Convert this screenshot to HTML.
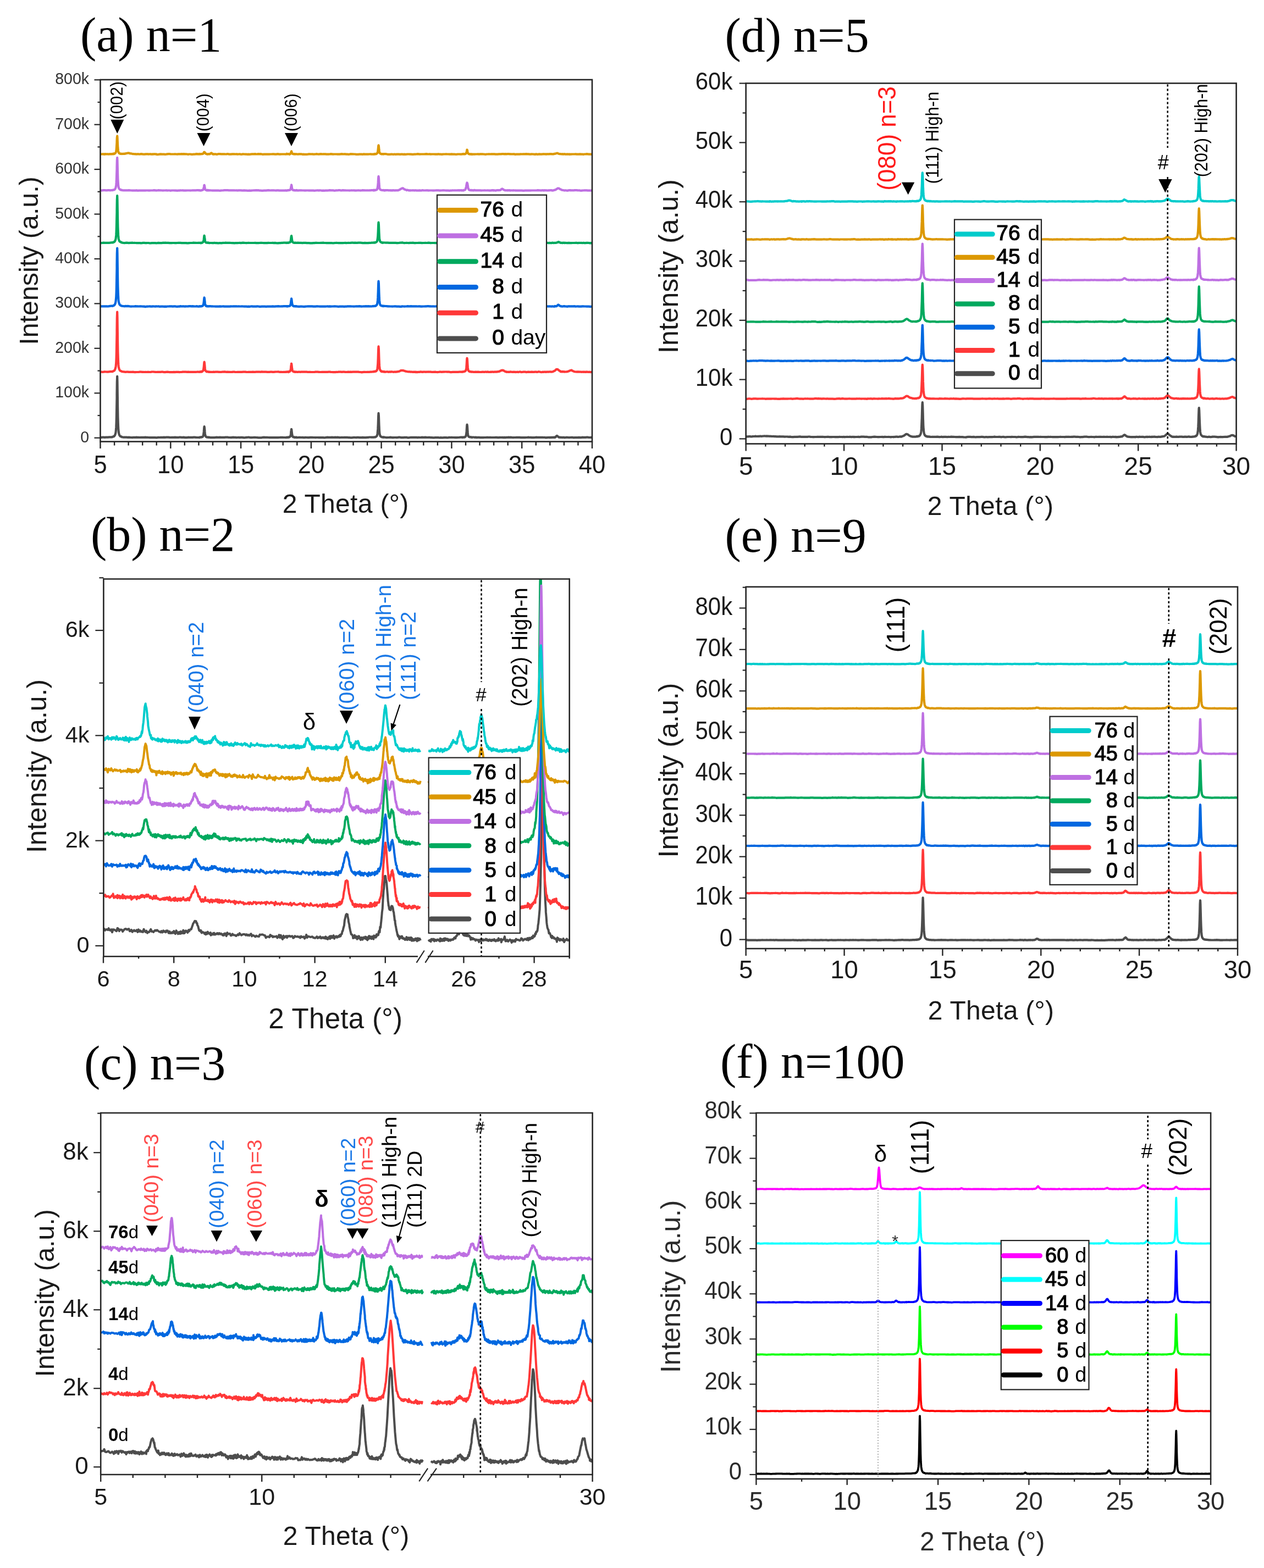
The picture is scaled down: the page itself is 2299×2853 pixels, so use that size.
<!DOCTYPE html>
<html><head><meta charset="utf-8"><title>XRD</title>
<style>html,body{margin:0;padding:0;background:#fff;}svg{display:block;}</style>
</head><body>
<svg xmlns="http://www.w3.org/2000/svg" width="2299" height="2853" viewBox="0 0 2299 2853" font-family="'Liberation Sans', Arial, sans-serif">
<rect width="2299" height="2853" fill="#fff"/>
<clipPath id="ca"><rect x="182.5" y="145" width="894.5" height="658.5"/></clipPath>
<text x="146" y="93" font-size="88" font-family="'Liberation Serif', 'Times New Roman', serif">(a) n=1</text>
<path d="M182.5 795.8l2 0 2-.1 2 0 2 .2 2-.3 2 0 2 0 2-.2 2 0 2-.1 1.1 .2 .3-.2 .3-.1 .3 0 0-.3 .4-.1 .3 0 .3-.1 .3-.3 .3-.1 .4-.3 .3 .2 .3 0 .3 0 .3-.5 .4-.5 .3-.4 .1 0 .2-.4 .3-.5 .3-.8 .4-1.1 .3-.7 .3-1.7 .2-.8 .1-1.2 .3-3.1 .4-5.1 .3-7.7 .3-11.8 .3-17.3 .3-16.7 0-5.9 .3-22.9 .4-10.2 .3 10.3 .3 22.5 .3 22.7 .3 17.4 .4 11.9 .3 7.8 .3 4.8 .3 3.1 .3 2.2 .4 1.4 0 .5 .3 1 .3 .9 .3 .5 .3 .4 .4 .5 .3 .4 .1 .3 .2 .1 .3 .3 .3 .1 .4 .2 .3 0 .3 0 .2 .3 .1-.1 .3 .1 .4 .3 .3 .4 .3-.1 .3 0 .3 .1 2 .4 2 .1 2-.1 2 0 2 .3 2-.2 2 .1 2 .2 2 .1 2-.2 2 0 2 0 2-.2 2 .2 2-.1 2 .2 2-.2 2 0 2 0 2 .1 2-.3 2 .3 2 0 2 .1 1.9 .2 2-.1 2 0 2 0 2 0 2 .1 2 .1 2-.2 2-.2 2 .1 2-.2 2 .1 2 0 2-.3 2 .2 2-.1 2 0 2-.1 2 .2 2 .2 2-.2 2 0 2 0 2-.1 2 .2 2-.1 2 .2 2-.3 2-.1 2 .3 1.9 0 2-.3 2 .5 2 .1 2-.1 2-.4 2 .2 2 0 2 0 2 0 2-.3 2 0 2 .2 2 .2 2 0 1.8 0 .2-.1 .2 0 .3 .3 .3-.2 .3-.3 .3 .1 .4-.1 .2-.2 .1-.1 .3 .3 .3-.1 .3 0 .4-.2 .3 .3 .3-.2 .3-.1 .3-.3 .4-.1 .3 .2 .3-.2 .3 0 .1 0 .2-.1 .3-.3 .4-.5 .3-.4 .3-.9 .3-1.7 .2-.9 .1-.9 .4-3.4 .3-4 .3-4.1 .3-1.7 .3 1.7 .3 3.2 .1 .9 .3 4.1 .3 3 .3 2.2 .3 1.4 .4 .7 .3 .7 .3 .3 .3 .5 .3-.2 .4 .6 .3 .1 .3 .3 .1 0 .2 0 .3-.1 .4 0 .3 .2 .3 0 .3-.2 .2 .1 .1 .1 .4 .1 .3 0 .3 .1 .3-.4 .3 .2 .3 .3 0 0 .4-.1 .3-.2 .3 0 1 .4 2-.1 2 .1 2-.1 2 .1 1.9-.2 2-.2 2 .1 2 .1 2-.3 2 .2 2 .1 2 0 2 0 2-.2 2 0 2 0 2 .3 2 0 2 .1 2-.3 2-.1 2 .2 2 0 2 .2 2-.1 2-.1 2 .2 2-.2 2 0 2 .2 2 .2 2-.2 2-.3 2 0 1.9-.3 2 .4 2 .3 2 0 2-.2 2-.2 2 0 2 .2 2 .1 2 .2 2 .1 2-.1 2 0 2-.5 2-.1 2 .2 2-.1 2 .1 2 .1 2 .1 2 0 2 0 2-.1 2 .1 2 .1 2-.2 2 .1 2 0 2-.1 2-.1 1.9-.1 2 0 2 .2 2 0 2 .1 .6-.1 .3-.2 .3 .1 .4-.3 .3 .2 .1 .3 .2-.3 .3-.1 .3-.2 .3 .1 .4 0 .3 .1 .2 .1 .1-.1 .3 .2 .3 0 .4-.2 .3 0 .3-.3 .3-.3 .3-.1 .4 .3 .3-.3 .3-.3 .3-.2 .3-.4 .1 0 .3-.3 .3-1.2 .3-1.8 .3-2.4 .3-3.1 .4-3.1 .1-1 .2-.3 .3 1.6 .3 3.1 .3 3 .4 2.4 .3 1.4 .2 1.1 .1 .2 .3 .9 .3 .2 .4 0 .3 .5 .3 0 .3 0 .3-.2 .3-.1 .4 .4 .3 .2 .3 0 .3 .3 .1-.1 .2 .1 .4-.2 .3-.1 .3-.1 .3 .3 .3 0 .2 0 .2 .1 .3 0 .3 0 .3-.4 .3 .3 .4 .2 .2 .1 2-.1 2-.1 2-.1 2 .2 2-.1 2 .2 2 0 2-.2 2 .1 2 .2 2-.1 2-.3 2 .1 2 0 1.9 .1 2 0 2 .1 2-.1 2 0 2 .2 2 0 2-.1 2 0 2 .1 2 .1 2-.1 2-.3 2-.2 2 .1 2 .1 2-.1 2-.1 2 .1 2 0 2-.1 2 .1 2-.1 2 .2 2 .2 2-.1 2-.2 2 .2 2-.1 2 0 2 0 1.9-.1 2 .4 2 0 2 .1 2 0 2-.1 2-.4 2 .2 2 .1 2-.3 2 0 2 .3 2 0 2 .1 2-.3 2 .2 2-.1 2 .1 2-.3 2 0 2-.3 2 0 2 .1 2 0 1.2-.1 .4 0 .3 .1 .1 0 .2-.2 .3 .1 .3 .2 .4-.2 .3-.2 .3 .2 .2 0 .1-.4 .3 0 .4-.1 .3 .4 .3-.3 .3-.4 .3 .1 0 .1 .4-.5 .3-.2 .3-.3 .3-.1 .3-.4 .4-.8 .3-.8 .3-1.2 .3-2.1 .3-3.2 .4-4.4 .3-6.8 .1-1.8 .2-7 .3-9 .3-4.4 .4 4.4 .3 8.7 .3 8.8 .2 3.9 .1 3.1 .3 5.2 .3 2.8 .4 1.6 .3 1.3 .3 1 .2 .3 .1 .4 .3 .5 .4 0 .3 .4 .3 .3 .3 .2 .3 .1 .4 .2 .3 0 .3 .2 .3-.1 .3 .3 .4 .1 0 0 .3 0 .3 0 .3-.1 .3-.1 .4 .2 .3-.3 .1 .4 .2 .1 .3-.4 1.5 .3 2 .3 2 .2 2-.2 2 0 2-.3 2 .2 2 .2 2 0 2-.1 2 0 2 .1 2-.2 2-.3 2 .1 2 .4 2 .1 2-.1 2-.3 2 .1 2-.1 2 .6 2-.1 2-.3 2-.2 1.9 .1 2-.1 2 0 2 0 2 .1 2 .2 2-.2 2 .1 2 0 2-.3 2 .1 2 .1 2-.2 2 .1 2 .2 2-.1 2 0 2 .2 2 .1 2 .1 2 0 2-.1 2-.1 2-.1 2 .2 2 .3 2-.3 2 .1 2 0 2-.1 1.9 0 2-.1 2 .2 2-.1 2-.3 2 .1 2-.2 2 .2 2 0 2 .1 2 .1 2-.1 2-.1 2-.2 2-.3 2 .1 .6-.2 .3 .3 .3-.1 .3 .3 .3-.1 .2-.2 .2 0 .3 0 .3 .2 .3 0 .3-.1 .4-.2 .2 0 .1-.1 .3 .2 .3 0 .3-.3 .3 0 .4 0 .3 .3 .3-.6 .3-.3 .3 .1 .4-.4 .3-.4 .3-.6 .1-.4 .2-.7 .3-1.6 .4-2.6 .3-3.4 .3-4.8 .3-5 .2-1.5 .1-.8 .4 2.3 .3 4.4 .3 4.9 .3 3.8 .3 2.3 .3 1.6 .1 .3 .3 1 .3 .9 .3 .4 .3 .3 .4 .1 .3 0 .3 .1 .3 .2 .3 0 .4 .2 .3 0 .3-.2 .1 0 .2 .2 .3 .1 .4-.2 .3 .3 .3-.1 .3 .1 .2-.2 .1-.1 .3 .2 .4 .3 .3 .2 .3-.2 .3-.1 .3-.2 2 0 2 .3 2-.2 2 .5 1.9-.3 2 0 2 .3 2 .1 2-.2 2 .1 2-.1 2 0 2-.1 2-.1 2 .2 2-.2 2 .2 2 0 2 0 2 0 2-.1 2 0 2 .3 2-.1 2-.2 2 .1 2-.1 2 .2 2-.2 2 .2 2-.3 2 0 2-.2 2 .2 1.9-.1 2 .3 2 .1 2-.1 2 0 2-.1 2-.1 2 .1 2 0 2 .3 2 0 2-.1 2 0 2 0 2-.1 2-.1 2-.2 2 .3 2-.1 2 .2 2 0 2 .1 2-.2 2-.3 2 .1 2 0 2 0 2 0 2 0 2 .1 1.9 .1 2-.1 2 .6 .8-.3 .7 0 .5 0 .1-.1 .7-.1 .6 .1 .6-.2 .7 .1 .6 0 .7 .1 0-.2 .6 0 .6 .3 .7-.1 .1-.1 .5-.1 .6 .1 .7-.1 .2 .2 .4-.2 .7 0 .6 0 .3 0 .3-.1 .7-.1 .6 0 .4 .2 .3 0 .6 .2 .6-.4 .5-.2 .2 .4 .6-.2 .7-.4 .5-.5 .1-.5 .6-.7 .7-.6 .6-.1 .6 .5 .7 .5 .6 .4 .1 .2 .6 .7 .6 .4 .6 .2 .2-.1 .5-.1 .6 .1 .7 .1 .2-.1 .4 .3 .6 0 .7-.2 .3 .2 .3-.1 .7 .2 .6-.2 .4-.1 .2 .1 .7 .2 .6-.3 .5 0 .1 .2 .7-.1 .6 .2 .6 .2 .1 0 .6-.3 .6 0 .7 0 .6-.1 .7 0 .6 .1 .1-.2 .5 0 .7 0 .8 .2 2 .2 2-.2 2-.1 2 0 2 .4 2-.1 1.9-.1 2 0 2 0 2-.3 2 .3 2 0 2-.4 2 .1 2 0 2 .1 2-.2 2 0 2 .3 2 0 2-.1 2 0" fill="none" stroke="#4d4d4d" stroke-width="4.2" stroke-linejoin="round" clip-path="url(#ca)"/>
<path d="M182.5 676.5l2 .2 2 .1 2-.1 2-.3 2 .1 2 .1 2 .1 2-.3 2-.3 2 0 1.1 0 .3 .1 .3 0 .3-.3 0-.1 .4 .3 .3-.3 .3-.3 .3-.3 .3 0 .4-.1 .3-.2 .3-.1 .3-.2 .3-.2 .4-.2 .3-.4 .1-.4 .2-.2 .3-.7 .3-.6 .4-1 .3-1 .3-1.5 .2-.8 .1-.6 .3-3.3 .4-4.7 .3-7.9 .3-11.8 .3-16.9 .3-16.4 0-5.8 .3-22.2 .4-10.3 .3 10.3 .3 22.1 .3 22.4 .3 17 .4 11.8 .3 7.5 .3 4.9 .3 2.8 .3 2.2 .4 1.4 0 .5 .3 .7 .3 .8 .3 .5 .3 .7 .4 .5 .3 .5 .1 0 .2 .2 .3 .2 .3 .2 .4 .2 .3 .1 .3 .1 .2-.1 .1 .1 .3 .3 .4 .3 .3 .1 .3 .1 .3 0 .3 .1 2 .2 2 .2 2 .2 2-.1 2-.1 2 .3 2-.1 2 .1 2 0 2-.2 2 .4 2 .1 2-.2 2 0 2-.1 2-.2 2 0 2 .1 2 .1 2 .1 2-.1 2 .1 2-.2 2 .1 1.9 .1 2-.1 2-.4 2 0 2 .2 2 .1 2 .2 2-.2 2 0 2 .1 2-.1 2-.3 2 .2 2 .4 2 0 2-.3 2-.1 2 .1 2 .4 2-.1 2-.1 2 .1 2-.2 2 .2 2-.2 2-.1 2 .1 2 .2 2-.1 2 0 1.9-.4 2 0 2 0 2 0 2 .2 2-.1 2 .2 2-.1 2 0 2 0 2 0 2 .1 2-.1 2-.1 2-.2 1.8 .3 .2 .1 .2-.1 .3-.2 .3-.2 .3 .2 .3 0 .4 .3 .2-.1 .1-.2 .3-.4 .3 .4 .3-.1 .4-.2 .3 .1 .3-.3 .3 .6 .3-.1 .4-.1 .3-.3 .3-.5 .3 0 .1-.2 .2 .1 .3-.5 .4-.3 .3-.2 .3-.5 .3-1.6 .2-1.1 .1-.8 .4-2.7 .3-3.8 .3-3.8 .3-1.7 .3 1.6 .3 2.7 .1 1.3 .3 3.7 .3 3.1 .3 1.7 .3 1.2 .4 .6 .3 .5 .3 .2 .3 .1 .3 .5 .4 .4 .3 .1 .3 .2 .1-.1 .2-.1 .3 0 .4 0 .3-.1 .3-.1 .3 0 .2 .2 .1 .2 .4-.1 .3 .3 .3 0 .3 0 .3 .2 .3-.3 0-.3 .4 .3 .3-.1 .3 .3 1 0 2 .1 2 .1 2-.4 2 .2 1.9-.1 2-.1 2 0 2 .2 2 .1 2 .1 2-.3 2-.1 2-.2 2 .2 2 .2 2-.1 2 .1 2 0 2 .2 2-.2 2-.2 2 0 2 .4 2 0 2-.1 2 0 2 0 2 0 2-.1 2-.1 2-.1 2 0 2 .3 2 .1 1.9-.1 2-.1 2 0 2 .1 2-.2 2 .1 2 0 2-.1 2-.1 2 0 2-.1 2 .3 2-.4 2 .2 2 0 2 0 2 .1 2 .2 2 0 2-.1 2-.1 2 0 2 .2 2-.1 2-.2 2-.1 2 0 2-.1 2 .4 2 0 1.9 0 2 .2 2-.2 2 0 2 .1 .6-.4 .3-.1 .3 0 .4 .3 .3 .1 .1-.2 .2 .2 .3-.2 .3 0 .3-.1 .4 0 .3-.3 .2 0 .1 0 .3 .2 .3 .3 .4 .3 .3-.4 .3-.4 .3-.1 .3-.2 .4 .3 .3-.1 .3-.5 .3-.1 .3-.4 .1-.4 .3-.6 .3-.9 .3-1.6 .3-2.3 .3-3.1 .4-3 .1-1.1 .2-.5 .3 1.7 .3 3.1 .3 3 .4 2.1 .3 1.7 .2 1 .1 0 .3 .9 .3 .3 .4 .3 .3 .2 .3 .2 .3 .2 .3 0 .3 .3 .4-.2 .3-.1 .3 .2 .3-.1 .1 0 .2 .2 .4 .2 .3-.4 .3 .2 .3 .3 .3 0 .2-.1 .2-.2 .3 0 .3-.1 .3 0 .3 .1 .4 0 .2 .2 2 0 2-.3 2 .3 2-.2 2 0 2 .1 2 0 2-.1 2 0 2 .4 2-.2 2 0 2 .2 2 0 1.9 0 2 0 2-.4 2 0 2 .1 2 .1 2 .2 2 0 2-.2 2 0 2 0 2 0 2 .1 2-.1 2-.1 2-.1 2 .3 2 .1 2 .1 2 0 2 0 2-.2 2 .1 2-.3 2 0 2-.1 2 .2 2-.1 2 0 2 .1 2 .2 1.9-.2 2-.2 2 .2 2-.2 2 .2 2-.1 2 0 2-.2 2 .2 2 0 2-.1 2 .4 2 0 2 .4 2-.3 2-.2 2-.1 2 .2 2-.1 2-.1 2 0 2-.2 2 0 2-.2 1.2-.2 .4 .2 .3 .1 .1 0 .2-.2 .3-.3 .3 .2 .4 0 .3-.3 .3 .1 .2-.2 .1 .1 .3 .1 .4 0 .1 0 .2-.1 .3-.3 .3-.1 .3-.1 0-.1 .4 0 .2-.1 .1 .1 .3-.8 .3-.2 .3-.4 .4-.3 .3-.9 .3-1.6 .3-1.9 .3-3.3 .4-4.8 .3-7.4 .1-2.1 0-.8 .2-6.4 .3-9.4 .3-4.6 .4 4.6 .3 9.5 .2 6.4 .1 2.7 .2 4.1 .1 3.4 .3 4.9 .3 3.2 .4 2.2 .3 1 .3 .8 .2 .2 .1 .2 .3 .5 .4 .4 .3 .3 .1 .5 .2 0 .3 .2 .3 .4 .4 0 .3-.2 .2 .2 .1-.1 .3 .4 .3-.2 .4 0 0-.2 .3 .3 .3-.1 .3 .2 .3 0 .4 0 .3 .2 .1 .2 .2-.1 .1-.2 .2-.1 1.5 .2 0 .4 1.7-.1 .3-.2 1.4 0 .6-.1 1.1 0 .9 .1 .8 .3 1.2-.1 .5-.1 1.5-.2 .2 .2 1.7 0 .1-.2 1.6 0 .4 .1 1.3 .2 .7 .1 1-.1 1-.1 .7 0 1.3-.1 .5 .3 1.5-.4 .2-.1 1.7 0 .1-.1 1.6-.2 .4-.2 1.3-.4 .7-.4 1-.6 1-.4 .7 .2 1.3-.2 .4 0 1.6 .3 .1-.1 1.7 .7 .2-.1 1.5 .5 .5 .3 1.2 .2 .8 0 .9 .2 1.1 .2 .6 .2 1.4 0 .3-.1 1.7 .1 0 .3 1.7 0 .3 0 1.4 0 .5 0 1.2 .2 .8 .1 .9-.4 1.1 .3 .6-.1 1.4-.1 .3 .4 1.7-.2 1.7 .2 .3 0 1.4-.3 .6 0 1.1 .1 .9-.1 .9-.4 1.1 .2 .6 0 1.4-.1 .3 .4 1.7-.1 0-.1 1.7 0 .3-.1 1.4 0 .6 .1 1.1 .1 .9-.1 .8 0 1.2-.2 .5 .2 1.5-.1 .2 .1 1.7-.1 .1 0 1.6 .1 .4-.1 2 .4 2-.1 2-.1 2-.1 2 .3 2 .1 2-.1 2-.3 2 0 2 .1 2-.1 2-.1 1.9-.1 2 0 2 .2 2-.1 2 .1 2 .5 2 0 2-.4 2 0 2 0 2 0 2 .1 2-.1 2-.1 2-.1 2 0 .6 .2 .3 0 .3-.3 .3-.1 .3 0 .2 .2 .2 0 .3 .1 .3-.2 .3-.3 .3 .2 .4 0 .2 0 .1-.2 .3 0 .3-.1 .3-.1 .3 0 .4 0 .3-.3 .3-.3 .3-.4 .3-.1 .4 0 .3-.5 .3-1 .1-.2 .2-.6 .3-1.5 .4-2.6 .3-4 .3-5.2 .3-5.3 .2-1.7 .1-.6 .4 2.3 .3 5.1 .3 5.1 .3 4 .3 2.9 .3 1.4 .1 .3 .3 1 .3 .4 .3 .6 .3 .5 .4 .1 .3 .4 .3 .1 .3 .1 .3 0 .4 0 .3 .4 .3-.2 .1 .2 .2-.1 .3 .1 .4-.1 .3 0 .3 .3 .3 .2 .2-.2 .1-.1 .3 .2 .4-.2 .3 .2 .3-.2 .3 .2 .3 0 2 .2 2 0 2-.3 2 .2 1.9-.2 2 .2 2 .2 1.8 0 .2-.2 1.1 .1 .9 0 .4-.3 1.2 0 .4 .3 .9-.1 1.1 0 .2-.1 1.3-.2 .5 0 .7 .2 1.3 .1 1.3-.1 .7-.3 .6 .4 1.3 .1 .1 .1 1.1 0 .9-.2 .4-.1 1.3 .1 .3 .2 1-.4 1 0 .2 0 1.3 .1 .5 .2 .8-.1 1.2-.3 .1 .1 1.3 0 .6-.2 .6 .2 1.3-.1 .1 .2 1.2-.3 .8 .1 .5-.3 1.2 0 .3-.3 1 0 1-.5 .3-.4 1.3-.5 .4-.1 .9-.5 1.1-.3 .1 .2 1.3 .2 .6-.2 .7 .5 1.3 .9 1.2 .6 .8 .4 .5-.1 1.3 .7 .2-.1 1.1 0 .9 .1 .4 .1 1.2-.1 .4-.2 .9 .2 1.1 0 .2-.3 1.3-.1 .4 .2 .8 .1 1.2 .1 .1 0 1.3 0 .6 .2 .7-.2 1.3-.1 0 .1 1.2 .1 .8 0 .5 .2 1.3-.3 .2 .2 1.1-.1 .9-.2 .3 0 1.3 .4 .4-.1 .9-.2 1.1-.4 .2 .1 1.3 0 .5 .2 .7 .4 1.3-.1 1.3-.1 .7-.2 .6-.1 1.4 0 2 0 2 .6 2-.3 2-.2 2 .2 2 0 2-.3 2 .3 2-.1 2-.2 1.6 .1 .4 .1 .8-.1 1.2 .2 .1 0 1.3-.2 .6-.3 .7-.2 1.3 .3 1.2 .3 .8 .1 .5 .1 1.3 .2 .2-.2 1.1 0 .9-.4 .3 .2 1.3 0 .3 0 1-.1 1-.2 .3 .1 1.3 .3 .4-.2 .8 .1 1.2-.2 .1 .1 1.3-.2 .6 .1 .7 0 1.3 0 0-.1 1.2-.1 .8 0 .5 .2 1.3 .1 .2-.2 1.1 0 .9-.1 .3-.1 1.3-.7 .4 0 .9-.6 1.1-.5 .2-.1 1.3-1 .5-1 .7-.3 1.3-.3 1.3 .2 .7 .8 .6 .4 1.2 1 .2 .1 1.1 .6 .9 .5 .4 .7 1.3 .2 .3 0 1-.1 1 .1 .2-.1 1.3 0 .5 .3 .8-.1 1.2 .2 .1-.2 1.2 .1 .7 0 .6 0 1.3-.2 .1-.1 1.2 0 .8-.3 .5-.2 1.2-.6 .3 0 1-.6 1-.4 .3 0 1.3-.4 .4-.2 .8 .4 1.2 .7 .1 .2 1.3 .4 .6 .4 .7 .3 1.3 .3 1.2 .3 .7 0 .6 0 1.3 .2 .1-.1 1.2-.2 .8 .1 .4 .1 1.3-.2 .3 0 1 .3 1 0 .3 0 1.3-.2 .4 .3 .8 .2 1.2-.2 .1-.1 1.3-.2 .6 .3 .7 0 1.2-.2 .1 .3 1.2 0 .8 0 .5-.3 1.3 .1 .2 .1 1.1-.2 .9 .2 .3 .2 1.3 0 .4-.2 .9-.1 1.1 .2 .2 .1 1.2 .1 .6 0 .7-.2 1.3-.1" fill="none" stroke="#ff3838" stroke-width="4.2" stroke-linejoin="round" clip-path="url(#ca)"/>
<path d="M182.5 557.2l2 .1 2 0 2 0 2 .1 2 0 2-.1 2 .2 2-.3 2-.3 2-.3 1.1-.1 .3 .1 .3 .1 .3 .1 0 .1 .4 0 .3-.2 .3-.1 .3-.1 .3-.4 .4 0 .3-.3 .3-.2 .3 .1 .3-.3 .4-.5 .3-.4 .1 .2 .2-.5 .3-.5 .3-.7 .4-.8 .3-1.1 .3-1.6 .2-1 .1-1 .3-3 .4-4.5 .3-7.1 .3-11.7 .3-16.6 .3-16.1 0-5.7 .3-21.5 .4-9.8 .3 9.8 .3 21.3 .3 21.9 .3 16.6 .4 11.4 .3 7.5 .3 4.5 .3 2.8 .3 2.2 .4 1.5 0 .1 .3 1 .3 .8 .3 .5 .3 .8 .4 .4 .3 .1 .1 .3 .2 .1 .3 .4 .3 0 .4 .4 .3 .2 .3 .2 .2 .1 .1 .1 .3 .1 .4-.1 .3-.1 .3 .3 .3 .1 .3 0 2 .2 2 .3 2-.4 2 .3 2-.3 2 .3 2 .3 2 .2 2-.2 2 0 2 0 2-.4 2 .3 2 0 2 .1 2-.2 2 .1 2 .1 2 .2 2-.1 2 .5 2-.4 2-.1 2-.1 1.9-.1 2 .3 2 0 2-.3 2 .1 2 .2 2-.3 2 .1 2-.1 2 .4 2-.1 2-.1 2-.1 2 .3 2-.2 2 .3 2-.4 2 0 2-.1 2 0 2 0 2 .2 2-.2 2-.1 2 .3 2 .2 2-.3 2 .1 2-.5 2 .4 1.9-.2 2 0 2 .4 2-.3 2 .1 2-.2 2-.2 2 0 2 .3 2-.2 2 .1 2 .2 2-.1 2-.2 2 .4 1.8-.1 .2 .1 .2-.2 .3 .2 .3-.3 .3-.3 .3 .1 .4 .1 .2 .1 .1-.1 .3 .1 .3 .2 .3-.2 .4-.3 .3 0 .3 .2 .3 .1 .3-.2 .4-.3 .3 0 .3 .1 .3-.3 .1 .2 .2-.2 .3-.2 .4-.4 .3-.3 .3-.7 .3-1.4 .2-.6 .1-1 .4-2.3 .3-3.3 .3-3.4 .3-1.5 .3 1.4 .3 2.3 .1 1 .3 3.4 .3 2.5 .3 1.7 .3 1 .4 .8 .3 .5 .3 .4 .3 .2 .3 .4 .4-.3 .3 .1 .3 .2 .1 .1 .2-.3 .3-.1 .4 .2 .3 .3 .3 .1 .3-.3 .2 .1 .1 .2 .4 0 .3-.2 .3 0 .3-.1 .3 .3 .3-.1 0 0 .4-.1 .3 .1 .3-.1 1 0 2 .1 2 .1 2 .1 2 0 1.9 .2 2-.1 2 0 2 0 2-.2 2 .2 2-.1 2-.2 2 .3 2 0 2-.1 2 .1 2 .1 2 0 2-.3 2 .1 2-.2 2 0 2 0 2 0 2 .2 2-.1 2 .1 2 0 2-.1 2 .1 2 .1 2 .1 2-.1 2 .2 1.9-.1 2 .1 2-.3 2-.2 2 .3 2-.1 2 .1 2 .1 2-.3 2 .1 2 .3 2 0 2-.1 2 0 2-.1 2 .1 2 .1 2-.2 2 0 2 0 2 .1 2 0 2-.3 2 .3 2 0 2-.3 2 0 2-.2 2 .1 2 .2 1.9-.2 2 0 2-.1 2 0 2 0 .6-.1 .3 .2 .3 0 .4-.1 .3 .2 .1-.1 .2 .2 .3-.3 .3 .3 .3-.2 .4-.1 .3 .1 .2-.2 .1-.1 .3 .1 .3 0 .4 .1 .3-.1 .3 0 .3-.1 .3 0 .4-.2 .3 0 .3-.1 .3-.7 .3-.6 .1 .3 .3-.5 .3-1 .3-1.5 .3-2.2 .3-2.5 .4-3.1 .1-1 .2-.4 .3 1.2 .3 2.8 .3 2.9 .4 2.2 .3 1.6 .2 .5 .1 .1 .3 1.1 .3 .3 .4 .4 .3 0 .3 .1 .3 .5 .3-.3 .3 0 .4 .2 .3 .1 .3-.2 .3 .1 .1 .2 .2-.2 .4 0 .3 .2 .3 .3 .3-.5 .3 0 .2 .2 .2-.1 .3-.1 .3 .1 .3 .2 .3-.2 .4 .3 .2 .1 2 0 2 .2 2-.2 2-.1 2 .2 2 .1 2 0 2-.2 2-.1 2-.2 2 0 2 0 2 0 2 .1 1.9 .2 2 .1 2-.1 2-.2 2 0 2 .1 2 .1 2 0 2 .1 2-.2 2 .1 2 .1 2-.2 2-.1 2 .2 2-.2 2 .2 2-.1 2 0 2-.1 2 0 2 .1 2 .2 2 .1 2-.1 2-.1 2 .1 2-.2 2 .3 2-.1 2 0 1.9-.3 2-.1 2 0 2 0 2 .2 2 0 2 .1 2-.1 2-.2 2 .1 2 0 2-.2 2 .1 2 .3 2-.1 2-.2 2 0 2-.1 2 .1 2-.1 2 .1 2 0 2 .2 2-.3 1.2-.4 .4 .4 .3 0 .1-.1 .2 .1 .3-.2 .3-.1 .4 .1 .3-.1 .3 0 .2 0 .1 0 .3-.2 .4 0 .3 .1 .3 0 .3-.4 .3 0 0-.4 .4-.3 .3 0 .3-.2 .3-.2 .3-.8 .4-.4 .3-1 .3-1.3 .3-1.9 .3-3 .4-5.2 .3-7.5 .1-2.1 .2-7.1 .3-9.1 .3-4.3 .4 4.2 .3 9.3 .3 9.3 .2 4.1 .1 3 .3 5 .3 3.2 .4 2.2 .3 1.3 .3 .8 .2 .6 .1 .4 .3 .4 .4 0 .3 .3 .3 .4 .3-.1 .3 .1 .4 .2 .3 .3 .3-.1 .3 .2 .3 .1 .4 .1 0-.2 .3-.2 .3-.1 .3 .4 .3 .3 .4 .1 .3-.3 .1-.1 .2 .1 .3 0 1.5 0 2 .1 2 .1 2 .2 2 .1 2 .1 2 0 2 .1 2-.1 2-.1 2 0 2 .2 2-.1 2 .1 2 .2 2 .1 2-.5 2 .1 2 .1 2-.1 2-.1 2-.2 2 .1 2 .1 2-.2 1.9 .1 2 0 2 .1 2-.1 2 .1 2 .1 2-.1 2-.1 2 .3 2 0 2-.1 2 0 2-.2 2 0 2-.3 2 .2 2 .2 2 0 2 .1 2-.1 2 .1 2 0 2-.2 2 .4 2-.2 2-.2 2 .1 2 .1 2 .1 2-.1 1.9 .1 2 .1 2 0 2-.3 2 .3 2-.1 2-.4 2 .3 2 0 2 0 2 .3 2-.2 2-.2 2-.1 2 .1 2 .1 .6 0 .3 0 .3-.4 .3 .2 .3 .2 .2-.1 .2-.1 .3-.1 .3 .1 .3-.2 .3 .4 .4-.1 .2-.1 .1-.2 .3 .2 .3 .1 .3-.2 .3 0 .4 0 .3 .1 .3-.1 .3 .1 .3-.5 .4 .3 .3-.4 .3-.5 .1-.2 .2-.2 .3-.5 .4-.8 .3-1.6 .3-2.3 .3-2.2 .2-.7 .1-.3 .4 1 .3 1.9 .3 2.3 .3 1.6 .3 1.1 .3 .5 .1-.1 .3 .6 .3 .2 .3 .5 .3 .2 .4-.2 .3-.1 .3 .1 .3 .1 .3 .2 .4 0 .3 .1 .3-.1 .1 0 .2 .2 .3-.1 .4 .3 .3-.2 .3 0 .3 0 .2 .1 .1 .2 .3-.3 .4-.1 .3-.1 .3 .3 .3 0 .3 0 2 0 2-.3 2 .2 2 0 1.9 0 2 0 2 0 2 0 2-.1 2 0 2 .2 2-.4 2 .3 2 .1 2-.2 2 .1 2 .1 2-.1 2 .2 2-.1 2 0 2-.3 2 .4 2 0 2-.1 2-.1 2 .3 2-.2 2 .2 2 0 2 0 2 0 2 0 2-.2 1.9-.3 2-.3 2 .4 2-.3 2 .4 2 .5 2-.5 2 .1 2 0 2-.1 2-.3 2 .1 2 .4 2-.1 2-.1 2 0 2 0 2 .1 2 .3 2-.3 2-.3 2 .2 2-.1 2 0 2-.2 2 .1 2 .1 2 .1 2-.1 2-.2 1.9 .2 2 .1 2-.3 2 .1 1.4 .2 .6 0 .7-.1 .6 .2 .7-.2 0-.1 .6 .2 .6 0 .7-.1 .1 .1 .5 0 .6 .1 .7 .1 .2-.1 .4-.1 .7-.1 .6 0 .3 0 .3 .1 .7 .1 .6 0 .4-.1 .3 0 .6 .2 .6 .1 .5-.3 .2-.5 .6 .3 .7-.3 .5 .1 .1 .1 .6 .1 .7-.3 .6-.4 .6-.7 .7-.5 .6-.8 .1 .1 .6-.1 .6 .4 .6 .4 .2 .2 .5 .5 .6 .5 .7 .2 .2 0 .4 .2 .6 .3 .7 .2 .3-.2 .3 .1 .7 .1 .6 .1 .4-.1 .2 0 .7-.1 .6 0 .5 0 .1-.2 .7 0 .6-.2 .6 .3 .1 .2 .6-.1 .6 .1 .7 0 .6 0 .7 .2 .6-.1 .1 0 .5-.1 .7 .3 .6-.4 .2 .1 .5-.2 .6 0 .6-.1 .3 .3 2-.2 2 0 2 0 2 0 2-.1 1.9 .4 2-.1 2-.1 2 .2 2 0 2 .1 2-.3 2 0 2 .1 2 0 2 .1 2 .1 2 0 2 .1 2 0 2-.3" fill="none" stroke="#0068e0" stroke-width="4.2" stroke-linejoin="round" clip-path="url(#ca)"/>
<path d="M182.5 441.9l2 .2 2-.2 2-.3 2 .2 2 .1 2 0 2 0 2-.1 2-.2 2-.2 1.1-.1 .3-.1 .3 .2 .3 0 0-.3 .4 .1 .3-.1 .3 .1 .3 .1 .3-.2 .4-.5 .3 0 .3-.4 .3 .2 .3-.4 .4-.2 .3 0 .1-.5 .2-.2 .3-.5 .3-.5 .4-.7 .3-.7 .3-1.2 .2-.7 .1-.8 .3-2.7 .4-3.4 .3-6.1 .3-9.5 .3-13.5 .3-12.6 0-4.5 .3-17.6 .4-8.1 .3 8.1 .3 17.7 .3 17.3 .3 13.6 .4 9.1 .3 5.9 .3 3.9 .3 2.5 .3 1.5 .4 1.2 0 .2 .3 .7 .3 .8 .3 .5 .3 .4 .4 .2 .3 .2 .1-.2 .2 .4 .3 .2 .3 .3 .4-.1 .3 .1 .3 .2 .2-.1 .1 .3 .3 .3 .4-.2 .3 .2 .3 .3 .3-.2 .3 .2 2 .4 2 .2 2-.3 2-.1 2 .1 2 .3 2-.3 2 0 2-.1 2 .3 2-.1 2 .1 2 .1 2 .1 2 0 2-.1 2 .2 2-.1 2-.3 2 0 2 .2 2 0 2-.1 2 0 1.9 .5 2-.2 2-.1 2 0 2-.1 2 .1 2 .1 2-.1 2-.3 2 .3 2 0 2-.1 2-.4 2 .1 2-.1 2 .2 2 0 2-.1 2 .3 2 0 2 .1 2-.2 2 0 2 .2 2 0 2-.2 2-.1 2 0 2 0 2 .2 1.9 0 2 .1 2 0 2-.1 2 .2 2 0 2-.2 2-.1 2 0 2-.1 2-.2 2 .2 2 0 2 .1 2-.1 1.8 0 .2 .1 .2-.1 .3 0 .3-.1 .3 0 .3 .2 .4 0 .2-.1 .1-.1 .3 .1 .3 .3 .3-.5 .4 .2 .3-.1 .3 .1 .3 .1 .3-.4 .4 .3 .3-.3 .3-.2 .3 0 .1 0 .2-.1 .3-.3 .4-.4 .3-.2 .3-.7 .3-.6 .2-.7 .1-.6 .4-2.3 .3-3 .3-2.8 .3-1 .3 1.2 .3 2.2 .1 .5 .3 2.6 .3 2.2 .3 1.4 .3 1.1 .4 .7 .3 .3 .3 0 .3 .1 .3 .6 .4-.1 .3 .1 .3 .1 .1-.1 .2 0 .3 0 .4 0 .3-.2 .3 .5 .3-.1 .2-.2 .1 .2 .4 .1 .3-.2 .3 0 .3 .3 .3 .1 .3 0 0 0 .4-.1 .3-.1 .3 .3 1-.2 2 0 2 .1 2 0 2-.3 1.9 .4 2-.1 2 .2 2 0 2-.3 2 .3 2-.2 2-.2 2 .1 2-.3 2 .2 2 0 2 0 2-.1 2 .2 2 .1 2 .1 2 .2 2-.2 2 0 2-.1 2-.1 2-.1 2 .2 2-.2 2-.2 2 .1 2 .2 2 .2 2-.2 1.9-.1 2 .1 2 0 2 0 2 0 2 0 2-.1 2 .2 2 0 2 .1 2-.2 2-.2 2 .1 2 .1 2 .2 2 0 2-.1 2 0 2-.2 2 .1 2 0 2 0 2-.2 2 .3 2-.2 2 .3 2 .1 2 .1 2-.3 2 0 1.9-.2 2 0 2-.2 2 0 2 0 .6 .3 .3 .1 .3-.1 .4-.1 .3-.2 .1-.1 .2-.1 .3 .1 .3 .2 .3-.1 .4 .1 .3-.2 .2 0 .1 0 .3 .2 .3-.1 .4 .1 .3-.2 .3-.2 .3-.3 .3 .1 .4-.1 .3 .1 .3-.1 .3-.5 .3-.1 .1-.1 .3-.9 .3-.9 .3-1.2 .3-2.2 .3-2.6 .4-2.4 .1-.8 .2-.3 .3 1.3 .3 2.4 .3 3.1 .4 1.9 .3 1.6 .2 .5 .1 .1 .3 .6 .3 .2 .4 .3 .3 .2 .3 .2 .3 .1 .3 0 .3 .1 .4 .2 .3-.1 .3 .1 .3 0 .1-.4 .2 0 .4 0 .3 0 .3 .1 .3-.1 .3 .2 .2 0 .2 .3 .3 0 .3-.2 .3 0 .3 .1 .4-.1 .2 0 2-.1 2 .1 2 .1 2 0 2 .2 2-.3 2 0 2 0 2 .3 2 .1 2 0 2 .1 2 .1 2-.1 1.9-.2 2 0 2-.2 2 0 2 .1 2 0 2 0 2-.1 2-.1 2-.1 2 .3 2 0 2 .1 2 0 2-.1 2 .1 2-.1 2 .2 2 .1 2-.1 2-.2 2-.1 2 .1 2 .2 2-.1 2-.1 2 .1 2 0 2-.1 2-.2 2 .3 1.9-.1 2-.1 2 .1 2-.2 2-.2 2 0 2 .2 2-.1 2 .2 2-.1 2-.2 2 .1 2 0 2 .1 2 .3 2 0 2-.2 2 .2 2-.1 2 .1 2-.3 2 .2 2-.3 2-.1 1.2 .1 .4-.2 .3-.1 .1 .1 .2 0 .3-.2 .3 .3 .4-.2 .3 0 .3 0 .2 0 .1 .2 .3-.5 .4 .1 .3 .1 .3-.1 .3-.1 .3-.3 0 .1 .4-.2 .3-.1 .3-.4 .3-.3 .3-.3 .4-.7 .3-.4 .3-1 .3-1.8 .3-2.5 .4-3.9 .3-5.9 .1-1.8 .2-5.7 .3-7.7 .3-3.6 .4 3.8 .3 7.8 .3 7.7 .2 3.3 .1 2.6 .3 3.6 .3 2.4 .4 1.8 .3 .9 .3 .7 .2 .4 .1 .2 .3 .1 .4 .4 .3 .3 .3-.1 .3 .5 .3 .2 .4-.1 .3 .4 .3 0 .3 .1 .3 .2 .4-.5 0 .1 .3 .2 .3 .2 .3-.1 .3 0 .4-.1 .3 0 .1-.1 .2-.2 .3 .1 1.5 .1 2 .1 2 .1 2 0 2 .2 2 0 2 0 2-.1 2 .1 2 0 2 0 2 .3 2-.1 2-.1 2-.3 2-.1 2-.2 2 .4 2 .3 2-.1 2-.1 2 .1 2 .1 2-.3 2 0 1.9 .1 2-.2 2 .4 2 .1 2-.2 2 0 2-.1 2 0 2 0 2 .2 2-.1 2 0 2-.1 2 .1 2-.1 2-.2 2 .1 2 .3 2-.1 2 0 2 0 2 .2 2 0 2-.3 2 .3 2-.1 2-.2 2 0 2 0 2 .2 1.9-.1 2-.1 2 .2 2 .2 2-.2 2 0 2 0 2-.1 2-.1 2 .2 2-.2 2-.3 2 .3 2 .2 2 .1 2-.3 .6 0 .3-.2 .3 .1 .3-.3 .3 .1 .2 .3 .2-.1 .3 .3 .3-.1 .3-.3 .3 .2 .4-.2 .2 .2 .1-.1 .3 0 .3 0 .3-.2 .3-.1 .4 .1 .3 .3 .3-.2 .3-.1 .3 0 .4 0 .3-.3 .3-.2 .1-.3 .2 .2 .3-.9 .4-.8 .3-1.3 .3-1.6 .3-1.7 .2-.6 .1 0 .4 .8 .3 1.6 .3 1.5 .3 1.3 .3 .8 .3 .5 .1 .2 .3 .4 .3-.1 .3 .2 .3 0 .4 .3 .3 0 .3 .1 .3 0 .3 .2 .4 .2 .3-.1 .3-.3 .1 .1 .2 .3 .3-.2 .4 0 .3 .4 .3 0 .3-.1 .2-.1 .1-.3 .3 .3 .4 .1 .3-.4 .3 .1 .3 0 .3 0 2-.1 2 .5 2-.3 2 .2 1.9 0 2-.1 2 0 2 .1 2-.2 2-.1 2 .2 2 .1 2 0 2-.3 2-.2 2 .4 2 .2 2-.1 2 0 2-.2 2 .1 2 .1 2 0 2-.2 2 .1 2-.1 2 0 2-.2 2-.2 2 0 2 .2 2 0 2 .2 2-.1 1.9 .1 2-.1 2 .3 2-.2 2 0 2 .2 2 .1 2-.3 2 .2 2-.2 2-.2 2 0 2 .3 2-.2 2 .1 2 .1 2-.1 2 .1 2 .3 2 0 2-.3 2 0 2-.1 2 0 2-.1 2 .1 2-.1 2-.1 2 .1 2 .1 1.9 .2 2 0 2-.2 2-.2 1.4 .2 .6 0 .7 .1 .6 .2 .7-.5 0 0 .6 .2 .6-.2 .7 .4 .1-.1 .5 0 .6-.1 .7 .1 .2 0 .4 0 .7-.3 .6-.2 .3 .2 .3 .2 .7-.1 .6 0 .4 .2 .3 0 .6-.2 .6 0 .5 0 .2 0 .6 0 .7 .1 .5-.1 .1 0 .6-.1 .7-.2 .6-.3 .6-.3 .7-.4 .6-.1 .1 .2 .6-.5 .6 0 .6 .5 .2 0 .5 .3 .6 .2 .7 .4 .2-.1 .4 .3 .6-.1 .7 .2 .3 .1 .3-.1 .7 0 .6 .3 .4-.3 .2 0 .7-.2 .6 .2 .5 0 .1-.1 .7-.1 .6 .3 .6 .1 .1-.2 .6 .2 .6-.2 .7-.1 .6 .2 .7 0 .6 .1 .1 .1 .5-.2 .7 .1 .6 0 .2-.3 .5 .2 .6 .2 .6-.3 .3 0 2 .2 2 .1 2-.2 2 0 2 0 1.9-.2 2 .1 2 .4 2-.4 2 .1 2-.2 2 .4 2-.4 2 .3 2 0 2-.2 2 0 2 .1 2 .3 2-.1 2 .1" fill="none" stroke="#00a95e" stroke-width="4.2" stroke-linejoin="round" clip-path="url(#ca)"/>
<path d="M182.5 346.6l2 .1 2-.3 2-.3 2 .1 2 .2 2 0 2-.3 2 0 2 .3 2-.4 1.1 .1 .3 0 .3 0 .3 0 0-.1 .4-.1 .3 .2 .3-.2 .3-.2 .3-.2 .4-.1 .3 .1 .3 .1 .3-.1 .3-.2 .4-.1 .3-.3 .1 0 .2-.3 .3-.2 .3-.5 .4-.7 .3-.7 .3-.7 .2-.5 .1-.7 .3-1.7 .4-2.4 .3-4.1 .3-6.3 .3-9.7 .3-8.9 0-3 .3-12.3 .4-5.4 .3 5.4 .3 12.2 .3 12.2 .3 9.3 .4 6.5 .3 4.2 .3 2.6 .3 1.6 .3 1.1 .4 .8 0 0 .3 .6 .3 .3 .3 .5 .3 .2 .4 .4 .3 .2 .1 .1 .2 0 .3 .2 .3 .4 .4-.3 .3 .3 .3 .1 .2 0 .1-.2 .3 .4 .4 .1 .3 .1 .3-.1 .3-.1 .3 .2 2 .2 2 0 2 0 2 .1 2-.1 2-.1 2 .1 2 .2 2 .1 2 0 2 .1 2-.1 2-.2 2 .4 2-.2 2 0 2 0 2 0 2 0 2 0 2 0 2-.1 2 0 2 .2 1.9 0 2-.2 2 0 2-.1 2-.2 2 .1 2 .3 2-.1 2-.3 2 .1 2 0 2 .2 2 .2 2-.2 2 0 2-.1 2 .2 2-.1 2 0 2 .3 2-.3 2 0 2 0 2 .1 2 0 2 .2 2-.1 2 0 2-.3 2 .1 1.9-.2 2 .3 2-.1 2 .2 2-.2 2 0 2 0 2 .1 2-.1 2-.1 2 0 2-.1 2 0 2-.1 2-.1 1.8 .4 .2-.1 .2-.2 .3 .3 .3 0 .3-.1 .3 .2 .4 .1 .2-.3 .1 .2 .3 0 .3 0 .3-.2 .4 .2 .3 0 .3-.5 .3 .2 .3 .1 .4-.3 .3 0 .3-.1 .3 0 .1-.2 .2 .1 .3 0 .4-.3 .3-.3 .3-.7 .3-.5 .2-.6 .1-.5 .4-1.7 .3-1.5 .3-2.2 .3-.8 .3 .8 .3 1.4 .1 .6 .3 2 .3 1.8 .3 .9 .3 .9 .4 .1 .3 .1 .3 .4 .3-.1 .3 .5 .4 0 .3 0 .3 .3 .1-.2 .2-.2 .3-.3 .4 0 .3 .2 .3-.1 .3 .3 .2 .2 .1 .1 .4-.3 .3 0 .3-.1 .3 .2 .3 .2 .3-.1 0 0 .4 .1 .3 .1 .3-.2 1-.1 2 .2 2 .1 2 0 2 0 1.9 0 2 0 2-.1 2 .2 2 .1 2-.2 2-.1 2-.1 2-.2 2 0 2-.1 2 .1 2 .2 2 0 2-.1 2 .1 2-.1 2 0 2 .2 2-.1 2 .2 2-.3 2 .1 2 0 2 .2 2 0 2-.2 2 .2 2 .1 2 .1 1.9 .1 2-.3 2 .3 2-.3 2-.1 2-.2 2 .1 2-.2 2 .2 2-.2 2 .4 2 .1 2 .1 2 0 2-.1 2 0 2-.1 2-.3 2-.1 2 .1 2 .2 2-.2 2 .1 2 0 2 .1 2 .1 2-.2 2-.1 2 .3 2 .1 1.9-.1 2 .1 2-.1 2 0 2-.2 .6 .1 .3 .2 .3 .1 .4 0 .3-.2 .1 0 .2-.1 .3-.1 .3 0 .3-.2 .4 .1 .3-.2 .2 .3 .1 .1 .3-.1 .3-.2 .4-.1 .3 0 .3-.2 .3 0 .3-.1 .4 .2 .3 .1 .3 0 .3-.6 .3-.4 .1 .2 .3-.3 .3-.6 .3-1.1 .3-1.6 .3-1.8 .4-2.1 .1-.8 .2-.5 .3 1 .3 2.2 .3 2 .4 1.6 .3 .9 .2 .7 .1-.1 .3 .5 .3 .4 .4 .4 .3-.1 .3 0 .3 0 .3 .1 .3 .1 .4 .1 .3 .1 .3-.1 .3 .1 .1-.3 .2 .1 .4 .4 .3-.3 .3 0 .3 .1 .3 .1 .2-.1 .2-.1 .3 .3 .3-.5 .3 .1 .3 0 .4-.2 .2 .4 2 .3 2-.3 2 0 2 0 2 .1 2 0 2 .1 2 0 2-.1 2 0 2 .2 2-.1 2 .1 2-.1 1.9 0 2 .2 2-.1 2-.2 2-.1 2 .2 2-.2 2 .1 2 .4 2-.2 2 .2 2-.2 2-.1 2 0 2-.2 2-.3 2 .2 2 0 2 .1 2 .4 2-.1 2-.3 2 .1 2-.3 2-.2 2 .6 2-.2 2-.3 2 .2 2 .1 2 .1 1.9 0 2 0 2 .1 2-.1 2-.1 2 .1 2-.1 2 .2 2 0 2-.1 2-.1 2 .1 2 .2 2-.2 2-.3 2 .2 2-.1 2 .2 2-.1 2 .1 2-.1 2-.1 2-.2 2 .1 1.2 .1 .4-.3 .3-.2 .1 .3 .2 .4 .3-.3 .3 0 .4-.2 .3-.1 .3 .3 .2-.3 .1 .1 .3-.1 .4 .1 .3 .2 .3-.1 .3-.2 .3 0 0-.1 .4-.4 .3 .2 .3-.3 .3-.1 .3 0 .4-.4 .3-.6 .3-.5 .3-1.5 .3-2 .4-2.9 .3-3.9 .1-1.2 .2-4.1 .3-4.9 .3-2.4 .4 2.3 .3 5.1 .3 5.3 .2 2.3 .1 1.7 .3 3.3 .3 1.9 .4 1 .3 .5 .3 .2 .2 .5 .1-.1 .3 .5 .4 .2 .3-.1 .3 .2 .3 .1 .3 .1 .4 .1 .3 .1 .3 0 .3 .2 .3 0 .4 0 0-.1 .3 0 .3 0 .3 0 .3 .1 .4 0 .3-.2 .1 .1 .2 0 .3 .1 .7 .4 .8 .1 .4-.6 1.3-.1 .3 .3 1-.1 1-.1 .3-.1 1.2 .2 .5 0 .8 .1 1.2 0 .1 .1 1.3-.1 .6-.1 .7 .2 1.2 .3 .1-.3 1.2 0 .8 .3 .5-.3 1.3-.2 .2 .2 1 .1 1-.1 .3 .2 1.3-.2 .4 0 .9-.1 1.1 0 .2 0 1.2 .1 .6-.1 .7 0 1.3-.5 1.3-.6 .7-.5 .5-.3 1.3-.8 .2-.1 1.1-.6 .9-.3 .4-.2 1.3 .2 .3 .5 .9 .5 1.1 1 .2 0 1.3 .4 .5 .1 .8 .3 1.2 .8 0-.4 1.3-.1 .7 .1 .6 .3 1.3 .4 .1 .1 1.2-.3 .8 .3 .4 .1 1.3-.3 .3 .1 1 0 .9-.1 .4 0 1.2-.1 .4 .1 .9 0 1.1 .1 .2 .1 1.3-.3 .5 .1 .8 0 1.2 .2 1.3-.1 .7 .1 .6 .1 1.3 0 .1 0 1.1-.3 .9 0 .4 .2 1.3 .1 .3 0 1-.1 1-.1 .3-.2 1.2-.2 .5 .2 2 .2 2 0 2-.1 2 0 2 .3 2-.2 2 0 2 0 2 .2 2-.1 2-.1 2-.1 2-.1 2 .1 2 .2 2 0 2-.1 2-.2 2 0 1.9 .2 2 .1 2 0 2 .1 2 .1 2-.1 2 0 2-.4 2 .2 2-.1 2 .1 2-.2 2 0 .8-.1 .5 .1 .5-.1 .2 .3 .3-.1 .6 0 .5-.1 .5 0 .1 0 .4-.1 .5 .2 .5-.2 .5-.1 .1 .1 .4 .4 .5 0 .6-.1 .5-.1 0 0 .5 0 .5 .2 .5 0 .5-.3 0-.3 .5-.2 .5 .1 .5-.2 .5-.1 .1 0 .5-.3 .5-.5 .5-1.2 .4-1.4 .1-.4 .5-2.5 .5-3 .5-2.7 .4-.8 .1-.3 .6 1.2 .5 2.6 .5 3.2 .3 1.6 .2 .9 .5 1.9 .5 .9 .5 .7 .3 0 .2 .2 .5 0 .6 .3 .5 .3 .2-.3 .3 0 .5 .1 .5 .1 .5 .2 .2-.5 .3 .1 .5 .3 .5 0 .6-.1 .1 .2 .4 0 .5 0 .5 0 .5 0 .1 .1 .4-.3 .5-.4 .5 .4 .5-.2 .1 .2 .5 .1 .5 .1 .5-.1 .5 .1 2 0 1.9 0 2 0 2-.1 2 .3 2-.1 2 0 2-.1 2 .1 2 0 2-.1 .6 .1 .8 0 .6 0 .3 .2 .8-.1 .9-.1 0 .1 .8-.1 .9 .1 .3 0 .5-.4 .9 .2 .6 0 .2-.2 .9-.1 .8 0 .1 .3 .8 .2 .9-.1 .3 0 .5-.2 .9 .4 .6 .1 .2-.1 .9-.3 .8 0 .1-.1 .8-.1 .8-.1 .4 0 .5 0 .8 .2 .7-.2 .2 .1 .8-.1 .9-.1 .1 .1 .7-.1 .9-.6 .4-.5 .4-.5 .9-.2 .7-.6 .1-.1 .9 .5 .8 .5 .2 .1 .7 .7 .8 .5 .5 .1 .4 .2 .8 .1 .8 .2 .1 0 .9 0 .8 0 .2 0 .7 0 .8-.1 .5 .2 .4-.4 .8 .2 .8 .2 .1 0 .8-.2 .9-.1 .2 .5 .6 0 .9-.1 .4-.1 .4 0 .9 0 .7-.1 .1 .1 .9 0 .8 0 .2 .1 .7-.3 .8 .1 .5 .1 .4 0 .8 0 .8 .1 .1 .1 .8-.2 .9 0 .2 .1 2-.1 2 .2 2-.2 2 .2 2-.1 2 .2 2 0 2-.3 2 .2 2 0 2-.1 2-.1 2 .1 2-.1 2 0 2 0 2 0 2 0 2-.2 .1 .1 1.3-.4 .6 .3 .7 .1 1.3 0 1.2 0 .8 .1 .5 .1 1.3-.2 .2 0 1.1-.1 .9-.1 .3 .2 1.3 0 .3 .3 1-.4 1-.1 .3 .2 1.3-.1 .4 .1 .8-.1 1.2 .3 .1-.1 1.3 0 .6 .1 .7-.3 1.3 0 0-.1 1.2 .2 .8-.3 .5 .1 1.3-.1 .2 .3 1.1 .2 .9-.2 .3 .2 1.3-.2 .4-.3 .9-.2 1.1-.3 .2 .1 1.3-.4 .5-.3 .7-.6 1.3-.8 1.3-1 .7-.1 .6 .2 1.2 .2 .2 .3 1.1 .6 .9 .5 .4 .3 1.3 .4 .3 .5 1 .3 1 0 .2 .2 1.3 0 .5 .3 .8 .2 1.2 .1 .1-.3 1.2 0 .7 .2 .6 0 1.3 0 .1 .3 1.2 0 .8-.2 .5-.3 1.2 0 .3-.2 1 .1 1 .1 .3-.1 1.3 .1 .4 0 .8 .2 1.2-.2 .1 0 1.3 .1 .6 .1 .7 0 1.3-.5 1.2 .2 .7-.1 .6 .1 1.3 0 .1 0 1.2 .1 .8 .1 .4 0 1.3 .1 .3 0 1-.1 1 .2 2 .2 2-.2 2-.1 2-.2 2 .1 2-.1 2 .3 2 0 2 0 2 .1 2-.1" fill="none" stroke="#be70e2" stroke-width="4.2" stroke-linejoin="round" clip-path="url(#ca)"/>
<path d="M182.5 280.5l1.7 0 .3 0 1.4-.1 .6 0 1.1 0 .9 .2 .8-.2 1.2 .4 .5-.7 1.5 .2 .2 .2 1.7-.1 .1-.1 1.6 0 .4 .2 1.3 .1 .7-.3 1 0 1-.1 .7 .2 1.3-.2 .4 .1 .7 .1 .3-.2 .3 0 .3-.1 0 0 .2-.3 .2 0 .3 .1 .3-.1 .3 .4 .3-.5 .3-.2 .1 .2 .3 .2 .3 0 .3 .1 .3 .1 .4-.4 .3-.4 .1 .1 .2 .1 .3-.2 .3-.3 .4-.2 .1-.1 .2-.5 .3-.3 .2-.4 .1-.3 .3-.9 .4-1.4 .2-1.2 .1-1 .3-3.6 .3-5 .3-5 0-1.9 .3-6.6 .4-3.2 .3 3.1 .3 6.7 .3 7 .3 4.9 .4 3.5 .1 .9 .2 1.3 .3 1.5 .3 1.2 .3 .2 .4 .6 0 0 .2 .5 .1 .1 .3 .2 .3 .1 .3 0 .4 .2 .3 .2 .1 0 .2 .3 .3 .1 .3-.2 .4-.1 .3 .2 .1-.2 .2 .1 .2 0 .1 .1 .3 0 .4 0 .3 .2 .2-.1 .1 .1 .3-.2 .3-.1 1 0 1 0 .7 .2 1.3-.4 .4 .3 1.6-.6 .1 .3 1.7-.5 .2-.2 1.5-.2 .5-.2 1.2-.1 .8 .1 .9 .6 1.1-.2 .6 .4 1.4 .2 .3-.1 1.7 .3 0 .2 1.7 .2 .3-.1 1.4 .2 .6 .1 1.1 .2 .9-.3 .8 .3 1.2 .1 .5-.2 1.5-.1 .3 .1 1.7 0 0 .1 1.7 .1 .3-.1 1.4-.2 .6-.3 1.1 .3 .9-.1 .8 .3 1.2 .2 .5-.1 1.5 .1 .2 0 1.7 0 .1-.3 1.6-.1 .4 0 1.3 .1 .7-.1 1 .1 1 .2 .7-.1 1.2 0 .5-.2 1.5 .1 .2 .2 1.7 .1 .1-.1 1.6-.2 .4 .3 1.3-.4 .7 0 1 0 1 .1 .7 .1 1.3-.1 .4 .6 1.6 .1 2-.2 2-.3 2-.3 2 .3 2 .1 2-.1 2 .2 2-.1 2-.3 2-.3 2 .1 2 .2 2 .1 2 0 2 0 2-.1 2 .1 2 .1 2-.2 2-.1 2 0 2-.1 1.9 .2 2-.2 2 .2 2-.1 2 .2 2 .3 2-.3 2 0 2 .4 2-.1 2-.1 2-.1 2-.1 .1-.2 .5-.4 .5 .2 .5 .1 .4 .3 .1 0 .5-.3 .6 .2 .5-.2 .3 .3 .2-.2 .5 .2 .5 0 .5-.1 .3 .2 .2-.1 .5-.5 .5 .3 .6-.1 .2 0 .3 .1 .5 .2 .5-.1 .5-.2 .2-.1 .3-.1 .5 .1 .5-.1 .5 .1 .2-.1 .4 0 .5 0 .5-.6 .5-.8 .1-.1 .4-.9 .5-.8 .5-.1 .4 .2 .1 0 .1 0 .3 .3 .1 .6 .3 .6 .3 .5 .1 0 .4 .4 .1-.1 .4 .2 .4 .5 .1 .1 .3-.1 .2-.1 .3 .3 .2-.2 .2 .4 .3 .2 0-.3 .1 0 .4 .2 .5 .1 0-.1 .4-.1 .2 0 .2 .1 .2 .1 .1-.1 .1-.1 .4 0 .1 0 .4-.1 .4-.1 .1 .1 .3 .2 .1 0 .1 .1 .3 0 .2 0 .2 0 .3-.4 .1 .2 .4 0 .4-.3 .1-.3 .1 0 .3-.1 .2 0 .2-.4 .3-.2 .2-.3 .3-.1 .1-.1 .2 0 .2-.2 .4 .2 .1 .3 .4 .1 .1 .2 .3 .2 .2 .2 .2 .1 .1 .3 .2 .3 .1-.1 .5 .4 .4 0 .4 .2 .4-.4 0 0 .5-.1 .4 .4 .4 .1 .4-.2 .3 0 .2-.1 .4 0 .4-.1 .4 .2 .5 0 0-.1 .4 .1 .4 .1 .4 0 .5-.1 .3 .1 .1 0 .4 .2 .5-.2 .4 0 .4-.1 .2-.1 .2 0 .5-.2 1.3 0 2-.1 2 .2 2 0 2 0 2 0 2 .2 2-.1 2-.4 2 .6 2-.1 2 .1 2-.2 2 0 2 0 2 .1 2-.1 2 .3 2-.2 2-.1 2 .4 2-.2 2-.3 2 .2 2 .1 2 .1 2 .2 1.9-.2 2 .1 2-.2 2-.2 2-.1 2 0 2-.2 2 .4 2-.1 2-.2 2 .1 2-.1 2 .3 2 .3 2-.1 2-.1 2-.1 2 .1 2 .1 2 0 2-.2 2 0 2-.2 2 .1 2 .2 2 .1 2-.3 2-.2 2 .5 2-.1 1.9-.1 2 0 2 0 2 0 2 .1 .6-.2 .3-.2 .3 0 .4-.4 .3 .5 .1-.1 .2 0 .3 .2 .3 .1 .3-.1 .4-.1 .3-.2 .2 0 .1 0 .3-.1 .3 .1 .4 .2 .3 0 .3 .3 .3-.1 .3-.1 .4 .5 .3-.1 .3-.4 .3-.2 .3-.2 .1-.1 .3-.2 .3-.6 .3-.6 .3-.6 .3-.7 .4-1.1 .1-.6 .2-.2 .3 .8 .3 1.2 .3 1 .4 .6 .3 .4 .2 .5 .1-.1 .3 0 .3-.1 .4 .2 .3 .2 .3 0 .3 .4 .3-.2 .3 .3 .4-.1 .3 0 .3 .1 .3-.2 .1 .2 .2-.1 .4-.1 .3 .2 .3 0 .3-.2 .3 .2 .2-.2 .2 .1 .3-.1 .3 .1 .3 .1 .3 0 .4-.2 .2 .2 2 .1 2-.2 2 0 2-.1 2 .5 2-.1 2 .1 2 0 2 0 2-.2 2-.3 2 0 2 .2 2-.1 1.9 .3 2-.1 2-.1 2-.3 2 .3 2 .2 2-.3 2-.2 2 .3 2-.2 2 .1 2 0 2 .3 2-.1 2 0 2-.1 2-.3 2 .1 2 .3 2-.1 2 0 2 0 2 .1 2 0 2 .1 2-.3 2-.2 2 .3 2-.1 2 0 2 .3 1.9-.2 2 .3 2-.2 2-.4 2 .2 2 0 2 .1 2 0 2 .3 2 .1 2-.1 2-.2 2-.1 2 .1 2 .2 2-.4 2 .2 2 .1 2 0 2-.1 2-.1 2-.1 2 .2 2 0 1.2 .1 .4-.1 .3-.2 .1 .1 .2 .2 .3 .1 .3-.1 .4-.5 .3 .2 .3-.3 .2 .3 .1-.2 .3-.1 .4 .2 .3 0 .3-.1 .3 .2 .3-.3 0 .1 .4-.1 .3 0 .3-.1 .3-.2 .3-.5 .4-.2 .3-.2 .3-.5 .3-.5 .3-1.2 .4-1.9 .3-2.3 .1-.9 .2-2.5 .3-3.2 .3-1.6 .4 1.7 .3 3.4 .3 3 .2 1.5 .1 1.1 .3 1.7 .3 1 .4 .8 .3 .4 .3 .3 .2 .1 .1 0 .3 .3 .4 .1 .3 0 .3 .3 .3 .3 .3-.2 .4 .2 .3-.2 .3 .1 .3 .2 .3-.2 .4-.1 0 0 .3 .1 .3 .2 .3-.1 .3 0 .4 .3 .3-.1 .1-.3 .2 .2 .3-.2 1.5 0 2 0 2 .3 2 .3 2 0 2 0 2-.3 2 .2 2 .1 2-.3 2 .3 2-.1 2-.1 2 .1 2 .2 2-.2 2 0 2 .2 2-.2 2 .1 2-.1 2-.2 2 0 2 .1 2 .1 1.9 .2 2-.1 2-.1 2-.1 2-.1 2-.3 2 .2 2 .3 2-.2 2 0 2 0 2 0 2-.2 2-.1 2 .2 2 .1 2-.1 2 .2 2-.1 2 0 2 0 2 .2 2-.1 2 0 2-.3 2 .4 2 0 2 .2 2-.3 2-.1 1.9 0 2-.1 2 .1 2 0 2 .2 2 0 2-.3 2 .2 2-.1 2 .2 2 .1 2-.1 2-.2 2 0 2 .2 2-.1 .6 0 .3-.3 .3 0 .3 0 .3 0 .2-.1 .2 .2 .3 0 .3 0 .3 0 .3 .1 .4-.3 .2-.3 .1 .3 .3 .2 .3 0 .3 0 .3-.1 .4 .1 .3 0 .3-.3 .3 .2 .3-.3 .4-.3 .3 .1 .3-.2 .1-.1 .2-.5 .3-.4 .4-.9 .3-1.2 .3-1.4 .3-1.7 .2-.5 .1-.4 .4 .8 .3 1.5 .3 1.8 .3 1.3 .3 .9 .3 .3 .1-.1 .3 .4 .3 .5 .3 .1 .3 .2 .4 .2 .3-.1 .3-.1 .3 .1 .3 .2 .4 .1 .3 0 .3-.2 .1 0 .2 0 .3 .2 .4-.3 .3 .1 .3 .1 .3 .1 .2-.1 .1 .1 .3-.1 .4 0 .3 .4 .3-.4 .3 .3 .3-.1 2-.2 2 .2 2-.2 2 0 1.9-.1 2 .2 2-.2 2 0 2-.1 2 .2 2 .2 2 .1 2-.3 2 0 2-.2 2 .2 2-.1 2 0 2-.1 2 .1 2 .3 2-.1 2 0 2-.2 2-.1 2 .1 2-.2 2 0 2 .2 2-.3 2 .2 2-.1 2 0 2 .2 1.9-.1 2 .2 2-.2 2 .1 2 .5 2-.2 2-.2 2 .1 2 0 2-.2 2 .1 2-.1 2 0 2 0 2-.2 2 .1 2 .1 2 .3 2-.1 2-.2 2 .1 2 .2 2 .2 2-.5 2 .4 2-.2 2-.2 2 .2 2 0 2-.2 .3 .1 .9-.1 .7 .1 .2-.3 .8 .2 .9 .1 .1 0 .7-.1 .9-.1 .4 .4 .4-.1 .9-.2 .7-.1 .1 .1 .9 .1 .8-.2 .2 0 .7 0 .8 .2 .5-.1 .4-.1 .8-.3 .8 .2 .1 .1 .8-.1 .9 0 .2 0 .6 .2 .9 0 .5 .1 .3-.1 .9-.2 .8 .1 0-.1 .9-.2 .8-.4 .3 .1 .6 .1 .9-.3 .5-.2 .3-.1 .9-.2 .8-.4 .9 .2 .8 .4 .3 .1 .6 .2 .8 .4 .6 .1 .3 .1 .8 .1 .9 0 0 0 .8 0 .9 .2 .3-.1 .5 .1 .9-.1 .6-.1 .2 .2 .9 .2 .8 0 .1-.2 .8-.1 .8 .1 .4-.2 .5 .4 .8 0 .7 0 .2-.1 .8 .1 .9 .1 .1-.2 .7-.1 .9 .1 .4 .1 .5-.1 .8 .1 .7 .1 .2-.2 .8 .4 .9-.2 .1-.1 .7 .1 .9 0 .4-.1 2-.1 2 0 2 0 1.9-.2 2 .3 2-.1 2 .1 2-.2 2 .2 2-.1 2 .3 2-.3 2 0 2-.3 2 .2 2 .3 2-.1 2 .1 2 .1" fill="none" stroke="#dc9800" stroke-width="4.2" stroke-linejoin="round" clip-path="url(#ca)"/>
<rect x="795" y="354.8" width="199" height="287.2" fill="#fff" stroke="#222" stroke-width="2.2"/>
<line x1="799.5" y1="382.4" x2="865.5" y2="382.4" stroke="#dc9800" stroke-width="9" stroke-linecap="round"/>
<text x="916.9" y="393.5" font-size="39" text-anchor="end" stroke="#000" stroke-width="1.2">76</text>
<text x="929.4" y="393.5" font-size="39">d</text>
<line x1="799.5" y1="429.1" x2="865.5" y2="429.1" stroke="#be70e2" stroke-width="9" stroke-linecap="round"/>
<text x="916.9" y="440.2" font-size="39" text-anchor="end" stroke="#000" stroke-width="1.2">45</text>
<text x="929.4" y="440.2" font-size="39">d</text>
<line x1="799.5" y1="475.8" x2="865.5" y2="475.8" stroke="#00a95e" stroke-width="9" stroke-linecap="round"/>
<text x="916.9" y="486.9" font-size="39" text-anchor="end" stroke="#000" stroke-width="1.2">14</text>
<text x="929.4" y="486.9" font-size="39">d</text>
<line x1="799.5" y1="522.5" x2="865.5" y2="522.5" stroke="#0068e0" stroke-width="9" stroke-linecap="round"/>
<text x="916.9" y="533.6" font-size="39" text-anchor="end" stroke="#000" stroke-width="1.2">8</text>
<text x="929.4" y="533.6" font-size="39">d</text>
<line x1="799.5" y1="569.2" x2="865.5" y2="569.2" stroke="#ff3838" stroke-width="9" stroke-linecap="round"/>
<text x="916.9" y="580.3" font-size="39" text-anchor="end" stroke="#000" stroke-width="1.2">1</text>
<text x="929.4" y="580.3" font-size="39">d</text>
<line x1="799.5" y1="615.9" x2="865.5" y2="615.9" stroke="#4d4d4d" stroke-width="9" stroke-linecap="round"/>
<text x="916.9" y="627" font-size="39" text-anchor="end" stroke="#000" stroke-width="1.2">0</text>
<text x="929.4" y="627" font-size="39">day</text>
<rect x="182.5" y="145" width="894.5" height="658.5" fill="none" stroke="#262626" stroke-width="2.6"/>
<line x1="171.5" y1="796.7" x2="182.5" y2="796.7" stroke="#262626" stroke-width="2.2"/>
<text font-size="28.5" text-anchor="end" fill="#333" transform="translate(162 804.7) scale(1 1.06)">0</text>
<line x1="177.5" y1="756" x2="182.5" y2="756" stroke="#262626" stroke-width="2.2"/>
<line x1="171.5" y1="715.3" x2="182.5" y2="715.3" stroke="#262626" stroke-width="2.2"/>
<text font-size="28.5" text-anchor="end" fill="#333" transform="translate(162 723.3) scale(1 1.06)">100k</text>
<line x1="177.5" y1="674.6" x2="182.5" y2="674.6" stroke="#262626" stroke-width="2.2"/>
<line x1="171.5" y1="633.8" x2="182.5" y2="633.8" stroke="#262626" stroke-width="2.2"/>
<text font-size="28.5" text-anchor="end" fill="#333" transform="translate(162 641.9) scale(1 1.06)">200k</text>
<line x1="177.5" y1="593.1" x2="182.5" y2="593.1" stroke="#262626" stroke-width="2.2"/>
<line x1="171.5" y1="552.4" x2="182.5" y2="552.4" stroke="#262626" stroke-width="2.2"/>
<text font-size="28.5" text-anchor="end" fill="#333" transform="translate(162 560.4) scale(1 1.06)">300k</text>
<line x1="177.5" y1="511.7" x2="182.5" y2="511.7" stroke="#262626" stroke-width="2.2"/>
<line x1="171.5" y1="471" x2="182.5" y2="471" stroke="#262626" stroke-width="2.2"/>
<text font-size="28.5" text-anchor="end" fill="#333" transform="translate(162 479) scale(1 1.06)">400k</text>
<line x1="177.5" y1="430.3" x2="182.5" y2="430.3" stroke="#262626" stroke-width="2.2"/>
<line x1="171.5" y1="389.6" x2="182.5" y2="389.6" stroke="#262626" stroke-width="2.2"/>
<text font-size="28.5" text-anchor="end" fill="#333" transform="translate(162 397.6) scale(1 1.06)">500k</text>
<line x1="177.5" y1="348.8" x2="182.5" y2="348.8" stroke="#262626" stroke-width="2.2"/>
<line x1="171.5" y1="308.1" x2="182.5" y2="308.1" stroke="#262626" stroke-width="2.2"/>
<text font-size="28.5" text-anchor="end" fill="#333" transform="translate(162 316.1) scale(1 1.06)">600k</text>
<line x1="177.5" y1="267.4" x2="182.5" y2="267.4" stroke="#262626" stroke-width="2.2"/>
<line x1="171.5" y1="226.7" x2="182.5" y2="226.7" stroke="#262626" stroke-width="2.2"/>
<text font-size="28.5" text-anchor="end" fill="#333" transform="translate(162 234.7) scale(1 1.06)">700k</text>
<line x1="177.5" y1="186" x2="182.5" y2="186" stroke="#262626" stroke-width="2.2"/>
<line x1="171.5" y1="145.3" x2="182.5" y2="145.3" stroke="#262626" stroke-width="2.2"/>
<text font-size="28.5" text-anchor="end" fill="#333" transform="translate(162 153.3) scale(1 1.06)">800k</text>
<line x1="182.5" y1="803.5" x2="182.5" y2="816" stroke="#262626" stroke-width="2.4"/>
<text font-size="43.5" text-anchor="middle" fill="#1a1a1a" transform="translate(182.5 861) scale(1 1.07)">5</text>
<line x1="208.1" y1="803.5" x2="208.1" y2="810.5" stroke="#262626" stroke-width="2.4"/>
<line x1="233.6" y1="803.5" x2="233.6" y2="810.5" stroke="#262626" stroke-width="2.4"/>
<line x1="259.2" y1="803.5" x2="259.2" y2="810.5" stroke="#262626" stroke-width="2.4"/>
<line x1="284.7" y1="803.5" x2="284.7" y2="810.5" stroke="#262626" stroke-width="2.4"/>
<line x1="310.3" y1="803.5" x2="310.3" y2="816" stroke="#262626" stroke-width="2.4"/>
<text font-size="43.5" text-anchor="middle" fill="#1a1a1a" transform="translate(310.3 861) scale(1 1.07)">10</text>
<line x1="335.8" y1="803.5" x2="335.8" y2="810.5" stroke="#262626" stroke-width="2.4"/>
<line x1="361.4" y1="803.5" x2="361.4" y2="810.5" stroke="#262626" stroke-width="2.4"/>
<line x1="387" y1="803.5" x2="387" y2="810.5" stroke="#262626" stroke-width="2.4"/>
<line x1="412.5" y1="803.5" x2="412.5" y2="810.5" stroke="#262626" stroke-width="2.4"/>
<line x1="438.1" y1="803.5" x2="438.1" y2="816" stroke="#262626" stroke-width="2.4"/>
<text font-size="43.5" text-anchor="middle" fill="#1a1a1a" transform="translate(438.1 861) scale(1 1.07)">15</text>
<line x1="463.6" y1="803.5" x2="463.6" y2="810.5" stroke="#262626" stroke-width="2.4"/>
<line x1="489.2" y1="803.5" x2="489.2" y2="810.5" stroke="#262626" stroke-width="2.4"/>
<line x1="514.7" y1="803.5" x2="514.7" y2="810.5" stroke="#262626" stroke-width="2.4"/>
<line x1="540.3" y1="803.5" x2="540.3" y2="810.5" stroke="#262626" stroke-width="2.4"/>
<line x1="565.9" y1="803.5" x2="565.9" y2="816" stroke="#262626" stroke-width="2.4"/>
<text font-size="43.5" text-anchor="middle" fill="#1a1a1a" transform="translate(565.9 861) scale(1 1.07)">20</text>
<line x1="591.4" y1="803.5" x2="591.4" y2="810.5" stroke="#262626" stroke-width="2.4"/>
<line x1="617" y1="803.5" x2="617" y2="810.5" stroke="#262626" stroke-width="2.4"/>
<line x1="642.5" y1="803.5" x2="642.5" y2="810.5" stroke="#262626" stroke-width="2.4"/>
<line x1="668.1" y1="803.5" x2="668.1" y2="810.5" stroke="#262626" stroke-width="2.4"/>
<line x1="693.6" y1="803.5" x2="693.6" y2="816" stroke="#262626" stroke-width="2.4"/>
<text font-size="43.5" text-anchor="middle" fill="#1a1a1a" transform="translate(693.6 861) scale(1 1.07)">25</text>
<line x1="719.2" y1="803.5" x2="719.2" y2="810.5" stroke="#262626" stroke-width="2.4"/>
<line x1="744.8" y1="803.5" x2="744.8" y2="810.5" stroke="#262626" stroke-width="2.4"/>
<line x1="770.3" y1="803.5" x2="770.3" y2="810.5" stroke="#262626" stroke-width="2.4"/>
<line x1="795.9" y1="803.5" x2="795.9" y2="810.5" stroke="#262626" stroke-width="2.4"/>
<line x1="821.4" y1="803.5" x2="821.4" y2="816" stroke="#262626" stroke-width="2.4"/>
<text font-size="43.5" text-anchor="middle" fill="#1a1a1a" transform="translate(821.4 861) scale(1 1.07)">30</text>
<line x1="847" y1="803.5" x2="847" y2="810.5" stroke="#262626" stroke-width="2.4"/>
<line x1="872.5" y1="803.5" x2="872.5" y2="810.5" stroke="#262626" stroke-width="2.4"/>
<line x1="898.1" y1="803.5" x2="898.1" y2="810.5" stroke="#262626" stroke-width="2.4"/>
<line x1="923.7" y1="803.5" x2="923.7" y2="810.5" stroke="#262626" stroke-width="2.4"/>
<line x1="949.2" y1="803.5" x2="949.2" y2="816" stroke="#262626" stroke-width="2.4"/>
<text font-size="43.5" text-anchor="middle" fill="#1a1a1a" transform="translate(949.2 861) scale(1 1.07)">35</text>
<line x1="974.8" y1="803.5" x2="974.8" y2="810.5" stroke="#262626" stroke-width="2.4"/>
<line x1="1000.3" y1="803.5" x2="1000.3" y2="810.5" stroke="#262626" stroke-width="2.4"/>
<line x1="1025.9" y1="803.5" x2="1025.9" y2="810.5" stroke="#262626" stroke-width="2.4"/>
<line x1="1051.4" y1="803.5" x2="1051.4" y2="810.5" stroke="#262626" stroke-width="2.4"/>
<line x1="1077" y1="803.5" x2="1077" y2="816" stroke="#262626" stroke-width="2.4"/>
<text font-size="43.5" text-anchor="middle" fill="#1a1a1a" transform="translate(1077 861) scale(1 1.07)">40</text>
<polygon points="201.3,217.8 225.3,217.8 213.3,243" fill="#000"/>
<text font-size="29.5" text-anchor="middle" transform="translate(223.1 182.7) rotate(-90) scale(1 1.05)">(002)</text>
<polygon points="358.5,242 382.5,242 370.5,266" fill="#000"/>
<text font-size="29.5" text-anchor="middle" transform="translate(380.3 204.7) rotate(-90) scale(1 1.05)">(004)</text>
<polygon points="518,242 542,242 530,266" fill="#000"/>
<text font-size="29.5" text-anchor="middle" transform="translate(539.8 204.7) rotate(-90) scale(1 1.05)">(006)</text>
<text font-size="48.4" text-anchor="middle" fill="#1a1a1a" transform="translate(69.2 474.5) rotate(-90)">Intensity (a.u.)</text>
<text x="628.6" y="932.5" font-size="48" text-anchor="middle" fill="#1a1a1a" letter-spacing="0.3">2 Theta (°)</text>
<clipPath id="cd"><rect x="1356.7" y="151.5" width="891.9" height="656"/></clipPath>
<text x="1318.5" y="94" font-size="88" font-family="'Liberation Serif', 'Times New Roman', serif">(d) n=5</text>
<path d="M1356.7 794.7l2-.3 2 0 2-.4 2 .1 .9 .3 1.1 .1 2-.4 2-.1 2-.1 1.8-.4 .2 .5 2 0 2-.1 2 0 2-.2 .8 0 1.2 .1 2-.1 2-.2 2-.2 1.7 .2 .3 .1 2-.2 2 .2 2 .1 2 .1 .6-.1 1.4 .1 2 .2 2-.1 2 .2 1.5 0 .5 0 2 .2 2 0 2 0 2-.1 .4 .1 1.6 0 2 0 2 0 2 .3 1.4 .1 .6-.2 2 0 2 .2 2 .2 2-.3 .3 0 1.7 .3 2 .2 2 0 2-.3 1.2 .2 .8-.1 2-.1 2 .1 2-.2 2 0 .1-.4 1.9 .5 2 .1 2-.1 2 .1 1 0 1-.1 2 0 2 0 2-.3 1.9 0 .1 .1 2 .4 2 0 2 .1 2 0 .9-.1 1.1 0 2 0 2-.1 2 0 1.8 .1 .2-.1 2-.1 2 .1 2 0 2 .1 .7 .1 1.3 0 2-.1 2-.1 2-.1 1.6 .2 .4 .1 2 0 2 0 2-.1 2 0 .5 0 1.5 .1 2-.1 2 .2 2 0 1.5-.2 .5-.1 2 .1 2 0 2 .2 2-.4 .4 .3 1.6 0 2-.1 2-.1 2 .1 1.3 0 .7-.1 2 0 2 .3 2-.4 2 .4 .2-.3 1.8 .2 2-.1 2 0 2-.1 1.1 0 .9 .2 2-.2 2-.3 2 .1 2-.2 .1 .1 1.9 .2 2 0 2 0 2 .4 1 .2 1 0 2 0 2-.1 2-.3 1.9-.1 .1-.1 2-.1 2 .1 2 .2 2 .2 .8-.1 1.2 .1 2-.2 2 0 1.9-.1 .1 0 1.4 .3 .3-.1 .3-.1 .9 .1 1.1-.2 .4 0 1.5-.1 .1 .2 1.4 0 .6 0 .9 0 1.1 0 .4 0 .3 0 1.1-.1 .2 .1 1.3 0 .7 .1 .8 .1 1.2 .1 .3-.2 1.5-.1 .2 0 1.3 0 .3 .1 .4-.1 .8 .1 1.2-.3 .2 .2 1.5-.1 .3-.2 1.2-.1 .8 0 .7 0 1.3 .3 .2 .1 .3 0 1.2-.2 .3 0 1.2-.2 .8-.2 .7-.1 1.3 .1 .1 .4 1.5-.6 .4-.2 1.1-.3 .3-.2 .6-.2 .6-.2 1.4-.9 .1 .1 1.5-1.3 .4-.2 1.1-.7 .9-.3 .5 .1 1.5 .3 0 .1 .3 .1 1.2 .9 .5 .4 1 .7 1 .7 .5 .1 1.5 .8 0-.2 1.5 .4 .5 .2 .9 .2 .3-.1 .8 .1 .4 0 1.5 0 .1 0 1.4 0 .6-.1 .9 .1 .6-.1 .4-.1 .1-.2 .3-.1 .1-.1 .2 .3 .4 .1 .4-.3 .4 0 .1 .2 .1-.2 .2-.1 .4-.3 .4 0 .4 0 .3 0 .3 .1 .1-.1 .4 0 .3 0 .1-.1 .4-.4 .4-.5 .3-.1 .1 0 .2-.1 .1-.4 .4-.5 .4-.9 .4-.7 .2-.4 .2-.7 0 .1 .4-1.9 .4-2.6 .4-4.3 .1-2.4 .2-4.8 .4-9.8 .1-1 .3-11.4 .4-13.1 .1-2.1 .3-3.4 .4 5.6 .4 12.9 .1 3.8 .2 8.8 .1 .8 .3 9.4 .4 6.8 .4 4.4 .4 2.4 0 .2 .2 .9 .2 1 .4 .9 .3 .6 .3 .8 .1 .4 .4 .4 .3 .3 .1-.2 .4 .6 .2 .2 .2-.2 .4 .2 .4 .5 .3 .3 0-.1 .2 0 .2-.2 .4 .1 .4 0 .4 .2 .1 .1 .3 .3 0-.3 .4 .1 .3 0 .4 .1 .1 .2 .3-.2 .4 .1 .1 .1 .3-.2 .4 .1 1.3 .4 .2-.3 1.5 .4 .3 0 1.1 .1 .9-.1 2 0 2-.1 2 0 2 .1 2-.2 2 .2 2 .3 2-.2 2-.3 2 .4 2-.3 2 0 2 0 2 .4 2-.4 2 .2 2-.2 2-.1 2 .1 2 .1 2 .1 2 .2 2-.1 2 0 2-.2 2 .2 2 0 2 .1 2 .2 2 .1 2 .1 2-.5 2-.2 2-.1 2 .1 2 .2 2 0 2-.3 2 .3 2 .2 2-.1 2-.1 2 .1 2 0 2-.4 2 .1 2 .2 2 .4 2-.3 2 0 1.9 .1 2.1-.2 1.9 0 2.1-.1 2 .1 1.9-.1 2.1-.3 1.9 .2 2 .1 2 0 2-.1 2-.1 2 .5 2-.3 2-.2 2 .3 2 .2 2-.1 2-.2 2 0 2 0 2 .1 2-.2 2 .1 2 0 2 0 2 .3 2-.1 2-.3 2 .1 2 .1 2-.1 2 .1 2-.3 2-.1 2 .2 2 .2 2 0 2 .2 2-.1 2 .2 2-.3 2-.3 2 .1 2 0 2 0 2 0 2 .1 2-.1 2 .1 2 0 2 0 2 .1 2 .1 2 0 2-.3 2 .1 2-.1 2 .1 2 .1 2 .1 2 0 2-.1 2 0 2 0 2-.1 2-.2 2 .2 2 0 2 0 2 .2 2-.3 2 0 2-.1 2 .1 2 .1 2-.1 2 0 2-.3 2-.1 2 .3 2 .1 2 0 2 .1 2 .4 2-.4 2 .1 2-.3 2-.2 2 0 2 .1 2 .3 2 .2 2-.2 2-.1 2 .1 2 0 2 .3 2-.4 2-.1 2 .2 2-.2 2 0 2 .1 2 .1 2-.1 2 0 2 .1 2-.2 2 .1 2 .1 1.9 0 .1-.2 .8 .1 .9 .1 .3 .3 .6-.3 .9 0 .5 .1 .3-.3 .9 0 .8 .2 .1-.1 .9 .1 .9 0 .1-.1 .8 .1 .9 .2 .3-.3 .6 0 .9 .2 .5 .1 .4 .2 .9-.3 .7 0 .2-.1 .9 0 .8 .1 .1-.3 .8 0 .9 0 .3 .1 .6-.2 .9 0 .5-.2 .4-.3 .9 .2 .7 .1 .2-.1 .9-.7 .9-.5 0-.1 .9-.9 .9-.6 .2 .1 .6-.5 .9 .3 .5 .4 .4 .2 .9 .9 .7 .5 .2 0 .9 .7 .9 .3 0-.2 .9 .3 .9 .1 .2 0 .7 .2 .9 0 .4 0 .5 .1 .8 .2 .7-.2 .2 .2 .9-.1 .9 .2 0 0 .9-.1 .9 0 .2 0 .7-.1 .9 .1 .4 0 .5 0 .9-.2 .6 0 .3 .3 .9-.5 .8 0 .1 0 .8 .2 .9-.2 .2 .1 .7 .2 .9 .1 .4-.1 .5-.3 .9 0 .6-.1 2 .3 2-.2 2 0 2 .3 2 .2 1.9-.4 .1 .1 1.2-.1 .8 .2 .5-.3 1.3 0 .2 .2 1.1 0 .9-.3 .4 .1 1.3 .1 .3 .1 1 .1 1-.2 .4-.2 1.3 .1 .3 .1 1-.1 1-.1 .3-.2 1.3 .2 .4 .3 .9 0 1.1-.2 .2 .2 1.3 0 .5 .2 .8-.3 1.2 0 .1-.1 1.3-.1 .6 .1 .7 .1 1.3 0 .1 .1 1.3-.3 .6-.4 .7 0 1.3 0 0-.1 1.3-.2 .7-.1 .6-.1 1.3-.7 .1-.1 1.2-1 .8-.8 .5-.1 1.3-1.3 .2-.2 1.1-.5 .9 .3 .4 .3 1.3 1 .3 .2 1.1 1.1 .9 .5 .4 .3 1.3 .9 .3 .3 1 .5 1 .2 .3 .2 1.3-.3 .4 .3 .9-.2 1.1 .2 .2 .1 1.3-.1 .5 0 .8-.4 1.2 .4 .1-.2 1.3 .3 .6-.2 .8 0 1.2 0 .1-.1 1.3-.1 .6 0 .7 .1 1.3-.1 0 0 1.3 .1 .7 .1 .6 0 1.3 0 .1 .2 1.2 0 .8-.4 .5-.1 1.3 .1 .2 .3 1.1 .1 .9-.3 .5 .3 1.3-.3 .2 0 1.1 0 .9-.4 .4 .3 1.6 .3 2-.1 2 0 .6-.2 .4-.3 .4 .1 .4-.1 .2 .1 .2 .3 .4-.2 .3-.1 .4 0 .4-.1 .3-.2 .1-.1 .4 0 .4 .3 .4-.3 .3-.4 .4-.4 0 .4 .4-.1 .4 0 .4-.2 .4-.7 .4-.5 0-.1 .4-.3 .3-.8 .4-.8 .4-1.6 .4-2.7 .1-.6 .3-3 .4-5.5 .4-8.4 .3-10.7 .4-10.8 .2-3.6 .2-1.1 .4 4.8 .4 11 .4 10.6 .4 8.3 .2 3.9 .1 1.9 .4 3.5 .4 2.4 .4 1.6 .4 .8 .3 .6 .1 0 .4 .2 .4 .5 .3 .7 .4 .2 .4 .1 0 0 .4 .5 .4 .3 .4 0 .4 .2 .3 .2 .1 0 .3-.2 .4-.3 .4 .2 .4 .3 .4 0 .1 .1 .3 0 .4-.1 .3 .2 .4 .1 .6-.2 2 .4 2 .3 .3-.2 1.5-.2 .2-.3 1.2 .2 .8 .3 .7 .2 1.3-.1 .2-.1 1.5 0 .3-.4 1.2 .1 .8 0 .7-.2 1.3 .2 .2-.1 1.4 .1 .4 .1 1.1 0 .9 .1 .6 .3 1.4 0 .1 .2 1.5-.1 .4-.2 1.1 .1 .9-.2 .6 .1 1.4-.2 .1 .1 1.4 .2 .5 0 1 0 1-.1 .5-.1 1.5-.1 0 .1 1.5-.1 .5 0 1-.2 1 .2 .5 0 1.4-.1 .1-.2 1.4-.2 .6-.2 .9-.4 1.1-.2 .4 .1 1.5-1.1 .1-.2 1.4-.4 .6-.1 .9-.1 1.1 .3 .4 .1 1.4 .6 .2 .4 1.3 .6 .7 0 .8 .1 1.2 .4" fill="none" stroke="#4d4d4d" stroke-width="4.2" stroke-linejoin="round" clip-path="url(#cd)"/>
<path d="M1356.7 725.6l2 .2 2-.3 2-.1 2 .1 2 .3 2-.1 2-.3 2 0 2 0 2 .2 2 0 2-.1 2 0 2 0 2-.1 2 .1 2 0 2 .3 2-.2 2 .1 2-.2 2 .1 2 0 2-.1 2 0 2 .1 2-.1 2 .2 2 .1 2 .1 2 0 2-.4 2 .1 2-.2 2 .2 2 0 2 0 2 0 2-.1 2 0 2-.1 2 .4 2-.2 2-.1 2-.2 2-.1 2 0 2 .3 2 .1 2 0 2-.1 2 .3 2-.3 2-.1 2 .1 2-.1 2 .1 2 .1 2 0 2 0 2 0 2-.2 2-.4 2 .1 2 .2 2-.1 2 .1 2 .1 2 .3 2-.3 2 0 2 .1 2 .1 2-.3 2 .4 2-.2 2 .2 2-.1 2 0 2 .2 2 0 2-.1 2-.3 2 0 2-.2 2 .5 2-.3 2-.3 2 .4 2 .2 2-.1 2 .1 2-.2 2-.1 2 .1 2 .1 2-.1 2 .2 2 0 2-.1 2-.2 2 .1 2-.1 2 .1 2 .1 2-.1 2 0 2 .1 2 0 2 .3 2-.5 2 .1 2-.2 2 .1 2 .4 2-.4 2 0 2 .1 2 0 2 .1 2-.3 2 .2 2-.1 1.9-.2 .1 .2 1.4 .1 .6-.1 .9-.1 1.1 .1 .4 0 1.5 0 .1-.1 1.4-.3 .6 .4 .9 .1 1.1-.2 .4-.2 1.4 .1 .2 .1 1.3-.3 .7 .4 .8 .1 1.2-.1 .3 .1 1.5 0 .2 .1 1.3-.1 .7 .2 .8 .1 1.2-.3 .2-.1 1.5-.2 .3 .1 1.2-.1 .8 .1 .7 0 1.3 .1 .2-.2 1.5 .2 .3-.1 1.2-.1 .8-.1 .7-.3 1.3 .1 .1-.2 1.5 .1 .4-.1 1.1 0 .9-.4 .6-.3 1.4-.7 .1-.2 1.5-.9 .4-.5 1.1-.7 .9-.5 .5 0 1.5 .4 0-.1 1.5 .8 .5 .5 1 .8 1 .6 .5 .1 1.5 .5 0 .1 1.5 0 .5 .2 .9 .5 1.1-.1 .4 0 1.5 .4 .1 0 1.4 0 .6-.2 .9-.2 .6 .4 .4-.1 .1-.1 .3 .1 .1 0 .2-.2 .4-.2 .4-.1 .4 0 .1-.1 .1-.1 .2 0 .4 0 .4-.1 .4 .1 .3 0 .3-.1 .1-.1 .4 .1 .3-.2 .1-.4 .4-.2 .4-.2 .3-.3 .1 .1 .2-.5 .1-.3 .4-.2 .4-.5 .4-1.1 .2-.4 .2-.3 0-.3 .4-1.9 .4-2.7 .4-4.3 .1-2.4 .2-4.3 .4-9.8 .1-1 .3-11 .4-12.9 .1-2.1 .3-3.4 .4 5.3 .4 12.8 .1 3.7 .2 8.9 .1 1 .3 8.7 .4 6.8 .4 4.2 .4 2.6 0 0 .2 1.3 .2 .7 .4 1 .3 1.1 .3 .7 .1-.1 .4 .3 .3 .2 .1 .3 .4 .2 .2 .1 .2 .2 .4 .2 .4 .1 .3 .5 0 0 .2 .1 .2 0 .4 .1 .4 0 .4 .1 .1 .1 .3-.1 0-.3 .4 .3 .3 0 .4 .1 .1-.1 .3 .2 .4 .1 .1 .3 .3 .1 .4-.2 1.3 .2 .2-.3 1.5 .2 .3-.1 1.1 .2 .9-.1 2 0 2-.1 2 .2 2 0 2 0 2 .1 2-.4 2 .2 2 0 2 .1 2 0 2-.3 2 .1 2 .1 2 .1 2 .1 2-.2 2 0 2 .1 2-.3 2 .4 2-.2 2 .2 2 0 2 .2 2 0 2-.2 2-.3 2 .1 2 .1 2 .1 2-.3 2 0 2 0 2 .1 2-.1 2 .1 2 .2 2-.1 2 .2 2-.1 2-.1 2 .2 2 0 2-.2 2-.1 2 .1 2 0 2 .2 2-.1 1.9-.1 2.1-.2 1.9 .1 2.1 .1 2 .2 1.9-.2 2.1-.2 1.9 .2 2 0 2-.2 2 .4 2 0 2-.1 2 0 2-.2 2 .2 2-.1 2-.1 2 0 2-.1 2 .2 2 .3 2-.1 2-.4 2 .1 2-.1 2 .2 2-.3 2-.2 2 .2 2 .3 2 0 2 .3 2-.3 2 0 2 0 2-.1 2 .2 2-.2 2-.1 2 0 2 0 2 .3 2-.1 2 .1 2-.1 2 .2 2-.1 2 0 2-.3 2 .2 2-.1 2 .2 2 0 2 0 2 .1 2 0 2-.2 2 0 2 0 2-.2 2 .2 2 .2 2-.1 2 0 2 0 2 .1 2-.2 2 .2 2-.2 2 .1 2 0 2-.2 2 .1 2 0 2-.2 2 0 2 0 2 0 2 .1 2 0 2 0 2-.1 2 .1 2 .3 2 0 2-.4 2 0 2 .1 2-.2 2 .3 2 0 2 0 2 0 2-.1 2-.1 2-.4 2 .1 2 .3 2 .2 2 0 2-.3 2 .1 2 .1 2-.2 2 .4 2-.2 2 0 2-.1 2 .2 2-.2 1.9 0 .1 .2 .8-.2 .9 0 .3 .2 .6 0 .9-.3 .5 .2 .3 0 .9 .2 .8-.3 .1 .2 .9 0 .9-.1 .1 0 .8 .1 .9-.1 .3-.1 .6 0 .9 .1 .5 .1 .4-.3 .9 .1 .7 .1 .2 .2 .9-.2 .8 .2 .1-.2 .8 0 .9 0 .3 0 .6-.1 .9-.2 .5 .2 .4 .1 .9-.3 .7-.3 .2-.1 .9-.7 .9-.8 0 .2 .9-.7 .9-.8 .2-.4 .6-.2 .9 .3 .5 .6 .4 .4 .9 .7 .7 .5 .2 .3 .9 .6 .9 .5 0 .1 .9 0 .9-.1 .2 .1 .7-.2 .9 0 .4 .3 .5 .1 .8 .1 .7 .1 .2-.2 .9 .1 .9-.1 0 0 .9 0 .9 0 .2-.2 .7-.1 .9 .1 .4 .1 .5 0 .9 0 .6-.2 .3 .3 .9 0 .8 .2 .1-.2 .8 0 .9 0 .2 .2 .7-.1 .9 0 .4-.3 .5-.1 .9-.1 .6 .2 2 .2 2 0 2-.2 2 .4 2-.3 1.9 .2 .1 .1 1.2-.1 .8 .1 .5-.3 1.3 0 .2 0 1.1 .1 .9-.1 .4 .3 1.3-.2 .3-.1 1-.1 1 .1 .4 .1 1.3-.1 .3-.2 1-.1 1 .3 .3 .1 1.3 0 .4 .1 .9-.1 1.1 0 .2-.3 1.3 .2 .5 .1 .8 .1 1.2 0 .1-.2 1.3 0 .6-.3 .7 .3 1.3-.3 .1 .2 1.3-.2 .6-.1 .7-.1 1.3-.1 0 .1 1.3-.1 .7-.3 .6-.1 1.3-.7 .1 .2 1.2-1.3 .8-.8 .5-.4 1.3-1.3 .2-.1 1.1-.6 .9 .3 .4 .2 1.3 1.1 .3 .2 1.1 1.2 .9 .6 .4 .3 1.3 .9 .3-.1 1 .3 1 .3 .3 0 1.3 .1 .4 .4 .9 .1 1.1-.1 .2-.1 1.3-.1 .5 0 .8-.2 1.2 .3 .1 0 1.3 .3 .6 0 .8-.3 1.2 .4 .1 0 1.3 .1 .6-.2 .7-.1 1.3 0 0 .3 1.3-.3 .7-.1 .6 .2 1.3-.3 .1 .3 1.2-.2 .8 .3 .5-.1 1.3-.1 .2-.1 1.1 .3 .9-.1 .5-.2 1.3 .1 .2 0 1.1 .1 .9-.1 .4 0 1.6 0 2-.1 2-.3 .6 .1 .4 .2 .4 0 .4 0 .2 0 .2-.2 .4 .1 .3-.2 .4-.2 .4-.2 .3 .2 .1 .1 .4-.1 .4-.2 .4-.4 .3 .1 .4-.1 0-.1 .4-.2 .4-.3 .4-.4 .4-.1 .4-.3 0 .1 .4-.7 .3-.9 .4-1.1 .4-1.4 .4-2 .1-.9 .3-2.9 .4-5.8 .4-8.4 .3-11 .4-11.1 .2-3.5 .2-1.7 .4 4.9 .4 11.1 .4 11.2 .4 8.1 .2 4.1 .1 1.9 .4 3.8 .4 2.3 .4 1.7 .4 .9 .3 .6 .1 .2 .4 .3 .4 .7 .3 .4 .4 0 .4 .3 0-.1 .4 .2 .4 .3 .4-.2 .4 .4 .3 .1 .1 0 .3 .4 .4-.2 .4-.2 .4 .2 .4 .1 .1-.1 .3-.2 .4-.1 .3 .5 .4-.2 .6 .4 2 .2 2-.4 .3 .2 1.5 .1 .2 .2 1.2 .1 .8 .1 .7-.2 1.3-.1 .2 0 1.5 0 .3-.1 1.2-.1 .8 .4 .7 0 1.3 .1 .2-.2 1.4-.2 .4 0 1.1-.1 .9 0 .6-.1 1.4 .2 .1 .1 1.5 .1 .4 0 1.1-.2 .9 .4 .6 0 1.4-.1 .1 0 1.4-.1 .5 0 1-.2 1 .2 .5 .1 1.5 0 0-.1 1.5-.1 .5 0 1 0 1-.2 .5 .1 1.4-.1 .1-.2 1.4-.4 .6 0 .9-.2 1.1-.4 .4-.3 1.5-.7 .1-.1 1.4-.4 .6-.3 .9-.2 1.1 .4 .4 .4 1.4 .8 .2-.1 1.3 .6 .7 .2 .8 .2 1.2 .2" fill="none" stroke="#ff3838" stroke-width="4.2" stroke-linejoin="round" clip-path="url(#cd)"/>
<path d="M1356.7 656.6l2-.1 2 .5 2-.1 2-.2 2 0 2-.2 2-.1 2 .1 2-.1 2 .2 2-.1 2-.3 2 0 2 0 2-.2 2 .3 2 0 2 .3 2-.2 2 0 2 .1 2 .1 2-.2 2 .3 2-.2 2 .2 2-.2 2 0 2-.2 2 .1 2 .4 2-.2 2 .2 2 0 2-.2 2 .1 2 .1 2-.2 2-.1 2 .2 2-.1 2 .3 2-.1 2-.3 2 0 2-.2 2 .2 2 .1 2-.1 2-.1 2 .2 2-.1 2 .2 2-.3 2 0 2 0 2-.1 2 .5 2 .1 2-.3 2 .1 2-.4 2 .3 2 .1 2-.1 2-.1 2 0 2 .1 2-.1 2-.1 2 0 2 0 2 .2 2-.1 2 .1 2-.3 2 0 2 0 2 0 2 .1 2 0 2-.2 2 .3 2 .1 2-.1 2 .1 2-.2 2-.1 2 0 2 .4 2-.1 2-.3 2 .1 2 0 2-.1 2 .2 2-.3 2-.1 2 0 2 .4 2 0 2-.1 2-.1 2 .2 2 .2 2-.2 2 0 2 .4 2-.1 2-.2 2 0 2 0 2 0 2 0 2-.1 2 0 2 0 2-.1 2 .1 2-.2 2 .3 2 .2 2-.3 1.9 .1 .1 0 1.4-.1 .6 0 .9 0 1.1 .1 .4-.2 1.5 .2 .1-.1 1.4-.2 .6 .1 .9 .1 1.1 0 .4 0 1.4-.1 .2 0 1.3 .2 .7-.3 .8 .2 1.2 0 .3-.1 1.5 0 .2 0 1.3 0 .7 0 .8 0 1.2-.3 .2-.2 1.5 .3 .3 0 1.2 0 .8 0 .7-.1 1.3 .3 .2 0 1.5-.1 .3-.2 1.2 .2 .8 0 .7 .1 1.3-.1 .1-.3 1.5-.4 .4 .2 1.1-.5 .9-.4 .6-.3 1.4-.8 .1 0 1.5-1.4 .4-.3 1.1-1 .9-.2 .5 0 1.5 .2 0 .3 1.5 1.1 .5 .2 1 .8 1 .6 .5 .4 1.5 .7 0 0 1.5 .4 .5-.3 .9 .3 1.1 .3 .4 .2 1.5 0 .1-.2 1.4-.3 .6 .1 .9 .4 .6-.1 .4-.2 .1-.3 .3 .2 .1 0 .2 .1 .4 0 .4-.5 .4 .1 .1 .2 .1-.1 .2-.2 .4-.1 .4-.1 .4 .4 .3 0 .3-.3 .1 .1 .4-.4 .3-.2 .1-.1 .4-.2 .4-.1 .3 .1 .1-.2 .2-.4 .1-.2 .4-.5 .4-.6 .4-1.1 .2-.5 .2-.4 0 0 .4-2 .4-2.8 .4-4.5 .1-2.5 .2-4.9 .4-10.1 .1-1 .3-11.9 .4-13 .1-2.4 .3-3.9 .4 6 .4 13.4 .1 3.9 .2 9.2 .1 .9 .3 9.7 .4 7 .4 4.3 .4 2.5 0-.1 .2 1 .2 .9 .4 1.3 .3 .8 .3 .7 .1 .3 .4 .3 .3 0 .1 .3 .4 .6 .2 .1 .2 .1 .4 0 .4 .1 .3 .3 0 .1 .2 0 .2 .2 .4 .2 .4 0 .4-.1 .1-.1 .3 .2 0 0 .4 .1 .3 .2 .4-.1 .1 0 .3 .2 .4-.2 .1-.3 .3 .2 .4 .3 1.3 0 .2 0 1.5-.2 .3 .4 1.1-.2 .9 0 2 .2 2 .4 2-.1 2-.2 2-.1 2 0 2 0 2 0 2 .1 2 .3 2-.2 2 .2 2-.4 2 .5 2-.2 2-.1 2 0 2 .1 2 0 2-.1 2-.1 2 0 2 .1 2 0 2-.1 2-.1 2 .1 2 .2 2-.2 2 .3 2-.1 2 0 2-.2 2 .2 2 .2 2 .2 2-.3 2-.1 2 .1 2 .1 2-.2 2 0 2 .2 2 0 2-.1 2 .1 2-.3 2 .1 2-.1 2 0 1.9 .2 2.1 .2 1.9-.1 2.1-.1 2 .2 1.9 0 2.1-.5 1.9 0 2 0 2 0 2-.1 2 .2 2 .1 2 .3 2-.2 2 0 2-.2 2 .2 2 .2 2 .1 2 0 2-.3 2 .1 2-.2 2-.1 2 0 2 .4 2-.3 2-.1 2 .1 2 .2 2 0 2 0 2-.2 2-.1 2 .3 2-.1 2-.1 2-.1 2 .3 2 .2 2-.2 2-.2 2 .3 2-.3 2 0 2 .1 2 0 2-.1 2 .3 2-.1 2-.3 2 0 2 .2 2 0 2-.2 2 .2 2 0 2 0 2 0 2-.1 2 0 2 .1 2-.1 2 .2 2-.3 2 .4 2-.1 2-.1 2-.2 2 .2 2-.2 2 .1 2 0 2-.1 2 .3 2-.1 2-.1 2 0 2 0 2 0 2 .2 2-.2 2 0 2 0 2-.1 2 .2 2-.2 2-.2 2 .3 2-.1 2 .2 2 0 2 0 2 0 2 .2 2-.3 2 .2 2-.1 2 0 2-.1 2 .1 2 0 2-.1 2 0 2 .1 2-.1 2 .4 2-.1 2-.2 2 .1 1.9-.1 .1-.1 .8-.1 .9-.2 .3 .3 .6 .2 .9-.1 .5-.2 .3-.2 .9 0 .8 .1 .1 0 .9 .1 .9-.1 .1 .1 .8 0 .9 0 .3 .1 .6 0 .9-.2 .5 .1 .4-.2 .9 0 .7 .1 .2 .1 .9-.2 .8 0 .1 0 .8-.1 .9 .1 .3 0 .6-.1 .9 .3 .5-.2 .4 0 .9-.5 .7 0 .2 0 .9-.6 .9-1.1 0 .1 .9-.9 .9-.7 .2-.2 .6-.3 .9 .4 .5 .7 .4 .5 .9 .6 .7 .6 .2 .3 .9 .5 .9 .4 0-.1 .9 .4 .9 .1 .2-.1 .7 .2 .9 .1 .4 .1 .5-.2 .8-.3 .7 .2 .2 0 .9-.2 .9-.5 0 .4 .9 .2 .9-.1 .2 .1 .7 .1 .9-.2 .4 .3 .5-.2 .9 .1 .6 0 .3 0 .9-.1 .8 .2 .1-.2 .8 .1 .9 .3 .2-.2 .7-.3 .9 .1 .4-.4 .5 .2 .9 0 .6 .1 2 0 2 .2 2 .1 2-.2 2 .3 1.9-.2 .1 .2 1.2-.1 .8-.2 .5 0 1.3 .3 .2-.1 1.1 0 .9-.3 .4 .1 1.3 0 .3 0 1 0 1-.2 .4 .4 1.3-.2 .3 .2 1 0 1 0 .3 0 1.3 0 .4-.1 .9 0 1.1 0 .2 0 1.3-.1 .5-.4 .8 .2 1.2-.1 .1 .4 1.3 .1 .6-.1 .7 0 1.3-.4 .1 .1 1.3-.1 .6 .3 .7-.3 1.3 .2 0-.2 1.3-.6 .7 .1 .6-.3 1.3-.8 .1 .1 1.2-1.4 .8-.9 .5-.5 1.3-1.1 .2-.2 1.1-.4 .9 0 .4 .4 1.3 1.2 .3 .3 1.1 1.2 .9 1.1 .4 .1 1.3 .9 .3 .1 1 .4 1 .1 .3 .3 1.3-.1 .4-.1 .9 .3 1.1-.1 .2 .2 1.3 .1 .5-.3 .8 0 1.2 .1 .1 0 1.3-.1 .6 .1 .8 .1 1.2-.1 .1 .1 1.3 0 .6-.2 .7 .1 1.3 .2 0 .1 1.3-.2 .7-.1 .6 .1 1.3 .1 .1 .1 1.2-.1 .8 .1 .5-.2 1.3 .3 .2-.1 1.1-.2 .9-.1 .5-.2 1.3 0 .2 .1 1.1 .2 .9 .2 .4-.3 1.6-.1 2 .1 2 .1 .6-.1 .4 0 .4-.3 .4-.1 .2-.2 .2 .1 .4 .2 .3 .2 .4-.3 .4 0 .3 .1 .1-.3 .4-.3 .4-.1 .4-.3 .3 .2 .4-.1 0-.1 .4-.1 .4-.1 .4-.4 .4-.5 .4-.3 0-.1 .4-.5 .3-.8 .4-1.1 .4-1.8 .4-2.3 .1-.9 .3-2.8 .4-6.4 .4-9 .3-11.3 .4-12 .2-3.5 .2-1.6 .4 5.3 .4 11.7 .4 11.5 .4 8.8 .2 4.4 .1 1.9 .4 4 .4 2.4 .4 1.6 .4 1 .3 .8 .1 0 .4 .9 .4 .5 .3 .1 .4 .5 .4-.3 0 .4 .4 0 .4 0 .4 .4 .4-.1 .3 .1 .1 .2 .3-.2 .4 .2 .4 .3 .4-.1 .4 .3 .1-.2 .3 .3 .4 0 .3 0 .4-.1 .6-.1 2 .3 2-.1 .3 .1 1.5 .1 .2 .1 1.2 .1 .8-.2 .7-.2 1.3 .2 .2 0 1.5 .2 .3-.4 1.2 .1 .8 .2 .7-.1 1.3-.2 .2 .1 1.4 .3 .4-.2 1.1-.1 .9-.1 .6 0 1.4-.1 .1 .7 1.5-.2 .4 .1 1.1 .1 .9-.3 .6 .1 1.4 .2 .1 0 1.4 0 .5-.3 1-.1 1 0 .5 .3 1.5-.3 0 .1 1.5 .1 .5 0 1-.1 1-.2 .5 .1 1.4-.3 .1 .1 1.4-.4 .6-.1 .9-.3 1.1-.5 .4 .1 1.5-1 .1 .1 1.4-.6 .6-.1 .9-.4 1.1 .3 .4 .2 1.4 .9 .2 .1 1.3 .6 .7 .2 .8 .3 1.2 .4" fill="none" stroke="#0068e0" stroke-width="4.2" stroke-linejoin="round" clip-path="url(#cd)"/>
<path d="M1356.7 585.8l2-.3 2 0 2 0 2-.1 2-.1 2 0 2 .1 2 .1 2 .2 2-.1 2 .1 2 0 2-.1 2-.1 2-.1 2-.2 2 .1 2 .1 2 .1 2 0 2-.2 2 0 2-.1 2 .3 2 0 2 0 2-.1 2-.2 2 .1 2 .1 2 .1 2-.2 2 .1 2-.1 2 0 2 .1 2 0 2 .1 2 .1 2 0 2-.1 2 0 2 .1 2 0 2 0 2-.3 2 0 2 0 2 .2 2 0 2 .1 2 0 2-.2 2 0 2 .1 2 .1 2-.3 2 .2 2-.1 2-.3 2 .1 2-.1 2 0 2 .4 2 .3 2 0 2-.1 2 .2 2-.2 2-.2 2-.4 2 .3 2-.3 2-.2 2 .2 2 .2 2 0 2 .2 2 0 2 0 2 .1 2-.2 2 .1 2 .3 2-.3 2 0 2 .1 2-.2 2 .1 2-.3 2 .1 2 .1 2 .2 2 .1 2-.2 2-.2 2 .4 2 0 2-.4 2 0 2 0 2 0 2-.2 2 .1 2 .1 2 0 2 .3 2 0 2-.3 2-.2 2 .1 2 .3 2 .1 2-.1 2 .1 2 0 2-.2 2 .1 2 0 2-.2 2 0 2 .1 2 .2 1.9-.2 .1 .1 1.4 0 .6-.1 .9-.1 1.1 .2 .4 .2 1.5 .1 .1-.1 1.4 .1 .6-.1 .9 0 1.1-.2 .4 0 1.4-.1 .2-.1 1.3 0 .7-.1 .8-.1 1.2 .1 .3 0 1.5 .4 .2 .2 1.3-.1 .7 0 .8-.3 1.2 0 .2-.2 1.5 0 .3 0 1.2 0 .8 .2 .7-.2 1.3 .4 .2-.2 1.5 0 .3-.3 1.2 .2 .8-.3 .7 .1 1.3-.1 .1 .1 1.5-.2 .4 0 1.1-.4 .9-.1 .6-.5 1.4-.8 .1-.2 1.5-1 .4-.5 1.1-.7 .9-.2 .5-.2 1.5 .5 0 0 1.5 1.2 .5 .2 1 1 1 .5 .5 .1 1.5 .7 0 .1 1.5 .4 .5 .1 .9 .1 1.1-.3 .4 .1 1.5 0 .1 0 1.4 .1 .6-.2 .9 .2 .6 .2 .4-.2 .1-.2 .3 .1 .1-.1 .2 0 .4 .1 .4-.5 .4 .1 .1-.3 .1 0 .2 .2 .4-.3 .4-.1 .4 0 .3 0 .3 0 .1 0 .4-.3 .3-.3 .1 .1 .4-.4 .4-.3 .3 0 .1-.3 .2-.3 .1 .1 .4-.6 .4-1.1 .4-.8 .2-.3 .2-.2 0-.4 .4-1.9 .4-3.1 .4-4.9 .1-2.9 .2-4.8 .4-10.9 .1-1.4 .3-13.1 .4-14.3 .1-2.4 .3-4 .4 6.6 .4 14.3 .1 4.3 .2 10.1 .1 .7 .3 10 .4 7.7 .4 4.8 .4 3.1 0 0 .2 1 .2 1.1 .4 1 .3 1.2 .3 .5 .1 0 .4 .5 .3 .1 .1 .1 .4 .8 .2 .1 .2 .1 .4 .3 .4 .3 .3-.1 0 .1 .2 .1 .2 .2 .4 .1 .4 .3 .4-.1 .1-.1 .3-.1 0 .1 .4 .2 .3 0 .4 0 .1-.1 .3 0 .4 .1 .1 .1 .3 .2 .4 .1 1.3 .1 .2 .1 1.5-.1 .3 .2 1.1-.1 .9-.2 2 0 2 .1 2-.1 2 .5 2-.1 2 .1 2-.3 2 .1 2 0 2-.1 2 .1 2 0 2 .1 2-.2 2 .1 2 0 2-.1 2-.3 2 .2 2 .1 2 .4 2-.3 2 .3 2 .1 2-.1 2-.1 2 0 2-.3 2 .3 2-.1 2-.1 2 0 2-.4 2 .1 2 0 2-.1 2 .3 2 .4 2-.1 2-.1 2 0 2-.1 2 .1 2 0 2 0 2-.1 2 .1 2 0 2 .1 2-.3 1.9-.1 2.1 .1 1.9 .2 2.1-.2 2 .3 1.9 .1 2.1-.2 1.9 .2 2-.4 2 0 2-.1 2 .3 2 .1 2 0 2-.1 2-.2 2 .1 2 0 2 .1 2-.2 2 .1 2 .1 2-.3 2-.1 2 .1 2 0 2-.1 2 .2 2-.1 2 .1 2-.2 2 0 2 .3 2-.2 2 .1 2 .3 2 .1 2-.3 2 .3 2-.2 2 .1 2 .1 2-.2 2 .1 2-.5 2 .2 2 .1 2 0 2 0 2 .2 2 .1 2-.2 2 .1 2 .1 2-.1 2 0 2-.4 2-.1 2 .2 2-.1 2 .2 2 .2 2-.2 2-.1 2 0 2 .1 2 .2 2-.1 2 0 2-.2 2 .1 2-.1 2 .2 2 .1 2-.3 2 .1 2-.1 2 .2 2-.2 2 .3 2 .1 2 .2 2-.2 2-.1 2 .1 2-.3 2 0 2 0 2 0 2-.2 2-.1 2-.1 2 .5 2-.1 2 .1 2 0 2-.1 2 .2 2-.4 2 .1 2 0 2-.1 2-.1 2-.1 2 .1 2 .3 2-.1 2 0 2 .1 2 .1 2 .1 1.9 0 .1-.1 .8 0 .9-.1 .3 0 .6 .3 .9-.2 .5-.2 .3-.2 .9 .2 .8 .1 .1 0 .9-.1 .9 .3 .1-.1 .8 .1 .9-.2 .3 .2 .6 0 .9-.1 .5-.1 .4 .3 .9-.3 .7-.2 .2-.3 .9 .3 .8 .1 .1 0 .8-.2 .9 .1 .3-.1 .6-.1 .9 0 .5 .1 .4 0 .9-.3 .7 0 .2-.1 .9-.6 .9-.6 0 0 .9-.7 .9-.8 .2-.1 .6-.4 .9 .5 .5 .5 .4 .1 .9 1.1 .7 .4 .2 0 .9 .5 .9 .1 0 .3 .9-.1 .9 .4 .2-.1 .7 0 .9 .3 .4-.1 .5-.3 .8 .1 .7-.2 .2 .3 .9-.1 .9 .1 0 0 .9-.2 .9 .2 .2 .3 .7-.2 .9-.1 .4 .1 .5 .2 .9-.2 .6 0 .3 .1 .9 .1 .8-.2 .1 .4 .8 .1 .9-.4 .2-.2 .7 .1 .9-.1 .4 0 .5 .1 .9-.1 .6 0 2 .1 2 0 2 0 2 .2 2 .1 1.9-.1 .1 .2 1.2-.2 .8 0 .5 .2 1.3-.2 .2 .1 1.1-.2 .9-.1 .4 0 1.3 .1 .3 0 1 .1 1-.1 .4 0 1.3-.2 .3 .1 1 0 1 0 .3-.2 1.3 .3 .4 .1 .9-.1 1.1-.1 .2 .1 1.3-.1 .5-.1 .8 .1 1.2-.1 .1 0 1.3-.1 .6 .1 .7 0 1.3 .1 .1 0 1.3-.1 .6-.1 .7 0 1.3-.3 0-.2 1.3-.1 .7-.2 .6-.2 1.3-.5 .1-.1 1.2-.9 .8-.9 .5-.7 1.3-1.4 .2 .2 1.1-.4 .9 .1 .4 .5 1.3 1.4 .3 .2 1.1 1.1 .9 .6 .4 0 1.3 .5 .3 .5 1 .1 1 .2 .3 .1 1.3 .3 .4-.3 .9 .2 1.1 0 .2 .3 1.3 0 .5-.1 .8 .3 1.2-.1 .1 .1 1.3-.1 .6 0 .8 .1 1.2-.2 .1-.2 1.3 0 .6 .2 .7 0 1.3 .2 0 0 1.3 0 .7 .1 .6-.1 1.3 0 .1-.1 1.2-.1 .8 0 .5 .2 1.3 .1 .2 0 1.1-.1 .9-.1 .5 0 1.3-.1 .2 0 1.1-.1 .9 0 .4-.3 1.6 .1 2 .1 2-.2 .6 .3 .4-.1 .4-.2 .4 .2 .2-.3 .2 .4 .4-.3 .3 0 .4 .1 .4-.2 .3-.1 .1-.2 .4-.1 .4-.1 .4 0 .3-.5 .4 0 0-.1 .4-.3 .4-.1 .4-.4 .4-.2 .4-.8 0 .1 .4-.7 .3-.8 .4-1.1 .4-2 .4-2.6 .1-.7 .3-3.6 .4-7.1 .4-9.8 .3-12.8 .4-13.5 .2-4.1 .2-1.9 .4 6.1 .4 13.1 .4 12.8 .4 10 .2 5 .1 2.1 .4 4.5 .4 2.8 .4 2 .4 1.1 .3 .7 .1-.1 .4 .7 .4 .7 .3 .4 .4 .4 .4 .1 0 .1 .4 .1 .4 0 .4 .1 .4 .4 .3 .2 .1-.1 .3 0 .4 .2 .4 0 .4 .2 .4 0 .1-.1 .3 0 .4-.1 .3 0 .4 .1 .6 0 2 .2 2 0 .3 0 1.5 .2 .2-.2 1.2-.2 .8 .5 .7 0 1.3 .1 .2 .1 1.5 .1 .3 .1 1.2 0 .8-.1 .7 0 1.3-.1 .2-.1 1.4-.5 .4 .5 1.1 0 .9-.2 .6 .3 1.4-.2 .1 .1 1.5-.1 .4-.1 1.1 .2 .9 0 .6-.2 1.4 .2 .1 .1 1.4-.1 .5 .1 1 .1 1 0 .5 0 1.5 0 0 .1 1.5-.2 .5-.1 1-.1 1 .4 .5-.4 1.4-.2 .1-.3 1.4-.1 .6-.1 .9-.2 1.1-.2 .4 0 1.5-.7 .1-.3 1.4-.6 .6-.1 .9-.2 1.1 .3 .4 .2 1.4 .6 .2 .3 1.3 .2 .7 .3 .8 .4 1.2 .1" fill="none" stroke="#00a95e" stroke-width="4.2" stroke-linejoin="round" clip-path="url(#cd)"/>
<path d="M1356.7 509.4l2-.2 2 .4 2 .4 2-.2 2 .1 2 0 2-.1 2 0 2 0 2-.2 2-.3 2-.2 2 .3 2 .1 2 0 2-.4 2 .2 2 .1 2-.1 2 0 2 .4 2 .1 2 0 2-.1 2-.2 2 0 2 .1 2-.2 2 0 2 .3 2-.3 2-.1 2 .4 2 0 2-.1 2-.2 2-.2 2 .4 2-.5 2 .3 2-.1 2 .1 2-.3 2 .4 2 .1 2 0 2 0 2-.3 2 .1 2 .2 2-.1 2-.5 2 .2 2 .2 2-.1 2 .1 2 .3 2-.1 2 .1 2-.2 2-.1 2 .1 2-.2 2-.2 2 .3 2 0 2 .2 2-.2 2 0 2 .1 2-.1 2 0 2 .1 2-.1 2 .1 2-.3 2 .3 2 .4 2-.1 2-.2 2-.3 2-.1 2 .1 2 0 2 .2 2 0 2 .1 2-.1 2 .1 2 .2 2-.3 2 0 2 0 2 0 2 .2 2-.2 2-.1 2-.2 2-.1 2 .2 2 .2 2 0 2-.1 2 0 2-.1 2 .3 2 0 2 .2 2-.1 2 0 2-.2 2 .1 2-.1 2-.1 2 .1 2 .2 2 0 2 .2 2-.1 2-.4 2 0 2 .3 2 0 1.9-.1 .1-.1 1.4 0 .6 .1 .9-.1 1.1 0 .4 0 1.5-.2 .1 .1 1.4-.1 .6 0 .9 0 1.1 0 .4 0 1.4 .4 .2-.2 1.3 .1 .7-.2 .8 .1 1.2 0 .3 .3 1.5 .1 .2-.3 1.3 .2 .7-.1 .8 .1 1.2-.2 .2 .1 1.5-.1 .3-.3 1.2 .2 .8-.1 .7 0 1.3 .1 .2 .1 1.5 .3 .3-.4 1.2-.1 .8-.1 .7 .2 1.3-.1 .1-.1 1.5 .1 .4 0 1.1 0 .9-.3 .6 0 1.4 0 .1-.1 1.5 .1 .4-.2 1.1-.3 .9-.1 .5 .2 1.5 .2 0-.2 1.5 .3 .5-.1 1 0 1 0 .5 .2 1.5 0 0 .1 1.5 .3 .5 0 .9-.2 1.1-.1 .4 .1 1.5-.4 .1 .2 1.4-.1 .6 .2 .9-.2 .6-.1 .4 .2 .1 0 .3 .2 .1-.3 .2-.1 .4 .2 .4-.1 .4-.3 .1-.1 .1 .1 .2-.1 .4-.3 .4 .1 .4 0 .3 .1 .3 0 .1-.1 .4-.4 .3-.3 .1-.1 .4 0 .4-.1 .3-.6 .1 .1 .2-.1 .1 0 .4-.5 .4-.7 .4-1 .2-.7 .2-.6 0-.1 .4-2 .4-2.8 .4-4.4 .1-2.5 .2-4.6 .4-10.5 .1-1.2 .3-12.2 .4-13.3 .1-2.4 .3-3.7 .4 6.2 .4 13.5 .1 4 .2 9.3 .1 .4 .3 9.6 .4 7.3 .4 4.2 .4 3.1 0 .1 .2 1.1 .2 .8 .4 1.3 .3 .7 .3 .5 .1 0 .4 .7 .3 .2 .1 .1 .4 .3 .2 .1 .2 .3 .4 .2 .4 .2 .3 .4 0-.2 .2 0 .2-.1 .4 .2 .4 .2 .4-.1 .1 .2 .3-.2 0 .1 .4 .2 .3-.1 .4 .4 .1 0 .3-.2 .4 .2 .1 .1 .3-.1 .4-.1 1.3 .4 .2 .3 1.5-.1 .3 .3 1.1-.5 .9-.2 2 .2 2 0 2 .1 2 .4 2-.3 2 .1 2 0 2-.3 2 .1 2-.1 2 .1 2 .3 2 .1 2 .1 2-.2 2-.1 2 .3 2-.2 2 0 2 .1 2-.1 2 0 2-.1 2 .1 2 .1 2-.3 2 0 2 0 2 0 2 .1 2 .2 2-.4 2 .4 2-.2 2-.1 2-.1 2 .1 2 .1 2-.3 2-.1 2 .4 2 0 2-.3 2 .1 2 0 2 .4 2-.2 2-.1 2 0 2 .1 1.9 .1 2.1 0 1.9 .2 2.1-.1 2 .1 1.9-.1 2.1 0 1.9 .1 2 .1 2-.3 2 .3 2-.5 2 0 2 0 2 .1 2 .2 2-.4 2-.1 2 .3 2 .3 2-.3 2-.1 2 .1 2 .1 2-.3 2 .1 2-.1 2-.1 2 .1 2 0 2-.1 2 .5 2-.2 2-.2 2 .4 2-.2 2-.1 2-.3 2-.1 2 .5 2-.1 2 0 2 0 2 .1 2 .3 2-.4 2-.2 2 .4 2 .1 2 0 2 .1 2-.2 2 .1 2 .1 2 .1 2-.2 2-.3 2-.1 2 .1 2 0 2 .2 2-.2 2 .1 2-.1 2 .1 2 .2 2 .1 2-.2 2-.1 2 .2 2-.1 2 .1 2 .1 2-.2 2 0 2 .3 2-.1 2-.3 2 .2 2-.1 2-.1 2 .1 2 .1 2-.2 2 .1 2 0 2 .1 2-.1 2-.2 2 .1 2 .1 2 0 2 .1 2-.1 2-.2 2 .1 2 .2 2-.4 2 .2 2 .2 2 0 2 0 2-.2 2 .1 2 0 2-.2 2 .2 2 .1 2-.1 2 .3 2-.2 1.9 0 .1 0 .8-.1 .9 0 .3-.1 .6-.3 .9-.1 .5 .2 .3 .4 .9-.2 .8-.4 .1 .3 .9-.1 .9-.1 .1 .2 .8 .1 .9 0 .3-.1 .6-.1 .9 .2 .5 .1 .4 .1 .9 0 .7 0 .2-.2 .9 0 .8 0 .1-.2 .8 .3 .9 .1 .3-.3 .6-.1 .9 0 .5 0 .4-.1 .9-.1 .7 0 .2-.2 .9-.5 .9-.3 0-.2 .9-.7 .9-.7 .2-.1 .6-.2 .9 .3 .5 .4 .4 .3 .9 .5 .7 .4 .2 .2 .9 .5 .9 .2 0 .1 .9 .1 .9 0 .2 0 .7 .4 .9-.1 .4-.1 .5 .1 .8 0 .7-.1 .2 .2 .9-.5 .9 .3 0 .1 .9 .1 .9-.1 .2-.4 .7 0 .9 .2 .4-.1 .5 .3 .9 .3 .6-.4 .3 .1 .9 .1 .8 .3 .1-.3 .8 0 .9 .1 .2-.3 .7-.1 .9 .2 .4 0 .5-.2 .9-.1 .6 .1 2 0 2 .2 2 0 2 .2 2-.2 1.9-.1 .1 .1 1.2 .1 .8-.2 .5-.1 1.3-.1 .2 0 1.1 .1 .9 .1 .4-.1 1.3-.1 .3 0 1 .4 1 0 .4 0 1.3-.2 .3-.1 1 0 1 0 .3-.1 1.3 .1 .4 0 .9 .1 1.1 .1 .2 0 1.3-.1 .5 .3 .8 .1 1.2-.1 .1 0 1.3-.2 .6 0 .7 .1 1.3 0 .1-.3 1.3 0 .6-.2 .7 0 1.3 .1 0-.4 1.3-.3 .7 0 .6 0 1.3-.6 .1 .2 1.2-1 .8-.8 .5-.4 1.3-1 .2 .2 1.1-.1 .9 0 .4 .2 1.3 1 .3 .2 1.1 .7 .9 .5 .4 .4 1.3 .7 .3-.1 1 .1 1 .2 .3 .4 1.3-.1 .4-.1 .9 .2 1.1-.1 .2 0 1.3 .2 .5-.2 .8 0 1.2 .3 .1 0 1.3 .1 .6-.1 .8 0 1.2-.2 .1 .2 1.3 .1 .6 .1 .7-.3 1.3 0 0 .1 1.3 .1 .7-.2 .6 .1 1.3-.1 .1 0 1.2-.1 .8 .1 .5 .1 1.3-.2 .2 .2 1.1-.2 .9 .1 .5 .2 1.3-.3 .2-.3 1.1 .3 .9 .1 .4 0 1.6 0 2-.2 2 0 .6-.1 .4 .1 .4-.2 .4 .4 .2-.3 .2-.4 .4-.1 .3-.1 .4 .3 .4 .1 .3-.1 .1 0 .4-.2 .4 .1 .4-.4 .3 .2 .4-.3 0 .2 .4-.7 .4-.2 .4-.2 .4-.4 .4-.6 0 .2 .4-.5 .3-1 .4-1.2 .4-1.6 .4-2.5 .1-.9 .3-2.9 .4-6.2 .4-9.1 .3-12 .4-11.6 .2-4.1 .2-1.5 .4 5.3 .4 11.8 .4 12 .4 8.8 .2 4.4 .1 1.9 .4 4.2 .4 2.5 .4 1.7 .4 1.1 .3 .7 .1 .2 .4 .6 .4 .5 .3 .1 .4-.1 .4 .3 0 0 .4 .3 .4 .3 .4 .2 .4 0 .3-.1 .1 .3 .3 .2 .4 .1 .4 .2 .4 0 .4-.2 .1 0 .3 .1 .4 .2 .3 0 .4 0 .6-.2 2 .2 2 .4 .3-.3 1.5 .2 .2 .1 1.2 .1 .8 0 .7 0 1.3-.1 .2 0 1.5-.1 .3-.1 1.2 0 .8 .1 .7 .3 1.3-.2 .2 0 1.4 0 .4 .2 1.1-.1 .9 .1 .6-.3 1.4 .3 .1 .1 1.5 .1 .4-.2 1.1-.1 .9 .1 .6-.3 1.4-.2 .1 .3 1.4 0 .5 .1 1 .1 1-.3 .5 .2 1.5-.1 0-.1 1.5-.3 .5 .1 1 0 1 .3 .5-.2 1.4 .1 .1 0 1.4 0 .6-.3 .9-.3 1.1-.3 .4-.1 1.5-.6 .1 0 1.4-.2 .6-.7 .9 .2 1.1 .2 .4 0 1.4 .6 .2 .1 1.3 .5 .7 .2 .8 .1 1.2 .3" fill="none" stroke="#be70e2" stroke-width="4.2" stroke-linejoin="round" clip-path="url(#cd)"/>
<path d="M1356.7 435.3l2 .3 2 0 2-.1 2 .1 2-.2 2 .4 2 0 2-.2 2 .1 2-.3 2 .1 2 .2 2 .1 2-.1 2-.3 2 .1 2-.2 2 .1 2 0 2-.1 2 .2 .8 .3 1.2 .1 0-.2 1.2-.2 .8-.1 .4 0 1.2 .1 .4 .1 .8-.1 1.1 0 .1-.2 1.1 0 .9 .3 .3 .2 1.2-.1 .5-.1 .7 0 1.2-.2 .1-.1 1.1 .2 .9-.2 .3 .2 1.2-.2 .5 .1 .6 .3 1.2 0 .2-.2 1 0 1-.2 .2 .2 1.2-.2 .6 0 .6-.1 1.2 .1 .2 0 1-.1 1 .1 .2 0 1.2 .1 .6 0 .5 0 1.2-.6 .3 0 .9-.2 1.1-.3 .1-.2 1.2-.3 .7 0 .5-.3 1.2 0 .3 .1 .9 .4 1.1 .3 .1 .1 1.1 .3 .8 .1 .4-.1 1.2 .7 .4 .1 .8 .1 1.2-.3 0 .2 1.2-.1 .8-.2 .4 0 1.2 .1 .4 .3 .8 0 1.1-.1 .1 0 1.1 .1 .9-.3 .3 .3 1.2 0 .5 .1 .7 .1 1.2-.2 .1 .3 1.1-.3 .9-.1 .3-.3 1.2 .3 .5 0 .6-.1 1.2 0 .2 .1 1 .2 1 0 .2-.1 1.2-.2 .6-.2 .6 0 1.2 .2 .2 0 1 .3 1 .1 .2-.2 1.8 0 2 0 2-.2 2 0 2-.2 2 .1 2 .3 2-.1 2 .2 2-.1 2 .1 2 0 2-.2 2-.2 2 .2 2 .1 2 0 2-.1 2-.4 2 .1 2 .3 2 .2 2-.1 2-.1 2 .1 2-.1 2 .1 2 .2 2-.3 2 0 2 0 2 .1 2 0 2 .1 2 0 2-.2 2 0 2 .2 2-.3 2 0 2-.3 2 .1 2 .4 2 .3 2-.3 2 .3 2-.1 2-.1 2-.1 2 .1 2-.3 2 .3 2-.1 2 0 2-.3 2 .5 2 0 2-.1 2-.1 2 .1 2-.2 2 .1 2 .1 2-.2 2-.1 2 .2 1.9-.2 .1 0 1.4 .1 .6 .3 .9 .1 1.1-.3 .4 .3 1.5-.4 .1-.1 1.4 .1 .6 .2 .9 0 1.1 0 .4-.4 1.4-.1 .2 .1 1.3 .2 .7 0 .8-.1 1.2 .1 .3 .2 1.5-.6 .2 .4 1.3 .3 .7-.1 .8-.2 1.2 0 .2 0 1.5 .3 .3-.1 1.2 0 .8 .1 .7-.1 1.3-.2 .2-.3 1.5 .1 .3 .2 1.2 .1 .8-.3 .7 0 1.3 .1 .1 .2 1.5-.1 .4-.1 1.1 0 .9 .1 .6 0 1.4-.1 .1 0 1.5 0 .4-.1 1.1 .1 .9 0 .5-.2 1.5 .4 0-.1 1.5 .1 .5 .2 1-.2 1-.2 .5 0 1.5-.1 0 0 1.5 .1 .5-.1 .9 .1 1.1 0 .4 .2 1.5-.1 .1 0 1.4-.1 .6-.2 .9-.1 .6-.2 .4-.1 .1 .4 .3-.3 .1 .2 .2-.1 .4-.2 .4 0 .4 .1 .1 .1 .1 0 .2-.1 .4-.1 .4-.3 .4-.1 .3 0 .3 .1 .1-.2 .4-.2 .3-.2 .1 0 .4-.4 .4-.1 .3-.2 .1-.1 .2 .1 .1-.4 .4-.5 .4-.5 .4-1 .2-.4 .2-.7 0 0 .4-1.7 .4-2.5 .4-4.7 .1-1.9 .2-4.2 .4-9.8 .1-1.5 .3-11.4 .4-12.9 .1-2 .3-3.6 .4 5.6 .4 13.1 .1 3.5 .2 9.1 .1 .6 .3 8.8 .4 6.6 .4 4.4 .4 2.5 0 .1 .2 1.2 .2 .7 .4 1.5 .3 .7 .3 .1 .1 0 .4 .6 .3 .6 .1 0 .4 .1 .2 .1 .2 .4 .4 .4 .4 0 .3-.1 0-.1 .2 .3 .2-.1 .4 .2 .4 .1 .4 .4 .1-.4 .3 0 0 0 .4 .4 .3-.1 .4 .2 .1-.2 .3-.2 .4 .1 .1 .3 .3-.1 .4-.1 1.3 .2 .2-.1 1.5 .2 .3 .1 1.1 .2 .9 0 2 .3 2-.4 2 .2 2-.5 2 .3 2 0 2 0 2 0 2 .1 2 0 2 .1 2 0 2 .1 2 .3 2-.2 2 0 2-.3 2 .1 2-.1 2-.1 2 0 2 .4 2-.4 2-.1 2 0 2 .1 2 0 2 .2 2 0 2 0 2-.2 2 0 2 .2 2 .2 2-.2 2 .1 2-.2 2-.1 2-.1 2 .3 2 .3 2-.1 2 0 2 0 2-.1 2-.4 2 .3 2 .1 2 .1 2-.1 1.9-.1 2.1 .3 1.9 .1 2.1-.1 2-.3 1.9-.1 2.1-.1 1.9 .1 2 0 2 0 2 .2 2-.3 2-.2 2 .2 2 .2 2 0 2 .3 2-.2 2-.1 2 0 2-.2 2 .2 2 .1 2 .2 2-.5 2-.1 2 .3 2 .1 2-.1 2 .1 2 .1 2-.2 2 .2 2 0 2-.1 2-.1 2 .2 2-.1 2-.1 2-.2 2 0 2 .1 2-.1 2 0 2 .3 2-.2 2 .2 2 0 2-.4 2 .2 2 .1 2-.2 2 0 2 0 2 .1 2 0 2 .2 2 0 2 .1 2 .1 2-.3 2 .1 2 0 2-.2 2 .2 2 0 2 0 2 0 2-.2 2 .1 2 .2 2 .1 2-.1 2-.1 2-.1 2-.3 2 .1 2 0 2 .2 2 0 2 0 2 .2 2 0 2 0 2-.3 2 0 2-.1 2 .2 2 0 2-.1 2 0 2 0 2 .2 2 .2 2 0 2-.2 2 .2 2 0 2 0 2-.3 2 0 2 .1 2-.3 2-.1 2 .3 2-.2 2 .2 2 0 2 0 2 0 2-.1 1.9 .3 .1-.3 .8 0 .9 .1 .3 .1 .6-.1 .9-.1 .5 0 .3 .2 .9-.1 .8-.1 .1-.1 .9 .3 .9-.3 .1 .2 .8 0 .9-.1 .3 .2 .6 .1 .9-.1 .5 .1 .4-.1 .9-.1 .7-.2 .2 0 .9 .3 .8-.1 .1-.3 .8 .2 .9 0 .3-.1 .6 .1 .9-.1 .5-.3 .4 0 .9-.1 .7 .1 .2-.1 .9-.4 .9-.6 0 0 .9-.7 .9-.5 .2-.2 .6 0 .9 .2 .5 .7 .4 0 .9 .6 .7 .2 .2 .1 .9 .6 .9 .1 0 0 .9 .1 .9 .1 .2-.1 .7 .1 .9 .2 .4 0 .5-.1 .8 .1 .7-.3 .2 .4 .9-.1 .9 .2 0-.4 .9 .4 .9 .2 .2-.2 .7 .1 .9-.1 .4 0 .5-.1 .9 0 .6-.2 .3-.3 .9 .1 .8 .2 .1 .4 .8-.2 .9 .3 .2-.3 .7-.2 .9 0 .4 .1 .5-.1 .9 .3 .6-.1 2-.1 2-.1 2 0 2 .3 2-.3 1.9 .2 .1-.1 1.2-.1 .8 .1 .5-.3 1.3 .3 .2 .1 1.1 0 .9 0 .4-.2 1.3 .1 .3 0 1-.2 1 .1 .4 .1 1.3-.1 .3 0 1 .3 1-.1 .3 .2 1.3-.2 .4 0 .9-.1 1.1 0 .2 0 1.3-.2 .5 .2 .8-.1 1.2 0 .1-.2 1.3-.1 .6 .4 .7 .1 1.3-.4 .1 0 1.3 0 .6 .1 .7-.1 1.3-.1 0-.1 1.3-.2 .7 0 .6-.4 1.3-.7 .1 .1 1.2-.7 .8-.4 .5-.7 1.3-1.1 .2 .3 1.1-.4 .9 .5 .4 .3 1.3 .7 .3 0 1.1 1 .9 .5 .4 .4 1.3 .6 .3 .3 1 0 1 .2 .3 0 1.3 .2 .4 .2 .9-.1 1.1 0 .2-.2 1.3 .2 .5 .2 .8-.5 1.2 .3 .1-.2 1.3-.2 .6 .1 .8 .1 1.2 .2 .1 .1 1.3-.2 .6 .1 .7 0 1.3-.1 0-.2 1.3 .1 .7 .1 .6-.1 1.3 0 .1 .1 1.2 .1 .8 .1 .5-.1 1.3-.3 .2 0 1.1 .3 .9-.2 .5 0 1.3 0 .2-.2 1.1 .2 .9 .1 .4-.1 1.6-.2 2 0 2-.1 .6 0 .4 .1 .4 0 .4-.2 .2 .1 .2 .1 .4-.1 .3-.1 .4 0 .4-.2 .3 .1 .1-.1 .4 .1 .4 0 .4-.4 .3-.3 .4 .1 0 .2 .4-.3 .4-.5 .4-.6 .4 .1 .4-.4 0-.2 .4-.7 .3-.5 .4-1.3 .4-1.9 .4-2.2 .1-.9 .3-2.7 .4-6.1 .4-8.7 .3-11.3 .4-11.6 .2-3.4 .2-1.9 .4 5.3 .4 11.5 .4 11.3 .4 8.8 .2 4.1 .1 2 .4 3.6 .4 2.7 .4 1.7 .4 1.1 .3 .7 .1 .1 .4 .7 .4 0 .3 .7 .4-.1 .4 .2 0 0 .4 .6 .4 .2 .4 .2 .4-.1 .3 0 .1-.1 .3 .1 .4 .2 .4 .3 .4 .1 .4 0 .1-.2 .3 0 .4 0 .3 .2 .4 0 .6 .2 2 .4 2-.3 .3-.1 1.5 0 .2-.2 1.2 .3 .8 .1 .7-.2 1.3-.1 .2 .1 1.5 .1 .3-.3 1.2 0 .8 .2 .7-.3 1.3 .2 .2 .3 1.4-.4 .4 .2 1.1-.2 .9 .1 .6 0 1.4 .1 .1-.1 1.5 .2 .4-.2 1.1 .2 .9 .2 .6-.3 1.4 .1 .1 .1 1.4 0 .5-.3 1 .1 1 0 .5 0 1.5-.1 0-.3 1.5 0 .5 .3 1 0 1-.1 .5-.2 1.4-.1 .1 .3 1.4-.4 .6-.1 .9-.1 1.1-.2 .4-.1 1.5-.3 .1-.4 1.4-.4 .6 .2 .9-.2 1.1 .2 .4 .1 1.4 .5 .2 .1 1.3 .5 .7-.1 .8 .2 1.2 .3" fill="none" stroke="#dc9800" stroke-width="4.2" stroke-linejoin="round" clip-path="url(#cd)"/>
<path d="M1356.7 366.5l2-.1 2 .1 2 .2 2 .1 2 0 2-.2 2-.1 2-.1 2-.1 2-.1 2-.2 2 .4 2 0 2 .2 2-.3 2 .2 2 0 2 .1 2-.1 2 .1 2 .1 .8 .1 1.2-.5 0-.1 1.2 .4 .8 .3 .4-.1 1.2-.2 .4 .1 .8-.1 1.1 0 .1 .1 1.1-.1 .9-.3 .3 0 1.2 .2 .5-.1 .7 .1 1.2-.1 .1 .1 1.1-.1 .9 .2 .3-.1 1.2-.2 .5 .2 .6 0 1.2 0 .2-.2 1 0 1 .2 .2 0 1.2-.2 .6 .2 .6 0 1.2 0 .2-.1 1-.1 1 .1 .2-.4 1.2 0 .6-.1 .5 .1 1.2-.2 .3 0 .9-.2 1.1-.2 .1 .1 1.2-.8 .7 .1 .5-.1 1.2-.2 .3 .4 .9 .1 1.1 .3 .1 .3 1.1 .3 .8 .1 .4 .3 1.2 .1 .4-.5 .8 .2 1.2 0 0-.1 1.2 0 .8 .3 .4 .1 1.2 0 .4 .2 .8-.1 1.1-.1 .1 .2 1.1 0 .9 0 .3 .1 1.2 0 .5-.1 .7-.1 1.2-.1 .1-.1 1.1 .5 .9-.1 .3-.5 1.2 .2 .5-.1 .6-.1 1.2 .1 .2 .1 1 .2 1-.1 .2 0 1.2 .1 .6-.4 .6-.1 1.2 0 .2 .3 1 0 1-.1 .2-.1 1.8 0 2 .2 2 0 2 .1 2 .1 2 .1 2-.1 2-.1 2 0 2 0 2 0 2 .2 2-.2 2 .1 2 0 2 0 2-.2 2 .1 2-.1 2-.1 2-.1 2-.1 2 .1 2 .6 2-.3 2 .1 2 0 2 .1 2 .1 2-.1 2 0 2-.1 2 0 2-.1 2 .1 2-.3 2 0 2 .1 2-.1 2 .1 2 .3 2-.1 2 .1 2 .1 2-.2 2-.1 2 0 2 0 2 .4 2-.2 2-.1 2-.1 2-.1 2 0 2 0 2 .1 2 .1 2-.1 2-.2 2 .3 2 0 2 0 2-.2 2 0 2 .1 2 .1 1.9-.1 .1 .1 1.4-.1 .6 .5 .9-.6 1.1 .1 .4-.4 1.5 .2 .1 .1 1.4-.1 .6 .2 .9-.1 1.1-.2 .4 .1 1.4 0 .2-.2 1.3 .4 .7-.1 .8 0 1.2-.3 .3 .4 1.5 0 .2 0 1.3 .1 .7-.3 .8 0 1.2 .2 .2 0 1.5 .2 .3-.2 1.2 .2 .8 .1 .7-.3 1.3-.1 .2 .1 1.5 0 .3 0 1.2 0 .8-.2 .7 0 1.3 .1 .1 0 1.5-.1 .4 0 1.1 .1 .9 .1 .6 0 1.4 0 .1 .2 1.5-.2 .4-.1 1.1 .1 .9 0 .5-.1 1.5-.1 0 0 1.5 .1 .5 0 1-.2 1-.3 .5 .4 1.5-.1 0 .1 1.5-.1 .5-.3 .9 0 1.1 0 .4 .1 1.5 .1 .1 0 1.4 0 .6 .2 .9-.1 .6 .1 .4-.1 .1-.3 .3-.1 .1 .2 .2-.1 .4 .2 .4-.2 .4-.3 .1 0 .1 .1 .2-.1 .4 .2 .4-.1 .4-.1 .3-.2 .3 .3 .1-.1 .4-.4 .3 .1 .1-.1 .4-.1 .4-.4 .3-.2 .1 .1 .2-.3 .1-.2 .4-.2 .4-.6 .4-.9 .2-.2 .2-.5 0 .1 .4-1.7 .4-2.2 .4-3.5 .1-2.2 .2-3.7 .4-8.1 .1-1.1 .3-9.3 .4-10.6 .1-2.1 .3-3 .4 4.9 .4 10.8 .1 3 .2 7.5 .1 .6 .3 7.5 .4 5.9 .4 3.8 .4 2 0 0 .2 .6 .2 .7 .4 .8 .3 1 .3 .4 .1-.1 .4 .4 .3 .3 .1 .2 .4 .1 .2 .2 .2-.3 .4 .3 .4 .5 .3 .1 0-.2 .2 .2 .2 0 .4 0 .4 .2 .4 0 .1 .4 .3 0 0-.1 .4 .1 .3-.1 .4-.1 .1-.2 .3 .2 .4 .2 .1 0 .3-.1 .4-.2 1.3 .1 .2 .4 1.5-.2 .3-.2 1.1 .3 .9 .3 2-.1 2 0 2 .3 2-.3 2 0 2 .2 2 .1 2-.1 2-.1 2 0 2 0 2-.2 2 0 2 0 2 .2 2-.2 2 .2 2 .1 2-.1 2-.2 2-.2 2 .2 2 0 2 0 2 .1 2-.1 2 .1 2 0 2 .4 2-.2 2 .1 2 0 2-.1 2-.1 2 .1 2 .1 2 .1 2 .1 2-.3 2-.1 2 0 2 .1 2 0 2 .2 2-.1 2-.2 2-.3 2 0 2 .3 2 .1 1.9 0 2.1 .1 1.9-.2 2.1-.2 2 0 1.9 .1 2.1 .2 1.9 .2 2 0 2 .1 2-.4 2 0 2 0 2 .1 2 0 2 .1 2 .1 2-.3 2-.1 2 .1 2 0 2 0 2 .1 2 .1 2-.1 2-.2 2-.3 2 .1 2 .1 2-.1 2 .1 2 .2 2 .2 2 .1 2-.3 2 .1 2 .1 2 .1 2-.2 2-.1 2 .1 2 0 2-.2 2 .4 2-.2 2-.1 2-.1 2-.1 2 0 2 .1 2 .1 2-.2 2 .1 2 .2 2 .2 2-.2 2-.2 2 .1 2-.2 2 0 2 .2 2 .1 2 0 2-.1 2-.2 2 0 2 .2 2 0 2-.1 2 0 2 0 2 .1 2 0 2-.2 2 0 2 .2 2 0 2 .4 2-.4 2 .2 2-.4 2 .2 2 0 2 0 2 .1 2-.1 2 .1 2-.3 2 .3 2-.1 2 0 2 .1 2-.2 2 .1 2 0 2 .1 2 0 2-.3 2-.2 2 0 2 .1 2 .3 2 0 2-.1 2 .1 2 0 2 0 2 0 2 .1 2-.1 2 0 1.9-.2 .1-.1 .8 .1 .9 0 .3-.2 .6 .2 .9 0 .5 .3 .3-.2 .9 .1 .8-.2 .1 .2 .9 0 .9-.1 .1-.1 .8-.1 .9 0 .3 .1 .6 .2 .9-.1 .5-.2 .4 .1 .9 .1 .7 .1 .2 .1 .9-.1 .8 0 .1-.1 .8 0 .9-.1 .3 .2 .6-.1 .9-.1 .5-.3 .4 .2 .9-.2 .7 0 .2-.2 .9-.5 .9-.3 0-.1 .9-.6 .9-.8 .2-.4 .6 .2 .9 .4 .5 .2 .4 .1 .9 .8 .7 .2 .2 .2 .9 .5 .9 .3 0 0 .9 .4 .9 .2 .2 0 .7-.2 .9-.2 .4 .1 .5 .1 .8-.2 .7 .4 .2-.2 .9 0 .9 .3 0-.3 .9 0 .9 0 .2 .1 .7 0 .9 .1 .4-.4 .5 .1 .9 0 .6 0 .3-.2 .9 .4 .8 .1 .1 0 .8-.3 .9 .3 .2-.2 .7 .3 .9-.1 .4-.1 .5 .2 .9 0 .6-.2 2-.1 2-.1 2 .1 2 .1 2 .3 1.9-.2 .1-.1 1.2 0 .8 0 .5-.1 1.3 .1 .2-.3 1.1 .2 .9 0 .4 .1 1.3-.6 .3 .2 1 .3 1 .2 .4-.5 1.3 .2 .3 .3 1 .3 1-.3 .3 0 1.3-.2 .4-.1 .9 .3 1.1-.3 .2 .1 1.3-.3 .5 0 .8 .2 1.2-.2 .1 .3 1.3 .1 .6 0 .7-.3 1.3 .2 .1 .1 1.3-.2 .6-.2 .7 0 1.3-.1 0-.1 1.3-.4 .7 0 .6 0 1.3-.5 .1 0 1.2-1.1 .8-.2 .5-.6 1.3-1.2 .2 .1 1.1-.5 .9 .2 .4 .2 1.3 .8 .3 .2 1.1 1.1 .9 .6 .4 .4 1.3 .6 .3 .1 1 .3 1-.1 .3 .2 1.3 0 .4 .2 .9-.2 1.1 .1 .2-.1 1.3 .2 .5-.1 .8 .2 1.2-.1 .1 .1 1.3-.1 .6 0 .8 .1 1.2 .1 .1-.1 1.3 .1 .6-.1 .7-.1 1.3 0 0 .2 1.3 0 .7-.2 .6 0 1.3 .3 .1 0 1.2 .2 .8 0 .5-.3 1.3 0 .2 .2 1.1-.2 .9-.1 .5-.3 1.3-.1 .2 .3 1.1-.1 .9 .2 .4 0 1.6 .2 2-.1 2-.2 .6 .2 .4-.2 .4-.1 .4-.2 .2 .2 .2-.1 .4 0 .3-.3 .4 .1 .4 0 .3-.1 .1 0 .4 0 .4-.3 .4 0 .3-.1 .4 0 0-.1 .4 0 .4-.2 .4-.4 .4-.4 .4 0 0-.1 .4-.3 .3-.9 .4-.6 .4-1.3 .4-2.2 .1-.7 .3-2.1 .4-5.3 .4-6.9 .3-9 .4-9.5 .2-2.7 .2-1.3 .4 4.2 .4 9.2 .4 8.8 .4 7.5 .2 3.1 .1 1.7 .4 3.2 .4 1.9 .4 1.5 .4 .8 .3 .5 .1 0 .4 .5 .4 .5 .3-.1 .4 .3 .4 .2 0 0 .4 .3 .4-.1 .4 .3 .4 .1 .3 0 .1-.1 .3-.3 .4 .4 .4 .2 .4 0 .4-.2 .1 .1 .3 .2 .4 0 .3-.1 .4 0 .6-.1 2 .3 2 0 .3 0 1.5 0 .2 .1 1.2 0 .8-.1 .7 0 1.3 .2 .2 .1 1.5-.4 .3 0 1.2 .1 .8 .1 .7 0 1.3 0 .2 0 1.4-.1 .4 .1 1.1 0 .9 .1 .6 .2 1.4-.1 .1 0 1.5-.2 .4 0 1.1 .1 .9-.2 .6 .3 1.4-.1 .1 .2 1.4-.1 .5-.2 1 0 1 0 .5 .1 1.5-.1 0 0 1.5-.1 .5 .1 1-.1 1 .1 .5 .1 1.4 .1 .1-.4 1.4-.2 .6 .1 .9-.3 1.1-.5 .4-.3 1.5-.6 .1 .5 1.4-.8 .6 0 .9 0 1.1 .5 .4-.2 1.4 .5 .2-.1 1.3 .5 .7 .4 .8 .1 1.2 .3" fill="none" stroke="#00cccc" stroke-width="4.2" stroke-linejoin="round" clip-path="url(#cd)"/>
<line x1="2123.7" y1="153.5" x2="2123.7" y2="269" stroke="#000" stroke-width="2.6" stroke-dasharray="4 4"/>
<line x1="2123.7" y1="322" x2="2123.7" y2="806.5" stroke="#000" stroke-width="2.6" stroke-dasharray="4 4"/>
<rect x="1736" y="399.5" width="158" height="306.9" fill="#fff" stroke="#222" stroke-width="2.2"/>
<line x1="1740.5" y1="426" x2="1805.2" y2="426" stroke="#00cccc" stroke-width="9" stroke-linecap="round"/>
<text x="1855.6" y="437.4" font-size="39" text-anchor="end" stroke="#000" stroke-width="1.2">76</text>
<text x="1869.4" y="437.4" font-size="39">d</text>
<line x1="1740.5" y1="468.3" x2="1805.2" y2="468.3" stroke="#dc9800" stroke-width="9" stroke-linecap="round"/>
<text x="1855.6" y="479.7" font-size="39" text-anchor="end" stroke="#000" stroke-width="1.2">45</text>
<text x="1869.4" y="479.7" font-size="39">d</text>
<line x1="1740.5" y1="510.6" x2="1805.2" y2="510.6" stroke="#be70e2" stroke-width="9" stroke-linecap="round"/>
<text x="1855.6" y="522" font-size="39" text-anchor="end" stroke="#000" stroke-width="1.2">14</text>
<text x="1869.4" y="522" font-size="39">d</text>
<line x1="1740.5" y1="552.9" x2="1805.2" y2="552.9" stroke="#00a95e" stroke-width="9" stroke-linecap="round"/>
<text x="1855.6" y="564.3" font-size="39" text-anchor="end" stroke="#000" stroke-width="1.2">8</text>
<text x="1869.4" y="564.3" font-size="39">d</text>
<line x1="1740.5" y1="595.2" x2="1805.2" y2="595.2" stroke="#0068e0" stroke-width="9" stroke-linecap="round"/>
<text x="1855.6" y="606.6" font-size="39" text-anchor="end" stroke="#000" stroke-width="1.2">5</text>
<text x="1869.4" y="606.6" font-size="39">d</text>
<line x1="1740.5" y1="637.5" x2="1805.2" y2="637.5" stroke="#ff3838" stroke-width="9" stroke-linecap="round"/>
<text x="1855.6" y="648.9" font-size="39" text-anchor="end" stroke="#000" stroke-width="1.2">1</text>
<text x="1869.4" y="648.9" font-size="39">d</text>
<line x1="1740.5" y1="679.8" x2="1805.2" y2="679.8" stroke="#4d4d4d" stroke-width="9" stroke-linecap="round"/>
<text x="1855.6" y="691.2" font-size="39" text-anchor="end" stroke="#000" stroke-width="1.2">0</text>
<text x="1869.4" y="691.2" font-size="39">d</text>
<rect x="1356.7" y="151.5" width="891.9" height="656" fill="none" stroke="#262626" stroke-width="2.6"/>
<line x1="1344.7" y1="798.4" x2="1356.7" y2="798.4" stroke="#262626" stroke-width="2.2"/>
<text font-size="42" text-anchor="end" fill="#1a1a1a" transform="translate(1332.4 809.5) scale(1 1.04)">0</text>
<line x1="1350.7" y1="744.5" x2="1356.7" y2="744.5" stroke="#262626" stroke-width="2.2"/>
<line x1="1344.7" y1="690.6" x2="1356.7" y2="690.6" stroke="#262626" stroke-width="2.2"/>
<text font-size="42" text-anchor="end" fill="#1a1a1a" transform="translate(1332.4 701.7) scale(1 1.04)">10k</text>
<line x1="1350.7" y1="636.7" x2="1356.7" y2="636.7" stroke="#262626" stroke-width="2.2"/>
<line x1="1344.7" y1="582.8" x2="1356.7" y2="582.8" stroke="#262626" stroke-width="2.2"/>
<text font-size="42" text-anchor="end" fill="#1a1a1a" transform="translate(1332.4 593.9) scale(1 1.04)">20k</text>
<line x1="1350.7" y1="528.9" x2="1356.7" y2="528.9" stroke="#262626" stroke-width="2.2"/>
<line x1="1344.7" y1="475" x2="1356.7" y2="475" stroke="#262626" stroke-width="2.2"/>
<text font-size="42" text-anchor="end" fill="#1a1a1a" transform="translate(1332.4 486.1) scale(1 1.04)">30k</text>
<line x1="1350.7" y1="421.1" x2="1356.7" y2="421.1" stroke="#262626" stroke-width="2.2"/>
<line x1="1344.7" y1="367.2" x2="1356.7" y2="367.2" stroke="#262626" stroke-width="2.2"/>
<text font-size="42" text-anchor="end" fill="#1a1a1a" transform="translate(1332.4 378.3) scale(1 1.04)">40k</text>
<line x1="1350.7" y1="313.3" x2="1356.7" y2="313.3" stroke="#262626" stroke-width="2.2"/>
<line x1="1344.7" y1="259.4" x2="1356.7" y2="259.4" stroke="#262626" stroke-width="2.2"/>
<text font-size="42" text-anchor="end" fill="#1a1a1a" transform="translate(1332.4 270.5) scale(1 1.04)">50k</text>
<line x1="1350.7" y1="205.5" x2="1356.7" y2="205.5" stroke="#262626" stroke-width="2.2"/>
<line x1="1344.7" y1="151.6" x2="1356.7" y2="151.6" stroke="#262626" stroke-width="2.2"/>
<text font-size="42" text-anchor="end" fill="#1a1a1a" transform="translate(1332.4 162.7) scale(1 1.04)">60k</text>
<line x1="1356.7" y1="807.5" x2="1356.7" y2="820.5" stroke="#262626" stroke-width="2.4"/>
<text x="1356.7" y="863.5" font-size="46" text-anchor="middle" fill="#1a1a1a">5</text>
<line x1="1392.4" y1="807.5" x2="1392.4" y2="812.5" stroke="#262626" stroke-width="2.4"/>
<line x1="1428.1" y1="807.5" x2="1428.1" y2="812.5" stroke="#262626" stroke-width="2.4"/>
<line x1="1463.7" y1="807.5" x2="1463.7" y2="812.5" stroke="#262626" stroke-width="2.4"/>
<line x1="1499.4" y1="807.5" x2="1499.4" y2="812.5" stroke="#262626" stroke-width="2.4"/>
<line x1="1535.1" y1="807.5" x2="1535.1" y2="820.5" stroke="#262626" stroke-width="2.4"/>
<text x="1535.1" y="863.5" font-size="46" text-anchor="middle" fill="#1a1a1a">10</text>
<line x1="1570.8" y1="807.5" x2="1570.8" y2="812.5" stroke="#262626" stroke-width="2.4"/>
<line x1="1606.4" y1="807.5" x2="1606.4" y2="812.5" stroke="#262626" stroke-width="2.4"/>
<line x1="1642.1" y1="807.5" x2="1642.1" y2="812.5" stroke="#262626" stroke-width="2.4"/>
<line x1="1677.8" y1="807.5" x2="1677.8" y2="812.5" stroke="#262626" stroke-width="2.4"/>
<line x1="1713.5" y1="807.5" x2="1713.5" y2="820.5" stroke="#262626" stroke-width="2.4"/>
<text x="1713.5" y="863.5" font-size="46" text-anchor="middle" fill="#1a1a1a">15</text>
<line x1="1749.1" y1="807.5" x2="1749.1" y2="812.5" stroke="#262626" stroke-width="2.4"/>
<line x1="1784.8" y1="807.5" x2="1784.8" y2="812.5" stroke="#262626" stroke-width="2.4"/>
<line x1="1820.5" y1="807.5" x2="1820.5" y2="812.5" stroke="#262626" stroke-width="2.4"/>
<line x1="1856.2" y1="807.5" x2="1856.2" y2="812.5" stroke="#262626" stroke-width="2.4"/>
<line x1="1891.8" y1="807.5" x2="1891.8" y2="820.5" stroke="#262626" stroke-width="2.4"/>
<text x="1891.8" y="863.5" font-size="46" text-anchor="middle" fill="#1a1a1a">20</text>
<line x1="1927.5" y1="807.5" x2="1927.5" y2="812.5" stroke="#262626" stroke-width="2.4"/>
<line x1="1963.2" y1="807.5" x2="1963.2" y2="812.5" stroke="#262626" stroke-width="2.4"/>
<line x1="1998.9" y1="807.5" x2="1998.9" y2="812.5" stroke="#262626" stroke-width="2.4"/>
<line x1="2034.5" y1="807.5" x2="2034.5" y2="812.5" stroke="#262626" stroke-width="2.4"/>
<line x1="2070.2" y1="807.5" x2="2070.2" y2="820.5" stroke="#262626" stroke-width="2.4"/>
<text x="2070.2" y="863.5" font-size="46" text-anchor="middle" fill="#1a1a1a">25</text>
<line x1="2105.9" y1="807.5" x2="2105.9" y2="812.5" stroke="#262626" stroke-width="2.4"/>
<line x1="2141.6" y1="807.5" x2="2141.6" y2="812.5" stroke="#262626" stroke-width="2.4"/>
<line x1="2177.2" y1="807.5" x2="2177.2" y2="812.5" stroke="#262626" stroke-width="2.4"/>
<line x1="2212.9" y1="807.5" x2="2212.9" y2="812.5" stroke="#262626" stroke-width="2.4"/>
<line x1="2248.6" y1="807.5" x2="2248.6" y2="820.5" stroke="#262626" stroke-width="2.4"/>
<text x="2248.6" y="863.5" font-size="46" text-anchor="middle" fill="#1a1a1a">30</text>
<text font-size="44" text-anchor="middle" fill="#ff1a1a" transform="translate(1628.7 251.9) rotate(-90) scale(1 1.05)">(080) n=3</text>
<text font-size="31" text-anchor="middle" transform="translate(1707.2 250.6) rotate(-90) scale(1 1.08)">(111) High-n</text>
<polygon points="1640,331.8 1663.3,331.8 1651.7,354.3" fill="#000"/>
<text x="2115.8" y="307.5" font-size="36" text-anchor="middle">#</text>
<polygon points="2107.2,326 2131.7,326 2119.4,350.4" fill="#000"/>
<text font-size="30.5" text-anchor="middle" transform="translate(2195.5 237.5) rotate(-90) scale(1 1.1)">(202) High-n</text>
<text font-size="50" text-anchor="middle" fill="#1a1a1a" transform="translate(1233.4 484.5) rotate(-90)">Intensity (a.u.)</text>
<text x="1801.5" y="936.6" font-size="48" text-anchor="middle" fill="#1a1a1a" letter-spacing="0.3">2 Theta (°)</text>
<clipPath id="cb"><rect x="188.4" y="1053.5" width="847.3" height="686.8"/></clipPath>
<text x="165" y="1002" font-size="88" font-family="'Liberation Serif', 'Times New Roman', serif">(b) n=2</text>
<path d="M188 1689.2l1.6 1 1.6 2.7 1.6-1.7 1.6-.1 1.6 1 1.6-3 1.6 3.3 1.6 .5 1.6-1.9 1.6 5.3 1.6-5.2 1.6 .3 1.6 .7 1.6 1.1 1.6 1 1.6-5.4 1.6 .9 1.6 4.4 1.6-2.6 1.6-.1 1.6 .5 1.6 3.1 1.6-2.4 1.6-1.6 1.6-1 1.5 .2 1.6 1.4 1.6-1.2 1.6-.3 1.6 4.1 1.6-.2 1.6-2.2 1.6 4 1.6-1.9 1.6-1.6 1.6 1.9 1.6-.4 1.6-1.6 1.6 3.7 1.6-4.7 1.6 3.8 1.6-2 1.6 2.5 1.6-.9 1.6 1.3 1.6-5.2 1.6 3 1.6 2.2 1.6-2.4 1.6 4.1 1.6-1.8 1.6 .2 1.6-2.2 1.6-3 1.6 4.1 1.6-.3 1.6 1.3 1.6-2 1.6-1.4 1.6 1.2 1.6-1.5 1.6 1.1 1.6 1.6 1.6 .4 1.6 1 1.6-2.2 1.6 2.5 1.6-1.4 .3-2 1.3 .7 .6 1.5 1-1 .9 0 .7 1.9 1.2-2.9 .4 1.7 1.6-.9 0-1 1.6 2.3 .3 2.2 1.3-2.4 .6-.5 1 3.3 .9-1.1 .7-.1 1.3 1.1 .2-1.6 1.6-.4 .1 1.6 1.5-1 .4-2.7 1.2 3.9 .7-1.2 .9 2.6 1-2.9 .6-3.2 1.4 3.2 .2-.3 1.6 3.3 .1-.9 1.5 .4 .4-3 1.2 .9 .7 2.3 .9-4.2 1.1 2.3 .5 1.2 1.4-2.8 .2 1 1.6-4 .1 5.8 1.5-4 .4 3.8 1.2-1.7 .8-3 .8 0 1.1 .2 .5 1.2 1.4 2.2 .2-2.3 1.6 .2 .1-3 1.5 1.8 .4-1.5 1.2-1 .8-.6 .8 .2 1.1-3.2 .5-1.4 1.4-4.1 .2-1.2 1.6-2.1 .1-.4 1.5-2.7 .5 .2 1.1 0 .8 .2 .8 3.7 1.1-.1 .5 3.6 1.4 2 .2 1.5 1.6 6.1 .2-1.1 1.4 2.4 .5-1 1.1-.3 .8 3.8 .8 .6 1.1-1.7 .5 .5 1.4 .5 .2-.1 1.6 1.9 .2 .6 1.4-1.8 .5 3.1 1.1-3.5 .8 1.9 .8 .7 1.1-3.9 .5 2.9 1.5-.8 .1 .7 1.6 1 .2-.8 1.4-1.6 .5 4.9 1.1-.9 .8-1.6 .8-.2 1.2 1.3 .4-2.4 1.5 2.4 .1-3 1.6 3 .2 .2 1.3-1.3 .6-.3 1.1 .6 .8-1.7 .7 .1 1.3 1.4 .3 .5 1.6-2.1 0 1.2 1.6 .8 .3-.3 1.3-.8 .6 .9 1 .1 1 1.9 .6-.3 1.3-1.8 .3 2.5 1.6-2.5 0-.9 1.6-.1 .3 1.2 1.3 3.4 .6-2.1 1-4 1.6 2.7 1.6-.8 1.6-.2 1.6 3.5 1.6-.2 1.6-2.6 1.6 1.8 1.6 .3 1.6-.1 1.6 1.6 1.6-1.1 1.6-1.7 1.6 1.2 1.6-3.3 1.6 1.7 1.6 2 1.6-.8 1.6-1.2 1.6 .1 1.6 0 1.6 1.8 1.6-1.5 1.6 1.8 1.6-1.1 1.6 1.5 1.6-1.7 1.6-1.7 1.6 4.5 1.6-1.8 1.6 .5 1.6 1.1 1.6 1.2 1.6-1.9 1.6 .9 1.6 .3 1.6 .3 1.6-3.5 1.6 .1 1.5-.1 1.7-.3 1.5 .5 1.6 1.1 1.6 .2 1.6 4.2 1.6-1.8 1.6 0 1.6-.2 1.6 1 1.6-4.3 1.6 2.2 1.6-.4 1.6 2.4 1.6-1.4 1.6 .6 1.6-.3 1.6-.7 1.6 3.1 1.6-1.7 1.6-3.7 1.6 5 1.6-4.5 1.6 4.6 1.6 2.9 1.6-6.6 1.6 3.6 1.6-1.8 1.6-1.3 1.6 3.1 1.6-3 1.6 .6 1.6-.8 1.6 1.4 1.6-.9 1.6-.2 1.6 3.5 1.6-.7 1.6-2.9 1.6 1 1.6 .4 1.6-.8 1.6 1.3 1.6-.6 1.6 2.1 1.6-3 1.6 1.5 1.6-.1 1.6-.6 1.6 3.3 1.6-1.8 1.6-5 1.5 5.2 1.7-2.3 1.5 .3 1.6 .7 1.6 .4 1.6-.7 1.6-.1 1.6 1.9 1.6 .1 1.6 .7 1.6-1.3 1.6-1.5 1.6 2.8 1.1-.9 .5-.8 1.2 .8 .4 0 1.3-2 .3 2 1.4 1.1 .2-1.2 1.5-.2 .1 1 1.6-1.5 .1 .9 1.5 .4 .2 .4 1.4-1.6 .3 2.2 1.3-3.2 .4 3.3 1.2-2.3 .5 2.1 1.1 1.3 .6 .1 1-2.5 .7-1.1 .9 1.2 .8-2.8 .8 4.5 .9-5 .7 3.5 1-3.5 .6 1.1 1.1 2 .5-2.7 1.3 1.2 .3-2.7 1.4 5.8 .2-3.9 1.5 1.6 .1 .1 1.6-2.3 0 .6 1.6 1.8 .1-.9 1.5-1.4 .2 1.2 1.4-1.9 .3 1.8 1.3-.8 .4-2.7 1.2 2.3 .5-2.1 1.1-2.2 .6 .4 1-5.5 .8 0 .8-4.3 .9-3.5 .7-1.9 1-10 .6-2.2 1.1-4.6 .5-2.7 1.2-1.7 .4 .9 1.3-.2 .3 3.1 1.4 6.8 .2 3 1.5 6.3 .1 2.3 1.6 7.8 0 0 1.6 6.8 .1-.5 1.5 1.5 .2-.1 1.3 3 .5 3.3 1.1-3 .6 .1 1-2.6 .7 4.9 .9-1.4 .8-1 .8 2.7 .9-3 .4 5 .3-3.6 1 2.5 .4-.6 .2-1.3 1.1-2.6 .4 3.6 .1-3.3 1.2 3.1 .4 1.5 0-1.1 1.3 3.1 .3-2 .2-1.7 1.2-.6 .2 1.8 .3-.6 1.2 0 .1 2.8 .4-1 1.2-2.6 .1-.8 .4 1.8 .8-.7 .3 .6 .2-.8 .4 .2 .9 .5 .1-2.6 .3 3.1 .4 .5 .9-3.1 0 3.5 .4-1.5 .4 1.8 .8-3.1 .1 4 .4 0 .4 .9 .7-3.9 .2-.9 .4-.4 .4 .1 .6-1.5 .3 4.3 .4-5.3 .4 1.3 .5-.7 .4 2.9 .4 .6 .4-3 .4 .2 .5 2.2 .4-1.9 .5 3.4 .2-3 .6 3.3 .4-.4 .5-3.8 .1 .7 .7 .7 .5-1 .4-.3 0 1.9 .8 2.8 .5-5.5 .3-1 .1 2.6 .8-1.4 .7 1.6 .2-2.1 .9-.1 .5 2.9 .3-3.6 .9 2.2 .4-4.5 .4 2.5 .9-1 .3-1.2 .5 1.4 .9-.3 .2-.9 .6-4.6 .9-2.2 .1 1.4 .7 1.3 .9-10.1 0 2.9 .9-1.7 .7-8.4 .1-.2 .9-8.9 .6-7.1 .2-2.8 .9-6.5 .5-9.5 .3-6.8 .9-12.5 .4-6.1 .4-.7 .9-13.9 .3-3 .5-7 .9 0 .2-.2 .7 5.2 .8 6.4 .1-2.8 .8 6.7 .8 9.7 0 .1 .9 10.5 .7 10.7 .1-.2 .9 8.1 .6 .7 .2 3.4 .9 2.9 .5-2.2 .3 1.6 .9-.9 .4 2.2 .5-4.2 .8-1.5 .3-1.8 .6 1.7 .8-1.2 .2 1.4 .7 1 .8 5.2 .1 1.7 .8 1.7 .8 8 0-1.9 .9 8.8 .7 .1 .1 4 .9 5.2 .6 2.8 .3 1.9 .8 4.4 .5 2 .4 1.8 .8 4.4 .4-.9 .5 3.5 .8-.1 .2-1.5 .7 1.4 .8 5 .1-3.1 .8 0 .8-1.3 .1 2.1 .8-.2 .7-2.6 .2 2.3 .8-1.7 .6-.6 .3 3.5 .8-.4 .5-.4 .4 1.5 .8 .3 .4-1 .5 .8 .8-.2 .3 .7 .6 1.4 .8-.6 .2-.5 .7-1.2 .9 1.9 0-4.4 .8 2.8 .8-.4 .1 2.7 .8-3.8 .7 1.8 .2 .5 .8-2.5 .6 2.1 .3-2 .8 3.8 .5-1.5 .4-.4 .9-1 .3-1.5 .5 2.3 .9 3.6 .2-5 .6 3 .9 .2 .1-1 .7 2.8 .9-2.6 .8 2.2 .8-1.3 .9 .7 .7-2.9 1.1 2.3 .5-2.6 1.2 3.8 .4 1.2 1.3-3.1 .3-2.3 1.4 3.6 .2 .3 1.5-2.6 .1-.5 1.6 3.4M779.3 1709.7l1.6 2.1 .5-.8 1.1-.3 1.1 2.6 .5-4.1 1.6-.7 0 1.4 1.6-.6 .5 1.5 1.1-2.2 1.1 3.9 .4-2.8 1.6 .3 .1 .2 1.5 1.6 .7-1.5 .9-.7 1.2 .8 .4-.7 1.6 1.8 .1-.9 1.5 2 .7-5.2 .9 4.9 1.2-2.1 .4-1.6 1.6 1.4 .1 1.9 1.5-3 .7-1 .9 3.9 1.2-4.5 .4 3.2 1.6-1.7 .2-.8 1.3 2.3 .8-1.2 .8-.8 1.3 3.6 .3-1 1.6-1.2 .3 1.1 1.3 .7 .8-1.8 .8 .7 1.3-.3 .3-.8 1.6-.7 .3 1.1 1.3-1.5 .8-2.3 .8-.1 1.3 1.6 .3-2.3 1.6-2.5 .3 .6 1.3-2.8 .8-2.3 .7 .5 1.5 1.4 .1-4.6 1.6 .4 .4-1.6 1.2 1.6 .9-.7 .7 1.5 1.5 1.4 .1 .5 1.6 2.6 .4 0 1.2 1.2 .9-5.5 .7 3.5 1.5 2.6 .1 .1 1.6-3.4 .4 .2 1.2 3.7 .9-.3 .7-1.6 1.5 2.3 0-.5 1.6 3.4 .5 2.9 1.1-3.5 1.1 .8 .5 2 1.6-.2 0-1.5 1.6 1.8 .5 0 1.1 0 1.1 2.3 .5-1.2 1.6-.6 0 .7 1.6 .3 .5 .3 1.1-.9 1.1 4.1 .5-2.1 1.6-2.5 0 1.4 1.6 1.2 .6-2 .9 .1 1.2 .9 .4-1.9 1.6 1 .1 1 1.5-1.5 .7 .1 .9 .9 1.2-2.3 .4 .6 1.6 .2 .1 2.1 1.5-.4 .7 .9 .9-1.8 1.2-.5 .4 1.5 1.6-.6 .1 1.4 1.5 .2 .7-2 .9 0 1.2 .8 .3-.9 1.6 1.2 .3-2.1 1.3 1.8 .8 1.5 .8 .2 1.3-2.1 .3-.3 1.6-.4 .3 2 1.3-4.5 .8 3.9 .8-.7 1.3-1.1 .3 .8 1.6-1.5 .3 5.9 1.3-4.8 1.6 .5 1.6-1.1 1.6-5 1.5 8.4 1.6-.2 1.6-2.2 1.6 2.8 1.6-1.6 1.6-1.7 1.6 .9 1.6 4.6 1.6-4.2 1.6 2.1 1.6-2.1 1.6 2.4 1.6-4.8 1.5 1.4 1.6 0 1.6 .3 1.6 1.3 1.6-.6 1.6-3.5 1.6 .8 1.6 3.1 1.6-1.4 1.6-1.4 1.6 0 1.6 1.6 .4-.9 1 0 .2-2.1 .8 2.6 .8-.3 .1 1.4 1-1.7 .4-2.6 .5 .3 1 2.3 .1-2.4 .9 1.7 .7-1.3 .2 .3 1 0 .4-2.5 .6 1.1 .9-.3 .1 1.3 .9-4.6 .7 1.2 .2-.2 1 1 .4-1.2 .6 .1 .9-4.8 .1 1 .9 .1 .7-4.4 .2 1 1-.6 .4-1.7 .6-.2 .9-6.4 .1-2.7 .9-5.3 .7-7 .3-2.8 .9-10.6 .4-4.2 .6-17.8 .9-31.3 0-1.7 1-43.5 .6-37.2 .4-21.3 .9-60.1 .3-16.6 .7-12 .9 27.1 0 3.1 1 62.6 .6 35.7 .4 19.3 .9 46.4 .3 11.3 .7 20.6 .9 15 .1 5.1 .9 10 .6 9 .4 3.3 .9 6.1 .3 .9 .7 2 .9 1.3 .1 1.1 .9 5.2 .6-1.3 .4 .5 .9 1.3 .3 1.1 .7 1.3 .9 3.8 .1-.2 .9 .6 .5 1.4 .5-3.8 1 2.2 .1-.4 .8 1.2 .8 .8 .2-1.4 .9 2.4 .5-.3 .5-.3 1 1.2 .1 .1 .8 0 .8 1.6 .2-2.2 .9 5.8 .5-5.9 .5-1.7 1 3.7 .1-2.6 1.6 1.2 1.6 3 1.6-2.6 1.6 1.4 1.6 .8 1.6-3.1 1.5 6.2 1.6-3.7 1.6 .1 1.6-2.2 1.6 2.6 1.6-.3 1.6 1.4" fill="none" stroke="#4d4d4d" stroke-width="4.0" stroke-linejoin="round" clip-path="url(#cb)"/>
<path d="M188 1630.8l1.6-.7 1.6-1.9 1.6 3.5 1.6-.9 1.6 .2 1.6-.2 1.6 2.4 1.6-1 0 .5 1.6-2.4 .6-.3 1-.9 1.1 1.4 .5-4.2 1.6 7.5 0-2.6 1.6 0 .6 1.4 1-2.1 1.1 1.1 .5 1 1.6-3.9 0 5.6 1.6-2.7 .6 .9 1-2.8 1.1 .8 .5 4 1.6-3.8 .1 .2 1.5 1.6 .6 1.7 1-6.5 1.1 6.7 .5-2.1 1.6 1.2 .1-3.3 1.5 2.4 .6 2.2 .9-2.9 1.2-.8 .4 .3 1.6-.1 .2 2.3 1.4-.9 .7-1.2 .9 2.2 1.2-3.1 .4-.6 1.6 6.7 .2-5.3 1.4 4 .7-2.9 .9-.2 1.3 1.3 .3-2.4 1.6 .1 .2 1.1 1.4-.3 .7 1.9 .9 2.1 1.3-5.4 .3 .6 1.6 2.7 .2-.5 1.4 .9 .7-3.3 .9 2.1 1.3-1.4 .3-2.8 1.6 3 .2-3.6 1.4 3 .7-2 .9 0 1.3 3.6 .3-1.2 1.6-2.1 .2-.1 1.4-1.7 .8 3.7 .8-.6 1.3-1.9 .3-1.2 1.6 3.7 .2-.1 1.4 2.4 .8-2.9 .8 .5 1.3 2.7 .3-.5 1.6 1.8 .2 .3 1.4-3.2 .8-2.4 .8 4.2 1.3-1.2 .3 1.7 1.6-5 .2 4.5 1.4 .5 .8-1.1 .8 1.9 1.3-.6 .3 .2 1.6 1.9 .3 .1 1.3-.1 .8-1.4 .8-.4 1.3 .8 .3-.4 1.6-1.7 .3 1.9 1.3 1 .8-2.2 .8-1.2 1.3 3 .3-2.3 1.6-1.2 .3 2.2 1.3-2.1 .4 3.1 .4-1.4 .8 1.1 .5 1.8 .9 0 .2-2.1 .6-3.6 1 3.1 .3-1.2 .4 3.5 .9 1.2 .8-1.4 .7-.1 1-.1 .5 .2 .1-1.8 1.1 2.3 .5-2.1 .4-1.4 .9 2.1 .3 2.6 .9-3 .5-2.7 .2 5.2 1.5-1.7 .1 .6 1.6-1.7 0 1.6 .4 1.9 1.2-3.8 .1 2.3 .8-.5 .7-2.1 .2 1.8 1.3 .7 .1-2.4 .3 3.4 1.3-3.9 .4 3.9 1.2-.9 .5-.6 1.1-1.8 .6 0 1-2.4 .7 3.7 .9-.2 .9 1.2 .7 .7 1-1.4 .6-1 1.1 2.2 .5-1.7 1.2-.3 .4-2 1.3 3.4 .3-3 1.4 3.7 .2-4.9 1.5-.8 .1 .9 1.6-3.8 0-1.3 1.6-2.9 .1 .2 1.5-2.9 .2 1.4 1.4-4.1 .3-1.4 1.3-.8 .5-5.3 1.1 3.6 .6 1.2 1 1.7 .7 4.5 .9 .7 .8 1.4 .8 5.4 .9-.7 .7 1.9 1-.7 .6 4.8 1.1-.4 .5 2.7 1.2 2 .4-2.5 1.3-1.3 .3-.6 1.4 4.4 .2-3.1 1.6 1.7 0-.7 1.6-5.9 .1 6 1.5 .2 .2 .1 1.4-.5 .3 .7 1.3-2 .4 2.8 1.2-1.8 .5 1.2 1.1 2.6 .6-2.4 1-2.1 .7 2.5 .9-3.1 .8 2.8 .8 2.2 .9-4.2 .7 1.6 1-1.1 .6 1.8 1.2 .3 .4-.2 1.3-.7 .2-2.8 1.5 1.8 .2 .8 1.5 2.2 0-4.8 1.6 5.3 .1-3.1 1.5-1.5 .2 5.4 1.4-1.9 .3-2.1 1.3 2.1 .4 .6 1.2-3.4 .5 4.6 1.1-3.6 1.6 2.9 1.6-2.2 1.6-1.7 1.6 1.8 1.6 .2 1.6 1.1 1.6-2.9 1.6 1.2 1.6 2.3 1.6-1.1 1.6-.2 1.6 1.7 1.6-2.9 1.6 5.7 1.6-4.6 1.6 1.9 1.6-.8 1.6 2 1.6-2.3 1.6-.5 1.6 1.8 1.6 .6 1.6-1.2 1.6 3.8 1.6-2.1 1.6 1.1 1.6-.1 1.6-.3 1.6-2 1.6 3.1 1.6-3.3 1.6 .9 1.6 2.2 1.6-.7 1.6-3.3 1.6 1.3 1.6-.9 1.6 3.5 1.6-2.5 1.6 .7 1.6-1.1 1.6 .4 1.6 2 1.5-2.7 1.7 1.8 1.5-.9 1.6 .3 1.6-1.4 1.6 4.1 1.6-4.6 1.6 .7 1.6 1.4 1.6 .9 1.6-1.3 1.6-1.4 1.6 2 1.6-.8 1.6 .6 1.6 3.8 1.6-6 1.6 3.4 1.6 .8 1.6-1.3 1.6 .1 1.6 2.5 1.6-2.1 1.6-2.5 1.6 2.3 1.6 1.3 1.6-1.2 1.6-.2 1.6 1.3 1.6-1.1 1.6 1.1 1.6 1 1.6-2.1 1.6-1.5 1.6 4.8 1.6-1.5 1.6-1.8 1.6-1.1 1.6 2.5 1.6 .3 1.6 .6 1.6-.2 1.6-1.3 1.6 .1 1.6-1.7 1.6 1.3 1.6 .5 1.6 2.6 1.6-3.9 1.6 5.3 1.6-1.5 1.6-2.3 1.5-.1 1.7 1.4 1.5 .3 1.6 .6 1.6-4 1.6 2.4 1.6 1.4 1.6 .7 1.6-.7 1.6-.8 1.6 .7 1.6-1.4 1.6 3.8 1.6-1.3 1.6-.8 1.1-1.6 .5 .9 1.1 .7 .5-.5 1.1 2.6 .5 .7 1.1-1.8 .5-3.5 1.1 3.1 .5-2 1.1 .9 .5 3.2 1.1-6 .5 .6 1.1 1.2 .5 2.3 1.1-1.9 .5-2.6 1.1 3.9 .5 .4 1.1 1 .5-1.9 1.1 1.7 .5-2.8 1.1 2.4 .5 .5 1.1-2.5 .5-.1 1.1 2.6 .5-3.3 1.2-.3 .4 1.5 1.2 .8 .4 .6 1.2-2.4 .4 1.6 1.2-2.4 .4-.5 1.2 5.8 .4-5.3 1.2-1.5 .4 2.9 1.2-2.1 .4 2.3 1.2-5.8 .4 2 1.2 2.8 .4-1.7 1.2-3.5 .4 3.3 1.2-3.5 .4-3.5 1.2-2 .4-2.6 1.2-9.5 .4-1.5 1.2-6.1 .4-4.5 1.2-7.8 .4 .2 1.2-.5 .4-.7 1.2 2 .4-.5 1.2 12.8 .4 .7 1.2 9.5 .4 .5 1.2 5.5 .4 2.6 1.2 2.7 .4 1.3 1.2 1.9 .4-1.6 1.2 6.8 .3 .4 1.3-1.9 .3 .5 1.3 4.9 .3-2.7 1.3-1.3 .3-1.2 1.3 5.1 .3-.6 1.3-3.4 .3 2.6 1.3-2.5 .3 1 1.3 2.5 .3-2.2 1.3-.6 .3-1.3 1.3 3.5 .3-1.3 1.2-1.6 .1 5.4 .3-4.5 1.1 .3 .2 1.5 .3-1.1 1 .6 .3 .6 .3-1.5 .9-.7 .4 1 .3 2.2 .8-1.6 .5 2.5 .3-2.4 .7-1.7 .6 1.9 .3-.7 .6-.5 .7 .5 .3 1.9 .5-.2 .9-.8 .2-.3 .4 .7 1 .1 .2-.5 .3-1.8 1.1 3 .2-.1 .2 .3 1.2-7.1 .2 5.7 .1-.6 1.3-4.9 .2 6.5 0-5.3 1.4 2.3 .1 1.1 .1 1.4 1.4-2.4 .2-.7 1.3-2.1 .1 2.5 .2 1.3 1.2-3.5 .2 4.7 .2-7.3 1.1 3.4 .3 .1 .2 .8 .9 0 .5 1.1 .2-3 .8-2 .6 .2 .2 1.3 .7-1.5 .7 .2 .2 0 .6-.5 .8 .3 .2-1.2 .5-4.1 .9-1.4 .2-.4 .4-1.7 1-2.7 .2-1 .3-3.3 1.1-7.2 .2-6 .2-1 1.2-13.2 .2-4.7 .1-2.9 1.3-21 .2-.1 0-.8 1.4-19.6 .1-1.3 .1-3.8 1.4-10.8 .2-.6 1.3 9.1 .1 5.1 .2-1.3 1.2 16.1 .2 3.8 .2 3.4 1.1 12.8 .3 3.6 .2 1.9 1 11.4 .4 0 .2 1.5 .9 1.9 .5-4.5 .2 3.7 .8-5.1 .6-1.6 .2-3.3 .7 .8 .7-4.6 .2-2.5 .6 1.7 .8-4 .2 3.9 .5-1.1 .9 9.1 .2-4.9 .4 5.8 1 6.1 .2 1.1 .3 3.7 1.1 10.3 .2-.5 .1 4.1 1.3 10.6 .2-.7 0-2.1 1.4 11.1 .1-5.7 .1 5.6 1.4 1.3 .2-1.1 1.3 4 .1 .1 .1 2 1.3 .7 .2-1.5 .1 2.2 1.2-1.3 .3-1 .1-.2 1.1 .8 .4 2.3 .1-1 1 2.2 .5-3.3 .1 2.4 .9 .8 .6-.2 .1 .4 .8-5.2 .8 2.7 0 1 .7 1.5 .9 2.1 0 1.7 .6-4.8 1 1 0 1.7 .5-2.2 1.1 2.9 0-2 .4 .2 1.2 1.2 0 1.9 .3-2.6 1.3-1.4 0 3.5 .2-1.4 1.4-2.1 0-1.2 .1 2.4 1.5-.6 0-.3 1.6 1.8 0 .8 1.6 1.1 0-1.9 1.6-2 0-.4 1.6-.1 0 3.3 1.6-3.8 0 1.8 1.6-1 0 1.5 1.6-.1 0 .3 1.6 3.3 0-1.2 1.6-2 0-1.1 1.6 2.7 1.6-1.3 1.6 .3M779.3 1650l1.6 2.5 .5-.1 1.1 .5 1.1-.9 .5 .2 1.6-2.1 0 3.6 1.6-1.3 .5 2.3 1.1-3.3 1.1-.1 .4 2.3 1.6-2.5 .1 1.6 1.5-1 .7-.1 .9-3.3 1.2 4.2 .4-.5 1.6-2.5 .1 4.3 1.5-5.4 .7 3 .9 4.3 1.2-2.4 .4-2.6 1.6 2.4 .1 .2 1.5-6.8 .7 5.4 .9-.1 1.2 2.5 .4-2.4 1.6-2.3 .2 1.4 1.3 4.1 .8-3.5 .8 3.2 1.3-1.7 .3-2.8 1.6 2.4 .3-.8 1.3 .4 .8-.6 .8-1.8 1.3 2.8 .3-1.5 1.6-1 .3 .3 1.3-1.2 .8 .3 .8-.6 1.3-3 .3 4.9 1.6-4 .3-1.1 1.3-3.9 .8 4 .7-2.4 1.5-.7 .1-1.9 1.6 .6 .4-2.2 1.2 1.3 .9 3.1 .7 1.8 1.5-1.7 .1-2.2 1.6 4.7 .4 .5 1.2-1 .9 1 .7 6.1 1.5-2.9 .1-1.1 1.6 2.5 .4-3.1 1.2 0 .9 1.7 .7 2.8 1.5 .3 0-1.1 1.6 2.6 .5-5.3 1.1 .5 1.1 4.5 .5-1.2 1.6-1.3 0 .8 1.6-1.8 .5 4.4 1.1-4 1.1 2.3 .5-1.8 1.6-.7 0-1.3 1.6 1.9 .5 .2 1.1-1.2 1.1-1 .5 .3 1.6-.5 0 4.9 1.6-2.7 .6-.7 .9 2.7 1.2-1 .4 .6 1.6 .6 .1-1.9 1.5-3 .7 3.9 .9-.5 1.2-.6 .4-1.2 1.6 2.7 .1-.8 1.5 2.5 .7-5 .9 .2 1.2 2.8 .4 .1 1.6-1.5 .1 2.5 1.5-1.9 .7 2 .9-2.2 1.2 .8 .3 .4 1.6-2.7 .3 3.4 1.3-2.7 1.6 2.5 1.6-3.1 1.6-2.1 1.6 3.9 1.6-3 1.6 6.2 1.6-6.7 1.6 1.3 1.6 3.7 1.6-.6 1.6-2.3 1.5 3.9 1.6 0 1.6-4.4 1.6 1.2 1.6 .8 1.6 .7 1.6-1.3 1.6 1.1 1.6-2.9 1.6 1.6 1.6-2.3 1.6 2.6 1.6 1.4 1.5-3.5 1.6 3.4 1.6-3.8 1.6-2.4 1.1 2.9 .5 1 1.6 1.5 0-.1 1.6-3.3 .5 .6 1.1 2.3 1.1-1 .5-2.1 1.6-.4 0 2.9 1.6-1.4 .1 .1 .4-1.6 .6-.4 .5 .6 .4-.6 .7 2.9 .3-1 .2-.4 .8-6.3 .8 3.9 0 2.9 .1-1.7 1 1.2 .4-4.3 .5 1.6 .2 2.7 .8-3 .1 6.8 .9-4.7 .3 1.2 .4 1.8 .2-4.8 1 .7 .4-2.6 .1 4.2 .5-4.5 .9-.9 .1 2 .7-2.1 .2 1.7 .7-3.6 .2 .5 1-.6 .4-.7 .6-2.4 .9-1.8 .1 6.1 .1-5.7 .8-2.6 .7-4.4 .2-.3 .5 1.7 .5-4.3 .4 .7 .6-8 .6-5 .3-2.4 .1 .7 .9-15.7 .7-9.8 .1-6.8 .2-2.2 .9-31.8 .4-11.8 .6-28.8 .1-10 .8-56.4 0-.1 1-57.7 .3-15.1 .3-10.2 .4-3.2 .9 27.4 .3 20.5 .3 13.7 .4 26.7 .9 58.7 0 3.5 .8 36.7 .2 6.1 .6 23 .4 8.3 .9 18.2 .3 5.8 .7 8.9 .9 6 .1 4.2 .2 1.4 .7 6 .6 2.3 .4-1.9 .4 3.5 .5 4.4 .3-1.5 .7 1.4 .6 .9 .3 2.3 .1-1.8 .9 1.8 .6 .5 .3-.9 .1-1.7 .9 .5 .3 4.6 .7 1.6 .1-3.1 .8 .4 .1 .3 .9-1.8 .4 1.8 .1 .2 .5-2.9 1-2.2 .1 3.8 .4-2.8 .4 1.5 .8-2.4 .2 2.8 .7 .9 .2-5.2 .5 3.3 .5-1.4 1-.8 .1-1.1 .8 1.8 .8-2.7 .2 6.3 .2-1.4 .7 .3 .5 2.8 .9-.7 .7 1.4 1.5 2.5 .1-3.1 1.6 2.6 .4 .2 1.2 2.3 .9 1.3 .7 2.5 1.5-2.9 .1 .9 1.6-.1 .4 2.5 1.1-1.4 1.1 1.9 .5-.4 1.6-2.1 0 3.6 1.6-1.5 .5 .7 1.1-2.5 1.1 1.7 .5-1.1 1.6 1.5" fill="none" stroke="#ff3838" stroke-width="4.0" stroke-linejoin="round" clip-path="url(#cb)"/>
<path d="M188 1573.9l1.6-.3 1.6-1.6 1.6 4.4 1.6-5.7 1.6 2.7 1.6 1.6 1.6-.4 1.6 .1 1.6-2.7 1.6 4.8 1.6-4.1 1.6 1.2 1.6 .1 1.6 .1 1.6-.8 1.6 3.5 1.6-2.4 1.6 1.6 1.6-4.1 1.6 3.6 .1-1.3 1.4 1.1 .1-.3 1.4 .4 .2-.9 1.3 .4 .3 .1 1.2 .2 .4-.3 1.1-.7 .5 1.4 1-2.1 .5 4.8 1-1.9 .6 1.1 .9-2.7 .7-1.8 .8-.4 .8 1.2 .7 .3 .9 .4 .6 .1 1 1.6 .5-4.8 1.1 6.6 .4-3.3 1.2 .8 .3-3.1 1.3 3.3 .2-2.7 1.4 3.2 .1-.4 1.5-.2 0-.5 1.5-.2 .1-.1 1.4 2 .2-1.4 1.3 .3 .3 3.5 1.2-3.9 .4-1.7 1.1-2.3 .5-.5 1 4 .6 .9 .8-3.6 .8-.8 .7 .9 .9-.7 .6 .3 1-3.7 .5-2.1 1.1-.7 .4-3.8 1.2-3.9 .3-.1 1.3-.3 .2-.2 1.4 2.2 .1 .3 1.5 7.7 0-3.2 1.5-.1 .1 1.5 1.4 5.7 .2-1.3 1.3 6.9 .3-3.9 1.2 1.2 .4 1.1 1.1 0 .5 1.5 1-1 .6 1.1 .9-1.3 .7-3.2 .8 5.1 .8 2.2 .7-4.2 .9 .7 .6 2.3 1-2 .5 1 1.1-.4 .4 1.4 1.2-1.1 .3 3.5 1.3-3.1 .1-.5 1.5-1.8 0 2.5 1.5-1.6 .1 2.6 1.4-.1 .2 3.4 1.3-5.5 .3 1.5 1.2 1.6 .4-5 1.1 4.4 .5 2 1-2.9 .6-.1 .9 2.1 .7-1.5 .8 .1 .8 .9 .3-2.6 .4 4.4 .9-3.7 .4 .6 .2-.6 1-3.5 .5 1.6 1.1 2.1 .4 .6 .2 1.9 1 2.5 .7-3.1 .9-1.4 .8-.8 .7 3.4 1-3.3 .6 1 1.1 2.3 .5-2.4 1.3 0 .3 .5 1.4-2.8 .2 2.5 1.5 .5 .1 .3 1.6-1.1 0-3 1.6 2.3 .1 2.6 1.5-2.5 .2-.2 1.4 2.4 .3 0 1.3-.6 .4 .8 1.2 .3 .5-.5 1.1-.2 .6 2.4 1-4.8 .7 5.5 .9-3.2 .9-1.7 .7 2.3 1 .6 .6-3.7 1.1 2.2 .5 1 1.2-.1 .4-1.4 .4-1.9 .9 1.4 .3 3.7 .4-5.3 1 6.1 .2-5.1 .4-.4 1.1-1.5 .1 1 .4-.3 1.2-3.5 0 5 .4-2 1.2-3.3 .1-3 .4 .9 1.1-2.1 .2 1 .3-1.9 1.1-4 .3 1 .2-.2 1.1-.8 .5 1.3 1.1-1.9 .5-.6 .1 4.6 1 1.6 .5-2.6 .2 3.7 .9 0 .5 3 .3 .4 .8-1.6 .5 1.4 .4 2.1 .7-1.1 .5 .9 .5 1.1 .6 1.7 .5 .5 .6-.7 .5 1.1 .5 2.6 .7-.7 .4-.2 .5-1.6 .8 .2 .3-.8 .5 .7 .9-1.5 .2 2.8 .5-.3 1.1-.4 0 .1 .5-1 1.1 3.3 .1-.1 .4 1 1.1-1.4 .2-.8 .3 1.8 1.1-3.5 .3-.2 .2 3.8 1.1-.7 .4-.4 .1 1.8 1.1-2.3 .5 .4 1.1 .1 .5-2.7 .1 2.5 1 .1 .5-1.3 .2-1.1 .9-.6 .5-2.6 .3 2.1 .8 3.1 .5-.5 .4-2.5 .7-1.5 .5 2.9 .5-.3 .6-1 .5-2.1 .7 2.6 .4 .4 .5-2 .8-.2 .2 .9 .6 1.4 .9 1 .2 .3 .5-.5 1-.2 0 1.4 .6 1.4 1-.9 .1 .9 .5-1.1 1-.7 .2 .5 .4 .5 1-2 .3 2.2 .3-.6 1 1.4 .4 1 .2-1 1-.8 .5 1.1 .1-2.1 1 2.6 .6 1.4 1-1.2 .6 1.5 1-3 .6-2.2 1 3.9 .6 2.8 1-5 .6 4 1-3.4 .7 3.4 .9-3.4 .7 .6 .9 1.2 .7-3.3 .9 2.8 .7-.4 .9 1.7 .7-1 .9-.2 .7-.3 .9 3.3 .7-2.2 .9-.5 .7-3.7 .9 5.9 .7-2.3 .9 .4 .7 .9 .9-.9 .7 2 .9-2.3 .7 .9 .9-.5 .7 .8 .9-.5 .7 .2 .9-.3 .7 0 .9 .7 1.6-2.1 1.6 0 1.6 1.3 1.6 .2 1.6 1.9 1.6-4.4 1.6 4.8 1.6-3.1 1.6-.4 1.6 1.9 1.6 .1 1.6 1.1 1.6-4.8 1.6 5.2 1.6-1.1 1.6 1.7 1.6-2.6 1.6-2 1.6 2.1 1.6 .1 1.6 1.5 1.6 .4 1.6-4.7 1.5 .8 1.7 2.8 1.5-1.3 1.6 2.8 1.6 .7 1.6 1.3 1.6-3.2 1.6 1.7 1.6-.7 1.6-.7 1.6-.9 1.6 2.5 1.6-.4 1.6-1.4 1.6-.1 1.6-2.5 1.6 3.4 1.6-.2 1.6-1.8 1.6 3.8 1.6-2 1.6-1.7 1.6 1.3 1.6-1.3 1.6 .6 1.6-.8 1.6 2.3 1.6-2.7 1.6 1.6 1.6 1.2 1.6-.4 1.6 .6 1.6-1.3 1.6 .2 1.6 1.6 1.6-1.1 1.6 2.2 1.6-2.2 1.6 1 1.6-.7 1.6 2.3 1.6-3.2 1.6 2.9 1.6 .6 1.6-1 1.6 1.4 1.6-3.6 1.6-1.2 1.6 1.7 1.6 .4 1.6 1.4 1.6-1.5 1.5 .2 1.7 .4 1.5 3.2 1.6-3.7 1.6 1 1.6 .6 1.6 2.1 1.6-4.5 1.6-.8 1.6 2.8 1.6-1.2 1.6 .4 1.6-2.2 1.1 5.8 .5-5 1.2 3.2 .4 .2 1.3 .4 .3 1.3 1.4-3.3 .2-1.2 1.5 2.5 .1 1 1.6-1.7 .1-.2 1.5 2.3 .2-3.5 1.4 4.7 .3-5.5 1.3 1.1 .4 1.2 1.2-1.2 .5 2.6 1.1-2.3 .6 .3 1 .3 .7 2.3 .9-1.9 .8-.2 .8 2.1 .9-3.2 .7-.7 1 2 .6 .7 1.1-2.3 .5 1.2 1.3 .9 .3-.9 1.4 .7 .2-.6 1.5 2.3 .1-4.5 1.6 4.8 0-5.8 1.6 3.4 .1 .6 1.5 2.8 .2-2.3 1.4-5.2 .3 3.3 1.3-3.1 .4 3.3 1.2-.2 .5-1.5 1.1-3.8 .6-.6 1-4.8 .8 .2 .8-7 .9-.9 .7-3.6 1-6.2 .6-.4 1.1-5.3 .5 .4 1.2-4.6 .4 1.1 1.3 1.1 .3 4.7 1.4 4 .2 .7 1.5 6.7 .1 3.5 1.6 5.8 0-.8 1.6 5.6 .1 1.4 1.5 1.3 .2 1.2 1.3 .1 .5 1.4 1.1 1.6 .6-1.1 1-2 .7 3.1 .9 2.8 .8-4.8 .8 .4 .9 1.6 .7-1.3 1 .2 .6-1.9 1.1 1.2 .5 2.4 1.2-4.9 .4 5.7 1.3-3.5 .3 5.2 1.2-2.6 .2 0 .2-2.3 1.1 4.3 .4-2.3 .1-1.3 1 3.1 .6-.3 .1 1.6 .8-4.1 .7 1.3 .2-.9 .6-1.2 .8 1.2 .3 .2 .4 .6 .6 .2 .3-.2 .4 .5 .2-.8 .7 .2 .3 .7 .5 2.4 .9-3.1 .2-.8 .4 5 .2-3.2 .8-1.3 .2 .8 .3-3.2 .4 2.4 .7-.6 .2 .3 .2-.8 .6 1.3 .6 2.8 .2-3.6 .1 1.5 .8 1.5 .5-1.8 .2-1.4 0 2.3 1 .2 .4-2.8 .1-.2 .1-.8 1.2 1.4 .2 .2 .2-.5 1.3 0 .1 1.2 .2-.2 1.2 2.6 .2-5.7 .2 0 1.1 .9 .3 1.4 .2 1.7 .9-1.4 .5 .1 .2-3.8 .8 2 .6 1.9 .2-1.8 .7-2.5 .7-4.3 .2 4.5 .6-.1 .8 .3 .2-2.2 .5-3.5 .9 1.4 .2-3.2 .4 .1 1-4.1 .2-3.2 .3 .3 1.1-12.5 .2 2.4 .2-6.5 1.2-14.1 .2-1.1 .1-1.7 1.3-18.7 .2-2.5 0-1.5 1.4-21.3 .1 1.7 .1-5.4 1.4-4.6 .2-3.3 1.3 9.8 .1 1.8 .2-1.6 1.2 18.8 .2 3.2 .2 1.3 1.1 15.7 .3 2.3 .2-.1 1 7.8 .4 1.9 .2-.9 .9 5.8 .5-5.4 .2 4.7 .8-.9 .6-4.3 .2-1.8 .7-4.4 .7-4.4 .2-.1 .6 .8 .8-3.6 .2 1.2 .5 3 .9 3.5 .2 .8 .4 3 1 7.8 .2 3.3 .3 1.7 1.1 8.9 .2 0 .1 2.9 1.3 7 .2-1.1 0 3.1 1.4 1.8 .1 5.1 .1-1.4 1.4 4.2 .2-.2 1.3 5.4 .1-1.6 .1-1.3 1.3 2.1 .2-.4 .1 3.3 1.2-2.3 .3 .3 .1 .7 1.1 .1 .4-1.4 .1 3.1 1-.9 .5 1.1 .1-4.4 .9 3.2 .6 1.1 .1 .3 .8-2 .8 5.5 0-1.8 .7-1.3 .9-2.8 0-.7 .6 4.9 1 .4 0-5 .5 4.6 1.1 .7 0-3 .4 .4 1.2 .2 0-.8 .3 4.6 1.3-3.9 0-.1 .2 2 1.4 1.8 0-2.1 .1-2.8 1.5 2.7 0-1.4 1.6-2.1 0 3.5 1.6-.4 0-1.3 1.6-.8 0 4.5 1.6-2.4 0-.5 1.6 .4 0 1.6 1.6-2 0 2.5 1.6-1.1 0-.2 1.6-.1 0-1.6 1.6 3.6 0-1.7 1.6-.9 1.6-.2 1.6 2.1M779.3 1597l1.6-2.5 .5-2.4 1.1 .6 1.1-.9 .5 .8 1.6 .6 0-.2 1.6 1.7 .5-1.2 1.1 .9 1.1-.1 .4-1.7 1.6 2.3 .1-.9 1.5 .7 .7-2.8 .9 2.1 1.2 .4 .4-2.2 1.6 2.9 .1-1.9 1.5 .1 .7 .9 .9-3.4 1.2-1.1 .4 3.1 1.6 1.1 .1 1.1 1.5-.2 .7 2.2 .9-2.5 1.2-1.6 .4 .6 1.6-1.2 .2 1.9 1.3-1.8 .8-.4 .8 .1 1.3-1.1 .3 .7 1.6 .9 .3 .1 1.3-.2 .8 1.8 .8-2.7 1.3 1.3 .3-1.3 1.6 1 .3 .5 1.3-2.7 .8-.4 .8 1.6 1.3-2.9 .3 1.3 1.6-1.8 .3 0 1.3-2.7 .8 0 .7-1.4 1.5-.4 .1 .7 1.6-1.5 .4-.8 1.2 .4 .9 1.6 .7-.7 1.5 1.7 .1 1.8 1.6 3.8 .4-3.6 1.2 4.9 .9-2.3 .7 1.2 1.5 .1 .1 .2 1.6 4.6 .4-4.1 1.2 1.6 .9-1.6 .7 2.6 1.5-2 0-1 1.6 1.1 .5 1.2 1.1-2 1.1 .9 .5-2.5 1.6 7.6 0-4.5 1.6 1 .5-1.7 1.1 2.8 1.1-2.8 .5 3.9 1.6-2.7 0-1.3 1.6 1.3 .5-2.4 1.1 3.6 1.1 4.6 .5-1.4 1.6-3.8 0 0 1.6-3 .6 5.9 .9-3 1.2 .2 .4 1 1.6 .2 .1-2.6 1.5 3.6 .7-2.9 .9 2.2 1.2-3.1 .4 3.7 1.6-2.8 .1-.4 1.5 1.9 .7-2.1 .9 .8 1.2 4.1 .4-3.8 1.6 2.4 .1-3.9 1.5 3 .7-3.2 .9 2.6 1.2-.9 .3 .5 1.6 1.3 .3-1.4 1.3 0 1.6-1.7 1.6-1 1.6 4.8 1.6-3.4 1.6 2.1 1.6-1.9 1.6 .7 1.6 1.8 1.6-1.1 1.6-.7 1.6-1 1.5 2.9 1.6-.6 1.6-2.5 1.6 .3 1.6 .2 1.6 2.9 1.6-3.5 1.6 .9 1.6 .3 1.6-.2 1.6-1.6 1.6 1.7 1.6-1.3 1.5 2.6 1.6-3.2 1.6-.2 1.6 1.4 1.1-.3 .5 1.8 1.6-2.6 0 2.8 1.6-1.2 .5-.3 1.1-.3 1.1-1.2 .5 4.4 1.6-3.8 0 0 1.6 2.4 .5-4.4 .3 5.3 .8-3 .1-.1 1-1.6 .5-.4 .4-.3 1 2.1 .2-.4 0-3.1 .8 .7 .7 1.1 .2 3.8 .5-2.2 .5-2.7 .4 1 .5-1.6 .7 .8 .3-1.5 .1 1.5 .9-2.5 .7-.5 .1 5 .1-4.6 1-.7 .4 2.4 .6 .7 .1 .3 .8-3.4 .1-2.5 .9 .1 .3-1.5 .4 .9 .2-.8 1-2.6 .4 1.7 .1-2.1 .5 .1 .9-4.3 .1-1 .7-1.9 .2 .9 .7-.9 .2-4.6 1-7.6 .4-3.2 .6-4.8 .9-14.9 .1 0 .1-3.3 .8-18.6 .7-24.3 .3-8.6 .4-19.8 .5-28.8 .3-22 .7-42 .6-45.1 .3-20.3 1-30.7 .6 11.5 .3 13.3 .1 6.3 .9 62.8 .3 25.4 .7 40.5 .1 7.1 .8 41.7 0-.4 1 32 .3 11 .3 6.2 .4 5.6 .9 13.6 .3 2 .3 3.4 .4 2.6 .9 9.6 .1-.8 .7 1.8 .2 2.7 .6 2.8 .4 1.2 .9 1.5 .3-.7 .7 2.4 .9 2.1 .1-1.8 .2 2.5 .7-4.5 .6 6.6 .4 .1 .4 1.3 .5-4 .3 3.3 .7-3.3 .7 .4 .1 1 .2-.5 .9 .2 .5-1.6 .4 .6 .1 4 1-5.7 .1 .4 .8 1.7 .1 .5 .7-2.5 .2 .3 .9 .4 .4 1.7 .1-3 .5 2.1 1 .8 .1-2.3 .4 4.7 .4 .1 .8-4.8 .2 4 .7 3 .7-.2 1.5 3.4 .1-2.7 1.6 2.2 .4-1 1.2 2 .9 1.8 .7-3.3 1.5 4.9 .1-1.3 1.6-1.7 .4 1.2 1.1 2 1.1-.5 .5 3.3 1.6-1.2 0-2 1.6 .1 .5-1 1.1 2.7 1.1-2.9 .5 3.4 1.6-1.1" fill="none" stroke="#0068e0" stroke-width="4.0" stroke-linejoin="round" clip-path="url(#cb)"/>
<path d="M188 1515.5l1.6 1.1 1.6 1.6 1.6-1.6 1.6-.7 1.6-.8 1.6 3.7 1.6-1.4 1.6-.6 1.6-.5 1.6-2.3 1.6 4.2 1.6-1.6 1.6 1.5 1.6 2.5 1.6-2.9 1.6 .4 1.6 1.8 1.6-1.7 1.6 .6 1.6-2 .1 .4 1.4-1.1 .1 4.1 1.4 .5 .2-2.7 1.3 .6 .3-.4 1.2 5 .4-2.6 1.1-1.8 .5 1.3 1 1.1 .5-3.7 1 2.6 .6 0 .9-.9 .7 1.3 .8 .7 .8-1.9 .7-.6 .9 2.1 .6-1.2 1 .4 .5 2.5 1.1-2.5 .4-.7 1.2-2 .3 2.7 1.3-.1 .2 .4 1.4-.1 .1 .3 1.5-.8 0-.2 1.5 .7 .1-2 1.4-.6 .2 0 1.3 1.6 .3-3 1.2 1.8 .4 .4 1.1 .5 .5-2.3 1 1.3 .6-.5 .8-1.7 .8 0 .7-1.6 .9-3.3 .6-.5 1-4.1 .5 2.5 1.1-7.9 .4-2.5 1.2-6.1 .3 1.2 1.3-1.9 .2-.6 1.4 .1 .1 .9 1.5 5.9 0 2.1 1.5 4.8 .1 1.6 1.4 7.8 .2-5.2 1.3 5.7 .3 .9 1.2-.6 .4 4.5 1.1-1.2 .5 1.3 1 .8 .6 1.5 .9-3 .7 .2 .8-.8 .8 .2 .7 4.9 .9-3.4 .6-2 1 4 .5 1.7 1.1-4.2 .4 1.5 1.2-2 .3-.9 1.3 3 .1-1.6 1.5 .1 0 1.9 1.5 .7 .1-1 1.4 2.5 .2-3 1.3 .5 .3 2 1.2 2.2 .4-.3 .3-1.7 .8-1.3 .5-2.3 .6 4.5 .4-2.4 .6 3.8 .9-3.5 .7-3.2 .8 4.9 .4-1.5 .4-1.1 .7 1.2 .9-.2 0 .4 .6-3.3 1 3 .3 .6 .2-2.6 1.1 4 .4-2.3 .2-3 1 5.9 .9-3.1 .7 .7 1.3-.4 .2 3.5 1.6-3 .1-1.2 1.5 .1 .4 2 1.2 .1 .7-2 .9 2.6 1-2.6 .6 1.4 1.4 .6 .2-.4 1.6 .1 .1 0 1.5-1.3 .4 1.2 1.2 .2 .7-2.5 .9-.3 1.1 2.8 .5-.5 1.4 .3 .2 .9 1.6-.6 .1-1.5 1.5 1.7 .4-2 1.2 3.9 .8-1.2 .8-1.7 1.1-1.1 .5 1.7 1.4-1.3 .2-1 .4 1.9 1.2-1.1 .1 1.2 .3-1.8 1.2 2.6 .4-.6 1.2-6.4 .4-1.2 .4 1.3 .8 2.9 .4-2.1 .7-1.9 .5-.7 .5-3.2 .9 .4 .2-2.3 .5 1.2 1.1-2.9 .1-.4 .4-.4 1.1 .8 .5 2 1.1-5.2 .5 4.4 .3-1.3 .8 4.4 .5 .2 .6-1.8 .5 2.4 .5 3 .9 2.2 .2-3.3 .5 .2 1.1 3.7 .2 1.9 .3-.2 1.1 .3 .5 .8 1.1 .8 .5-.5 .3-1.3 .8 2.9 .5-.3 .6 1 .5-1.3 .5-.7 .9 2.2 .2 .2 .5 1.6 1.1-4.8 .2 1.4 .3 .4 1.1 3.9 .5-7.1 1.1 5.3 .5-2.8 .3-.4 .8 3.1 .5-.1 .6-6.3 .5 3.1 .5 1.9 1-.9 .1 2.6 .5-3.2 1.1 .7 .2-3.1 .3 4.3 1.1-1.2 .5 .8 1.1-2.8 .5 3.7 .3-4.2 .8 3.2 .5-.3 .7-4.8 .4 1.5 .5-1.7 1-2.3 .1 3.8 .5-.9 1.1 2.4 .2 .5 .3-5.1 1 3 .6 1.6 1.1 1.6 .5-.6 .3-1.3 .7 1.4 .6 1.8 .7-2.8 .3 .1 .6 .4 1 1.3 0 3.1 .6-2.6 1 2 .3 1.1 .3-.2 1-1.4 .6-.5 1 .3 .6-.4 .4-.7 .6 2 .6 .7 .7-2.3 .3-.5 .6 1.5 1 .1 0 1.2 .6-.9 1-.1 .3-2.6 .3 1.7 1 .3 .6-.5 1 1.8 .7-.7 .9-1.2 .7 2 .9 1.2 .7 1.9 .9-3.8 .7-.6 .9 2.1 .7 1.4 .9-3.5 .7 1.9 .9-1.3 .7 1.8 .9-2.5 .7 .4 .9 .3 .7 .2 .9-1.7 .7 1.6 .9-.8 .7 4.3 .9-.8 .7-3.1 .9 .2 .7 1.4 .9-1.4 .7 0 .9 2 .7 .7 .9-1 1.6 1.5 1.6-2.1 1.6-.2 1.6-.4 1.6 0 1.6-.5 1.6 3.6 1.6-.8 1.6-1.6 1.6 .4 1.6-1.5 1.6 2.5 1.6-1.2 1.6 0 1.6-.1 1.6-1.9 1.6 1.6 1.6 3.3 1.6-3.7 1.6 0 1.6 1.1 1.6-1.1 1.6 0 1.5-.2 1.7 .3 1.5 1.6 1.6-3.6 1.6 1.4 1.6 .2 1.6 2.2 1.6-1.4 1.6 2.1 1.6-1.9 1.6 3.1 1.6-4.4 1.6 5.7 1.6-4.9 1.6 1.5 1.6-1 1.6 1.2 1.6 2.9 1.6-1 1.6-2.1 1.6 1.6 1.6 2 1.6-1.6 1.6-1.5 1.6 1.2 1.6 .1 1.6-3.4 1.6 1.9 1.6 1.1 .9 2.8 .7-1.8 .6-.7 1-2.9 .3 1.8 1.3-1.6 0 2.6 1.2-1.1 .4 2.2 .9-1.3 .7 .1 .6 .5 1 1 .3-2 1.3-.3 0 1.1 1.3 4.7 .3-5.8 .9-.4 .7 1.9 .6-3 1 3.3 .3-2.7 1.3 1.4 0 .1 1.3-1 .3 2.1 .9-.7 .7 1.6 .6-.7 1-1.6 .3 1.9 1.3-.2 0-.8 1.3 .1 .3 1.5 1-2.8 .6 2.9 .6-1.6 1 .4 .3 .8 1.3 2.3 0-5.7 1.3-1.1 .3 3.8 1-2.9 .6 .2 .7-3.1 .9 2.9 .3-1.8 1.3-5 0 4 1.3-3.6 .2-1.1 1.1-2.5 .6 5.9 .7-3.6 .8 3.8 .4-1.4 1.2 1.5 .1 3.3 1.3 1.2 .2 .2 1.1-.7 .5 1.9 .8 .5 .8 1.6 .5-2.2 1.1 .9 .1 .7 1.3-4.7 .2 4.1 1.1 2.1 .5-1.4 .8-.3 .8 .6 .5 .9 1.1-4.7 .1 1.7 1.3-.3 .2-.8 1.1 3.8 .5-3 .8 1.7 .8 .8 .5 .9 .6-4.2 .5 0 .2-.7 .9 3.7 .3-2.1 .2 2.2 1.1 .9 .5 1.4 .8-4.6 .3 1.9 .5-.2 .5-3.3 .6 4.5 .5 1 .2-4.3 .9 3.1 .3-.5 .2-.2 1.1-2 .5 0 .8 5.5 .3-1.9 .5-1.6 .5 1.6 .6-3.5 .5 2.6 .2-1.8 .9-3.3 .4 2.5 .1 2.8 1.1 .1 .5-.3 1.1-1 .5 .4 1.1-3 .5 2.4 1.1 5 .5-4.7 1.1-1 .5 4.1 1.2-3.5 .4-.2 1.2 .3 .4 .4 1.2-2.6 .4 2 1.2-.7 .4-2.3 1.2 3.1 .4-.6 1.2-1.1 .4 .1 1.2 2 .4-6.3 1.2 5.4 .4-1.4 1.2-1 .4-1 1.2-1.5 .4 1.2 1.2-5.5 .4 3.1 1.2-9.4 .4 1.3 1.2-7.7 .4 .6 1.2-9.1 .4-6.3 1.2-3.6 .4-3.7 1.2-.3 .4-.5 1.2 2.5 .4 1.7 1.2 9.2 .4 2.1 1.2 7.4 .4 .5 1.2 8.7 .4-.4 1.2 2.5 .4 1.3 1.2 8.3 .4-2.9 1.2 .4 .3 .4 1.3 1.7 .3 .5 1.3 .5 .3 1.6 1.3-1.8 .3 1.7 1.3-.4 .3-.7 1.3 2 .3-.3 1.3-1.9 .3 2.4 1.3-1.6 .3-1.5 1.3 5.5 .3-.8 1.3-5.3 .3 3.4 1.2 0 .1-.9 .3-.8 1.1 1.9 .2-.1 .3-1 1 1.9 .3-3.8 .3-1.6 .9 5.5 .4 1.1 .3-5.1 .8 .9 .5 5.3 .3-3.7 .7 1.9 .6 .2 .3-1.7 .6-1.8 .7 4.2 .3-2.2 .5-2.4 .9-.1 .2 2 .4-2.7 1 6.3 .2-2.7 .3 .4 1.1-1.9 .2 1.2 .2-4.5 1.2 2.2 .2 1.9 .1-2.8 1.3 .4 .2-.4 0 3.4 1.4 0 .1-2 .1 1.2 1.4-1.4 .2-2.1 1.3 .6 .1 .5 .2 1.8 1.2-1.3 .2 1.7 .2-2.8 1.1 2 .3-1.1 .2 1.9 .9-2.3 .5 .8 .2-4.7 .8 3.7 .6-1.3 .2 1 .7-1.3 .7-3 .2 5 .6-1 .8-3.4 .2 1.1 .5-3.1 .9 .4 .2-5.2 .4 1.5 1-5.8 .2-4.3 .3-.4 1.1-7.2 .2-4.9 .2-1.8 1.2-13.9 .2-3.2 .1-1.2 1.3-20.4 .2-2.8 0-1.7 1.4-20.1 .1-3.2 .1 3.1 1.4-12.2 .2 1.1 1.3 7.3 .1 3.1 .2-.2 1.2 20.8 .2 .8 .2 1.8 1.1 16.7 .3 2.9 .2 .2 1 6.4 .4 4.5 .2 .9 .9 .4 .5 1.9 .2-1.5 .8-.2 .6-4.1 .2-2 .7-4.9 .7-1.3 .2-2 .6 4.7 .8-1.8 .2 .3 .5-.4 .9 5.3 .2-2.8 .4 4.8 1 6.5 .2 4.3 .3 1.2 1.1 11.5 .2-3.1 .1 3.6 1.3 8.9 .2-1.9 0 1.6 1.4 7.5 .1-4 .1 2.6 1.4 3.5 .2 .2 1.3-.9 .1 3 .1-2.7 1.3 7.3 .2-2.9 .1 .7 1.2-.6 .3 1.7 .1-1.5 1.1 1.7 .4 1.8 .1-1.6 1 .9 .5 .5 .1 .3 .9-.7 .6 .4 .1-.5 .8-2.6 .8 1.9 0 3.5 .7-1.8 .9-.4 0-1.6 .6 1 1 2.7 0 1.5 .5-2.4 1.1-2.3 0-1.1 .4 2.3 1.2 3.9 0-1.9 .3-2.5 1.3 1.3 0 .1 .2 2.1 1.4 .5 0-.6 .1-4.6 1.5 4.8 0 .9 1.6-3.5 0 1.8 1.6-.1 0-3.3 1.6-.1 0 1.7 1.6 .1 0 1.7 1.6-2.2 0 .1 1.6 .7 0 3 1.6-2.7 0 2.5 1.6-.3 0-2.3 1.6 1.5 0-1.9 1.6 1.4 1.6 1.1 1.6-1.4M779.3 1535.1l1.6 .2 .5-.8 1.1 3 1.1-4.6 .5 2.4 1.6-2 0 1 1.6 .8 .5 3.8 1.1-3.8 1.1-.1 .4 .8 1.6-1.3 .1-1.2 1.5 3.2 .7-.4 .9-1.4 1.2 0 .4 2.4 1.6-2.6 .1-.9 1.5 .3 .7-3.4 .9 6.2 1.2-.8 .4 .1 1.6-3.6 .1 4.2 1.5-1.8 .7 .4 .9 2.3 1.2-1 .4-3.9 1.6 1.6 .2 .7 1.3-.3 .8-.8 .8 1.3 1.3-.2 .3-.9 1.6 2.1 .3-3 1.3 1.1 .8-1.9 .8 2 1.3 1.1 .3 1.4 1.6-4.5 .3-1.2 1.3 .1 .8 .6 .8 1.5 1.3-4.4 .3 1.5 1.6 1.7 .3-3.2 1.3-1 .8-1.6 .7-3.4 1.5 1.8 .1 .6 1.6-4.1 .4 .1 1.2-.2 .9 2.8 .7-.9 1.5 5 .1-2.3 1.6 2.9 .4 1.1 1.2-1.5 .9-.7 .7 4.4 1.5-.7 .1-1.5 1.6 2.9 .4 2.1 1.2-1.8 .9 2.7 .7-2.4 1.5 .6 0-3 1.6 2.1 .5 1.5 1.1-.1 1.1-2.1 .5 2.5 1.6 4.2 0-3 1.6-1.4 .5-2.6 1.1-.5 1.1 1.6 .5-1.7 1.6 2.1 0-2.8 1.6 .2 .5-1 1.1-.3 1.1-2.1 .5-.4 1.6-.8 0 1 1.6-1.7 .6-1.8 .9 .3 1.2 1.4 .4 0 1.6 2.1 .1 .7 1.5 4.4 .7-2.3 .9 .1 1.2 2.8 .4 .5 1.6 .1 .1-1.7 1.5 2.1 .7 1.7 .9-3.8 1.2 2.5 .4-.6 1.6 2.3 .1 1.2 1.5-2.8 .7 .6 .9 1.6 1.2 .7 .3 1.1 1.6-3.8 .3 3.9 1.3-3.4 .8 .9 .8-1.9 1.3 2 .3-2.1 1.6 2.2 .3-2 1.3 1.1 .8-2.1 .8-.1 1.3 1.9 .3 .8 1.6 .1 .3-.8 1.3-2.4 .8 1.9 .8 3 1.3-3.9 .3 1.8 1.6 .4 .3-.9 1.2 .4 .9 1.4 .7-1.7 1.5 3.9 .1-5.5 1.6 2.4 .4-1 1.2-2.1 .9 4.4 .7-1.2 1.5-.4 .1 .9 1.6-4 .4 2.8 1.2 .9 .9-2.2 .7-.4 1.5 2.2 .1-3.4 1.6 .8 .4 2 1.2 1.8 1.5-1.3 1.6-1.2 1.6 1.1 1.6-2.9 1.6-1.6 1.6 2.2 1.6-1.9 1.6 .4 1.6-.8 1.4-.1 .2-2 .8-.1 .8 2.8 .1-.8 1-.5 .5 .3 .4 .6 1-2.6 .2-1.8 .8 2.8 .8 2.7 .1-3.1 1 .3 .4-1.1 .5-2.3 1 .5 .1-.8 .9-1.3 .7 2.8 .2-3.7 1-1.6 .4-2 .6 1.2 .9 1.5 .1-3.2 .9 .8 .7-5.3 .2-2.1 1-5 .4-.4 .6-1.2 .9-10.7 .1 3.6 .9-6 .7-7.9 .2-7.6 1-14.6 .4-6.1 .6-17.9 .9-31.9 .1-2.8 .9-49.7 .7-51.9 .3-26.7 .9-103.6 .4-38.9 .6-67.2 .9-53 0 3.6 1 49.7 .6 66.6 .4 38.6 .9 105.2 .3 25.6 .7 52 .9 49.9 0 3 1 38.4 .6 14.5 .4 7.5 .9 15.5 .3 1.2 .7 7.1 .9 8.9 .1-1.4 .9 4.1 .6 6.8 .4 1.9 .9 2.8 .3 1 .7-.5 .9 4.5 .1-.6 .9 2.6 .6-.5 .4 .8 .9-.1 .3 2.8 .7-1.7 .9 .4 .1 2.2 .9 1.4 .5-.5 .5 3.4 1-.3 .1-2.9 .8 1.5 .8 .3 .2 5.8 .9-5.4 .5 .6 .5 1.7 1 .7 .1-1.1 .8 3 .8-4.7 1.6 4.5 1.6-2.4 1.6 4.4 1.6-.1 1.6-2.6 1.6 1.1 1.6-1.5 1.6 0 1.5 2.1 1.6-3.8 1.6 6.1 1.6-4.4 1.6 5.8 1.6-3.7 1.6-1" fill="none" stroke="#00a95e" stroke-width="4.0" stroke-linejoin="round" clip-path="url(#cb)"/>
<path d="M188 1456.8l1.6 1.8 1.6 2.4 1.6-4.7 1.6 4.1 1.6-2.1 1.6 2.7 1.6-2.1 1.6 .4 1.6 1 1.6-1.5 1.6 .9 1.6-.2 1.6 2.6 1.6-1.7 1.6-3 1.6 3.2 1.6-.1 1.6-.3 1.6 2.2 1.6-.5 1.6-3.9 1.6 4.5 .1-2.8 1.3 0 .2-.1 1.2 .6 .4 1.4 1-3.1 .6 1.7 .8-.9 .7 .7 .7-.3 .9 1.7 .5 .2 1.1-2.7 .3 1.9 1.3-2.8 .1 2.7 1.4 1 .1-1.5 1.2 4.1 .4-2.9 1-2 .6 1.8 .8-1.7 .8 1.9 .6-1 1 .3 .4-4.2 1.2 2.8 .2 2.5 1.4-.1 0 .1 1.4-.9 .2 1.2 1.2-.2 .4-.7 .9 .8 .7-.4 .7-2.3 .9 1.4 .5 .5 1.1-2.2 .3-3 1.3 1.8 .1 .8 1.4-6.2 .1 1.4 1.3-2.5 .3 3.4 1.1-5.5 .5-4.5 .9-3 .7-5.8 .6-7.3 1-4.6 .4-.2 1.2-5.7 .2 4.3 1.4-.7 0 .1 1.4 9.1 .2 1.9 1.2 7.9 .4 4.6 1 6.5 .6-1 .8 .6 .8 4 .6 1.9 1 4 .3-1.1 1.3 .1 .1 4.3 1.4-5.5 .1 0 1.3 4.6 .3-1.2 1.1-.7 .5-1.9 .9 2.8 .7 0 .7-1.5 .9 1.4 .5-2.4 1.1 4.2 .3-3.6 1.3 3.6 0-3.1 1.4 .1 .2 1.3 1.2-.9 .4 2.5 1-2.5 .6 1.7 .8 1 .8 .3 .6 .1 1-1.7 .4 3.5 1.2-3.2 .2-.8 1.4 1.5 0 2.6 1.3-5.6 .3 1.9 1.1 3.2 .5-2.2 .9-2.2 .7 3.1 .3 0 .4-1.2 .9-1.8 .4 1.7 .1-.6 1.1 3.3 .3-3.9 .2-1.3 1.1 3.5 .6-.9 1 2.6 .7-6 .9 3.6 .8 2 .7-1.9 1 .8 .6-1.5 1.1 3.9 .5-4.8 1.3 2.2 .3-.2 1.4 .1 .2 1.2 1.5-1.3 .1 .5 1.6 .7 0-.4 1.6 1.2 .1-3.1 1.5 4.3 .2-5.4 1.4 0 .3 1.6 1.3-.7 .4 2.9 1.2 0 .5 .6 1.1 0 .6-.5 1 3.9 .7-6 .9 1.1 .9-.5 .7 2.4 1-2.1 .6-.7 1.1-.8 .5 1.7 1.2-1.8 .4 2.7 .4-.4 .9-.9 .3 .5 .4-.5 1 1.1 .2-3 .4-.9 1.1-.1 .1-.3 .4 .9 1.2-3.3 0-1.2 .4 .7 1.2-1.4 .1-2.7 .4 2.2 1.1-1.8 .2-4.5 .3-.1 1.1-3 .3-3.2 .2 2.9 1.1-4.1 .5 2 1.1 2.5 .5 3.1 .1-1.8 1 1.4 .5 2.6 .2-.7 .9 1.5 .5 3.8 .3-1.9 .8 4.2 .5 2.1 .4-2 .7 1 .5-1.3 .5 3.4 .6 .2 .5 2.1 .6-.3 .5-1 .5 1 .7 1.2 .4-2.4 .5 2 .8 0 .3 .8 .5 1.4 .9 .1 .2-4.4 .5 1.2 1.1 4.5 0-.4 .5-3.3 1.1-1.1 .1 2.3 .4-.8 1.1-.5 .2 .2 .3 3.5 1.1-2.1 .3 2.1 .2-2.1 1.1-1.1 .4 3.6 .1-1.4 1.1-1.2 .5 1.2 1.1-2.6 .5-1.4 .1 0 1-.7 .5 .1 .2 .6 .9 .6 .5-1.2 .3-2.4 .8-.9 .5-3.1 .4 5.8 .7-4.9 .5 2.6 .5-3.6 .6 .4 .5 .4 .7 1.6 .4-.4 .5-1.9 .8 2.9 .2 2.3 .6-1.1 .9 .1 .2 2.5 .5 1.8 1 .3 0-.6 .6-2.7 1 3.6 .1 0 .5 2.3 1-2.2 .2 2.2 .4-1.9 1 1.1 .3-.9 .3 3 1-.7 .4-1.9 .2-.5 1-.8 .5 1.8 .1 .5 1 .3 .6-1.4 1 1.6 .6 .8 1-1.2 .6-.8 1 1 .6-.7 1 1.5 .6 0 1 2.2 .7-2.6 .9-2.3 .7 6.5 .9-4.1 .7-3.1 .9 2.8 .7-.7 .9-1.2 .7 2.5 .9 3.8 .7-4 .9-.5 .7 2.4 .9-1.5 .7-.8 .9-.3 .7-.7 .9 3.8 .7-1.8 .9 .5 .7-1.8 .9 2.1 .7-1.1 .9-.2 .7 3.4 .9-6.4 .7 3.7 .9-1.8 .7 2.1 .9 .3 1.6-2.1 1.6-1.6 1.6 2.4 1.6 3.9 1.6 .2 1.6-3.5 1.6-1.8 1.6 2.3 1.6-.5 1.6 2.6 1.6-1 1.6 2.2 1.6-2.8 1.6 3.2 1.6-3.1 1.6-.9 1.6 3.2 1.6-.6 1.6-2.6 1.6 3.2 1.6-.9 1.6-1.8 1.6 2.3 1.5 .5 1.7-2.3 1.5-1.2 1.6 3.7 1.6-1.4 1.6-2.7 1.6 0 1.6 2.4 1.6 1.7 1.6-3.1 1.6 3.7 1.6-2.6 1.6 3.5 1.6-4.8 1.6 1.5 1.6 3.3 1.6-.6 1.6-3.6 1.6 2.1 1.6-3.1 1.6 5.3 1.6 .2 1.6-3.6 1.6 2.7 1.6-1.7 1.6 2.9 1.6-2.8 1.6 .7 1.6-3.6 .9 3.4 .7 .3 .6 2.1 1 .5 .3-3 1.3 .1 0-1.6 1.2-.8 .4 2.6 .9 1.7 .7-1.8 .6 1.9 1-2.3 .3 1.8 1.3-3.1 0-.1 1.3 3.1 .3-1.2 .9 1.5 .7-1.7 .6-1.3 1 2.3 .3-1.5 1.3 2.5 0-.2 1.3-4.7 .3 4.8 .9-1.9 .7-.1 .6 1.3 1-2.2 .3 .5 1.3 2 0-.7 1.3 .1 .3-3.1 1 1.3 .6 .1 .6 1.8 1-2.6 .3 .9 1.3 1.4 0-2.5 1.3 1.7 .3-2.1 1 1.4 .6-3.7 .7 .8 .9-1.9 .3-.1 1.3-8.9 0 6.3 1.3-1 .2-4.3 1.1-1.5 .6 .6 .7-.1 .8 3.9 .4 3.5 1.2 .4 .1-1.4 1.3 .1 .2 2.1 1.1 7.2 .5-.5 .8-2.2 .8 .3 .5 .8 1.1 .3 .1-1.3 1.3 1.8 .2-.7 1.1 2.2 .5-.9 .8 .8 .8 1.4 .5-3.8 1.1 3.1 .1-.1 1.3-1.7 .2-2 1.1 2.7 .5 3 .8-1.7 .8-2.7 .5 .7 .6 2.9 .5-3.1 .2-.1 .9-2.1 .3 2.6 .2 1.1 1.1-1.6 .5-.8 .8 2.6 .3 .1 .5-.5 .5-.4 .6 1.9 .5 .5 .2 .5 .9-3.2 .3-1.4 .2 0 1.1 1.5 .5 1.4 .8-.1 .3-1.9 .5 .1 .5-.3 .6 .4 .5 1 .2 .3 .9 1.4 .4-1.3 .1-.5 1.1-.8 .5 1.1 1.1-.1 .5 3 1.1-3.8 .5 1.4 1.1-3.1 .5 3.3 1.1-2 .5-.8 1.2-.2 .4-.8 1.2 2.7 .4-.6 1.2-1 .4 .3 1.2 1 .4-1.3 .8-1.6 .4 4.9 .4-5.3 .5 3.3 .7 .1 .4-1.5 .2-.5 1 1.3 .3 1 .1-1.6 1.2 3.1 .4-2.5 .9-2.3 .3 2.1 .4-3.3 .5-.7 .7 4.5 .4-2.3 .2-5.1 1 1.9 .3 .7 .1-1 1.2-4.3 .4-.6 .9-2.9 .3-4.6 .4-3.6 .5-1.6 .7-2.4 .4-2.7 .2-4.4 1-2.5 .3 1.6 .1-4.4 1.2-2.5 .4 6.1 .9-3.9 .3 2.2 .4 5.3 .6-2.2 .6 4.2 .4 .9 .2 3.1 1 5.6 .3 2.6 .1 2.5 1.2 5.1 .4-2.1 .9 4.8 .3 .3 .4-2 .6 2.7 .6 2.1 .4-2.2 .2 4.1 1-1.6 .3 .1 0 3.3 1.3-5.7 .3 3.8 1-1.9 .3 1 .3 1 .7-1 .6-3.3 .3-.5 .4 2.3 .9-3.1 .3-1 0 .8 1.3 1 .3-.1 1 1 .3 1.3 .3-3.9 .7 2.4 .6 3.6 .3-1.9 .4 1.3 .9 .1 .3 2.2 0-.5 1.3 2.7 .3-5 1 4.8 .2-.9 .1 0 .3-2.6 .7 1.4 .4 .8 .2-.3 .3-1.1 .4 3.2 .6-.8 .3-.7 .3-.5 .1 1.9 .8-1.4 .4 2.5 .3-1.8 .8 .4 .2 1.3 .3-.9 .3 0 .7-.8 .6 3.9 .3-1.6 .4-1.2 .2-1.6 .7 1.3 .3-.5 .1 1.2 .4-4.3 .9 3.1 .2-.1 .4-1 .6 3.7 .4-.6 .2-2.6 .3 1.4 .4-1.8 .7 .1 .2 1.1 .2-.5 .2-.1 1 2.3 .2-2 .1 1.3 1.3 2 .2-5.9 0 5.9 1-2.3 .4-3.2 .1 1.3 .1 2 .7-1.3 .7-.5 .2 .6 .4-.8 .9-.9 .1 1.4 .2 2.7 .1-2.7 1.1-3.1 .2 .7 .2 .5 1.1 2.9 .3-.9 .2-2.5 .7 3.1 .2-3.8 .5 6.1 .2-4 .4 .4 .4-.5 .6-.1 .2-.7 .1-.5 .6-1.9 .7 1 .2-.2 .6 3.2 .8-4.7 .2-.3 .5-1.8 .9 2.3 .2-6.3 .4-.9 1-2.3 .2 .8 .3-.5 1.1-8.5 .2-6.6 .2 0 1.2-10.3 .2-4.2 .1 1.2 1.3-17.7 .2-.3 0-3.2 1.4-16.4 .1-.4 .1-1.4 1.4-7.7 .2 .4 1.3 6.6 .1 2.4 .2 .1 1.2 12.1 .2 3.6 .2 2.5 1.1 10.4 .3 4 .2 3 1 3.5 .4 .3 .2 .7 .9 1.5 .5-1.9 .2 .5 .8-3.3 .6 .6 .2-3.3 .7-4.9 .7-2.9 .2 3.8 .6-2.8 .8 1.1 .2-2.1 .5 .3 .9 2.1 .2 3.2 .4 3.3 1 7.4 .2 .5 .3 1.5 1.1 9.3 .2 .9 .1 2.8 1.3 7.3 .2-1.3 0-1.3 1.4 8.5 .1 2.2 .1-2.9 1.4 5.5 .2-.6 1.3 3.1 .1-1.1 .1 .6 1.3 .3 .2 .7 .1-1.2 1.2 1.7 .3-.9 .1 1.6 1.1 1.6 .4-4.5 .1 4.8 1 .8 .5-1.2 .1 .4 .9 .6 .6-4.9 .1 3.6 .8-.7 .8 .9 0 2.5 .7-3.3 .9 .2 0-.7 .6 .2 1 1.6 0-.9 .5 4.3 1.1-2.3 0 3.6 .4-3.4 1.2 .8 0-1.3 .3-.8 1.3 3.9 0-2.8 .2-2 1.4 1.5 0 4 .1-8 1.5 5.7 0-2.9 1.6 2.7 0-.6 1.6 1.7 0 1.1 1.6-3.9 0 .4 1.6-.7 0 2.3 1.6 1.8 0-3.1 1.6-.3 0 .4 1.6-.7 0 3.3 1.6-2.5 0 1.8 1.6-3.4 0 .5 1.6 2.9 1.6 .2 1.6-2M779.3 1476.9l1.6 3.6 .5-3.4 1.1 2.3 1.1-.7 .5 2.9 1.6 0 0-2.3 1.6-.7 .5 1.7 1.1 .8 1.1 1.7 .4-3.1 1.6-.2 .1 0 1.5 2.1 .7-1.7 .9-1.7 1.2 1.9 .4 0 1.6 .4 .1 .9 1.5-3.7 .7 3 .9 1 1.2-2.8 .4-.5 1.6 3.2 .1 1.2 1.5-1.6 .7-3.4 .9-.1 1.2 .8 .4 .8 1.6-3 .2 6.6 1.3-5.8 .8 2 .8 .7 1.3 1.8 .3-3.1 1.6-1.7 .3 2.6 1.3 0 .8 1.5 .8-3.5 1.3 .3 .3 .8 1.6 .6 .3-.2 1.3-1 .8-3.1 .8 .7 1.3-3.2 .3 1 1.6-1 .3 1.1 1.3-2 .8-2.6 .7 .6 1.5-4.5 .1 2 1.6-5.4 .4 1.5 1.2 .2 .9 2 .7 .6 1.5 2.3 .1-.3 1.6 2.8 .4 .2 1.2 3.7 .9 3.2 .7-3.7 1.5 5.2 .1-6.1 1.6 5 .4-2.3 1.2-1.2 .9 4.2 .7 1.2 1.5-3.2 0 .8 1.6-.6 .5 1 1.1 .8 1.1 .8 .5-2.1 1.6 2.2 0 1.1 1.6-5.7 .5 5.5 1.1-1.4 1.1-4.3 .5 1.9 1.6-2.8 0-3.1 1.6 4.7 .5-1.4 1.1-2.6 1.1-.7 .5-1.6 1.6-4.4 0 4.4 1.6-1.7 .6-2.6 .9 1.5 1.2 .4 .4 2.9 1.6-.7 .1 2.7 1.5-1.1 .7 3.5 .9-.4 1.2 1.4 .4-3.7 1.6 6.6 .1-.5 1.5 2.7 .7-4 .9-.6 1.2 4.6 .4-2.5 1.6 1.8 .1 1.5 1.5-3.1 .7 2.7 .9-1.1 1.2 1.4 .3-1.7 1.6-.7 .3-1.2 1.3 5.5 .8-.8 .8-4.2 1.3 2.4 .3-3.4 1.6 3.5 .3-1.3 1.3-1.6 .8 2.6 .8 2.9 1.3-3.5 .3 1.5 1.6-2.2 .3 2.1 1.3-2.9 .8 4.4 .8-.1 1.3-3.3 .3 2.3 1.6-.2 .3-2.1 1.2 1.2 .9-2.6 .7-1 1.5 3.7 .1-1.4 1.6 .9 .4-1 1.2 .2 .9 .9 .7 .5 1.5 1.3 .1 .1 1.6-2.8 .4 1.2 1.2-2.5 .9 1.4 .7 .7 1.5-.5 .1-1.3 1.6 3.1 .4-1.2 1.2-.2 1.5-4.6 1.6 1.9 1.6 4.3 1.6-2.6 1.6-3.6 1.6 4.8 1.6-2.6 1.6-.5 1.6 2 1.6-1.2 1.1 .1 .5-3.7 .4 3.4 1-1.6 .2 .4 .8-1.2 .8 .7 .1 .9 1 .9 .5-5.2 .4 2.9 1-2.7 .1 1.7 .9 4 .7-7.1 .2 3.1 1-4.9 .4 6.7 .6-2.6 .9-.1 .1-3.3 .9 1 .7 1.2 .2-1.4 1-1.8 .4-2.9 .6-.7 .9-3.5 .1-1.4 .9-1.9 .7-2.8 .2 1.4 1-5.9 .4-4.4 .6-4.4 .9-4.1 .1-.8 .9-12.4 .7-13.3 .3-4.8 .9-29 .4-12.2 .6-31.7 .9-60.3 .1-2.4 .9-78.6 .6-61.4 .4-24 .9-42.1 .3 7.2 .7 34.5 .9 85.4 0 .7 1 81.9 .6 40.8 .4 22.1 .9 40 .3 13.3 .7 14.7 .9 17.8 .1 3.2 .9 10.8 .6 3.6 .4 3.2 .9 9.4 .3-.3 .7 5.3 .9-.1 .1 1.7 .9-.5 .6 2 .4 2 .9 3.1 .3 .2 .7 .2 .9 2.4 .1-.3 .9 1.7 .6 2.2 .4-.1 1 0 .1 1.1 .8-.4 .8 .7 .2 1.2 .9-.6 .5 .7 .5 1.1 1-.6 .1-1.2 .8 2.4 .8-1.5 .2-1.2 .9 2.5 .5-2 .5 .1 1.1 2.9 1.6-.1 1.6-2.3 1.6 3.1 1.6-.4 1.6-1.1 1.6 1.2 1.6 3.6 1.5-3.4 1.6-.1 1.6 2.3 1.6-1.8 1.6-.3 1.6-1 1.6 1" fill="none" stroke="#be70e2" stroke-width="4.0" stroke-linejoin="round" clip-path="url(#cb)"/>
<path d="M188 1398.4l1.6 1.8 1.6 .8 1.6-3 1.6 2.3 1.6 5.1 1.6-6.4 1.6 1.4 1.6 1.3 1.6-3.7 1.6 3.5 1.6 1.8 1.6-1.9 1.6-1.5 1.6 2.1 1.6-1.4 1.6 1.8 1.6-.2 1.6-.2 1.6-1.2 1.6 4 1.6-1.9 1.6 .8 .1-.8 1.3-.7 .2 1.3 1.2-.5 .4 .2 1-.1 .6-.9 .8 .9 .7 .2 .7 1.2 .9-2.7 .5 2.9 1.1-5.7 .3 2.3 1.3 1.7 .1-1 1.4 1.8 .1-4.3 1.2 1.1 .4-.3 1 2.6 .6 2.4 .8-4.3 .8 1 .6-.8 1 3 .4-.4 1.2 .2 .2-2.5 1.4 .8 0-.6 1.4 .1 .2 .3 1.2 1.1 .4-3.5 .9 5 .7-2.2 .7 2.8 .9-1.2 .5-2 1.1-.1 .3 .8 1.3-4.2 .1 3.1 1.4-3.8 .1 .1 1.3-4.8 .3-.3 1.1-6.2 .5-3.3 .9-3.6 .7-4.9 .6-6 1-10.1 .4-.8 1.2-4.9 .2 .6 1.4 3.7 0 .2 1.4 11.6 .2 .7 1.2 9.8 .4 2.2 1 5.3 .6 3.9 .8 1.3 .8 5.5 .6 .8 1 1.6 .3 2.3 1.3-2.1 .1 3.6 1.4 .3 .1-.9 1.3-1.5 .3 2.2 1.1-1 .5-.3 .9 1.6 .7 .5 .7-1.7 .9 1.4 .5 5.9 1.1-7.2 .3 2.5 1.3-1.1 0-.6 1.4 2 .2-3.2 1.2-.4 .4 3 1 .5 .6-1 .8 2.5 .8-2.3 .6 1 1-2.8 .4 5 1.2-3.1 .2 .6 1.4 1 0-1.9 1.3 1.8 .3-.4 1.1 1.8 .5-3.6 .9 1.6 .7 .2 .3-1 .4-.7 .9 2.3 .4-3 .1 .4 1.1 2 .3 .1 .2-1.2 1.1 .4 .6-.9 1 2.9 .7-.5 .9 2.3 .8-3.8 .7 2.2 1-1.5 .6 .4 1.1-2.1 .5 6.7 1.3-3.2 .3-.1 1.4-.8 .2-2 1.5-.4 .1 .2 1.6 3.1 0-2.4 1.6 1.4 .1 .3 1.5-.2 .2-.8 1.4 .1 .3 1 1.3-.2 .4-1.7 1.2 3.4 .5-.2 1.1-.1 .6-.5 1-1.4 .7 3.3 .9-3.6 .9 .3 .7-.3 1 2.4 .6-.8 1.1-2.1 .5 1.2 1.2-.7 .4 2.6 .4-.3 .9-2.4 .3 .6 .4 0 1 .7 .2-.4 .4-.8 1.1-1.1 .1-.7 .4-1.3 1.2 .4 0 1.1 .4 .3 1.2-5.5 .1 1 .4-2.3 1.1-1.7 .2-1.8 .3 .7 1.1-3.5 .3 .3 .2 1.1 1.1-3.9 .5 .6 1.1 .5 .5 2.8 .1-.7 1 1.7 .5 1.2 .2 1.9 .9 4.1 .5-2.6 .3 2 .8 1.1 .5-.9 .4 .1 .7 2.2 .5 .8 .5 1.1 .6 0 .5-.4 .6 4.5 .5-5.7 .5 1.3 .7 4.8 .4-1.2 .5-1.1 .8-.4 .3 4.3 .5-2.5 .9-1.4 .2 1.6 .5 2.4 1.1-2.1 0-.4 .5 .1 1.1 .6 .1-1.9 .4 1.1 1.1 1.1 .2 3.1 .3-6.2 1.1 2.1 .3-1.8 .2 6.6 1.1-6.6 .4 .2 .1 2.9 1.1 0 .5-3.9 1.1 4.5 .5-1.9 .1 .1 1-1.9 .5-2.9 .2 6.6 .9-6.6 .5 .4 .3-.8 .8 1.4 .5-3.2 .4-.7 .7 1.2 .5-.6 .5-1.3 .6 0 .5 .6 .7-.7 .4-.8 .5 1.3 .8 3.1 .2 .1 .6 1 .9 .9 .2-1.5 .5 1 1 1.3 0-1.4 .6 0 1 1.1 .1 1.6 .5-.2 1 1.5 .2 1.4 .4-1.3 1-.5 .3-.6 .3-.6 1 2 .4-.8 .2 1.7 1-2 .5 1 .1-2.1 1 3.8 .6-3.3 1 .7 .6 2 1-2.4 .6 3.4 1 1.9 .6-5.9 1 2.9 .6 2.2 1-.9 .7-3.7 .9 1.1 .7 1.3 .9-2.5 .7-.6 .9 2.5 .7 .8 .9-.5 .7 2.2 .9-1.5 .7 .6 .9 1.1 .7-.6 .9-2.8 .7 1 .9 .8 .7-2.6 .9 2.4 .7-.2 .9-.6 .7 1.7 .9-1.4 .7 3.5 .9-.5 .7-1.3 .9-.1 .7 .6 .9-2.4 .7 3.1 .9-.9 1.6 .7 1.6 .7 1.6-4.4 1.6 4.3 1.6 .7 1.6-1.7 1.6-.5 1.6-.5 1.6 2.5 1.6-4.9 1.6 1.4 1.6 .5 1.6 5.4 1.6-8.3 1.6 3.7 1.6 1.8 1.6 .3 1.6 .3 1.6-1.7 1.6-3.5 1.6 2.3 1.6 .9 1.6 .9 1.5-.1 1.7 .7 1.5-.1 1.6 1.2 1.6-3.9 1.6 3.9 1.6 1.9 1.6-2 1.6 .6 1.6-5.9 1.6 5.4 1.6-1.1 1.6 .4 1.6 3.3 1.6-3.7 1.6 5.1 1.6-6.4 1.6 2.8 1.6-.5 1.6 .6 1.6 1.1 1.6-1.6 1.6 .7 1.6-3.6 1.6 .7 1.6 1.2 1.6 1.7 1.6 1.1 1.6-3.5 .9 1.3 .7 .4 .6 .2 1-.2 .3-1.7 1.3-.2 0 3.4 1.2-3.4 .4 5 .9-2.4 .7-.5 .6 .9 1-1.9 .3-.2 1.3 1.7 0-2.8 1.3 4.7 .3-1.9 .9 .7 .7 .5 .6-.2 1-.5 .3-2.5 1.3 2.6 0 .3 1.3-1 .3-.9 .9 1.1 .7-.4 .6-1.9 1 1 .3-1 1.3-.1 0 1.4 1.3-.6 .3 1.1 1-1.4 .6 2.7 .6-2.2 1 1.1 .3-1.3 1.3 .9 0-2.4 1.3 3 .3-.5 1-1.3 .6-1.7 .7-1.7 .9-2.5 .3-3.1 1.3-.2 0-.6 1.3-1.3 .2-3.3 1.1-3 .6 2.9 .7 3.6 .8 1.5 .4-2.5 1.2 4.9 .1 2.2 1.3 1.1 .2 1.6 1.1 .9 .5 2.3 .8-1.5 .8 4.4 .5-2.4 1.1-1.7 .1 2.7 1.3-1.3 .2 .9 1.1 2.2 .5-2.6 .8 .8 .8 0 .5 .4 1.1-2.4 .1 1.4 1.3 .3 .2 0 1.1-1.1 .5 1.8 .8 1.2 .8 .6 .5-.9 .6 2.7 .5-4.2 .2 .2 .9-.6 .3 .6 .2 3.1 1.1-2.5 .5 2.8 .8-1.9 .3 .3 .5-1.7 .5 1 .6-.7 .5 2.2 .2-3.2 .9 1.8 .3-.4 .2 .1 1.1-2.9 .5 5.9 .8-4.9 .3 4.7 .5-4.1 .5 1.9 .6-.3 .5 .3 .2 .6 .9 .2 .4 2.2 .1-4.6 1.1 3.1 .5 .2 1.1-5.5 .5 2.4 1.1-1.7 .5 2.4 1.1-1.2 .5 2.6 1.1-3.2 .5 4.2 1.2-1.2 .4 1.3 1.2-6.1 .4 2 1.2 .7 .4 .2 1.2 1.8 .4-4.2 .8 3.7 .4-.8 .4 .8 .5-2.2 .7 .7 .4 .1 .2 1.7 1-2.9 .3-2.1 .1 2.9 1.2 3.3 .4-2.3 .9-.3 .3-1.8 .4 .6 .5-1.7 .7-2.5 .4 1.2 .2-2 1 .5 .3-5.3 .1 2.3 1.2-1.5 .4-2.7 .9-4.8 .3 2.2 .4-4.3 .5-3.6 .7-1.3 .4-5.2 .2-.5 1-8.6 .3 1.6 .1 .9 1.2-4.3 .4 3.3 .9 2.5 .3-.3 .4 .4 .6 2.3 .6 7.4 .4 3.8 .2-1.9 1 6.2 .3 2.5 .1-2.3 1.2 7.4 .4-2.2 .9 3.2 .3 4.7 .4-3.5 .6 3.9 .6-3.6 .4 1.2 .2 4.1 1-1.7 .3-1 0 .3 1.3-.7 .3 2.2 1-1.6 .3-1.7 .3-1.9 .7-.6 .6 2.1 .3-2.2 .4 1.5 .9-4.2 .3 1.7 0-2.3 1.3-.3 .3 3.9 1-.3 .3-.5 .3 1.3 .7-.5 .6 .2 .3 5.2 .4 1.2 .9 .9 .3 .8 0-3.9 1.3 4.3 .3-.3 1 1 .2-.1 .1-1.5 .3 1.8 .7-1.9 .4 .8 .2 1.1 .3-2.7 .4 1.2 .6 1.2 .3 1.9 .3 1.5 .1-1.7 .8-1.3 .4-1 .3 1 .8 .5 .2 .8 .3-2.4 .3-.7 .7 1.1 .6 .9 .3 2.1 .4-2.1 .2 .4 .7 .5 .3-1 .1 .5 .4-.4 .9 6 .2-6.1 .4 .5 .6-.8 .4 2.4 .2 1.2 .3 1.6 .4-3.3 .7-2.5 .2 .3 .2 .5 .2-.1 1-.5 .2 4.9 .1-6.2 1.3 3 .2 .7 0-1 1 .1 .4 .8 .1-1.3 .1-.2 .7-1 .7 .3 .2-1.7 .4-1.1 .9 3.3 .1 1.9 .2-3.2 .1-2.3 1.1 3.6 .2 0 .2-1.3 1.1-.8 .3 .2 .2 1.4 .7 .1 .2-1.7 .5 .8 .2-.6 .4 .3 .4 .5 .6 .3 .2-.4 .1 .8 .6-1.6 .7-1.4 .2 2.1 .6-.9 .8-1 .2-1.9 .5 3.3 .9-7.6 .2 2.6 .4-1.7 1-5.3 .2 1.2 .3-.9 1.1-8 .2 .2 .2-1.9 1.2-9.7 .2-4 .1 .6 1.3-16.4 .2-.1 0-3.6 1.4-9.3 .1-6.5 .1-1.5 1.4-1.5 .2-2.2 1.3 7.7 .1 .2 .2-.3 1.2 12.9 .2 5 .2-1.9 1.1 12.5 .3-.6 .2 4.9 1 2.4 .4 3.4 .2-.4 .9-1 .5 2.4 .2 .1 .8-2.5 .6-1 .2-.2 .7-2.9 .7-1 .2-2.9 .6-.8 .8-.5 .2-.4 .5 .2 .9 7.5 .2-2.6 .4 2.1 1 8.9 .2-1.7 .3 2.1 1.1 6.9 .2-.9 .1 2.7 1.3 4.2 .2 2.2 0-.5 1.4 5.4 .1 1.4 .1 1.3 1.4-3.3 .2 3.7 1.3 1 .1 1.3 .1-.7 1.3 .6 .2-.8 .1 .3 1.2 2.2 .3-1.3 .1-1.2 1.1 2.6 .4-1.1 .1 0 1-1.7 .5 2.3 .1 .8 .9-2.7 .6 3.5 .1 .5 .8-1.2 .8 1 0 0 .7 .5 .9-.4 0 .6 .6-2 1 .7 0 .5 .5-.6 1.1 1.1 0 .9 .4-1.1 1.2-2.1 0 3.4 .3-1.3 1.3-2 0 2 .2 .2 1.4 .9 0-.4 .1-.3 1.5 1.2 0-1.6 1.6-1.2 0 .1 1.6 .8 0-1.2 1.6 2.6 0 0 1.6-3.6 0 2.2 1.6 .9 0-2.4 1.6 3.1 0-.7 1.6-1.1 0 .2 1.6 2.1 0 1 1.6-1.5 0 2.7 1.6-.5 1.6 .2 1.6-4.8M779.3 1421.4l1.6 3.3 .5-3.9 1.1 .9 1.1 2 .5-1 1.6-.9 0 .3 1.6-.7 .5 1.6 1.1-.9 1.1 .8 .4 2.1 1.6-1.6 .1-2.9 1.5 2.2 .7 .7 .9-2.2 1.2 3.1 .4-2.2 1.6 1.3 .1-.8 1.5-1.1 .7 2.6 .9-3 1.2 4.2 .4-3 1.6-2.7 .1 4 1.5-.7 .7 1.4 .9-2.6 1.2 1.7 .4-1.7 1.6 2 .2-5.7 1.3 2.4 .8-.1 .8 1 1.3 .3 .3 4 1.6-2.6 .3-1 1.3 .1 .6-2.1 .2 2.3 .8 .6 .9-1.2 .4 .3 .3-2.5 1.2 1.7 .4-3.6 .3 2.9 1.3 1 0-1.7 .8-1.2 .8-.3 .3-1.3 1 .9 .3-2 .6-.6 1-.2 .3-2.2 .6-.2 .7-3.3 .8-.1 .4-2.4 .3-2.1 1.5-.1 .1-4.2 .1 5.1 1.5-1.9 .4-2.6 1.2 3.1 .7-.7 .2 1.2 .7 1.1 1 2 .5 1.8 .1-1.5 1.4 1.4 .2 3.5 .4-3.2 1.2 3.9 .1-.9 .8 3.7 .7-2.7 .4 1.2 1.1 2.3 .1 2 .7-2.7 .9 4.8 .4-3.1 .7 .5 .5 3.1 .9 .8 .5-3.4 .2 .8 1.5-.9 0 .7 .2 .1 1.4 5.2 .5-5.9 1.1-.3 .8-1.6 .3-.9 .5 5.4 1.2-3.2 .4 0 0-.1 1.5-2 .1-4 .5 2.1 1.1 3.9 .2-4.2 .9 .6 .5-4.5 .5-3.1 1.1-.8 0-.1 .9-1.6 .7-5.8 .5-4.2 .7-3.9 .4-1.6 1.1-10.8 .4-1.1 .1 1.4 1.6-9.5 0-.7 .2-2.1 1.4-5.9 .6 1.5 .9-1.1 1 7.1 .2-.1 .4 .3 1.3 11.4 .3-.8 .1 5 1.5 8.4 0 .9 .7 3.3 .9 4.7 .3 3.9 .9 .5 .4 2.2 .7 3.8 .9-3.2 .1 6.7 .9-.4 .6 .5 .7 3.9 .6-2.1 .3 1.2 1.2-1.1 .4 2.3 0 1.7 1.6-.7 .1-.7 .3-.9 1.2 4.3 .7-2 .9 2 1 .4 .2-3.1 .3 .2 1.4 1.1 .2-3.5 .3 3.3 1.3-.1 .1-1.3 1.5 1.8 .5-2 1.1 1.2 .8-.1 .8 .2 1.1 .9 .5-1.6 1.4 5.2 .2-1 1.6-1.5 .2-.7 1.4 1.8 .5-3.5 1.1 1.2 .8-.6 .8 4.5 1.1-5.2 .5-1.4 1.5 4.2 .1-1.4 1.5 2.6 .3-1.3 1.3 1.5 .6-3.3 1-.6 .9 1.7 .7 3.3 1.2-5.1 .4 .9 1.6 1.1 0 .3 1.6-1 .3-.1 1.3-1.1 .6 3 1-.8 1.6 .5 1.6 1.2 1.6-4.5 1.6 .5 1.5 1.9 1.6-.8 1.6 .6 1.6-.1 1.6-2.6 1.6 2.2 1.6 .9 1.6-1.4 1.1 .8 .5-1.4 .5 .8 1.1-.1 0-.7 1.1-.9 .5-.5 .5 3 1.1-2 0 1.2 1.1-1.5 .5 .8 .6 1.7 1-2.4 0-.3 1.1 1.7 .4 .2 .7-2.1 .9 2.1 .1-3.7 1.1 1.2 .4 .8 .7-2.8 .9-.7 .1-.8 1.1-1.1 .4 2.2 .7 1.3 .9-2.1 .1-2.2 1.1-1.1 .4 2.6 .7-8.8 .9 4.6 .1 3.3 1.1-6.5 .4-.1 .7-5.2 .9-1.8 .1-3 1.1-10.7 .4-2.6 .7-9.2 .9-16.4 .1-2.9 1.1-27.8 .4-10.4 .7-25.6 .8-35.7 .2-7.9 1.1-13 .3 .8 .8 16.2 .8 30.6 .3 7.1 1 34.9 .3 13.6 .8 19.6 .8 13.1 .3 4 1 13 .3 4.7 .8 1.7 .8 6.3 .3 4.3 1 3.4 .3-1 .8 4.1 .8 2.2 .3-2.8 1 .4 .3 3 .8 1.6 .8-.2 .3 0 1 1.1 .3 1.5 .8-.6 .8 1 .3-3.7 1.1 3.6 .1-.5 .9 .1 .7-1.1 .4 1.8 1.1 .9 .1-.6 .9-1.1 .7 1.7 .4 3.4 1.1-2.3 .1-3.2 .9 4 .7-1.1 .4-1 1.1 1.4 .1 .9 .9 .4 .7-1.1 .4-1.4 1.1 .2 .1 0 1.6 1.5 1.6-1 1.6 .7 1.6-.4 1.6 .6 1.5-1.6 1.6 .5 1.6 .4 1.6 1.6 1.6 1.7 1.6-1 1.6-3.7" fill="none" stroke="#dc9800" stroke-width="4.0" stroke-linejoin="round" clip-path="url(#cb)"/>
<path d="M188 1340.2l1.6 6.3 1.6-.5 1.6-4.3 1.6 1.8 1.6-3.8 1.6 5.5 1.6-2.2 1.6 .1 1.6 2.6 1.6-4.3 1.6 2.8 1.6-2.8 1.6 1.5 1.6 2.8 1.6-6.1 1.6 2.5 1.6 4.1 1.6-1.1 1.6-2.2 1.6 2.4 1.6 .1 1.6-1.1 .1-2.1 1.3 3 .2 1.3 1.2-3.8 .4 4.5 1-1.9 .6 .9 .8-5.4 .7 6.6 .7-.9 .9 .4 .5-3.8 1.1 2.1 .3-.3 1.3 1.4 .1 3.7 1.4-8.1 .1 4.6 1.2-2.8 .4 1 1 1.7 .6-2.7 .8-.3 .8 1.7 .6-.7 1 .1 .4 1 1.2-.9 .2 .2 1.4-.5 0 1.5 1.4 .1 .2-2.6 1.2-.5 .4-.1 .9 1.9 .7 .6 .7-2.1 .9-.9 .5-.2 1.1-.9 .3 .1 1.3-2.2 .1 1.8 1.4-2.5 .1-.5 1.3-7 .3 3.3 1.1-7.4 .5-6.1 .9-5.9 .7-7.3 .6-8 1-12.7 .4-1.6 1.2-4.8 .2 2.2 1.4 6.1 0-.9 1.4 11.5 .2 4.2 1.2 10.1 .4 7.2 1 5.7 .6 3 .8 3.4 .8 4.2 .6 1.5 1-1.2 .3 5.7 1.3 1.6 .1-2.2 1.4 3.2 .1-3 1.3 1.4 .3 0 1.1 0 .5-.1 .9 1.8 .7-.7 .7 1.4 .9-.7 .5 1.2 1.1-1.6 .3 .1 1.3-1.7 0 4.7 1.4-.4 .2 .6 1.2-3.3 .4 .4 1 1.6 .6-1.5 .8 3.7 .8-3.1 .6 3.1 1-.9 .4-4.7 1.2 3.5 .2 0 .1-2 1.3 1.4 0-1.2 .6 .6 .7 2.4 .3-.9 .9 .3 .2-1.6 .5 1.6 .9-1.7 .3 2.8 .4-1.8 .7-.3 .9 .3 0 .5 .5 2.9 1.1-2.6 .3-.4 1.3-1.6 .6 3.5 1-.8 .9-1.3 .7 2.4 1.3-2.6 .2 2.7 1.6-2.9 .1-.1 1.5 1.4 .4-.9 1.2 3.3 .7-4 .9 2.6 1-.2 .6-.8 1.4 .5 .2 2.9 1.6-5.3 .1 2.2 1.5-.5 .4 2.6 1.2-2.6 .7 1 .9-.6 1.1 3.4 .5-.4 1.4-.9 .2-2.2 1.6 2.4 .1-.5 1.5 .3 .4-1.5 1.2 .6 .8-1.4 .8 2.7 1.1-1.9 .5 2.3 1.4-2.5 .2 2.2 1.6-1.8 .1-1 1.5 .8 .4 1.2 1.2-1.3 .8-2 .8-2.8 .4 1.7 .7 .8 .5-3.9 .2 2.9 1.2-1.2 .2 2.3 0-1.9 1.4-3 .2 1.3 .1 .2 1.1-.3 .4 .8 .5-4.3 .5 .6 .6 2.9 .8-3.3 .8 3 .6-.1 .5 .3 .5 2.7 .4 .2 1-.6 .2 2.5 .1-.1 1.4-.6 .1 3.1 .2-2.7 1.1 2 .3-2.2 .5-1.2 .6 2.9 .5-1 .8 3.2 .1-.5 .7-2.2 .7-1.2 .4-.8 .5 4.9 .5 .4 .9 0 .2-1.4 .3 3 1.3-3.8 .1 3.3 .1 .5 1.2-1.4 .2-1 .5-.7 .7 1.8 .4 .6 .8-3.2 .2 2.2 .6 .5 .8-1.1 .3-1.1 .5-.1 .6 .4 .9-.1 .1 1.1 .4-3.2 1.2 4.1 .2-1.4 1.4 1.2 0-2.1 .5-.5 .9-2.6 .2 4.1 .8-4.4 .3-.4 .5-1 .9-2 .3 3.3 .4-4.7 .7 .1 .8 1.7 .1-2.6 .5-.3 1.1 1.5 .2-3 .1 2.7 1.2 2 .2 .4 .4 2.3 1-.3 .1-.2 .8 1.7 .5 .9 .2 1.5 1.2 .7 .1-1 .3-1.1 .9 1.5 .7 2 0-.4 .7 0 .9-.8 .3 3.5 .2-1.8 1.1-1.5 .3 2.5 .3-.5 1 .5 .1 .5 .9 .1 .5 2.2 .1-2.8 1.3-2.4 .3-1.3 1.1 2.9 .5-2.5 0 4.9 .9-3.8 .7 1.8 .3-1.5 .3 3.4 1-4.3 .4 1 .2-1.7 1 3.9 .2-1.4 1.4 2.2 0-1.2 1.4 1.1 .2 1.3 1.2 .4 .4-2.9 1 1.1 .6 .6 .8-2.9 .8 3.8 .6-.1 1 0 .3-1.8 1.3 .4 .1 2.4 1.4-4 .1 2 1.3-3.6 .3-.4 1.1 2.9 .5-.8 .9 .2 .7 1.4 .7-2.9 .9 1.9 1.6-.2 1.6 .3 1.6 .9 1.6-1.8 1.6 3.4 1.6-1.3 1.6-1.8 1.6-1.2 1.6 3.6 1.6-2.1 1.6 1.3 1.6 2.6 1.6 .2 1.6 1.1 1.6-6.6 1.6 3.7 1.6-.5 1.6-.2 1.6 1.6 1.6-1.3 1.6-.1 1.6-2.9 1.6 2.7 1.6 .9 1.6-1.1 1.6 2.2 1.5-2.1 1.7 1.6 1.5-1.1 1.6 2.6 1.6-2.4 1.6 2.4 1.6-.8 1.6-1.3 1.6 1.6 1.6-1.3 1.6 .1 1.6-1.9 1.6 2.8 1.6-1.1 1.6 1 1.6-.3 1.6-1.4 1.6 .9 1.6 .1 1.6-1.5 1.6 4.3 1.6-2.6 1.6 2.4 1.6 1.7 1.6-3.1 1.6 2.5 1.6 0 1.6-4.5 1.6 2.8 .9-1.6 .7 1.3 .6-.5 1 2.5 .3-.8 1.3-1.4 0 1.8 1.2 1.3 .4-4.2 .9 1.9 .7-1.8 .6 .7 1 2.8 .3-1.1 1.3-3.1 0 3.4 1.3-1 .3 .8 .9-3.9 .7-.7 .6 2.9 1-1.2 .3 2.6 1.3-.9 0 3.4 1.3-5.3 .3 2.5 .9 .7 .7 1.4 .6-5 1 1.5 .3 .6 1.3 3.4 0-4.1 1.3 2.2 .3-.3 1-.3 .6-1.7 .6 3 1-2.4 .3 1 1.3-1.6 0 2.3 1.3-1.9 .3 1.1 1-4.5 .6 4.4 .7-3.4 .9-2.4 .3-2.1 1.3-4.9 0-1.9 1.3 .4 .2 1.9 1.1-3.7 .6 .9 .7 1.7 .8 3.6 .4 0 1.2 4.8 .1-2.7 1.3 4.2 .2-1.6 1.1 1.1 .5-.2 .8 8.9 .8-5.4 .5-.6 1.1-.3 .1 3.2 1.3-.3 .2 3.9 1.1-5.6 .5 .6 .8 2 .8-1.5 .5 1 1.1-2.7 .1 1.1 1.3 2 .2 .5 1.1-3.6 .5 0 .8 1.3 .8 1.6 .5-2.8 .6 2.6 .5 .7 .2-1 .9-2.8 .3 2.7 .2-1 1.1 2.4 .5-.2 .8-.9 .3 0 .5 1.1 .5-1.3 .6 .4 .5-1.9 .2 2.3 .9 .5 .3-1.2 .2 0 1.1-.3 .5-.6 .8-1.7 .3 5.9 .5-4.4 .5-.7 .6 3.5 .5-1.9 .2 .9 .9-2 .4-.6 .1 2.4 1.1-2 .5 .7 1.1 1.3 .5-.6 1.1 2.3 .5-2.5 1.1 .3 .5 2.7 1.1-3.2 .5 .8 1.2-.4 .4 2.9 1.2-1.2 .4-2.8 1.2 1.7 .4-1.4 1.2 3.8 .4-8.3 .8 4.6 .4 .2 .4 .1 .5-1.2 .7 6.3 .4-5.2 .2 1.6 1-.5 .3 .7 .1-.1 1.2-1 .4-1 .9-1.4 .3 1.4 .4 1 .5-2.1 .7 1.7 .4-4.9 .2 2.6 1 .1 .3-1.5 .1-2.3 1.2-4.2 .4-1 .9-1.5 .3 .3 .4-.3 .5-6.1 .7-1.8 .4-2.4 .2-.3 1-1.3 .3-3 .1 1.6 1.2-1 .4-2.8 .9 5.4 .3-2.1 .4 1.5 .6 2.8 .6 .9 .4 1.8 .2-1.3 1 8.3 .3 3.3 .1-.2 1.2 .3 .4 2.9 .9-2.1 .3 7.7 .4-3.4 .6 .9 .6 .4 .4 .1 .2 2.3 1 .6 .3-4.8 0 2 1.3 4.9 .3-2.1 1-1.8 .3 1.6 .3-7.4 .7 1.8 .6-.8 .3-.5 .4-4.1 .9 .9 .3 0 0 .3 1.3 2.1 .3-3 1 2.7 .3-3.9 .3 3.4 .7-.8 .6 2.3 .3 2.7 .4 1.4 .9 .1 .3 3 0-2.3 1.3 4.2 .3-1.1 1-1.9 .2 2.2 .1-.4 .3 .2 .7-.1 .4 2.2 .2-.4 .3-3.5 .4 4.3 .6-1.9 .3 1.8 .3-.6 .1-1.5 .8 1 .4 .8 .3-1.6 .8-.8 .2 .4 .3 2.3 .3-.9 .7 .2 .6 1.2 .3-1.6 .4-.9 .2-.1 .7 2.7 .3-.3 .1-2.7 .4 4 .9-5 .2 1.3 .4 .9 .6-2.9 .4 .8 .2 .8 .3 2.5 .4 2 .7-6.2 .2 2.8 .2 .6 .2-2.5 1 2.8 .2-1.1 .1-1.9 1.3-1.3 .2 4.1 0 1.1 1-1 .4-.5 .1 1.1 .1 .4 .7-2 .7 2.1 .2-1.2 .4-.4 .9 2.1 .1-2.4 .2 1.1 .1-1.7 1.1-.6 .2-.4 .2 0 1.1 .2 .3-1.7 .2 .3 .7 1 .2-4.2 .5 3.4 .2 2.7 .4 .7 .4-3 .6 1.1 .2-3.2 .1 1.6 .6 1.1 .7-1.1 .2-1.7 .6 .4 .8-.5 .2-.8 .5-3.1 .9-1.5 .2 4.1 .4-5.7 1-1.8 .2-.2 .3 .8 1.1-9.6 .2 .5 .2-2.3 1.2-10.8 .2-1.5 .1-1.7 1.3-13 .2-1.9 0-1.3 1.4-14.5 .1-2.2 .1 2.2 1.4-9.9 .2 .2 1.3 6.2 .1 2.9 .2 1.6 1.2 13.7 .2-.5 .2 2.3 1.1 10.6 .3 1.9 .2 1.3 1 7 .4 .5 .2 2.7 .9 2 .5-.9 .2-2.3 .8 1.4 .6 2 .2 .8 .7-2.3 .7-3.8 .2 1.1 .6 1.1 .8-1.8 .2 .7 .5 1.1 .9-4.4 .2 6.1 .4 2.8 1 2.5 .2-.5 .3 .4 1.1 6.9 .2 .3 .1 1.9 1.3 7 .2-2.2 0-.3 1.4 2.4 .1-.1 .1-.5 1.4 3.7 .2 .2 1.3 2.4 .1-.4 .1 .8 1.3 2 .2-1.7 .1-.6 1.2 1.9 .3 1.2 .1-2.7 1.1-.3 .4 3.3 .1-1.3 1 2.7 .5-1 .1-3.4 .9 .7 .6 4 .1-4.5 .8-.1 .8 5.4 0-3.8 .7-1.9 .9 2.9 0-.4 .6 .5 1-1.2 0 2.4 .5-2.5 1.1 1.3 0-.7 .4 2.2 1.2-1.4 0 1 .3-.9 1.3-1.2 0 1.9 .2-.4 1.4-.4 0-.4 .1 2.8 1.5-3.6 0-.7 1.6 1.3 0 .3 1.6 .4 0 2 1.6-5.7 0 2.9 1.6 1.8 0-.6 1.6-.4 0 1 1.6-1 0-1.3 1.6 2.2 0-.6 1.6-.8 0 1.4 1.6-1.4 0 2.7 1.6-3.2 1.6 2.7 1.6-1.1M779.3 1365.9l1.6 .1 0 1.1 1.6 0 0-.4 1.6-.8 0 .5 1.6-3.2 0 2.9 1.6-2.1 0 .8 1.6 .9 0 .7 1.5-1 .1 .4 1.5-.5 .1 0 1.5 0 .1 2.2 1.5-3.7 .1 .6 1.5-2.7 .1 3.1 1.5 .3 .1 1.5 1.5-1.1 .1 1.9 1.5-2.1 .1-2.7 1.5 2.7 .1-1.8 1.5 2.4 .1 2.5 1.5-4.5 .1 1.8 1.5-1.7 .1 2.7 1.5-4.9 .1 2.5 1.5-.1 .2 .7 1.3 0 .3-1.6 1.3-.2 .3 .1 1.3-.7 .3 .3 1.3-2.9 .3-2 1.3 1.7 .3-1.9 1.3-4.6 .3 3.1 1.3-5.2 .3-1.1 1.3 1.5 .3-5 1.3 3.2 .3 .6 .1-.5 1.2 1.2 .3-1 .2 0 1.1 2 .3-1.8 .3 2.8 1-2.7 .3 3 .4-1.4 .9-2.4 .3-6.3 .5 0 .7-.8 .4-2.7 .6 1.1 .6-3.7 .4-2.6 .7-1.9 .5-2.4 .4 3.5 .8 .7 .4-2.9 .4 3.2 1 5 .2-1 .4 3.4 1.1 4.9 .1 .7 .4-3.1 1.2 6.7 0 2 .4 2.4 1.2 2 .1-.2 .3 1.1 1.2 1.8 .2-1.7 .2-.7 1.2 4.2 .3-.7 .1 1.8 1.2-.7 .4 2 1.2-3.2 .4 6.4 .1-7.3 1.1 4.7 .4-2.8 .2 1.6 .9 1.4 .5-1.7 .3-1.6 .8 3.5 .5-3.7 .4 0 .7 2.1 .5-2.7 .6 .9 .5-1.9 .5 1.4 .7 1 .4-2.1 .5-.1 .8 1.4 .3-2.9 .5 1.6 .9-1.1 .2 .9 .5-.3 1-2.6 .1 .6 .5-.5 1.1-4.2 0 1 .5-5 1.1-3.5 .1-3.1 .4 1.6 1.1-9.3 .2-2 .3-1.8 1.1-13.9 .3 1.7 .2 .1 1.1-8.9 .4-.4 .1-4 1.1-3.5 .6-1.7 .9 3.1 .7 2.9 .1-.4 .8 6.9 .7 5.6 .2 .7 .7 5.3 .7 7.2 .3-.5 .6 7.3 .7 2.1 .4 2.3 .5 4.4 .7 3.4 .5 2.1 .4-.8 .7 2.2 .6 4.6 .3-.7 1.4-1.3 .2 2.8 1.5 3.3 .1-1.4 1.6-1.3 0 3 1.6-1.7 .1-.2 1.5 4.5 .3 .4 1.3-3.5 .4 1.6 1.1-2.8 .6 3.6 1-.2 .7-1.1 .9-.6 .8 1.4 .8 .9 .9 .6 .7-3.1 1 1.1 .6 1.3 1.1 1.7 .5-.7 1.2 .3 .4 .6 1.3-2.3 .3 1.5 1.4-.5 .2-.2 1.6-1.1 0 3 1.6-.9 .1-.6 1.5-2.3 .2 2.7 1.4-.2 .3-1 1.2-1.6 .5-.5 1.1-.5 .6 3.2 1-.7 .7 .8 .9 .2 .8-.9 .8-1 1.6 1.5 1.6-2.5 1.6 .7 1.6 4.6 1.6-4.3 1.6 .3 .9 2.7 .7-3.9 .6 4.2 1-3.9 .3 3.7 1.2-4.2 .1 3.4 1.3-1.6 .2 0 1.1-1.9 .5 1.9 .7-6.2 .9 4.7 .4-1.5 1.2 3.5 .1-.1 1.3-4.2 .2 4.6 1.1-.9 .5 1.3 .7-4.6 .9-.7 .4 2.9 1.2 1.9 .1-3 1.3 1 .2-1.4 1.1 2.3 .5 0 .8-.6 .8-3.3 .4 1.5 1.2 2.7 .1-4 1.3-2.6 .2 2.1 1.1-1.3 .4 3.7 .9-1.6 .7-3.4 .5 2 1.1-2.6 .2-1 1.3 .6 .1-1.5 1.2-3.3 .4-5.4 .9 1.9 .7-8.3 .6-4 1-2.9 .2-2.7 1.3-9.5 .1 .4 1.2-7.8 .4-4.6 .9-.8 .7-6.7 .6-2.7 1-9.5 .3-3 1.2-24.8 .1-1.9 1.2-34.3 .4-6 .9-30 .6-11 .7-4.4 .9 11.2 .4 8.7 1.2 37.8 0 1.6 1.3 37.6 .3 10.9 1 18.1 .6 11.3 .7 9.7 .9 9.8 .4 3.3 1.2 8.1 .1-2.4 1.2 9.7 .3-1.1 1 1.8 .6-1.5 .7 5.4 .9-.9 .4 1.1 1.2 6.9 .1-3.3 1.2-1.5 .3 2.4 1 1.1 .6-.8 .7 2 .8-.7 .5 2.3 1.1-.5 .2 .9 1.3-1.7 .1 .8 1.1 .4 .5 .3 .8 .7 .8 .9 .5 .9 1.1-4.6 .2 2.2 1.3 1.2 .1 .3 1.1-2 .5 2.5 .8-.5 .8-2.3 .5 2.2 1.1 .3 .2 3.1 1.3-2.8 .1-2.2 1.2 1 .4 4 .8-2.9 .8 .9 1.6 .5 1.5-1.3 1.6 1.7 1.6 1.7 1.6-4.6 1.6-.7 1.6 3.9 1.6-3.4" fill="none" stroke="#00cccc" stroke-width="4.0" stroke-linejoin="round" clip-path="url(#cb)"/>
<line x1="875.5" y1="1055.5" x2="875.5" y2="1241" stroke="#000" stroke-width="2.6" stroke-dasharray="4 4"/>
<line x1="875.5" y1="1290" x2="875.5" y2="1739.3" stroke="#000" stroke-width="2.6" stroke-dasharray="4 4"/>
<rect x="779.7" y="1378.6" width="166.3" height="319.2" fill="#fff" stroke="#222" stroke-width="2.2"/>
<line x1="784.2" y1="1405.6" x2="852.9" y2="1405.6" stroke="#00cccc" stroke-width="9" stroke-linecap="round"/>
<text x="903" y="1418.4" font-size="38.5" text-anchor="end" stroke="#000" stroke-width="1.2">76</text>
<text x="918" y="1418.4" font-size="38.5">d</text>
<line x1="784.2" y1="1450" x2="852.9" y2="1450" stroke="#dc9800" stroke-width="9" stroke-linecap="round"/>
<text x="903" y="1462.8" font-size="38.5" text-anchor="end" stroke="#000" stroke-width="1.2">45</text>
<text x="918" y="1462.8" font-size="38.5">d</text>
<line x1="784.2" y1="1494.4" x2="852.9" y2="1494.4" stroke="#be70e2" stroke-width="9" stroke-linecap="round"/>
<text x="903" y="1507.2" font-size="38.5" text-anchor="end" stroke="#000" stroke-width="1.2">14</text>
<text x="918" y="1507.2" font-size="38.5">d</text>
<line x1="784.2" y1="1538.8" x2="852.9" y2="1538.8" stroke="#00a95e" stroke-width="9" stroke-linecap="round"/>
<text x="903" y="1551.6" font-size="38.5" text-anchor="end" stroke="#000" stroke-width="1.2">8</text>
<text x="918" y="1551.6" font-size="38.5">d</text>
<line x1="784.2" y1="1583.2" x2="852.9" y2="1583.2" stroke="#0068e0" stroke-width="9" stroke-linecap="round"/>
<text x="903" y="1596" font-size="38.5" text-anchor="end" stroke="#000" stroke-width="1.2">5</text>
<text x="918" y="1596" font-size="38.5">d</text>
<line x1="784.2" y1="1627.6" x2="852.9" y2="1627.6" stroke="#ff3838" stroke-width="9" stroke-linecap="round"/>
<text x="903" y="1640.4" font-size="38.5" text-anchor="end" stroke="#000" stroke-width="1.2">1</text>
<text x="918" y="1640.4" font-size="38.5">d</text>
<line x1="784.2" y1="1672" x2="852.9" y2="1672" stroke="#4d4d4d" stroke-width="9" stroke-linecap="round"/>
<text x="903" y="1684.8" font-size="38.5" text-anchor="end" stroke="#000" stroke-width="1.2">0</text>
<text x="918" y="1684.8" font-size="38.5">d</text>
<line x1="188.4" y1="1053.5" x2="1035.7" y2="1053.5" stroke="#262626" stroke-width="2.6"/>
<line x1="188.4" y1="1052.2" x2="188.4" y2="1741.6" stroke="#262626" stroke-width="2.6"/>
<line x1="1035.7" y1="1052.2" x2="1035.7" y2="1741.6" stroke="#262626" stroke-width="2.6"/>
<line x1="188.4" y1="1740.3" x2="760" y2="1740.3" stroke="#262626" stroke-width="2.6"/>
<line x1="778" y1="1740.3" x2="1035.7" y2="1740.3" stroke="#262626" stroke-width="2.6"/>
<line x1="757.5" y1="1751.7" x2="771.8" y2="1729.5" stroke="#262626" stroke-width="2.2"/>
<line x1="773.4" y1="1751.7" x2="787.6" y2="1729.5" stroke="#262626" stroke-width="2.2"/>
<line x1="173.4" y1="1720.9" x2="188.4" y2="1720.9" stroke="#262626" stroke-width="2.2"/>
<text x="162.5" y="1733.1" font-size="41.5" text-anchor="end" fill="#1a1a1a">0</text>
<line x1="180.4" y1="1625.2" x2="188.4" y2="1625.2" stroke="#262626" stroke-width="2.2"/>
<line x1="173.4" y1="1529.6" x2="188.4" y2="1529.6" stroke="#262626" stroke-width="2.2"/>
<text x="162.5" y="1541.8" font-size="41.5" text-anchor="end" fill="#1a1a1a">2k</text>
<line x1="180.4" y1="1434" x2="188.4" y2="1434" stroke="#262626" stroke-width="2.2"/>
<line x1="173.4" y1="1338.3" x2="188.4" y2="1338.3" stroke="#262626" stroke-width="2.2"/>
<text x="162.5" y="1350.5" font-size="41.5" text-anchor="end" fill="#1a1a1a">4k</text>
<line x1="180.4" y1="1242.7" x2="188.4" y2="1242.7" stroke="#262626" stroke-width="2.2"/>
<line x1="173.4" y1="1147" x2="188.4" y2="1147" stroke="#262626" stroke-width="2.2"/>
<text x="162.5" y="1159.2" font-size="41.5" text-anchor="end" fill="#1a1a1a">6k</text>
<line x1="180.4" y1="1051.3" x2="188.4" y2="1051.3" stroke="#262626" stroke-width="2.2"/>
<line x1="188" y1="1740.3" x2="188" y2="1752.3" stroke="#262626" stroke-width="2.4"/>
<text x="188" y="1794.5" font-size="41.5" text-anchor="middle" fill="#1a1a1a">6</text>
<line x1="252.1" y1="1740.3" x2="252.1" y2="1744.3" stroke="#262626" stroke-width="2.4"/>
<line x1="316.2" y1="1740.3" x2="316.2" y2="1752.3" stroke="#262626" stroke-width="2.4"/>
<text x="316.2" y="1794.5" font-size="41.5" text-anchor="middle" fill="#1a1a1a">8</text>
<line x1="380.3" y1="1740.3" x2="380.3" y2="1744.3" stroke="#262626" stroke-width="2.4"/>
<line x1="444.4" y1="1740.3" x2="444.4" y2="1752.3" stroke="#262626" stroke-width="2.4"/>
<text x="444.4" y="1794.5" font-size="41.5" text-anchor="middle" fill="#1a1a1a">10</text>
<line x1="508.5" y1="1740.3" x2="508.5" y2="1744.3" stroke="#262626" stroke-width="2.4"/>
<line x1="572.6" y1="1740.3" x2="572.6" y2="1752.3" stroke="#262626" stroke-width="2.4"/>
<text x="572.6" y="1794.5" font-size="41.5" text-anchor="middle" fill="#1a1a1a">12</text>
<line x1="636.7" y1="1740.3" x2="636.7" y2="1744.3" stroke="#262626" stroke-width="2.4"/>
<line x1="700.8" y1="1740.3" x2="700.8" y2="1752.3" stroke="#262626" stroke-width="2.4"/>
<text x="700.8" y="1794.5" font-size="41.5" text-anchor="middle" fill="#1a1a1a">14</text>
<line x1="843.4" y1="1740.3" x2="843.4" y2="1752.3" stroke="#262626" stroke-width="2.4"/>
<text x="843.4" y="1794.5" font-size="41.5" text-anchor="middle" fill="#1a1a1a">26</text>
<line x1="907.5" y1="1740.3" x2="907.5" y2="1744.3" stroke="#262626" stroke-width="2.4"/>
<line x1="971.6" y1="1740.3" x2="971.6" y2="1752.3" stroke="#262626" stroke-width="2.4"/>
<text x="971.6" y="1794.5" font-size="41.5" text-anchor="middle" fill="#1a1a1a">28</text>
<line x1="1035.7" y1="1740.3" x2="1035.7" y2="1744.3" stroke="#262626" stroke-width="2.4"/>
<text font-size="38.5" text-anchor="middle" fill="#1a78e6" transform="translate(369.5 1214.5) rotate(-90)">(040) n=2</text>
<polygon points="343,1304 364.9,1304 353.9,1327.4" fill="#000"/>
<text x="562.5" y="1328" font-size="42" text-anchor="middle">δ</text>
<text font-size="38.8" text-anchor="middle" fill="#1a78e6" transform="translate(644.4 1209.5) rotate(-90)">(060) n=2</text>
<polygon points="618,1293 642,1293 630,1317" fill="#000"/>
<text font-size="38.8" text-anchor="middle" fill="#1a78e6" transform="translate(711 1168.8) rotate(-90)">(111) High-n</text>
<text font-size="38.8" text-anchor="middle" fill="#1a78e6" transform="translate(756.1 1193.4) rotate(-90)">(111) n=2</text>
<line x1="727.4" y1="1282" x2="715.1" y2="1319.1" stroke="#000" stroke-width="2.2"/>
<polygon points="711.6,1329.5 710.5,1315.4 720.9,1318.9" fill="#000"/>
<text x="875.1" y="1275.6" font-size="35" text-anchor="middle">#</text>
<text font-size="39" text-anchor="middle" transform="translate(958.9 1177.6) rotate(-90) scale(1 1.02)">(202) High-n</text>
<text font-size="49.9" text-anchor="middle" fill="#1a1a1a" transform="translate(84.3 1394) rotate(-90)">Intensity (a.u.)</text>
<text x="610.3" y="1871" font-size="51" text-anchor="middle" fill="#1a1a1a" letter-spacing="0.3">2 Theta (°)</text>
<clipPath id="ce"><rect x="1356.7" y="1067.8" width="894.3" height="658.2"/></clipPath>
<text x="1318.5" y="1004.4" font-size="88" font-family="'Liberation Serif', 'Times New Roman', serif">(e) n=9</text>
<path d="M1356.7 1710.3l2 .1 2 .2 2 0 2 .1 2-.1 2 0 2 0 2 .1 2-.2 2 .3 2-.1 2 0 1.9 0 2-.2 2-.1 2 .1 2 0 2 0 2-.1 2 .1 2 0 2-.2 2 .1 2 .1 2-.1 2 .2 2-.2 2 0 2 .2 2 0 2 0 2 0 2 0 2 0 2-.2 2 .3 2-.1 2 0 2 .1 1.9 0 2 0 2-.2 2-.1 2 .2 2 0 2 .1 2 .1 2-.2 2 0 2 .2 2-.2 2-.2 2 .3 2-.1 2 .1 2-.3 2-.1 2 .2 2 0 2 .1 2 0 2 0 2-.2 2 .2 2 .1 1.9-.1 2 0 2-.3 2 .1 2 .2 2-.1 2 0 2-.1 2 .2 2 .2 2-.2 2-.1 2-.1 2 .2 2 0 2 0 2 0 2-.1 2-.1 2 .1 2-.1 2 .1 2 0 2 .2 2-.1 2-.3 1.9 .2 2 0 2 .1 2-.2 2 .1 2-.1 2-.1 2 .2 2-.1 2 .1 2 .2 2 0 2-.2 2-.1 2-.1 2 .1 2 .1 2 0 2 .1 2-.1 2 .1 2 0 2-.1 2-.1 2-.1 2 0 2 .1 1.9 0 2 .4 2-.1 2-.1 2 0 2-.1 2 0 2 0 2-.2 2 0 2 .2 2-.2 2 .1 2 .1 2 0 2 .2 2 .1 2-.1 2-.1 2-.1 2-.1 2-.1 2 0 2-.2 2 .1 2 .3 1.9-.2 2 .1 2-.1 2 .1 2 .2 2-.2 2-.1 2-.1 2 0 2 0 2-.5 .9 .3 .4-.1 .4 .2 .3-.3 .1 0 .4-.1 .4-.2 .3 0 .4-.1 .4-.1 0 .1 .4 .1 .4-.1 .4-.2 .4-.4 .4-.2 0 .1 .3-.2 .4-.3 .4-.2 .4-.3 .4-.6 .1 0 .3-.5 .4-1 .4-1 .3-1.4 .4-2.2 .2-1 .2-2.1 .4-5.3 .4-8.4 .4-12.1 .4-15.4 .2-9.6 .2-6.5 .3-7.2 .4 7.4 .4 15.5 .4 15.7 .3 8.9 .1 3 .4 8.5 .4 5.2 .4 3.4 .3 2.2 .4 1.3 0 .2 .4 1.2 .4 .8 .4 .4 .4 .4 .4 .5 0-.1 .4 .2 .3 .5 .4 .2 .4 .3 .4 0 .1 .2 .3 .1 .4 .1 .4 0 .4-.1 .3 .3 .2-.1 .2 0 .4 .1 .4 0 .4 .3 .4 .1 .2-.1 2 .2 2 .2 2 0 2 0 1.9 .2 2-.1 2 0 2-.1 2 0 2-.1 2-.1 2 .2 2-.1 2 .1 2-.1 2 .2 2 .1 2-.1 2-.1 2 0 2 0 2 .1 2 0 2-.1 2 .3 2-.1 2-.1 2 0 2-.1 2 0 1.9-.1 2 0 2 0 2 .2 2-.1 2 .1 2-.1 2 0 2 .1 2 .2 2 0 2-.2 2 0 2-.1 2 0 2 .2 2 0 2-.1 2 .1 2-.2 2 0 2 .1 2 .2 2-.3 2 .3 2 .1 1.9-.2 2 0 2-.2 2 .2 2 0 2 0 2-.1 2 .2 2-.1 2 .1 2 0 2-.3 2 .2 2 0 2 0 2-.2 2-.2 2 .1 2 .1 2 0 2 .2 2 .1 2-.1 2 .1 2-.2 2-.1 2-.2 1.9 .1 1.6 0 .4 0 .5 .1 .9 .2 .6 0 .3 .2 .9-.2 .8-.3 .1-.2 .9 .1 .9 .2 .1 .3 .8 0 .8-.2 .4 .1 .5 0 .9-.1 .6 .2 .3-.4 .9 .1 .8-.1 .1 0 .9 .1 .9 .2 .1-.2 .8 0 .9 0 .3 0 .6 .1 .9 0 .5 .1 .4-.2 .9-.1 .7 .1 .2-.1 .9 0 .9-.1 0-.1 .8-.2 .9-.6 .3 0 .6-.4 .9-.7 .5 0 .4 0 .9 .1 .7 .1 .2 .3 .9 .5 .9 .4 0 .4 .9 .1 .9 0 .2 .1 .7 .1 .9 0 .4 .2 .5 0 .9 .1 .6-.2 .3 .1 .9 0 .8 0 .1 0 .8-.1 .9 .1 .2-.2 .7 .2 .9-.2 .4 .1 .5 .1 .9 0 .6-.1 .3 .2 .9-.2 .8 .1 .1 0 .9-.1 .9 0 .1-.2 .8 .2 .9 .2 .2-.2 .7 .1 .9 0 .4-.2 .5 .1 .9 .1 .6-.1 2 0 2 0 2-.1 2 0 2 0 2 0 2 .1 2 0 2 0 2 0 2-.1 2 .2 2 .1 2-.2 2 .2 2-.3 2 .1 2 0 2 .3 2-.1 2-.2 2 0 2 .2 2-.1 1.9-.1 2 0 2 .1 2 .1 2-.2 2-.1 2 0 2 0 2 .3 2 0 2 0 2-.3 2 .2 2 .2 2 .1 2 0 2-.1 2 .1 2 0 2 0 2-.1 2 .1 2 0 2 .1 2-.2 2 0 1.9-.3 2-.1 2 0 .9 0 .9 .1 .2 .1 .7-.1 .9-.2 .4 0 .4 .2 .9-.1 .7 .1 .2 .1 .9 0 .9 .1 .9-.1 .9 0 .2 .1 .7-.4 .9-.1 .4 .3 .5-.1 .9 0 .6 .2 .3 0 .9-.3 .8 0 .1 .1 .9-.1 .9 .1 .1-.1 .8-.2 .9 .2 .3 0 .5 .1 .9-.1 .6-.2 .3 0 .9-.3 .8-.7 .1-.2 .9-.8 .9-1 .1 .2 .8-.9 .9-.7 .3 .2 .6 .4 .9 1 .5 .7 .4 .2 .9 1.2 .7 .3 .2 .1 .9 .2 .9 .2 0-.1 .9-.1 .8 .2 .3 0 .6 0 .9 .1 .5 .1 .4 .1 .9 0 .7-.1 .2-.1 .9 .2 .9 .2 0-.1 .9-.1 .9 .1 .2-.1 .7 .1 .9 0 .4-.1 .5 .1 .9-.2 .6-.1 .3 .2 .9 .2 .7-.2 .2 .1 .9 .1 .8 .1 .1 0 .8-.3 .9 0 .3-.1 .6-.1 1.4 .1 2 .2 2 0 2-.4 2-.1 2 .5 2-.1 2-.2 .7 .3 1.2-.2 .1 0 1.1 0 .9-.1 .3 .1 1.2 .1 .5-.1 .7-.1 1.2 .1 .1-.2 1.1 0 .9 .2 .3-.3 1.2 .4 .5 .3 .6 0 1.2-.3 .2 0 1 .2 1-.1 .2 0 1.2-.2 .6 .1 .6-.2 1.2 0 .2 0 1 .3 1-.1 .2 0 1.2-.1 .6-.2 .6 .1 1.2-.2 .2 0 1-.2 1 0 .2 .3 1.1-.2 .7-.4 .5-.4 1.2-.6 .2-.3 1-.8 1-1 .2-.2 1.2-1.2 .6-.3 .6-.4 1.2 .6 .2 .4 1 1 1 1 .2 .2 1.2 .8 .6 .4 .6 .6 1.2 .6 .2-.3 .9 .3 1.1 .2 .1 0 1.2 0 .7 .2 .5 .1 1.2-.3 .3 .3 .9 0 1.1 0 .1-.3 1.2 0 .7 .2 .5 .2 1.2-.1 .3 0 .9 .1 1.1 .1 .1-.2 1.2 .3 .7-.1 .4-.4 1.2 .2 .4 .1 .8 0 1.2-.2 0 .2 1.2-.1 .8 .1 .4-.1 1.2-.1 .4 0 .8 .1 1.2 .1 0 0 1.2-.2 .8-.2 2 .1 2 0 2-.2 2-.1 2 0 .2 0 .4-.2 .4 .2 .4 0 .4-.2 .1 .2 .2-.1 .4 0 .4-.3 .4-.1 .4-.2 .2 0 .2 .1 .4 0 .4-.1 .3-.2 .4-.1 .3-.4 .1-.2 .4-.3 .4-.4 .4-.4 .4-.7 .3-.6 .1 0 .3-1 .4-1.3 .4-2.1 .4-3.3 .4-5 0-.5 .4-7.3 .4-11.3 .4-14.3 .3-14.9 .4-6.5 .1 .7 .3 6.2 .4 14.7 .4 14.5 .4 11.2 .4 7.8 .1 2.4 .3 2.8 .3 3.2 .4 2 .4 1.4 .4 .9 .2 .3 .2 .2 .4 .6 .4 .6 .4 .2 .3 .5 .3 0 .1 0 .4 .3 .4 .1 .4 .2 .4 .3 .3 0 .1-.1 .4 .2 .3 0 .4 .1 .4-.1 .4 .3 .4-.3 .4 .1 .4 .2 .8 0 2 .2 2 .2 2 0 2 .2 2 0 2 0 2-.1 2 0 2-.2 2 .2 2 0 2 .2 2 0 2 0 2-.1 1.9 0 2 0 2-.1 2 .1 2 0 2 .1 2-.2 2 .1 2 0 2-.2 2 0 2 0 2 .2" fill="none" stroke="#4d4d4d" stroke-width="4.2" stroke-linejoin="round" clip-path="url(#ce)"/>
<path d="M1356.7 1624.9l2 .1 2 .2 2 .1 2-.3 2-.1 2-.1 2 .1 2 0 2-.1 2 .1 2-.1 2 .2 1.9-.1 2 .1 2 0 2 0 2-.1 2 0 2-.1 2 .3 2 0 2 .2 2-.1 2 0 2-.2 2 0 2-.2 2 .2 2 .1 2 .2 2 0 2-.3 2-.3 2 .2 2 .1 2-.1 2-.1 2 .2 2 .2 1.9 0 2-.2 2 .1 2 .1 2-.3 2 .2 2-.2 2 .1 2 0 2 0 2-.2 2 .2 2-.2 2 .2 2-.3 2 .1 2 0 2 0 2 .1 2 .1 2 .2 2 0 2 0 2-.2 2 .1 2 .1 1.9 .1 2 0 2-.3 2-.1 2-.1 2 0 2 .3 2-.3 2 .1 2 .2 2-.1 2-.2 2 0 2 .2 2 .1 2-.1 2 .1 2 .1 2-.1 2 .2 2-.3 2 .3 2-.4 2 .2 2 0 2-.3 1.9 .1 2 .1 2 .1 2 0 2-.1 2 0 2 0 2 .2 2-.1 2 .1 2-.1 2 .1 2 .2 2 .1 2-.4 2-.2 2-.1 2 .1 2 .3 2-.2 2 0 2 0 2-.3 2 0 2 0 2 .1 2 0 1.9 0 2 .1 2-.2 2 .3 2 .1 2-.2 2 0 2-.1 2-.2 2 .3 2 0 2 .2 2 .1 2-.3 2-.1 2 .2 2-.1 2-.1 2 0 2 .2 2-.2 2 .1 2 .2 2-.2 2 0 2 .1 1.9 .1 2 0 2 0 2 .1 2-.3 2 .2 2-.1 2-.2 2-.3 2 .3 2-.2 .9-.1 .4 .1 .4-.2 .3 0 .1 .1 .4 0 .4-.1 .3 0 .4-.3 .4-.1 0-.1 .4-.2 .4 .1 .4-.1 .4-.2 .4-.2 0-.1 .3-.4 .4-.2 .4-.2 .4-.6 .4-.4 .1-.1 .3-.6 .4-.9 .4-1 .3-1.3 .4-2.1 .2-1.5 .2-2.1 .4-5.3 .4-8.8 .4-12.5 .4-15.8 .2-9.3 .2-6.6 .3-7.2 .4 7.3 .4 16.2 .4 15.9 .3 9.1 .1 3 .4 8.6 .4 5.5 .4 3.3 .3 2.4 .4 1.3 0 .1 .4 1.1 .4 .9 .4 .6 .4 .4 .4 .5 0-.1 .4 .3 .3 .2 .4 .6 .4-.2 .4 .4 .1-.2 .3 .4 .4-.2 .4 .3 .4 0 .3 .2 .2-.2 .2 .1 .4 .1 .4 .2 .4-.1 .4-.2 .2 .1 2 .2 2 .2 2 0 2 0 1.9 .1 2 .3 2 0 2-.1 2 .1 2-.2 2 0 2 0 2 0 2 0 2 .1 2 .3 2-.1 2 0 2 .1 2-.4 2 0 2 .2 2-.2 2 0 2 .3 2-.1 2 0 2 .3 2-.4 2 .2 1.9-.2 2 .1 2 .1 2-.1 2 0 2 .1 2 0 2 .1 2 0 2 0 2 .1 2-.2 2-.3 2-.1 2 .1 2-.1 2 .1 2 .1 2 .3 2-.3 2 .1 2-.2 2 .2 2-.3 2 .4 2-.1 1.9 .3 2-.1 2-.2 2-.1 2 0 2 .1 2 .2 2-.1 2-.1 2 0 2 .2 2-.2 2 .1 2-.2 2 0 2 .1 2-.2 2 .3 2 .2 2-.3 2-.1 2 0 2 0 2 0 2 .2 2 .3 2-.2 1.9 0 1.6-.2 .4 0 .5-.1 .9 0 .6 .1 .3-.1 .9 .1 .8-.1 .1 .1 .9-.2 .9 .1 .1 0 .8 .1 .8 0 .4 0 .5 0 .9-.1 .6 .1 .3-.3 .9 0 .8 .2 .1-.2 .9 .5 .9 .1 .1-.4 .8 .3 .9-.1 .3 0 .6 .1 .9-.2 .5 0 .4 .1 .9-.2 .7-.1 .2 0 .9 0 .9-.3 0 0 .8-.3 .9-.1 .3-.3 .6-.1 .9-.5 .5-.2 .4 .1 .9 .2 .7 .2 .2 .2 .9 .6 .9-.1 0 .2 .9 0 .9 .2 .2 .2 .7 .1 .9 .1 .4-.1 .5 .1 .9-.2 .6 .3 .3-.3 .9 0 .8-.1 .1 .1 .8 0 .9-.1 .2 .3 .7-.1 .9-.1 .4 .1 .5 .1 .9 .1 .6-.1 .3 0 .9 0 .8 0 .1-.1 .9 .1 .9-.2 .1 .2 .8 .1 .9-.1 .2-.1 .7-.2 .9 .1 .4 .2 .5-.2 .9 .2 .6-.1 2 .3 2 0 2 .1 2-.2 2-.1 2-.1 2 .3 2-.2 2 0 2-.1 2 .1 2-.2 2 .1 2 .2 2-.1 2-.1 2 .1 2 0 2-.1 2-.2 2 .2 2 .1 2 0 2 .2 1.9 0 2-.1 2-.2 2 0 2 0 2 0 2 .1 2 0 2 .1 2-.1 2 0 2 .2 2-.1 2 .1 2-.1 2-.2 2 .2 2-.1 2-.1 2 .2 2 0 2-.1 2-.2 2 .2 2 0 2-.1 1.9 .1 2 .1 2 .1 .9 0 .9 0 .2-.2 .7-.2 .9 .2 .4 .2 .4 .2 .9-.3 .7-.1 .2-.1 .9 .1 .9-.1 .9 0 .9 0 .2 .2 .7-.1 .9 .3 .4-.1 .5 0 .9-.2 .6 0 .3-.1 .9 0 .8-.1 .1 .2 .9-.1 .9 0 .1 .1 .8-.1 .9-.1 .3-.2 .5 .1 .9 .1 .6-.2 .3-.1 .9-.3 .8-.1 .1-.2 .9-.8 .9-1 .1-.1 .8-.9 .9-.3 .3 0 .6 .6 .9 .6 .5 .5 .4 .4 .9 .6 .7 .5 .2 .3 .9 .2 .9 .1 0 0 .9 .2 .8 .1 .3-.1 .6 0 .9 0 .5-.1 .4 0 .9 .3 .7 0 .2-.1 .9-.1 .9-.1 0 .2 .9 0 .9-.1 .2-.1 .7 0 .9 .4 .4-.1 .5-.3 .9 .1 .6 .1 .3-.2 .9 .1 .7 .3 .2-.2 .9-.2 .8 .1 .1 .2 .8-.2 .9 .1 .3 0 .6 0 1.4 0 2-.2 2 .5 2-.1 2 .1 2-.1 2-.2 2-.2 .7 0 1.2 .1 .1 0 1.1 .2 .9 0 .3 0 1.2 .2 .5-.1 .7-.3 1.2 .2 .1-.2 1.1-.1 .9 .2 .3 .1 1.2-.3 .5 .2 .6 .4 1.2-.4 .2-.1 1-.2 1 .1 .2 0 1.2 .1 .6-.2 .6 .1 1.2 .1 .2 .3 1-.2 1-.2 .2-.1 1.2 0 .6 0 .6 0 1.2 .2 .2 0 1-.2 1-.2 .2-.1 1.1 0 .7 0 .5-.2 1.2-.6 .2-.2 1-.5 1-.9 .2-.2 1.2-1.2 .6-.3 .6-.2 1.2 .3 .2 .1 1 1.1 1 1 .2 .1 1.2 .9 .6 .3 .6 .3 1.2 .4 .2-.1 .9 .1 1.1 .1 .1 0 1.2 .2 .7-.1 .5-.1 1.2 .1 .3-.1 .9 .1 1.1 .2 .1-.2 1.2 .3 .7-.2 .5-.2 1.2 0 .3-.1 .9 .2 1.1 .1 .1 .1 1.2 0 .7 0 .4 0 1.2-.2 .4 .1 .8 .1 1.2 .1 0 0 1.2-.1 .8 0 .4-.1 1.2 0 .4-.1 .8 0 1.2-.1 0 0 1.2 .2 .8-.2 2 .2 2 0 2-.1 2-.2 2 .1 .2-.2 .4 0 .4 .1 .4-.3 .4 .1 .1-.1 .2 .1 .4-.2 .4-.1 .4 0 .4-.1 .2-.1 .2 0 .4-.3 .4 0 .3 0 .4-.3 .3-.3 .1 0 .4-.6 .4-.3 .4-.3 .4-.6 .3-.6 .1 0 .3-.9 .4-1.4 .4-2.2 .4-3.1 .4-5.2 0-.7 .4-7.1 .4-11.8 .4-15 .3-15.2 .4-6.8 .1 .3 .3 6.5 .4 15.1 .4 15.3 .4 11.5 .4 7.9 .1 2.3 .3 2.7 .3 3.3 .4 2.1 .4 1.2 .4 .9 .2 .5 .2 .3 .4 .7 .4 .5 .4 .4 .3 .1 .3 .3 .1 .2 .4 .2 .4 .3 .4 .1 .4-.2 .3 .2 .1 0 .4 .1 .3 .4 .4-.1 .4-.2 .4 .2 .4 .2 .4-.2 .4 .1 .8 .3 2 .3 2-.3 2 0 2 .2 2 0 2 0 2 .3 2-.3 2 .1 2-.1 2-.2 2 0 2 .2 2 .1 2 0 1.9-.1 2 .1 2-.1 2-.1 2 .1 2 .1 2 .2 2 .1 2-.3 2-.1 2 .1 2 .1 2 .1" fill="none" stroke="#ff3838" stroke-width="4.2" stroke-linejoin="round" clip-path="url(#ce)"/>
<path d="M1356.7 1539l2 0 2 0 2 .1 2-.1 2-.2 2 .2 2-.1 2 0 2 .1 2 0 2 .2 2 0 1.9-.1 2-.1 2-.1 2 .1 2 .1 2 0 2-.1 2 .1 2-.2 2 0 2 .1 2 .1 2-.1 2 .1 2 0 2 0 2-.2 2 .1 2-.2 2-.2 2 .1 2 0 2 .3 2 .1 2-.2 2 .1 2-.1 1.9 0 2 0 2 .1 2 .1 2 0 2 0 2 0 2 0 2-.1 2-.1 2 0 2 .1 2 0 2 .3 2-.3 2-.1 2 .1 2 .2 2 0 2 0 2 .1 2-.2 2-.2 2 0 2 .2 2-.3 1.9 .1 2 .1 2 0 2 .1 2 0 2 .2 2-.1 2-.2 2 0 2-.1 2 .2 2-.1 2 0 2 .1 2-.2 2 0 2-.2 2 0 2 .1 2 .1 2 .2 2 0 2 0 2 0 2 .1 2 0 1.9-.1 2-.2 2 .2 2 0 2 .1 2-.1 2 .2 2-.2 2 .1 2-.1 2-.1 2-.1 2 0 2 .2 2 .1 2 0 2-.4 2 .2 2 .1 2-.1 2-.1 2 .1 2 .2 2-.2 2-.1 2 .2 2-.1 1.9-.1 2 .1 2-.2 2 .1 2-.1 2 .2 2 0 2 .3 2-.1 2 0 2-.3 2 0 2 .1 2 .2 2-.3 2 .1 2 .1 2 .1 2 0 2-.1 2-.1 2-.2 2 .1 2 0 2 .3 2-.2 1.9 0 2-.3 2 .1 2 .1 2 .1 2 .1 2-.2 2-.2 2 0 2 0 2-.1 .9-.2 .4 .1 .4-.1 .3 0 .1 .1 .4-.1 .4-.1 .3 .1 .4-.2 .4-.2 0 0 .4 0 .4-.2 .4-.1 .4-.1 .4-.3 0-.3 .3-.1 .4-.2 .4-.4 .4-.2 .4-.5 .1-.3 .3-.4 .4-.8 .4-1.3 .3-1.3 .4-2.2 .2-1.3 .2-2.1 .4-5.4 .4-8.7 .4-12.3 .4-15.8 .2-9.7 .2-6.6 .3-7.4 .4 7.6 .4 15.8 .4 16.1 .3 9.2 .1 3.2 .4 8.8 .4 5.3 .4 3.7 .3 2 .4 1.3 0 0 .4 1 .4 .9 .4 .6 .4 .5 .4 .1 0 .4 .4 .3 .3 .4 .4 0 .4 .2 .4 .6 .1-.3 .3-.1 .4 .1 .4 .2 .4 .2 .3 .2 .2-.1 .2-.2 .4 .1 .4 .3 .4 0 .4-.2 .2 .1 2 .4 2 .3 2 0 2-.1 1.9-.2 2 0 2 .1 2 .1 2 .1 2-.1 2-.1 2 0 2-.1 2 .2 2-.3 2 .2 2 .1 2 .2 2 0 2 0 2-.1 2-.1 2 0 2 .2 2 .1 2-.1 2 .4 2-.3 2 0 2-.1 1.9-.1 2 .3 2 0 2-.3 2-.1 2 .1 2 .1 2-.2 2-.2 2-.1 2 .2 2 .1 2 .1 2-.1 2-.1 2-.2 2 .3 2 .1 2 .1 2 .1 2-.1 2 .1 2-.1 2-.1 2-.1 2 0 1.9-.2 2 .2 2 .1 2-.1 2 0 2 .1 2 .2 2-.1 2-.1 2-.1 2 .1 2-.2 2 .1 2 .1 2 .2 2 0 2 0 2-.2 2 .1 2-.2 2 .1 2 0 2-.1 2 .3 2 0 2-.4 2 .2 1.9-.1 1.6 .1 .4 0 .5 .1 .9-.3 .6-.1 .3 .3 .9 .1 .8 .2 .1 .1 .9-.5 .9 .1 .1-.2 .8 .3 .8 0 .4-.2 .5 .3 .9 0 .6-.4 .3 .1 .9 0 .8 0 .1 0 .9 .2 .9-.3 .1 .1 .8 .3 .9-.3 .3 .1 .6 0 .9-.2 .5 .2 .4-.1 .9-.1 .7 .2 .2 0 .9-.2 .9-.3 0 0 .8-.1 .9-.4 .3 0 .6-.4 .9-.3 .5-.2 .4 0 .9 .1 .7 .4 .2 .1 .9 .4 .9 .2 0-.1 .9 .2 .9 .1 .2 .3 .7 0 .9 .3 .4 .2 .5-.2 .9-.3 .6 0 .3 .1 .9-.2 .8 .1 .1 .1 .8 0 .9-.1 .2 0 .7 .3 .9-.1 .4-.1 .5 0 .9 .2 .6-.2 .3 .1 .9 .1 .8 0 .1 .1 .9-.2 .9 .2 .1-.2 .8-.1 .9 .2 .2 0 .7 0 .9-.2 .4 .1 .5-.1 .9-.1 .6 0 2 .1 2-.2 2 .2 2 .1 2-.1 2 .2 2 0 2-.1 2-.1 2 .1 2-.2 2 .1 2 0 2 0 2 .1 2 0 2 .1 2 0 2-.1 2-.2 2 .2 2 .1 2 .1 2-.2 1.9 0 2 0 2 0 2 0 2-.2 2 .2 2 .1 2 .1 2 .2 2-.3 2 0 2-.1 2 .3 2-.4 2 .1 2-.2 2-.2 2-.1 2 .1 2 .3 2-.1 2 .1 2-.1 2 .2 2-.2 2 .3 1.9-.2 2-.1 2 .1 .9 .1 .9 .1 .2 0 .7-.2 .9 0 .4-.1 .4 .2 .9 0 .7 0 .2 .1 .9-.1 .9-.1 .9 .1 .9 .1 .2-.1 .7-.1 .9-.1 .4 .2 .5-.1 .9 0 .6-.2 .3 .2 .9-.2 .8 0 .1 .2 .9-.2 .9 .1 .1 0 .8-.1 .9 .2 .3 .1 .5-.4 .9-.2 .6 .1 .3-.2 .9-.3 .8-.3 .1 .1 .9-.8 .9-.8 .1-.2 .8-.5 .9-.5 .3 .1 .6 .2 .9 .8 .5 .5 .4 .4 .9 .5 .7 .6 .2 .3 .9 .2 .9 .2 0 0 .9 .1 .8 0 .3 0 .6 .1 .9-.1 .5-.1 .4 0 .9-.2 .7 .2 .2 .1 .9 .2 .9-.1 0 .1 .9-.1 .9-.1 .2-.2 .7 0 .9 0 .4 .2 .5 0 .9 .1 .6 0 .3 .1 .9 .1 .7-.2 .2-.1 .9 0 .8-.2 .1 .2 .8 .2 .9-.1 .3-.1 .6 .2 1.4-.4 2 .2 2 0 2 0 2 .2 2 .1 2-.2 2 0 .7-.1 1.2 0 .1-.1 1.1 .2 .9 .1 .3 0 1.2-.2 .5 .3 .7 .1 1.2-.1 .1-.3 1.1-.1 .9 .1 .3-.1 1.2 .1 .5 .1 .6-.2 1.2 .3 .2 .1 1-.3 1-.2 .2 .1 1.2-.1 .6 .1 .6-.3 1.2 .2 .2 .3 1-.2 1 0 .2-.2 1.2 .2 .6-.1 .6 .3 1.2-.1 .2-.2 1 0 1-.2 .2-.1 1.1-.1 .7-.2 .5-.2 1.2-.5 .2-.2 1-.7 1-.7 .2-.4 1.2-.8 .6-.5 .6-.2 1.2 .8 .2 0 1 1 1 .9 .2-.2 1.2 .9 .6 .3 .6 .1 1.2 .3 .2 .2 .9 .3 1.1 .2 .1-.1 1.2 0 .7 0 .5 0 1.2 0 .3 .1 .9 0 1.1 0 .1 0 1.2 0 .7 .1 .5 .1 1.2 0 .3 0 .9-.2 1.1 0 .1 .1 1.2 .1 .7-.2 .4 .1 1.2 .2 .4-.1 .8 0 1.2 0 0 0 1.2 .1 .8-.1 .4 0 1.2-.1 .4 0 .8 .2 1.2-.1 0-.1 1.2 0 .8 .1 2-.2 2 .1 2-.2 2-.2 2 0 .2 0 .4 0 .4 .1 .4-.2 .4 0 .1-.2 .2 .2 .4 0 .4-.1 .4-.2 .4-.2 .2-.1 .2 .1 .4-.2 .4-.1 .3-.4 .4-.1 .3-.2 .1-.2 .4-.2 .4-.5 .4-.3 .4-.4 .3-.8 .1-.2 .3-1 .4-1.4 .4-2.3 .4-3.1 .4-5 0-.7 .4-7.5 .4-11.7 .4-15.1 .3-15.3 .4-7 .1 .3 .3 6.5 .4 15.4 .4 15.4 .4 11.6 .4 8 .1 2.3 .3 2.6 .3 3.5 .4 2 .4 1.4 .4 .9 .2 .4 .2 .6 .4 .5 .4 .3 .4 .6 .3 .3 .3 .3 .1 .2 .4 .1 .4 0 .4 .2 .4 .3 .3 0 .1-.1 .4 .3 .3 0 .4 .1 .4 .1 .4 .2 .4 0 .4 0 .4 .1 .8 .3 2 .1 2 0 2-.2 2 .6 2-.4 2 0 2-.1 2 .3 2-.1 2-.2 2 .1 2 .1 2-.1 2-.1 2 0 1.9 0 2 .1 2 0 2 .1 2-.1 2-.2 2 0 2 .3 2-.1 2 .3 2 0 2-.3 2 0" fill="none" stroke="#0068e0" stroke-width="4.2" stroke-linejoin="round" clip-path="url(#ce)"/>
<path d="M1356.7 1451.7l2-.1 2 .1 2 0 2-.2 2-.2 2 0 2 .1 2 .2 2 0 2-.2 2 .2 2-.2 1.9 0 2 0 2 .1 2 .1 2-.2 2 0 2 .1 2-.2 2 .1 2 .1 2-.2 2-.1 2 .2 2 0 2 .1 2 .3 2-.1 2 0 2-.2 2 .1 2-.1 2 .2 2 0 2-.3 2-.1 2 .1 2 0 1.9-.1 2-.1 2 .3 2-.1 2-.1 2 0 2 .2 2 .2 2-.1 2-.1 2-.1 2 0 2 .1 2 .2 2 0 2-.1 2 .1 2 0 2-.1 2-.3 2 .1 2 0 2 .2 2-.1 2 .1 2 0 1.9 .1 2 0 2 0 2 .1 2 0 2-.1 2-.1 2 0 2 .2 2-.1 2-.1 2 0 2-.1 2-.4 2 .4 2-.1 2-.1 2 .3 2-.4 2 .2 2 0 2-.2 2 .2 2 0 2 0 2 0 1.9 .1 2 .3 2-.3 2 .1 2-.1 2-.1 2-.2 2 0 2 .1 2 .2 2 0 2 .1 2 0 2-.2 2 .2 2-.1 2 .1 2-.1 2 0 2 .1 2-.3 2 .3 2 0 2 .1 2-.1 2 0 2-.2 1.9 0 2-.2 2 .1 2 .3 2-.3 2 0 2 .1 2 .2 2 .1 2-.1 2-.1 2 0 2-.1 2 0 2 0 2 0 2 0 2 0 2 .1 2 0 2 0 2-.2 2 0 2 .1 2 0 2 0 1.9 .2 2-.1 2 .1 2 .1 2-.1 2-.1 2 0 2-.2 2-.2 2-.1 2-.1 .9 0 .4-.1 .4-.1 .3 .1 .1 .2 .4-.2 .4-.3 .3 0 .4-.1 .4-.1 0-.1 .4 .1 .4 0 .4 .2 .4-.5 .4-.3 0 .1 .3-.2 .4 0 .4-.2 .4-.6 .4-.7 .1 .1 .3-.5 .4-.5 .4-1 .3-1.4 .4-2.1 .2-1 .2-1.9 .4-5 .4-7.7 .4-11.2 .4-14.2 .2-8.6 .2-5.9 .3-6.6 .4 6.4 .4 14.5 .4 14.6 .3 8.2 .1 2.7 .4 7.7 .4 5.2 .4 3 .3 2.1 .4 .8 0 .5 .4 .9 .4 .8 .4 .4 .4 .4 .4 .5 0 .2 .4 .1 .3 .1 .4 .3 .4 .4 .4-.2 .1-.1 .3 .3 .4 0 .4-.2 .4 .3 .3 .1 .2 .2 .2 .2 .4-.3 .4 .1 .4 0 .4 .2 .2-.1 2 .2 2 0 2 .2 2 .2 1.9-.2 2 .1 2-.1 2 .1 2-.2 2 .2 2 .2 2 0 2-.3 2 .1 2 0 2 .2 2 0 2 .1 2-.2 2-.1 2-.3 2 .2 2 .1 2 .1 2 0 2 0 2 .2 2-.3 2 .1 2 .2 1.9-.1 2 .2 2-.2 2 0 2-.1 2 0 2 .2 2-.3 2 0 2 0 2 0 2 0 2 .2 2 0 2 .2 2-.1 2-.2 2-.2 2 .1 2 0 2 0 2 .2 2 0 2-.2 2-.1 2 .3 1.9-.2 2 .1 2 .1 2-.2 2-.1 2 .1 2 .1 2 .1 2 0 2-.2 2 .3 2-.1 2 0 2 0 2-.3 2 0 2 .2 2 .1 2-.1 2 0 2-.1 2 0 2 0 2-.1 2 0 2 .1 2 0 1.9 0 1.6 0 .4 .1 .5 0 .9 0 .6 0 .3 0 .9 .1 .8 0 .1-.1 .9-.1 .9 0 .1-.1 .8 .3 .8-.2 .4 .2 .5-.1 .9 .1 .6-.1 .3-.1 .9 .2 .8 .1 .1-.1 .9 .1 .9 0 .1 0 .8-.1 .9-.1 .3 .3 .6-.2 .9 0 .5-.1 .4 0 .9-.1 .7-.1 .2 0 .9 .1 .9-.3 0 .2 .8-.2 .9-.3 .3-.2 .6-.1 .9-.4 .5-.1 .4-.3 .9 .5 .7 .3 .2-.1 .9 .2 .9 .4 0-.1 .9 0 .9 .3 .2 .2 .7 .1 .9 0 .4-.1 .5 .2 .9-.2 .6-.1 .3-.1 .9 .2 .8-.1 .1 .1 .8 .1 .9-.2 .2 0 .7 .2 .9 0 .4 0 .5 0 .9-.1 .6 .1 .3 .1 .9-.1 .8-.1 .1-.1 .9 .1 .9 .2 .1-.1 .8-.1 .9 .2 .2-.1 .7-.1 .9 .1 .4 0 .5 .2 .9-.1 .6 .1 2 0 2 .1 2 .2 2-.5 2 .1 2-.1 2 .2 2 .1 2-.1 2-.1 2 0 2-.2 2 .1 2 .1 2 0 2-.2 2 .2 2-.1 2-.1 2 .1 2-.1 2 .2 2-.1 2-.1 1.9 .1 2 .2 2 .1 2-.3 2-.1 2 .1 2 .1 2-.1 2 .1 2-.2 2 .2 2-.3 2 .2 2 .1 2 0 2 0 2-.3 2 .2 2 0 2 .1 2-.2 2 .3 2-.1 2 .2 2-.3 2-.1 1.9 .2 2 0 2-.2 .9 0 .9-.1 .2 .2 .7-.1 .9 .1 .4 .1 .4-.2 .9 0 .7-.1 .2 .3 .9-.1 .9 .1 .9 0 .9 0 .2 0 .7 0 .9-.1 .4 .1 .5 .3 .9-.2 .6-.1 .3-.1 .9-.1 .8 0 .1-.2 .9 0 .9 .2 .1 0 .8 0 .9-.1 .3 0 .5 0 .9-.1 .6-.3 .3 0 .9-.1 .8-.2 .1-.1 .9-.5 .9-1 .1-.1 .8-.4 .9-.4 .3 .4 .6 .1 .9 .5 .5 .5 .4 .2 .9 .7 .7 .2 .2-.1 .9 .6 .9 0 0 0 .9 .1 .8-.1 .3 0 .6 .1 .9 .3 .5 0 .4-.1 .9-.1 .7 .1 .2 0 .9-.2 .9 .2 0 0 .9-.2 .9 .1 .2-.1 .7 .2 .9 0 .4 0 .5-.1 .9 .1 .6 0 .3-.1 .9 .1 .7-.1 .2 .1 .9-.1 .8 0 .1 .1 .8-.2 .9-.2 .3 .3 .6 0 1.4-.1 2 0 2 0 2 .3 2 .1 2-.1 2 .2 2-.3 .7 .1 1.2-.2 .1 0 1.1 .3 .9-.2 .3-.1 1.2 .1 .5 .2 .7-.3 1.2 0 .1 .1 1.1-.2 .9 .1 .3-.2 1.2 .2 .5 .2 .6-.1 1.2-.1 .2-.1 1 .2 1 0 .2 .1 1.2-.2 .6-.1 .6 0 1.2 .1 .2 .1 1 0 1-.1 .2-.1 1.2-.1 .6 .1 .6 .1 1.2-.1 .2 0 1 .1 1 0 .2-.2 1.1 0 .7-.4 .5-.2 1.2-.5 .2 0 1-.6 1-.7 .2-.1 1.2-1 .6 0 .6-.2 1.2 .4 .2 .2 1 .6 1 .6 .2 0 1.2 .9 .6 .3 .6 .2 1.2 .4 .2-.1 .9-.2 1.1 .1 .1 .2 1.2 .2 .7-.1 .5 .2 1.2-.1 .3 0 .9 .2 1.1-.5 .1 .2 1.2 .2 .7-.1 .5 .2 1.2-.3 .3 .2 .9 .1 1.1-.1 .1 .1 1.2 .1 .7 0 .4-.1 1.2 0 .4 .2 .8-.4 1.2 .2 0-.2 1.2-.1 .8 0 .4-.1 1.2 .1 .4-.1 .8 .1 1.2 .1 0 .1 1.2 .2 .8 0 2 0 2-.2 2-.1 2-.1 2-.4 .2 .1 .4-.1 .4 0 .4-.2 .4 .1 .1 .1 .2 .1 .4-.1 .4-.1 .4-.2 .4 0 .2-.2 .2 .1 .4-.2 .4 .1 .3-.3 .4-.1 .3-.2 .1 0 .4-.3 .4-.7 .4-.5 .4-.3 .3-.7 .1-.1 .3-.9 .4-1.1 .4-1.9 .4-3.1 .4-4.6 0-.6 .4-6.9 .4-10.3 .4-13.9 .3-14 .4-6.2 .1 .4 .3 6 .4 13.7 .4 13.8 .4 10.5 .4 7.3 .1 2.3 .3 2.6 .3 2.8 .4 2.1 .4 1.2 .4 .8 .2 .3 .2 .6 .4 .5 .4 .5 .4 .4 .3 0 .3 .5 .1 0 .4-.1 .4 .1 .4 .3 .4 .1 .3 0 .1 .4 .4-.1 .3 .2 .4 0 .4 .2 .4-.1 .4-.1 .4 .2 .4 .1 .8 0 2 .1 2 .1 2 .1 2 .2 2 .1 2-.2 2-.2 2 0 2 0 2 .1 2 0 2 .1 2 .1 2-.3 2 .1 1.9 .2 2-.2 2-.1 2 0 2 .4 2-.2 2-.2 2 0 2 .2 2-.2 2-.1 2 .1 2 .2" fill="none" stroke="#00a95e" stroke-width="4.2" stroke-linejoin="round" clip-path="url(#ce)"/>
<path d="M1356.7 1371.4l2 .1 2 .1 2-.1 2 0 2 0 2 0 2 0 2 .1 2 .1 2 .1 2-.2 2-.1 1.9 .1 2-.1 2-.1 2 .3 2 0 2-.2 2 0 2 0 2 0 2 .1 2-.1 2-.2 2-.1 2 .2 2 .1 2-.3 2 .2 2 .1 2 .1 2-.1 2 .1 2-.2 2-.1 2 0 2 .1 2 0 2-.1 1.9 0 2 0 2 .2 2-.2 2 0 2 0 2 .1 2 .2 2 0 2-.2 2-.1 2 .3 2 0 2-.1 2 0 2 .1 2 .2 2-.2 2-.1 2-.1 2 .1 2 0 2 0 2 .1 2-.2 2 .3 1.9-.2 2 0 2 0 2 0 2 0 2-.1 2 .1 2 .2 2 0 2-.3 2 0 2 .2 2 0 2-.1 2 0 2 .2 2-.2 2 0 2 .1 2-.2 2 0 2 .3 2-.1 2 0 2-.3 2 .1 1.9-.1 2 0 2 0 2 .1 2 0 2 .2 2-.3 2 0 2 .2 2 0 2 .2 2-.2 2 .1 2 0 2-.2 2-.2 2 .4 2 .1 2-.1 2-.1 2-.3 2 .1 2 .1 2 .2 2-.1 2 0 2 0 1.9 .1 2 .1 2 .1 2-.1 2 0 2-.2 2-.1 2 0 2 .1 2-.3 2 .2 2 .3 2 0 2 .1 2-.3 2 .1 2-.2 2 .2 2-.1 2-.1 2-.1 2 .1 2 .2 2-.1 2 0 2-.1 1.9 .2 2-.1 2 0 2 0 2-.1 2 .1 2 0 2-.3 2 0 2-.1 2 0 .9 0 .4-.2 .4-.1 .3-.2 .1 0 .4 .2 .4-.1 .3 .1 .4-.1 .4-.2 0 0 .4-.2 .4 0 .4-.1 .4-.4 .4-.2 0 .2 .3-.2 .4-.5 .4-.1 .4-.1 .4-.7 .1-.1 .3-.4 .4-.7 .4-1 .3-1.6 .4-1.9 .2-1.2 .2-2.1 .4-5 .4-8 .4-11.5 .4-15.2 .2-8.8 .2-6.5 .3-6.7 .4 6.8 .4 15.1 .4 15.1 .3 8.7 .1 2.8 .4 8.2 .4 5.3 .4 2.9 .3 2.1 .4 1.3 0 .2 .4 .9 .4 .9 .4 .6 .4 .4 .4 .4 0-.1 .4 .5 .3 .1 .4 .2 .4 .2 .4 0 .1-.1 .3 .1 .4 .4 .4 .1 .4 0 .3 0 .2 .1 .2-.1 .4 .1 .4 0 .4-.1 .4 .1 .2 .3 2 .2 2 0 2 .1 2-.1 1.9 .1 2 0 2 0 2 .1 2 0 2 .3 2-.3 2 0 2 .1 2 0 2 .2 2-.1 2-.3 2 0 2-.2 2 .2 2 0 2 .2 2 .1 2-.2 2 .1 2 0 2 .2 2-.1 2-.1 2-.1 1.9 .1 2-.2 2 0 2 0 2-.1 2 .2 2-.2 2 .3 2-.1 2-.1 2 .4 2-.2 2-.1 2 0 2-.2 2 .1 2 .1 2 .2 2-.1 2 .1 2 0 2-.2 2 .2 2 0 2-.1 2 0 1.9 0 2 0 2 0 2-.1 2 .1 2 0 2 .1 2 .1 2-.2 2 0 2 0 2 0 2-.1 2 .2 2-.2 2 0 2 .1 2 0 2 0 2-.2 2-.1 2-.1 2 .1 2 .3 2 0 2 .2 2 0 1.9-.2 1.6-.3 .4-.1 .5 .1 .9 .2 .6 .2 .3-.1 .9-.1 .8 .2 .1 0 .9-.1 .9 .2 .1-.1 .8-.1 .8-.1 .4 .2 .5-.2 .9 .1 .6-.1 .3 .2 .9-.2 .8 .2 .1 .2 .9-.3 .9 .3 .1-.3 .8-.1 .9-.1 .3 .1 .6 0 .9 0 .5 .3 .4 0 .9-.2 .7-.1 .2-.1 .9 0 .9-.3 0-.1 .8-.2 .9 .1 .3-.1 .6-.3 .9-.5 .5 0 .4-.2 .9 .3 .7 .3 .2 .1 .9 .2 .9 .4 0 0 .9 .3 .9-.1 .2 0 .7 .4 .9-.1 .4-.1 .5 .1 .9 0 .6 .1 .3-.2 .9 .1 .8 .1 .1 0 .8-.3 .9 .2 .2 .1 .7 .1 .9-.3 .4 .2 .5-.1 .9-.1 .6 0 .3-.1 .9 .1 .8 0 .1 0 .9 .2 .9-.1 .1 .1 .8-.1 .9-.1 .2 .1 .7-.1 .9-.1 .4-.2 .5 .4 .9 .2 .6-.1 2 .1 2 .1 2 0 2-.2 2 .1 2 0 2-.1 2 .1 2 0 2 0 2-.1 2-.1 2 0 2 0 2 0 2 .1 2-.1 2 .2 2-.1 2 0 2 .2 2-.1 2-.1 2-.2 1.9 .2 2 .3 2-.4 2 .1 2 0 2 .1 2-.3 2 .1 2 0 2 .1 2 0 2 0 2-.2 2-.1 2 .2 2-.2 2 .2 2-.1 2 .3 2 0 2 0 2-.1 2 0 2 0 2 0 2 .1 1.9 0 2-.2 2-.2 .9 0 .9 .1 .2 .2 .7-.4 .9 0 .4 .3 .4 .1 .9-.3 .7 0 .2 0 .9 .2 .9-.2 .9 .1 .9-.2 .2 .1 .7 .1 .9 .1 .4-.2 .5 .1 .9 0 .6-.1 .3 .1 .9 .2 .8 0 .1-.2 .9 .2 .9-.2 .1 .1 .8 0 .9 .1 .3-.2 .5-.1 .9 .1 .6 0 .3-.2 .9 0 .8-.3 .1-.3 .9-.6 .9-.7 .1 0 .8-.8 .9-.2 .3 .1 .6 .2 .9 .7 .5 .5 .4 .3 .9 .5 .7 .3 .2-.1 .9 .1 .9 .2 0 0 .9 .2 .8 .2 .3 0 .6-.3 .9 .1 .5-.1 .4 .1 .9-.2 .7 .1 .2 .1 .9 .1 .9 0 0 .1 .9 0 .9-.3 .2 .4 .7-.1 .9-.1 .4-.1 .5 0 .9 .2 .6-.1 .3-.2 .9 .4 .7 0 .2-.2 .9 .1 .8 0 .1 .1 .8-.2 .9-.2 .3 .2 .6-.1 1.4 .1 2 .1 2 .2 2-.2 2-.2 2 .2 2 .2 2-.2 .7 0 1.2 0 .1 0 1.1 .1 .9 0 .3 0 1.2-.3 .5 .5 .7-.3 1.2-.2 .1-.1 1.1 .3 .9-.1 .3 .1 1.2-.2 .5 .1 .6-.2 1.2 .2 .2 0 1 0 1 0 .2 0 1.2-.2 .6 .2 .6-.1 1.2 .2 .2-.4 1 .1 1 .1 .2 0 1.2 0 .6 .1 .6-.3 1.2-.1 .2 .3 1-.2 1 .1 .2-.1 1.1 0 .7-.1 .5-.2 1.2-.7 .2 .1 1-.6 1-.9 .2-.3 1.2-.6 .6-.1 .6-.2 1.2 .5 .2 .2 1 .6 1 .8 .2 0 1.2 .7 .6 .3 .6 .2 1.2 .4 .2 0 .9 0 1.1-.2 .1 0 1.2 .1 .7 .2 .5-.1 1.2 0 .3 0 .9-.1 1.1-.2 .1 .1 1.2 .4 .7 .3 .5 .2 1.2-.2 .3-.1 .9-.3 1.1 .2 .1-.1 1.2 0 .7 0 .4-.1 1.2-.1 .4 .4 .8-.1 1.2-.1 0 0 1.2 .1 .8 0 .4 .1 1.2-.1 .4 .1 .8-.3 1.2-.1 0 .1 1.2 0 .8-.1 2-.1 2 .2 2 0 2 .1 2 .1 .2-.5 .4-.1 .4-.1 .4-.1 .4 .1 .1 0 .2-.1 .4 .1 .4-.2 .4 .2 .4-.2 .2 .1 .2-.3 .4-.1 .4 .1 .3-.5 .4 0 .3-.2 .1-.1 .4-.2 .4-.3 .4-.6 .4-.5 .3-.5 .1 0 .3-.8 .4-1.3 .4-1.6 .4-2.7 .4-4.3 0-.7 .4-6 .4-10.3 .4-12.6 .3-12.9 .4-5.8 .1 .4 .3 5.5 .4 12.7 .4 12.8 .4 9.8 .4 7 .1 1.9 .3 2.4 .3 2.7 .4 1.7 .4 1.2 .4 .8 .2 .5 .2 .1 .4 .5 .4 .5 .4 .4 .3 .2 .3 .3 .1 .1 .4 .1 .4 0 .4 .2 .4 0 .3 .1 .1 .1 .4 .2 .3 0 .4 .2 .4 .1 .4 0 .4-.1 .4 0 .4 0 .8 .2 2 .2 2 .2 2 0 2 .1 2-.1 2-.1 2 0 2 .2 2-.1 2 0 2-.2 2-.1 2 .1 2-.1 2 0 1.9 .1 2 .1 2 .1 2 0 2 .4 2-.4 2 .2 2 0 2-.3 2 .3 2-.1 2-.2 2 .1" fill="none" stroke="#be70e2" stroke-width="4.2" stroke-linejoin="round" clip-path="url(#ce)"/>
<path d="M1356.7 1289l2 .1 2 .1 2-.1 2 0 2 0 2-.1 2 .1 2-.1 2 .2 2 .1 2-.1 2 0 1.9 .1 2-.2 2-.1 2 .1 2-.2 2 .2 2 0 2-.1 2-.3 2 .2 2 .1 2 .1 2-.4 2 .2 2 .1 2 0 2-.1 2-.2 2 .3 2 0 2-.2 2 .2 2-.1 2 .1 2-.2 2 .1 2 0 1.9 .3 2-.3 2 0 2 .2 2 .1 2-.1 2-.1 2-.1 2-.1 2 .2 2 .1 2 .1 2 0 2 0 2 0 2-.2 2 .2 2 0 2-.2 2-.1 2 0 2 .2 2 0 2 .1 2 .2 2-.1 1.9 0 2-.1 2-.2 2 0 2 0 2 .1 2-.2 2 .3 2-.2 2-.1 2 0 2-.1 2 .1 2 .1 2 .2 2-.1 2 .1 2 0 2 0 2-.4 2 .2 2 0 2-.1 2 .1 2 .2 2 0 1.9-.1 2-.2 2 .1 2-.1 2 .1 2-.1 2 0 2 .1 2-.1 2-.2 2 .3 2 .1 2 0 2-.2 2 .1 2 .1 2 0 2-.1 2 .1 2-.1 2-.2 2 .1 2 0 2-.1 2 .2 2-.1 2 .2 1.9-.2 2 0 2 0 2 .1 2 0 2 0 2 0 2-.1 2 0 2-.1 2-.1 2 .4 2-.2 2 .1 2-.1 2 .2 2 0 2 .1 2-.1 2 0 2-.1 2-.2 2 .2 2 .1 2 0 2-.1 1.9-.1 2-.1 2 0 2 .1 2 .1 2-.1 2-.2 2-.2 2 0 2-.1 2 .1 .9 .1 .4 0 .4-.2 .3-.2 .1 .2 .4-.4 .4 0 .3-.3 .4 .1 .4 0 0 .2 .4-.2 .4-.1 .4-.1 .4-.2 .4-.2 0-.2 .3-.1 .4-.2 .4-.2 .4-.2 .4-.4 .1-.2 .3-.5 .4-.8 .4-.9 .3-1.5 .4-1.9 .2-1.2 .2-2 .4-4.9 .4-8.2 .4-11.3 .4-14.8 .2-8.9 .2-6.1 .3-6.5 .4 6.9 .4 14.7 .4 14.6 .3 8.6 .1 2.7 .4 8 .4 5.1 .4 3.4 .3 1.9 .4 1.1 0 .3 .4 .7 .4 .9 .4 .7 .4 .4 .4 .7 0 .1 .4-.1 .3 .2 .4 .2 .4 .1 .4 0 .1 .3 .3 .1 .4 .1 .4 .3 .4 .1 .3-.2 .2-.1 .2-.1 .4 .2 .4 .1 .4 .2 .4 0 .2 .1 2 .4 2-.2 2 0 2 .1 1.9 .2 2-.1 2-.2 2-.1 2 .1 2 0 2 0 2 .3 2-.1 2 .1 2 0 2 0 2-.1 2-.1 2 .4 2-.1 2-.1 2 0 2 .1 2-.3 2 0 2 .2 2 .1 2-.1 2-.2 2 .2 1.9 .1 2-.2 2 .1 2 0 2 0 2 .1 2 0 2-.1 2 .1 2 0 2 .1 2-.1 2-.1 2-.1 2 .1 2 0 2 0 2 0 2 0 2 .1 2-.3 2 .3 2 .1 2-.2 2-.1 2 0 1.9 0 2 0 2 .1 2 .2 2-.2 2 0 2 .1 2-.2 2 .1 2 .1 2 0 2-.1 2 .1 2-.1 2-.1 2 .1 2 0 2 .1 2-.2 2-.1 2 .1 2 0 2 .2 2 0 2-.1 2 .2 2-.2 1.9-.1 1.6 0 .4 .1 .5 .1 .9 .2 .6-.3 .3 .1 .9-.1 .8 0 .1-.1 .9 .1 .9-.1 .1 .1 .8 .1 .8 .1 .4-.2 .5 .2 .9 .1 .6-.3 .3 .1 .9-.2 .8 0 .1 0 .9 0 .9-.1 .1-.1 .8 .4 .9-.1 .3-.2 .6 0 .9 .2 .5 0 .4-.3 .9-.1 .7 .1 .2 0 .9 0 .9 0 0-.1 .8-.1 .9-.1 .3-.2 .6-.3 .9-.3 .5 0 .4 0 .9 .2 .7 0 .2 0 .9 0 .9 .6 0 0 .9 .4 .9-.2 .2 .2 .7 .1 .9 0 .4-.1 .5 .1 .9 0 .6-.1 .3 .1 .9 0 .8-.1 .1-.1 .8 .3 .9-.2 .2 0 .7 0 .9 .3 .4-.2 .5-.2 .9 .3 .6 .2 .3-.3 .9 .3 .8-.2 .1-.1 .9 .1 .9 0 .1 0 .8 .2 .9-.2 .2 .1 .7 .1 .9-.3 .4 .2 .5 .1 .9-.2 .6 .1 2-.2 2-.1 2 .1 2 .1 2 0 2 0 2-.2 2-.1 2 .4 2 0 2-.1 2-.1 2 .2 2 0 2 0 2 .1 2 0 2-.1 2-.1 2 .1 2-.2 2 0 2 0 2 0 1.9-.1 2 .2 2 0 2 .1 2 0 2 0 2 0 2 0 2-.2 2 0 2 0 2-.1 2-.1 2 .2 2 .1 2-.1 2 .1 2 .1 2-.2 2-.1 2 .1 2 .1 2 .1 2-.1 2 0 2 .1 1.9 .1 2-.3 2 .1 .9-.2 .9 0 .2 .3 .7-.1 .9 0 .4-.1 .4 .1 .9-.2 .7 .3 .2-.3 .9 .2 .9 .2 .9-.3 .9-.2 .2 .4 .7 0 .9-.1 .4-.3 .5 .1 .9 .2 .6-.1 .3-.1 .9-.2 .8 .1 .1-.2 .9 .5 .9 .1 .1-.2 .8 0 .9-.1 .3-.2 .5-.1 .9 0 .6 .2 .3 .1 .9-.2 .8-.4 .1 .2 .9-.8 .9-.8 .1-.2 .8-.6 .9-.3 .3 .2 .6 .4 .9 .7 .5 .2 .4 0 .9 .7 .7 .4 .2-.1 .9 .2 .9 .4 0-.1 .9 .1 .8-.1 .3 .1 .6 .2 .9 .1 .5-.2 .4 .2 .9 0 .7 0 .2-.2 .9 0 .9-.1 0 0 .9-.1 .9 .2 .2-.1 .7-.1 .9 .2 .4 .3 .5-.4 .9 0 .6 .1 .3 0 .9-.1 .7 .2 .2-.1 .9-.2 .8 .3 .1 .2 .8 0 .9-.3 .3-.1 .6 .3 1.4 0 2 0 2-.1 2 0 2 .2 2 0 2-.3 2 .2 .7-.1 1.2 0 .1 .2 1.1-.1 .9 0 .3-.1 1.2 .1 .5 0 .7 .1 1.2-.1 .1-.1 1.1 .1 .9-.1 .3 0 1.2 .1 .5-.3 .6 .3 1.2 0 .2-.3 1 0 1 .1 .2 0 1.2 .1 .6 .1 .6-.1 1.2-.1 .2 .1 1 0 1 0 .2 0 1.2-.1 .6-.1 .6-.1 1.2 0 .2 .1 1-.2 1 0 .2 .1 1.1-.2 .7-.1 .5-.4 1.2-.3 .2-.3 1-.5 1-.7 .2-.2 1.2-.6 .6-.3 .6-.1 1.2 .3 .2 .2 1 .6 1 1 .2-.3 1.2 .6 .6 .4 .6 .2 1.2 .4 .2 .2 .9 .2 1.1 .1 .1 .2 1.2-.2 .7 .2 .5-.1 1.2 0 .3-.1 .9 0 1.1 .1 .1-.3 1.2 .2 .7 0 .5-.1 1.2 .2 .3 .1 .9 .1 1.1-.3 .1-.1 1.2 .2 .7 .2 .4-.5 1.2 0 .4 .2 .8 .1 1.2-.3 0 .1 1.2 .1 .8-.1 .4 .1 1.2 .1 .4-.1 .8-.1 1.2 .1 0 0 1.2-.2 .8 0 2 .1 2 0 2-.1 2 0 2-.2 .2 0 .4-.1 .4 .1 .4-.2 .4 .3 .1-.1 .2-.2 .4-.2 .4 .2 .4 0 .4-.3 .2-.1 .2 0 .4 0 .4-.3 .3-.2 .4-.1 .3-.3 .1 .1 .4-.2 .4-.4 .4-.5 .4-.5 .3-.5 .1 0 .3-.9 .4-1.5 .4-2.1 .4-2.7 .4-4.4 0-.8 .4-6.9 .4-10.8 .4-13.7 .3-13.9 .4-6.3 .1 .5 .3 5.9 .4 14.1 .4 13.6 .4 10.6 .4 7.4 .1 2.1 .3 2.7 .3 2.9 .4 2.2 .4 1.2 .4 .7 .2 .4 .2 .3 .4 .4 .4 .5 .4 .2 .3 .4 .3 .2 .1 .1 .4 .1 .4 .3 .4 0 .4 .1 .3 0 .1 .2 .4 .1 .3 0 .4 .1 .4 .1 .4 0 .4 0 .4 .1 .4 .1 .8-.1 2 .4 2-.1 2 0 2 .2 2-.1 2-.1 2-.1 2 .3 2 .1 2 0 2-.2 2 0 2-.1 2 .1 2-.1 1.9 0 2 .1 2 .2 2-.1 2 .1 2-.2 2 .3 2 .1 2-.1 2-.4 2 0 2 .1 2 0" fill="none" stroke="#dc9800" stroke-width="4.2" stroke-linejoin="round" clip-path="url(#ce)"/>
<path d="M1356.7 1208.3l2-.1 2-.2 2 0 2 .1 2 .2 2-.3 2-.1 2 .2 2 .1 2-.1 2 .3 2-.1 1.9-.1 2 .1 2-.1 2 .3 2-.2 2 .2 2 0 2-.2 2 0 2-.1 2 0 2 0 2-.2 2 .2 2 .1 2-.3 2 .1 2 0 2 .1 2 0 2 0 2-.1 2 .3 2-.1 2 .1 2-.1 2-.1 1.9 .1 2 0 2-.2 2-.1 2 .1 2 0 2 0 2 .1 2-.1 2 0 2 .1 2-.2 2 0 2 .1 2 0 2 0 2 .3 2 0 2-.1 2 0 2-.1 2-.1 2 0 2 .2 2 0 2-.1 1.9 0 2 0 2 0 2-.1 2 .1 2 .1 2-.1 2-.1 2-.1 2 .3 2 0 2-.2 2-.2 2 .2 2 .1 2 .1 2-.1 2 .1 2 0 2-.1 2 .1 2 0 2-.2 2 .2 2-.1 2-.2 1.9 .1 2 0 2 .1 2 .1 2-.1 2 .1 2 0 2 .2 2-.3 2 .2 2 .1 2-.2 2-.1 2 .1 2 .2 2-.2 2-.1 2 0 2 0 2-.1 2-.3 2 .4 2 .2 2-.2 2 .1 2 0 2-.2 1.9-.1 2 .4 2-.1 2 0 2-.1 2-.1 2-.1 2 .1 2 0 2 0 2 .2 2-.2 2-.1 2 .3 2-.1 2 0 2 .1 2 0 2 .1 2-.1 2 .1 2-.1 2 0 2-.1 2 0 2-.1 1.9 .4 2-.4 2-.1 2-.2 2-.1 2 0 2 .2 2 0 2 .1 2 .1 2-.3 .9-.2 .4-.2 .4 .1 .3 0 .1 0 .4-.2 .4 .2 .3-.1 .4 .2 .4 0 0-.1 .4-.2 .4 0 .4-.4 .4 .2 .4-.2 0 .1 .3-.1 .4-.2 .4-.3 .4-.4 .4-.3 .1-.3 .3-.5 .4-.6 .4-.7 .3-1.1 .4-1.6 .2-1 .2-1.6 .4-4 .4-6.6 .4-9.4 .4-12.2 .2-7.2 .2-5.3 .3-5.5 .4 5.6 .4 12.2 .4 12.5 .3 6.9 .1 2.4 .4 6.4 .4 4.2 .4 2.8 .3 1.4 .4 1.2 0 .2 .4 .9 .4 .4 .4 .4 .4 .3 .4 .3 0 .2 .4 .2 .3 .4 .4-.1 .4 .2 .4-.2 .1 .3 .3-.1 .4 .4 .4 .1 .4-.2 .3 .4 .2 0 .2-.1 .4 0 .4 .1 .4-.1 .4 .3 .2-.1 2 .2 2-.1 2-.1 2 .2 1.9 0 2-.1 2 .1 2 .1 2-.1 2 .1 2-.1 2-.1 2 0 2 .1 2-.1 2 .2 2 .2 2-.3 2-.2 2 .1 2 0 2 .3 2-.1 2 .2 2-.1 2 0 2-.1 2-.1 2 .2 2-.2 1.9 .1 2-.1 2 .1 2 0 2 .1 2 0 2-.1 2 0 2-.1 2 0 2 .1 2 .2 2-.2 2 0 2 .2 2-.2 2-.1 2 .2 2 0 2-.1 2-.1 2-.2 2 .1 2 0 2 .2 2-.2 1.9 .2 2 .2 2 0 2-.2 2 .1 2-.1 2 .3 2-.2 2-.1 2 .1 2 .1 2-.3 2 0 2 0 2-.2 2 .1 2 .2 2-.1 2 .2 2 0 2-.3 2-.1 2 .3 2-.1 2 0 2 .3 2-.2 1.9 0 1.6-.2 .4 .2 .5-.2 .9 .2 .6 0 .3-.3 .9 .1 .8 .1 .1 .2 .9-.1 .9-.1 .1 0 .8 .1 .8 0 .4-.1 .5-.1 .9 .2 .6 0 .3 0 .9 0 .8-.2 .1 .3 .9-.1 .9 0 .1-.1 .8 .2 .9 .2 .3 0 .6-.3 .9 0 .5-.1 .4-.1 .9-.1 .7 .5 .2-.3 .9-.2 .9 .1 0-.1 .8-.1 .9-.1 .3-.3 .6-.3 .9-.2 .5 0 .4-.1 .9 .2 .7 0 .2 .1 .9 .3 .9 .3 0-.1 .9 .3 .9 .1 .2 0 .7 .2 .9-.2 .4 .3 .5 .1 .9-.1 .6-.1 .3-.2 .9 .1 .8 .1 .1-.1 .8 .1 .9-.1 .2 .1 .7 0 .9 .1 .4 .2 .5-.1 .9-.2 .6 .2 .3-.2 .9 .1 .8-.3 .1 .2 .9-.2 .9-.2 .1 .1 .8 .4 .9-.1 .2-.1 .7 .3 .9-.2 .4-.1 .5 .1 .9 0 .6-.1 2 .1 2 .3 2-.4 2 0 2-.1 2 0 2 0 2-.1 2 .1 2 .2 2 0 2-.1 2 0 2 .1 2 .2 2-.1 2-.1 2 0 2-.1 2 .3 2 0 2-.2 2-.1 2 .2 1.9-.1 2-.1 2 0 2-.2 2-.1 2 .2 2-.1 2 .5 2-.1 2 0 2 .2 2 0 2-.2 2 .2 2 0 2-.1 2 .1 2 0 2-.1 2 0 2-.2 2 .1 2 .1 2-.1 2-.3 2 .2 1.9 .3 2-.2 2-.1 .9 0 .9 0 .2 0 .7-.1 .9-.2 .4 .3 .4-.1 .9 .1 .7-.1 .2 .2 .9-.1 .9-.2 .9-.1 .9 .3 .2-.1 .7 .1 .9-.1 .4-.1 .5-.1 .9-.2 .6 .3 .3 .3 .9-.2 .8-.1 .1 .2 .9 .2 .9-.4 .1 .2 .8-.1 .9-.1 .3 0 .5-.2 .9 0 .6 0 .3-.1 .9-.2 .8-.1 .1 0 .9-.8 .9-.6 .1 0 .8-.7 .9-.3 .3 0 .6 .5 .9 .6 .5 .1 .4 .4 .9 .4 .7 .7 .2-.1 .9 .2 .9 0 0-.1 .9 .4 .8 0 .3 .1 .6-.1 .9 .2 .5-.1 .4-.1 .9 .1 .7 .1 .2 0 .9-.1 .9 0 0 .1 .9-.2 .9 0 .2 0 .7-.1 .9-.1 .4 .1 .5 .1 .9 .2 .6 0 .3-.1 .9 0 .7-.1 .2-.2 .9 .1 .8 0 .1 .1 .8 .2 .9 0 .3 .1 .6-.4 1.4 0 2 .1 2-.1 2 .2 2-.1 2-.1 2 .1 2 0 .7-.3 1.2 .2 .1 0 1.1 .2 .9 .2 .3-.1 1.2 0 .5-.1 .7 0 1.2 0 .1 0 1.1 0 .9 .2 .3-.3 1.2-.2 .5 .1 .6 .1 1.2-.1 .2 .1 1 .1 1 0 .2 .1 1.2 0 .6 0 .6-.1 1.2-.2 .2 .2 1-.2 1 0 .2 .1 1.2 .3 .6-.2 .6-.2 1.2 .1 .2-.1 1-.2 1 .1 .2 0 1.1-.2 .7-.1 .5-.1 1.2-.5 .2-.3 1-.8 1-.8 .2 0 1.2-.7 .6-.3 .6 0 1.2 .6 .2 .1 1 .8 1 .5 .2 0 1.2 .7 .6 .3 .6 .4 1.2 .3 .2 0 .9 .2 1.1 .1 .1-.1 1.2-.1 .7 0 .5 .3 1.2 0 .3-.2 .9-.2 1.1 .1 .1 .1 1.2 .1 .7 0 .5 0 1.2 .1 .3 .2 .9 0 1.1-.1 .1-.1 1.2-.2 .7 0 .4 .3 1.2-.1 .4-.4 .8 .1 1.2 0 0 .3 1.2 0 .8-.2 .4 0 1.2 0 .4-.1 .8-.1 1.2 .2 0-.1 1.2 0 .8 .1 2 .1 2-.1 2 0 2-.3 2 .1 .2-.2 .4 .1 .4 .1 .4-.2 .4-.2 .1 0 .2 .1 .4-.2 .4 0 .4 0 .4 0 .2-.1 .2-.2 .4 .2 .4-.3 .3-.1 .4-.2 .3 0 .1 0 .4-.3 .4-.2 .4-.4 .4-.3 .3-.8 .1 .2 .3-.6 .4-1.1 .4-1.6 .4-2.3 .4-3.7 0-.4 .4-5.4 .4-8.7 .4-10.5 .3-11.1 .4-5.2 .1 .4 .3 4.5 .4 11.1 .4 10.9 .4 8.6 .4 6.1 .1 1.5 .3 1.9 .3 2.4 .4 1.4 .4 1.1 .4 .7 .2 .4 .2 .3 .4 .2 .4 .5 .4 .3 .3 .3 .3 .1 .1 0 .4 0 .4 .1 .4 .2 .4 .3 .3 0 .1-.1 .4 .2 .3 0 .4 0 .4-.1 .4-.2 .4 .1 .4 .4 .4-.1 .8 .2 2 .1 2 .2 2-.1 2 0 2-.1 2 .2 2-.1 2-.1 2 .3 2 0 2-.1 2-.2 2 .2 2-.2 2 .3 1.9 0 2 .2 2-.1 2 .3 2-.1 2-.1 2-.3 2 .1 2 0 2-.1 2 0 2 0 2-.2" fill="none" stroke="#00cccc" stroke-width="4.2" stroke-linejoin="round" clip-path="url(#ce)"/>
<line x1="2125.8" y1="1069.8" x2="2125.8" y2="1135" stroke="#000" stroke-width="2.6" stroke-dasharray="4 4"/>
<line x1="2125.8" y1="1198" x2="2125.8" y2="1725" stroke="#000" stroke-width="2.6" stroke-dasharray="4 4"/>
<rect x="1909.5" y="1303.7" width="159" height="306.1" fill="#fff" stroke="#222" stroke-width="2.2"/>
<line x1="1914" y1="1329.5" x2="1980.2" y2="1329.5" stroke="#00cccc" stroke-width="9" stroke-linecap="round"/>
<text x="2033" y="1341.5" font-size="38" text-anchor="end" stroke="#000" stroke-width="1.2">76</text>
<text x="2043.3" y="1341.5" font-size="38">d</text>
<line x1="1914" y1="1372" x2="1980.2" y2="1372" stroke="#dc9800" stroke-width="9" stroke-linecap="round"/>
<text x="2033" y="1384" font-size="38" text-anchor="end" stroke="#000" stroke-width="1.2">45</text>
<text x="2043.3" y="1384" font-size="38">d</text>
<line x1="1914" y1="1414.5" x2="1980.2" y2="1414.5" stroke="#be70e2" stroke-width="9" stroke-linecap="round"/>
<text x="2033" y="1426.5" font-size="38" text-anchor="end" stroke="#000" stroke-width="1.2">14</text>
<text x="2043.3" y="1426.5" font-size="38">d</text>
<line x1="1914" y1="1457" x2="1980.2" y2="1457" stroke="#00a95e" stroke-width="9" stroke-linecap="round"/>
<text x="2033" y="1469" font-size="38" text-anchor="end" stroke="#000" stroke-width="1.2">8</text>
<text x="2043.3" y="1469" font-size="38">d</text>
<line x1="1914" y1="1499.5" x2="1980.2" y2="1499.5" stroke="#0068e0" stroke-width="9" stroke-linecap="round"/>
<text x="2033" y="1511.5" font-size="38" text-anchor="end" stroke="#000" stroke-width="1.2">5</text>
<text x="2043.3" y="1511.5" font-size="38">d</text>
<line x1="1914" y1="1542" x2="1980.2" y2="1542" stroke="#ff3838" stroke-width="9" stroke-linecap="round"/>
<text x="2033" y="1554" font-size="38" text-anchor="end" stroke="#000" stroke-width="1.2">1</text>
<text x="2043.3" y="1554" font-size="38">d</text>
<line x1="1914" y1="1584.5" x2="1980.2" y2="1584.5" stroke="#4d4d4d" stroke-width="9" stroke-linecap="round"/>
<text x="2033" y="1596.5" font-size="38" text-anchor="end" stroke="#000" stroke-width="1.2">0</text>
<text x="2043.3" y="1596.5" font-size="38">d</text>
<rect x="1356.7" y="1067.8" width="894.3" height="658.2" fill="none" stroke="#262626" stroke-width="2.6"/>
<line x1="1344.7" y1="1709.5" x2="1356.7" y2="1709.5" stroke="#262626" stroke-width="2.2"/>
<text font-size="42" text-anchor="end" fill="#1a1a1a" transform="translate(1332.2 1721.7) scale(1 1.08)">0</text>
<line x1="1350.7" y1="1671.8" x2="1356.7" y2="1671.8" stroke="#262626" stroke-width="2.2"/>
<line x1="1344.7" y1="1634.1" x2="1356.7" y2="1634.1" stroke="#262626" stroke-width="2.2"/>
<text font-size="42" text-anchor="end" fill="#1a1a1a" transform="translate(1332.2 1646.3) scale(1 1.08)">10k</text>
<line x1="1350.7" y1="1596.4" x2="1356.7" y2="1596.4" stroke="#262626" stroke-width="2.2"/>
<line x1="1344.7" y1="1558.7" x2="1356.7" y2="1558.7" stroke="#262626" stroke-width="2.2"/>
<text font-size="42" text-anchor="end" fill="#1a1a1a" transform="translate(1332.2 1571) scale(1 1.08)">20k</text>
<line x1="1350.7" y1="1521" x2="1356.7" y2="1521" stroke="#262626" stroke-width="2.2"/>
<line x1="1344.7" y1="1483.3" x2="1356.7" y2="1483.3" stroke="#262626" stroke-width="2.2"/>
<text font-size="42" text-anchor="end" fill="#1a1a1a" transform="translate(1332.2 1495.6) scale(1 1.08)">30k</text>
<line x1="1350.7" y1="1445.6" x2="1356.7" y2="1445.6" stroke="#262626" stroke-width="2.2"/>
<line x1="1344.7" y1="1407.9" x2="1356.7" y2="1407.9" stroke="#262626" stroke-width="2.2"/>
<text font-size="42" text-anchor="end" fill="#1a1a1a" transform="translate(1332.2 1420.2) scale(1 1.08)">40k</text>
<line x1="1350.7" y1="1370.2" x2="1356.7" y2="1370.2" stroke="#262626" stroke-width="2.2"/>
<line x1="1344.7" y1="1332.5" x2="1356.7" y2="1332.5" stroke="#262626" stroke-width="2.2"/>
<text font-size="42" text-anchor="end" fill="#1a1a1a" transform="translate(1332.2 1344.8) scale(1 1.08)">50k</text>
<line x1="1350.7" y1="1294.9" x2="1356.7" y2="1294.9" stroke="#262626" stroke-width="2.2"/>
<line x1="1344.7" y1="1257.2" x2="1356.7" y2="1257.2" stroke="#262626" stroke-width="2.2"/>
<text font-size="42" text-anchor="end" fill="#1a1a1a" transform="translate(1332.2 1269.4) scale(1 1.08)">60k</text>
<line x1="1350.7" y1="1219.5" x2="1356.7" y2="1219.5" stroke="#262626" stroke-width="2.2"/>
<line x1="1344.7" y1="1181.8" x2="1356.7" y2="1181.8" stroke="#262626" stroke-width="2.2"/>
<text font-size="42" text-anchor="end" fill="#1a1a1a" transform="translate(1332.2 1194) scale(1 1.08)">70k</text>
<line x1="1350.7" y1="1144.1" x2="1356.7" y2="1144.1" stroke="#262626" stroke-width="2.2"/>
<line x1="1344.7" y1="1106.4" x2="1356.7" y2="1106.4" stroke="#262626" stroke-width="2.2"/>
<text font-size="42" text-anchor="end" fill="#1a1a1a" transform="translate(1332.2 1118.6) scale(1 1.08)">80k</text>
<line x1="1350.7" y1="1068.7" x2="1356.7" y2="1068.7" stroke="#262626" stroke-width="2.2"/>
<line x1="1356.7" y1="1726" x2="1356.7" y2="1739" stroke="#262626" stroke-width="2.4"/>
<text x="1356.7" y="1780.3" font-size="45.5" text-anchor="middle" fill="#1a1a1a">5</text>
<line x1="1392.5" y1="1726" x2="1392.5" y2="1731" stroke="#262626" stroke-width="2.4"/>
<line x1="1428.2" y1="1726" x2="1428.2" y2="1731" stroke="#262626" stroke-width="2.4"/>
<line x1="1464" y1="1726" x2="1464" y2="1731" stroke="#262626" stroke-width="2.4"/>
<line x1="1499.8" y1="1726" x2="1499.8" y2="1731" stroke="#262626" stroke-width="2.4"/>
<line x1="1535.6" y1="1726" x2="1535.6" y2="1739" stroke="#262626" stroke-width="2.4"/>
<text x="1535.6" y="1780.3" font-size="45.5" text-anchor="middle" fill="#1a1a1a">10</text>
<line x1="1571.3" y1="1726" x2="1571.3" y2="1731" stroke="#262626" stroke-width="2.4"/>
<line x1="1607.1" y1="1726" x2="1607.1" y2="1731" stroke="#262626" stroke-width="2.4"/>
<line x1="1642.9" y1="1726" x2="1642.9" y2="1731" stroke="#262626" stroke-width="2.4"/>
<line x1="1678.6" y1="1726" x2="1678.6" y2="1731" stroke="#262626" stroke-width="2.4"/>
<line x1="1714.4" y1="1726" x2="1714.4" y2="1739" stroke="#262626" stroke-width="2.4"/>
<text x="1714.4" y="1780.3" font-size="45.5" text-anchor="middle" fill="#1a1a1a">15</text>
<line x1="1750.2" y1="1726" x2="1750.2" y2="1731" stroke="#262626" stroke-width="2.4"/>
<line x1="1786" y1="1726" x2="1786" y2="1731" stroke="#262626" stroke-width="2.4"/>
<line x1="1821.7" y1="1726" x2="1821.7" y2="1731" stroke="#262626" stroke-width="2.4"/>
<line x1="1857.5" y1="1726" x2="1857.5" y2="1731" stroke="#262626" stroke-width="2.4"/>
<line x1="1893.3" y1="1726" x2="1893.3" y2="1739" stroke="#262626" stroke-width="2.4"/>
<text x="1893.3" y="1780.3" font-size="45.5" text-anchor="middle" fill="#1a1a1a">20</text>
<line x1="1929.1" y1="1726" x2="1929.1" y2="1731" stroke="#262626" stroke-width="2.4"/>
<line x1="1964.8" y1="1726" x2="1964.8" y2="1731" stroke="#262626" stroke-width="2.4"/>
<line x1="2000.6" y1="1726" x2="2000.6" y2="1731" stroke="#262626" stroke-width="2.4"/>
<line x1="2036.4" y1="1726" x2="2036.4" y2="1731" stroke="#262626" stroke-width="2.4"/>
<line x1="2072.1" y1="1726" x2="2072.1" y2="1739" stroke="#262626" stroke-width="2.4"/>
<text x="2072.1" y="1780.3" font-size="45.5" text-anchor="middle" fill="#1a1a1a">25</text>
<line x1="2107.9" y1="1726" x2="2107.9" y2="1731" stroke="#262626" stroke-width="2.4"/>
<line x1="2143.7" y1="1726" x2="2143.7" y2="1731" stroke="#262626" stroke-width="2.4"/>
<line x1="2179.5" y1="1726" x2="2179.5" y2="1731" stroke="#262626" stroke-width="2.4"/>
<line x1="2215.2" y1="1726" x2="2215.2" y2="1731" stroke="#262626" stroke-width="2.4"/>
<line x1="2251" y1="1726" x2="2251" y2="1739" stroke="#262626" stroke-width="2.4"/>
<text x="2251" y="1780.3" font-size="45.5" text-anchor="middle" fill="#1a1a1a">30</text>
<text font-size="46" text-anchor="middle" transform="translate(1644.6 1136.9) rotate(-90)">(111)</text>
<text x="2126.5" y="1177.2" font-size="46" text-anchor="middle" font-weight="bold">#</text>
<text font-size="44" text-anchor="middle" transform="translate(2231.4 1139.6) rotate(-90) scale(1 1.02)">(202)</text>
<text font-size="50.2" text-anchor="middle" fill="#1a1a1a" transform="translate(1233.1 1401.5) rotate(-90)">Intensity (a.u.)</text>
<text x="1802.5" y="1854.7" font-size="48" text-anchor="middle" fill="#1a1a1a" letter-spacing="0.3">2 Theta (°)</text>
<clipPath id="cc"><rect x="183.2" y="2025" width="894.4" height="658"/></clipPath>
<text x="153" y="1964" font-size="88" font-family="'Liberation Serif', 'Times New Roman', serif">(c) n=3</text>
<path d="M183.2 2639.3l1.6 1.3 1.6-.7 1.6-.1 1.6-2.9 1.6 4.6 1.6 .6 1.6-.4 1.6-.9 1.6-.2 1.6 2.2 1.6 .8 1.6-.9 1.6-1.4 1.6 1.8 1.5 2.3 1.6-4.7 1.6 2.9 1.6-3.4 1.6 .4 1.6 4.7 1.6-5.2 1.6 1.1 1.6-1.6 1.6 3.3 1.6-2.6 1.6 1.2 1.6 1.5 1.6-.8 1.6 3.9 .6-3.6 1-.5 .5 1.7 1.1-1.6 .5 .1 1.1-.9 .5 1.4 1.1 1.2 .4-2.3 1.2 .6 .4-.9 1.2 .1 .4 2.9 1.2-3.9 .3-.1 1.3 .1 .3-.4 1.3 3.3 .2 1 1.4-3.6 .2 3.9 1.4 .1 .2-2.1 1.4 .6 .1-1.1 1.5 2.6 .1-1.2 1.5-.1 .1-1.3 1.5 .5 0 3.7 1.6-3.3 0 1.7 1.5-3.7 0 2.8 1.6 1.9 0-1.7 1.6-.3 0-1.2 1.5 1.4 .1 1 1.5-1.6 .1 .2 1.5-1 .1 .4 1.4 2.6 .2-5.2 1.4 .4 .2-2.3 1.3 2 .3-3.3 1.3-.9 .3-2.8 1.3-.2 .3-1.5 1.2-5.9 .4-1.8 1.2-3.9 .4-1.4 1.2 .5 .4-2.1 1.1 1.9 .5 1.6 1.1 5.3 .5-1.2 1 8.5 .6 .8 1 2.9 .6 1.2 1 2.1 .6 1.3 .9 1.4 .7-.7 .9-2.9 .7 5.9 .9-1.2 .7 .2 .8 3.2 .8-.7 .8-2.2 .8 1.9 .7-1.3 .9-1.9 .7 2.6 .9-.6 .7 .4 .9-2.5 .6 .5 1 1.1 .6 2.1 1 .6 .6-1.2 1 .2 .5-2.2 1 2.2 .6 0 1 .9 .6-3.2 1 1.9 .5 1.9 1.1-.4 .5 0 1.1 0 .4-1 1.2-1.8 .4 1.8 1.2-.7 .4 2.8 1.2-2.1 .3 2.6 1.3-1.6 .3-2.6 1.3 2.9 .3-1.4 1.3 .8 .2-.5 1.4-.8 .2 .6 1.4 1.3 .1-.1 1.5-.8 1.5 .2 .1-.7 1.6 4.1 .7-2.6 .9-2.8 1.6 3.9 0-2.1 1.6 .6 .8-3.3 .8 1.5 1.6 1.5 0 2.2 1.6 1.1 .9-3.4 .7 1.4 1.6-.5 .1 2.3 1.5-3.1 1 2.8 .6-4.5 1.6-.3 .2 4.2 1.4-4.8 1 3.5 .6 .3 1.6 .7 .3-.8 1.3 .6 1.1-.3 .4-.8 1.6-1.1 .5 1.5 1.1 1.9 1.3-1.4 .3 1.1 1.6-1.7 .6 .7 1 2.7 1.4-4.1 .2-.2 1.6 3 .6-.1 1-1.2 1.5-1.5 .1 .4 1.6 2.3 .7-.1 .9-1.1 1.6 2.1 0-2.8 1.6-1.1 .8 3.6 .8-3.8 1.6 5.1 0-.1 1.6-3.9 .9-.6 .7-1.1 1.6 3.1 .1-1.1 1.5 2.7 1-3.7 .6 2.7 1.6-3 .2 .3 1.4 .5 1.1-.2 .5 .3 1.6 .6 .3-2.4 1.3 1.4 1.1-2.3 .5 1.5 1.6-2.8 .4 .8 1.2 2.1 1.2-.7 .4-3.4 1.6-.4 .5 .9 1 4.8 1.4-3.5 .2 2.4 1.6 1.2 .6-.5 1-1.4 1.5 .5 .1 1 1.6 4.1 .7-2.6 .9 .1 1.6 .7 0 4.7 1.6-4.6 .8 .1 .5-.6 .3-.5 1.5 4.2 .1-.8 .1-3.8 1.5 3.2 0-2.9 .9 4.4 .7-3.8 .2 .3 1.4 .2 .1 4 .2-5.8 1.3-.6 .5 3.9 .5 .8 .6-3 .6-2.3 1 4.1 .2-1.8 .6 3.8 .8-3.5 1 .8 .1 1.9 .5-6.2 1.1 2.3 .5 1.8 .3-.3 1 1 .3-.3 1.1-1.4 .3 1.5 .2 .5 1.6-3.2 0 5.3 .4-1.2 1.2-1.9 .2 1.3 1-1.3 .4 1.2 .3 1 1.3 2.1 .5-3.5 1.1 .1 .6 .1 .7 .8 .3-1.4 .8 2 .8-.5 .6-.3 .3-4.2 .7 5.6 1.1-2.5 .3 4.2 .2-1.2 1.3-.2 .2-.3 .7 0 .8 .1 .1 1.1 1.6-1.9 0-1.5 .1 2.9 1.5-2.6 .2 3 .6-2.1 .8-2.5 .4 2.1 1.2-2.2 .1 1.4 .5 1.6 1-3.8 .7 .8 .2-3.1 .7 2.1 .9 1.7 .7-3.1 .1-1.6 .9-.7 .6-1.1 1 2 .2-2.7 .4-.7 1.3 2.6 .3-1.1 .2-2.4 1.3 1.4 .1 2.9 1.1 1.9 .5-2.2 .1 .8 1.5 .8 .2-.6 1.4 3.4 .4-.3 1.2 3.1 .5-.9 1.1 .2 .7-2.1 .9 4.2 .8-.9 .8-1.6 1 3.8 .6-4.8 1.2 .9 .4 2.2 1.3-.8 .3 .8 1.5-.4 .1-1.6 1.6 2.7 0 .9 1.6-2.3 .2-.9 1.4 .8 .4-2.6 1.2 .4 .5 2 1.1-.6 .7 3.7 .9-1.6 .8-3.4 .7 1.5 1.1 .9 .5 2.5 1.2-3.9 .4 .2 1.4 3.6 .2-4.2 1.6 1.7 0 .2 1.6-1.7 .1-1.5 1.5 5.5 .3-2.7 1.3-.4 .4 1 1.2 2 .6 0 1-1.6 .7-.4 .9 1.1 .9-.7 .7 .8 1.1-.8 .5 1.9 1.2-2.2 .4 .5 1.4-4.8 .2 5.2 1.6-1 1.6-2.1 1.6 2.7 1.6-.4 1.6-.1 1.6 1.3 1.6-.6 1.6 .1 1.6-1.7 1.6 .6 1.6-.1 1.6 3.5 1.6-.6 1.6 .4 1.6-.7 1.6-4.5 1.5 4.5 1.6-2.2 1.6 .1 1.6 2.1 1.6-1.5 1.6 1.9 1.6-1.6 1.6 1 1.6 .9 1.6-.6 1.6 .2 1.6-.1 1.6-.7 1.6-.6 1.6-.7 1.6 1.3 1.6 1.6 1.6 .4 1.6-2.6 1.6 2.2 1.6-1.1 1.6-1.3 .6 3.1 1-4.7 1 3.5 .6 .5 1.3-2.5 .3 3.1 1.6-1.6 .1-1.1 1.5 1.6 .4-1.5 1.2 2.4 .8-1.5 .8-.6 1.1 2.3 .5-2.4 1.5 1.3 .1-1.8 1.5 1.7 .3 2.5 1.3-1.3 .7-1.4 .9 2.2 1-2.6 .6 1.5 1.4-2.1 .2 1.6 1.6-2.5 .1 .5 1.5 .1 .5 .7 1.1-.7 .9 3 .7-1.3 1.2-.2 .4 .7 1.6-.1 0-.3 1.6-3.1 .3 2.2 .8 .2 .5-1.7 .7 2.5 .2 2.3 .7-3.3 .6-.3 .4 1.2 .6-1.7 .4 0 1 5.5 .2-5.2 .2 2.6 1.3-4.4 .1 3.9 .1-.3 1.2 0 .3-.8 .5 2.5 .6-4.2 .5-1.2 .8-.6 .8 3 .6-2.9 .6 3.1 .4-1.5 .4 .8 1.1-2.6 .1 2.7 .1 .1 1.4-2.6 .1-2.1 .3 1.7 1-2.2 .3 1.6 .7 .6 .3-2.5 .6-.5 .8 .2 .2-1.4 .6 2 .6-1.3 .8-3.3 .2 .9 .3-4.6 1.3 5.3 .1-.8 1.4 .6 .1-2.3 .5-2.2 .7 2.1 .4 .9 .8 1.6 .2-.4 .6-2.8 .8 1 .4-1 .3 3.3 .6-2.3 1-2.4 0 .9 .4-1.6 .6-2.1 .6-4.5 .2 1.5 .2-3 1-6.3 .2-3.1 0-1.6 .7-9.5 .6-6.1 .3-5.5 .1-.9 1-14.6 .5-5.3 .5-9.9 .4-7.3 .5-2.7 .2 1.5 .6-2.9 .2-2.3 .8 6.1 .2 1.8 .2 4 .8 8.3 .4 4.8 .2 4.5 .3 6.4 1 14.6 .1 .3 .9 14.3 .4 2.3 .3 3.6 .3 1.9 .8 7.1 .1 2.8 .4 1.4 .6 2.3 .2 2.2 .8-1.8 0 3.1 .6-.4 .4 2.6 .6-.9 .4 .2 .9 1.3 .3 .4 .1 1.6 .6 1.7 .8-1.7 .1-1 .1 1.9 1-.8 .2 1.4 .3 .9 .4-.5 .6 .4 .4-4.6 .2 4.1 .8-1.4 .8-.2 .2 2.6 .4-1.1 .5-.5 .5 1.5 .3-1.2 .2-.3 1 .9 .1 .7 .1-.3 .8-.1 .6-2 .1 2.9 .3-2.3 .9-.4 .4 .4 .6-1.2 .4 .6 .6 2.5 0-1.3 .8 2 .2 .6 .6-3 .3-.9 .2 1.1 .8-2.2 .3 1.2 .3-1.3 .4 0 .9 .3 .1-1.1 .9-.4 .4 4.5 .2-5.4 .4-.5 .8-2.1 .2 1.2 .2 2.1 .8-2.2 .2 .7 .6-1.6 .2 1.2 .5-3.6 .4-1.5 .4-1.8 .6-.2 1-6.2 0 3.6 .4-5.3 .6-.4 .6-8 .3-1 1-8.5 .3-1.7 .7-10 .9-12.2 1-15 .6-11.9 1.4-25.8 .2-3.5 1.6-30.6 .1-.4 1.5-14.5 .5 3 1.1 1.4 .9 8.4 .7 18.2 1.2 18.2 .4 6.4 1.6 30.7 0 .2 1.6 24 .3 5.3 1.3 14.4 .7 7.5 .9 3.4 1 8 .6-1.2 1.4 7.7 .2-.5 1.6 3.5 .1-1.6 1.5 4.4 .5-.4 1.1 1.1 .8 1 .8-.5 1.2 3.3 .4-1.1 1.5-.5 .1 1.3 1.6 1.3 .3-.4 1.3 1.9 .6-2.8 1 .3 1 1.1 .6-.4 1.4 .3 .2 .7 1.6 2.4 .1-1.8 1.5 3.2 .5-2.4 1-3.9 .9 2.9 .7-1.7 1.3 2.5 .3-.7 1.6 .7 0 .7 1.6 .9 .4 .2 1.2 .3 .7-1.4 .9 .5 1.1 1.9 .5-4.8 1.4 3.9 .2-2.4 1.6 1.2 .2 1.4 1.4-1.8 .5 4.1 1.1-3.7 .9-1.9 .7 2.1 1.2 .2 .4-2.3 1.6 2.1M784.6 2661.4l.8-1.9 .8 1.2 1.1-.4 .5-.1 1.5-1 .1-.7 1.6 1.3 .2 1.3 1.4 .9 .6-1.4 1 1.6 .9-2.8 .6 1.2 1.4-2.2 .2 1 1.6 .5 .2-.1 1.4-.8 .5 5.6 1.1-3.8 .9-2.4 .7 1.2 1.2 1.2 .2-1.5 .2-3.1 1.6 3.5 0-.6 .2 1.6 1.4-.3 .3-1.1 .2 .3 1.1 1.6 .7-2.8 .2 2.8 .7-1.7 1 1 .2 1.1 .4-3.7 1.4 1.7 .2 1.3 0 1.1 1.5-5.3 .2 2 .2 3 1.2-2.9 .6-.7 .2-.6 .8 1.6 .9-.9 .2-1.1 .5 1.7 1.3 .9 .2-1.1 .1-.7 1.6-.1 0 3.1 .2-1.7 1.4-3.2 .4 1.8 .2-.7 1 1.9 .8-3.5 .1-1.7 .7 3.7 1.1-2.9 .2-.6 .3 1.4 .7-.4 .8-2.9 .1 2.6 .1-4.1 .4-2 1.1 2.6 .2 0 .2-1 1.2-2.4 .3 .9 .3 .9 .2-.1 .7-3 .2 2.6 .8 .5 .2-1.6 .4 3.3 .1 .9 1.3 1.3 .2 1.4 0-5.2 1.4 4 .2 1.4 .1-3.4 .2 2.3 1 2 .3-2.4 .5 0 .2-.4 .5 4 .4-3.8 .8 2.6 .2-1.3 .6-1.4 .9 1.3 .3-.2 .2 .7 .2-2.2 .8 .2 .7-.2 .1-.8 .1 0 .5 1 1-4.7 .3-1.3 .2 2.2 1.1-.3 .4-6.7 .2 3.5 .2-.9 .8-3.7 .2-3.9 .8-.4 .2-4.6 .4 .3 .1-2.4 1.3-5.6 .1-4.9 1.5-12.7 .1 1.3 .2-1.3 .2-5.6 1-3.2 .2-4.5 .6-3.3 .2-.1 .4-3.8 .4-2.5 .9 0 .2-2.2 .5 0 1 4.6 .3 1.5 .2-.3 .1 2.5 .8 3.7 .8 5 0 4.8 .2-5 .5 6.8 .9 8.7 .4 .4 .2 3.4 1 2.8 .4 3.3 .3 3 .2-.4 .7 3.8 .3-1 .8 2.7 .2 .1 .3-3 .2 4.5 1.2 1.2 .2 .5 0 0 1.5 2.3 .1 4 .2 .4 .2-2.2 1 5.7 .2-1.3 .5 2.1 .2-.5 .5 3.1 .3-1.3 1 9 .2-3.9 .4-.9 1.1 .8 .2 2.4 .2-.8 .1-1.2 .9 3.1 .7-3.4 .1 3.8 .2-2.1 .5-.6 .8 3.3 .5 .5 .1-.9 1 2.3 .5-.5 .3-.2 .2 .6 .6 1.1 .4-2.3 .8 2 .2-4 .2 .8 .2 3.6 1.3-3.8 .1 5.5 .1-3.5 1.5 2.4 .5-2.4 .9-.9 .2 1.3 .8 1.8 .5-.3 .3-2.9 1.2 3.9 .4-3.1 1 1.9 .5 .4 0-2.8 1 2.3 .6 0 .4 .1 .5-.4 .7-.9 .7 2.3 .9 .1 .6-.2 .5 .9 .5-3 .5-.1 .9-.1 .2 1.3 .3-.5 1.3 .2 .2-3.1 1.4 1.9 .1 1.7 .4-.3 1 .7 .1 2.6 .9-1.2 .5-2.1 .2 1.6 1.2-2.8 .4 1.9 .2 .4 .9-1.6 .5-.7 0-.2 .4 1.1 .6-1.8 .6 4.3 .4-4 .2 4.9 .9-4.1 .8 2.9 .8-.7 1-.7 .6-.1 1.1-1.1 .5 1 1.3-.1 .3-3.5 1.4 4.3 .2-.1 1.6-3.6 1.6 1.3 .2 2.3 1.4-.1 .3-.4 1.3-2 .5 1 1.1-1.2 .6-.2 1 .3 .8 2 .8-4 .9 2.6 .6 .9 1.2-1.6 .4-.9 1.4-.6 .2-.5 1.5-.3 .1-.5 1.6-.3 .1 1.6 1.5-1 .2-1.3 1.4-1.6 .4 .4 1.2 1.5 .6-2.1 1-.6 .7-2.6 .9-3.2 .9 2 .7-5.4 1-2.6 .6-5.3 1.2-10.5 .4-2.3 1.3-16.2 .2-4.4 1.6-23.5 0-2.2 1.6-33.8 .2-1.6 1.4-30.3 .3-2.3 1.3-16.3 .5 .6 1.1 6.1 .6 8.2 1 17.7 .8 15.9 .8 20.1 .9 16 .7 12.5 1.1 15 .5 9.6 1.3 13.4 .3 2.2 1.4 11.9 .2-2 1.6 8.5 0-.5 1.5 4.2 .2 0 1.4 .3 .4 1 1.2 2.9 .6-.9 1-.8 .7 1.9 .9 1.7 .9-.6 .7-2.4 1 3.8 .6 1.7 1.2-1.7 .4-1.5 1.3 1.1 .3 1.4 1.5 .8 .1-1.6 1.6 2.5 .1-1 1.5 1.8 .2-3.2 1.2 2.1 .2 0 .4 .2 1.1-1.7 .2 1.8 .4 1.4 1-2.2 .6-2.8 .2 4.2 .8 .3 1-1.8 .6-1.1 1.1-1.1 .2 1.7 .3-1.5 1.3 4 .3-3 .1 2 1.3 .1 .2 .3 .4-3.6 1.2 3 0 3.2 .8-4.7 .8 1.5 .1-.2 1-1 .5 1 .3 1.1 1.2 1 .1-1.7 .5-1.8 1.1 2.2 .2 1.6 1.4 .1 .6-.1 1-3.5 .9 .7 .6 1.4 1.4 .6 .2-3.4 1.6 2.1 .1 3.2 1.5-6.3 .5 2.7 1.1 1.6 .8-2.5 .8 .7 1.2 .4 .4 0 1.6-1.1 0 .7 1.6-1.4 .3 .9 1.3 .6 .7-1.3 .9 2.4 1-1.9 .6-2.6 1.4 1.7 .2 1.3 1.5-.5 .2 .3 1.4-2.5 .6-1.6 1-.3 .9-4.1 .7-.7 1.3-1.8 .3-1.9 1.6-8.8 0 .4 1.6-8.2 .4 .5 1.2-7.5 .7-3 .9-2.6 1.1 1 .5 .9 1.4-1.9 .2 .5 1.6 11.1 .2-.3 1.4 8.5 .6 1.7 .9 2.8 1 3.6 .6 2.1 1.4 4.6 .2-.2 1.6 3.2 .1 2.9 1.5-2 .5 3 1.1-2.1 .8 3 .8-.1" fill="none" stroke="#4d4d4d" stroke-width="4.0" stroke-linejoin="round" clip-path="url(#cc)"/>
<path d="M183.2 2534.4l1.6 1.8 1.6-.2 1.6 1 1.6-2.1 1.6 1.7 1.6-.4 1.6-2 1.6 3.1 1.6-2.8 1.6-1.4 1.6 1.4 1.6-.5 1.6 .6 1.6 2.3 1.5-1.5 1.6 3 1.6-3.1 1.6 1.5 1.6-.9 1.6-2.8 1.6 3.1 1.6 .6 1.6 1.1 1.6-3.6 1.6 3.8 1.6 .4 1.6-3.4 1.6 2.1 1.6 1.6 .6-5 1 3.7 .5-4.2 1.1 3.8 .5 2.2 1.1-3 .5 1.6 1.1-3.7 .4 1.7 1.2 .3 .4 2.2 1.2-1.8 .4 1.7 1.2-1.3 .3-1.1 1.3 1.4 .3 .3 1.3-.9 .2 1.8 1.4-2.6 .2 1.7 1.4 .6 .2-1.9 1.4 .9 .1 0 1.5-2.3 .1 5 1.5-3.1 .1 1.4 1.5-6.1 0 6.9 1.6-2.8 0-.9 1.5 1.3 0 1.8 1.6-4.5 0 4.5 1.6-3.9 0 4 1.5-1.3 .1 1.4 1.5-.8 .1-2.7 1.5 .5 .1 1.5 1.4-1.9 .2 .5 1.4-2.6 .2 2.8 1.3 1.6 .3-2.8 1.3-3.4 .3-3.2 1.3-1.7 .3 1.3 1.2-5.9 .4-.1 1.2-5.1 .4-.8 1.2-.2 .4-.9 1.1 1.7 .5 2.6 1.1 2.5 .5-1.3 1 7.9 .6 2.9 1 .4 .6 0 1 .6 .6 1.3 .9 2 .7 2.3 .9-1 .7 0 .9-1.2 .7 2.1 .8-1.3 .8 4.5 .8-2.2 .8-.6 .7 3.1 .9 .1 .7-2.7 .9-2.1 .7 4.2 .9-2.6 .6 1.9 1-2.8 .6 1.1 1 .3 .6-1 1-.2 .5 3.4 1-2.2 .6 2.8 1-1 .6-.7 1 .7 .5-1.4 1.1 .4 .5 .7 1.1-.1 .4-1.4 1.2 2.5 .4-.7 1.2 1.9 .4-3.3 1.2 4.9 .3-3.7 1.3 1.6 .3-.8 1.3-3.3 .3 2 1.3 2.4 .2 .4 1.4-2.4 .2 2.8 1.4-.6 .1-2.7 1.5 3.2 1.5-2.1 .1-2.3 1.6 3.3 .7-.8 .9-.8 1.6-1.2 0 1 1.6 2.8 .8-2.7 .8-1 1.6 .3 0 3.3 1.6 1 .9-4.3 .7 .8 1.6 2.1 .1 .5 1.5-2.3 1 1.5 .6 2.1 1.6-3.6 .2 .4 1.4 .8 1 .6 .6-.8 1.6-1.8 .3 1.9 1.3 1.5 1.1-3 .4 .3 1.6 .4 .5 3.8 1.1-3.1 1.3-1.2 .3 3.8 1.6-.4 .6-2.2 1 1.1 1.4-.2 .2 .7 1.6-1.1 .6 .5 1-1.2 1.5 1.1 .1 .7 1.6-.5 .7-.9 .9-2 1.6 3.2 0-.7 1.6 .2 .8 2.9 .8-2.6 1.6-.4 0 .8 1.6-3.2 .9 2.2 .7 .1 1.6 1 .1-.1 1.5 .8 1-1.5 .6-.8 1.6 .5 .2-2.5 1.4 .6 1.1 .5 .5 2.1 1.6-2 .3-2.4 1.3 2.5 1.1-.9 .5-.7 1.6 .6 .4-1.7 1.2 1.2 1.2-1.1 .4-1.9 1.6 2.1 .5 .9 1 2.5 1.4-3.1 .2 .9 1.6-1.4 .6 1.3 1-1.4 1.5 4 .1 1 1.6-2.6 .7 3.7 .9-1.1 1.6-.8 0 .8 1.6-1.9 .8 2.3 .5 .1 .3-2.5 1.5 2.6 .1-1.2 .1-.1 1.5 .3 0 1.2 .9-.7 .7 1.8 .2 1.1 1.4-2.2 .1-.9 .2 1.4 1.3-2.9 .5 1.6 .5-.3 .6 2.4 .6-.6 1 0 .2-3.8 .6 3.7 .8 .2 1-2.4 .1 5 .5-2.2 1.1 2.8 .5-2.8 .3-3.4 1 5.1 .3-2.4 1.1 .7 .3 1 .2-3.3 1.6 3.2 0-2.8 .4 3.4 1.2-.9 .2-.8 1 0 .4 .7 .3-.9 1.3-3 .5 4.5 1.1-.4 .6 .1 .7-1 .3 1.3 .8 .5 .8-.4 .6-3.9 .3 2.2 .7 1.8 1.1-1.2 .3 1.9 .2-1.9 1.3 2.2 .2-4.4 .7 2.2 .8 2 .1-4.8 1.6 2.1 0 2.7 .1-2.4 1.5 .1 .2 .3 .6-1.4 .8 .1 .4 2.8 1.2-1.9 .1-2.1 .5 .7 1-1.7 .7 2.9 .2-1.8 .7-.4 .9-.3 .7-3.5 .1 2.9 .9-2 .6 .2 1-3 .2 .4 .4-1.9 1.3 .8 .3-.2 .2 4.1 1.3-1.8 .1-.4 1.1 1.8 .5 .3 .1-1.5 1.5 3.1 .2-.4 1.4-2.5 .4 3.5 1.2 2.3 .5 .6 1.1 3.1 .7-1.8 .9-3.8 .8 4.7 .8-1.5 1 .1 .6-1.3 1.2 3 .4 .3 1.3-2.9 .3 2.6 1.5-2.3 .1 .6 1.6 3 0-2.1 1.6-.1 .2-2.7 1.4 2 .4 1.8 1.2-2.1 .5 0 1.1 1 .7-1.7 .9-1.1 .8 2.4 .7 1.3 1.1 0 .5-3.6 1.2 2.6 .4 3.1 1.4-4.2 .2 2 1.6 .8 0-1.2 1.6 1.1 .1-.7 1.5 .5 .3 0 1.3-2.4 .4 3.8 1.2-2.4 .6 .5 1-3.6 .7 2.5 .9 .7 .9-1 .7 2.3 1.1 .1 .5 .6 1.2-1.3 .4-1.5 1.4 2 .2-.6 1.6-.7 1.6 1.5 1.6-4.6 1.6 4.7 1.6-.6 1.6 1.3 1.6-2.1 1.6 .3 1.6 3.5 1.6-6 1.6 4.6 1.6-1.3 1.6 0 1.6-.3 1.6-2.3 1.6 1.7 1.5 1.9 1.6-1.2 1.6 2.2 1.6-2.7 1.6 .9 1.6-1 1.6 2.8 1.6-1.1 1.6 .6 1.6-1.2 1.6 4.4 1.6-4.7 1.6-1.1 1.6 2 1.6 0 1.6-.4 1.6-.6 1.6 .4 1.6 .4 1.6-1.7 1.6 .7 1.6 .2 .6 2.9 1-3.9 1 3.9 .6-1.6 1.3 .5 .3 2.6 1.6-1.1 .1-3.6 1.5-.2 .4-1.2 1.2 2.8 .8 1.3 .8 .6 1.1-3 .5 .4 1.5 3.6 .1-2.9 1.5-.1 .3 2.5 1.3-3.2 .7 .9 .9-.6 1 1.2 .6-.5 1.4 0 .2-.5 1.6 .1 .1 1.7 1.5-2.4 .5 1.7 1.1 .8 .9-.4 .7 .3 1.2-.7 .4-.8 1.6 .8 0 1.4 1.6-.8 .3 .3 .8-.8 .5-3.2 .7 .1 .2 .2 .7 .4 .6 2.1 .4-1 .6 3.1 .4-1.8 1-1.1 .2 1.9 .2-2.1 1.3 1.1 .1-2.1 .1 2.3 1.2-.6 .3-1.5 .5 2.5 .6-.5 .5-.2 .8-2.4 .8 .3 .6 3.6 .6-3 .4-.7 .4 1.8 1.1-.8 .1-2.8 .1 2.4 1.4-2.6 .1 1 .3-.4 1-4.3 .3 1.9 .7-.6 .3 0 .6-1.4 .8 1.7 .2-.6 .6-4.8 .6 .7 .8-.1 .2 .8 .3-1.2 1.3-.4 .1-.5 1.4 4.7 .1-5 .5 2.2 .7 0 .4-.6 .8 .9 .2-2.6 .6 3.3 .8-.9 .4-1 .3 1.7 .6 .1 1-2.2 0 .2 .4-.7 .6-2.9 .6-4.1 .2-.6 .2 2.9 1-6.7 .2-5.5 0 2.2 .7-5.5 .6-7.3 .3-3.6 .1 .7 1-14.1 .5-7.6 .5-5.6 .4-2.4 .5-4.1 .2-1.7 .6 .6 .2-.2 .8 3 .2 1.4 .2 .9 .8 7.6 .4 6 .2 2.1 .3 3.5 1 9.3 .1 8.7 .9 6.4 .4 1.6 .3 5.8 .3-1.7 .8 8.6 .1-.7 .4 2.4 .6 3.6 .2-2 .8 1.7 0 2.8 .6 .8 .4 .1 .6 .5 .4-.2 .9 .2 .3 3.9 .1-4.4 .6 2.1 .8-.4 .1 1 .1 1.6 1-3 .2 .9 .3 1.7 .4-.8 .6 1.5 .4-2 .2-2.7 .8 3.2 .8 .6 .2 1.3 .4-2.1 .5-.3 .5-1.3 .3 3.5 .2-.5 1-3.1 .1 2.4 .1-.3 .8 2 .6-.9 .1-1 .3-.5 .9-1.2 .4 2.6 .6-1.4 .4 .4 .6-2.2 0 1.3 .8-.5 .2 .4 .6 .1 .3 .4 .2-1.5 .8 .6 .3-3.1 .3 3.1 .4-1.4 .9 1 .1-1.2 .9-2 .4 1.9 .2 2 .4-2.2 .8-1.6 .2 .4 .2-1.1 .8-1.4 .2 2.5 .6-.8 .2-1.6 .5-1.8 .4 4.9 .4-5 .6-1.9 1-4.8 0-1.1 .4 .4 .6-4.2 .6-2.7 .3-3.6 1-5.5 .3-2.6 .7-8.3 .9-9.8 1-13.4 .6-13.1 1.4-20.9 .2-4.8 1.6-20.6 .1-2.7 1.5-11.6 .5-3.8 1.1 8.6 .9 6.8 .7 9.5 1.2 17.8 .4 7.3 1.6 26.2 0-.1 1.6 21.7 .3 3.8 1.3 11.9 .7 6.8 .9 7.9 1 .8 .6 2.6 1.4 4.4 .2 2.1 1.6 1.3 .1 .2 1.5 2 .5 .1 1.1 .6 .8 2.7 .8-.9 1.2 1.5 .4-2.4 1.5 3 .1-2.6 1.6 1.9 .3-2.5 1.3 .3 .6 0 1 .6 1 .7 .6 1.9 1.4-.8 .2 2.3 1.6-5.5 .1 5.5 1.5-2.9 .5 2.5 1 0 .9-.6 .7 2.2 1.3-1.1 .3 .2 1.6 1.2 0-1.1 1.6 1.6 .4-2.8 1.2 1.5 .7-.6 .9-3.6 1.1 3.6 .5 2.2 1.4-3.8 .2 4.7 1.6-2.5 .2 .2 1.4 1.8 .5-3.3 1.1 1 .9 .5 .7-.8 1.2 2.3 .4-2.4 1.6 .6M784.6 2552.1l.8 1.1 .8-.4 1.1 .5 .5-2.5 1.5 2.7 .1-.7 1.6-1.2 .2 1.6 1.4-1.5 .6 2.8 1-1.7 .9 2.5 .6-5 1.4-1.8 .2 4 1.6 1.3 .2-2.4 1.4-.4 .5-.8 1.1 2.3 .9-.7 .7 .2 1.2 .4 .2 1.4 .2-1.1 1.6-.2 0 0 .2 .4 1.4-.8 .3 .7 .2-2.2 1.1-.2 .7 2.4 .2-1.3 .7-.1 1 3.7 .2-4.5 .4 1.6 1.4-1.9 .2 1.3 0 0 1.5-1.4 .2 3 .2-3.4 1.2-.2 .6 3.3 .2 2.2 .8-2.8 .9-.6 .2-.1 .5-.4 1.3 2.3 .2-2.4 .1-.1 1.6 1.4 0-.2 .2-.5 1.4 .1 .4 .2 .2-.3 1-2.9 .8-2.3 .1 3.5 .7-.7 1.1-2.7 .2-.7 .3-2.8 .7 2.5 .8-1.1 .1 1.1 .1-1.3 .4-.7 1.1 .7 .2-3 .2 3.6 1.2-1.7 .3 .5 .3-4 .2 3.9 .7-2.6 .2 2 .8 .2 .2 1.6 .4-1.4 .1-1.3 1.3 2.1 .2-.8 0 1.4 1.4 1.5 .2-.2 .1 1.3 .2-1.7 1 2.6 .3-2.8 .5-.3 .2 3 .5-.8 .4-2 .8-.6 .2 4.1 .6 0 .9 .7 .3 .8 .2-.6 .2-2.8 .8-2.7 .7 1 .1 1.7 .1-1.9 .5 2.1 1-3.8 .3 .9 .2-.1 1.1-2.9 .4-.8 .2-.7 .2-1.9 .8 .5 .2-4.8 .8-4.7 .2 4.2 .4-4.1 .1 1 1.3-9.7 .1-2.5 1.5-6.2 .1-2.8 .2 .8 .2-.4 1-7 .2-3.2 .6-3.6 .2 3.8 .4-5.8 .4-3.6 .9-.9 .2 .1 .5-.9 1 3 .3 2.4 .2 1.8 .1 0 .8 4.7 .8 2.7 0 1.2 .2-1.1 .5 4.5 .9 8.2 .4 1.3 .2-1.4 1 7.7 .4 1.5 .3 .6 .2-4.3 .7 3.1 .3-.7 .8 3 .2 .6 .3-.5 .2 1.5 1.2-1 .2 1.3 0 3.2 1.5 2.3 .1-3.7 .2 1.7 .2 2.5 1 1.8 .2-.5 .5 2.9 .2 .2 .5 2.7 .3 1.5 1 1.8 .2-1.2 .4 .9 1.1 2.1 .2-.3 .2 .5 .1-1.2 .9 3.2 .7 .4 .1-2.9 .2-1.5 .5 4.5 .8-1 .5 2.3 .1 .8 1-3.4 .5 3.1 .3 .3 .2 1.8 .6-5.4 .4 2.4 .8 .7 .2 .5 .2-1.8 .2-1.5 1.3 3.1 .1-.1 .1 2.8 1.5-3.5 .5 2.1 .9-.6 .2 1.3 .8 .1 .5 1.8 .3-3.8 1.2-.3 .4 1.4 1-.8 .5-.2 0-1.9 1 1.8 .6-1.6 .4 .2 .5 2.4 .7-.8 .7-1.2 .9 1.8 .6-3.9 .5 3.3 .5-1.1 .5-.3 .9 1.3 .2-.1 .3 .5 1.3 1.8 .2-.6 1.4-2.2 .1 2.1 .4-.8 1-1.5 .1 .6 .9 .9 .5 2.6 .2-.6 1.2-1 .4-2.7 .2 1.5 .9-1.9 .5-2.8 0 4.1 .4 2.3 .6-.6 .6-3.6 .4 2.9 .2-.4 .9 1 .8 .6 .8 .3 1-1.2 .6-.6 1.1-2.7 .5 4.3 1.3-3 .3-1.4 1.4 2 .2 1.8 1.6-.9 1.6-1.8 .2 .2 1.4 1.6 .3-1.1 1.3 .1 .5 .4 1.1-.4 .6-2.3 1 2.8 .8 .8 .8-4.5 .9 2.9 .6 1.1 1.2-4.2 .4 1.8 1.4-.1 .2-1.4 1.5 1.9 .1-2.8 1.6-.9 .1-.4 1.5 2.5 .2-1.1 1.4-.1 .4-.5 1.2-1.9 .6 1.2 1-2.7 .7-1.6 .9 .1 .9-.7 .7 .1 1-6.6 .6-2.4 1.2-9.7 .4-1.8 1.3-13.3 .2-2.4 1.6-24.5 0 1.5 1.6-27.2 .2-3.9 1.4-24 .3-4.3 1.3-10.8 .5 .5 1.1 5.2 .6 4.6 1 13.9 .8 16.3 .8 12.9 .9 16.7 .7 10.6 1.1 14 .5 4.6 1.3 13.7 .3 3.3 1.4 5.9 .2-.2 1.6 3.9 0 4.2 1.5-.7 .2 2.5 1.4-.9 .4 4.9 1.2-3.6 .6 1.9 1 1 .7 .5 .9 3 .9-1.7 .7 .2 1-.8 .6 2 1.2-2.5 .4 1.8 1.3-1.1 .3 1.1 1.5 .6 .1 .5 1.6-1.9 .1 1.2 1.5 .7 .2 1.9 1.2-1.9 .2 .5 .4-.5 1.1 .9 .2 .8 .4-2 1 .3 .6 3 .2-2.2 .8 .1 1-.4 .6-1.7 1.1 3.2 .2-2 .3 2.7 1.3-3.4 .3 3.4 .1-3.3 1.3-.4 .2 2.9 .4 .7 1.2-3.8 0 4 .8-.6 .8-3.6 .1 2.4 1-1.1 .5 .5 .3-1.2 1.2 .4 .1 .8 .5-1.6 1.1-.3 .2 4 1.4-.8 .6-.8 1-.4 .9 3 .6-3.2 1.4-.4 .2 .4 1.6 1.8 .1-1.7 1.5-1.5 .5 .8 1.1 4.1 .8-2.2 .8-1.6 1.2 1.1 .4 .4 1.6 1.1 0-.7 1.6-2.5 .3 1.8 1.3-2.4 .7 .3 .9 .8 1 3.1 .6-2.9 1.4-1 .2 1.2 1.5-1.6 .2 1.7 1.4-3.1 .6 .5 1 0 .9-3.3 .7-2.3 1.3-.1 .3-3.3 1.6-3.5 0-1.6 1.6-6 .4-3.3 1.2-4.9 .7-3.2 .9-.3 1.1-3.5 .5 4.1 1.4 2.7 .2-2.5 1.6 6.7 .2 1.1 1.4 7 .6 2.8 .9 3.9 1 .8 .6 2 1.4 2 .2 3.5 1.6-1.8 .1 2.7 1.5 .8 .5 .2 1.1 .7 .8-1.6 .8 2.1" fill="none" stroke="#ff3838" stroke-width="4.0" stroke-linejoin="round" clip-path="url(#cc)"/>
<path d="M183.2 2424.9l1.6-.5 1.6-.1 1.6-1.4 1.6 3.2 1.6-1.9 1.6 1.4 1.6-1.1 1.6 2.1 1.6-1.6 1.6 .7 1.6 .8 1.6-1.4 1.6 0 1.6 .2 1.5 .4 1.6 .8 1.6-.4 1.6-.1 1.6 1.1 1.6-.9 1.6-1.7 1.6 3.6 1.6-4.4 1.6 5.4 1.6-5 1.6 .3 1.6 1.1 1.6 2.4 1.6-2.5 1.6 2.4 1.6 .4 1.6-2.3 1.6 .8 0 1 1.4-.2 .2-1.4 1.2-1.7 .4 1.8 .9-.4 .7 1.5 .7-.1 .9-1.1 .5-.4 1.1 .7 .2 1.1 1.4 .5 0 0 1.4 .8 .2 0 1.1-2.1 .5 2.5 .9-3.5 .7 2.6 .7-.9 .9-2.5 .4 4.8 1.2 .9 .2-1.4 1.4-3.9 0-1.3 1.3 4.6 .2-.6 1.2-1.4 .4-.2 1-1.5 .6 2.7 .8-3.3 .8 1 .5 1.8 1.1 2.3 .3-1 1.3 .3 .1 .5 1.3-1 .2-2.1 1.2 .8 .4-.4 1-1.7 .6 .1 .7-.9 .9-3.5 .5-1.2 1.1-.8 .3 .2 1.3-4.2 0 .4 1.4-5.6 .2-.8 1.2-2.4 .4-.8 .7-1.4 .2 4.5 .7 3.4 .3 .1 .4 4.2 .8 2.2 .1-.5 .5 .1 .5 4.5 .6 1.2 .2-3.6 .4 3.5 1 2.9 0-3 .2 4.3 1.2-1.7 .2 1.4 .9-.8 .2 1 .5 .3 .5 2.1 .4-2.6 .7 1.5 .1 .2 .6-1.4 .6 1.2 .3-2.8 .4 .3 .4 1.3 .8-1.7 .2 1.2 .2 1 1.2-.6 0 .1 1.1-.4 .2 2.1 .3-1 .7-3.3 .4 4.9 .5 1 .3-1.2 .6 .7 .6-2.9 .1 3.7 .6-1.6 .4-1.1 .6 2 .4-1.4 .2-1.7 1 1.1 .2 .7 1.1-1.5 .2 .9 .1-1.5 .9-2.2 .4 4.1 .2-1.3 .6-.5 .6-3.9 .4 1.5 .2 1.7 .7-4.4 .4-2.1 .3 3.9 .7-5.9 .2-.1 .7-4.3 .5 .1 1.1-6.8 0-1.4 .2-.1 1-.9 .4 2.8 0-2.5 .8 1.7 .6 4.3 .2 1.2 .4-.8 .7 4.9 .4 2.7 .1-1.3 .9 5.3 .2 .1 .5-1 .7 4.6 .9 .6 .3-.4 1.1-1.4 .2 3.9 1-3.2 .6 3.7 .6 2.1 1-3.5 .1 1.1 1.2 .1 .3 1.9 .9-1.2 .6-.4 .1 2.3 .5-4.2 1.1 2.1 0-2.7 .7 2.5 .5 1.4 .4-2.5 .8 1.8 .8 2.5 0-4.6 .3 2.5 1.2-.3 .1 3.1 .8-2.8 .3-.7 .5 2.6 .7-2.3 .9-.5 0 1.8 .2-2.6 1.2 3.9 .2-.2 .9-2.3 .1-.8 .6 1.3 .5 2.6 1.1 0 .1-2.5 1.2 .6 .3 0 .9 1.1 .1-1 .6-1.1 .4 2.7 1.2 1 0-3.9 .2 4.5 1-2.6 .4-.6 1 .4 .6 1.1 1.6-2.7 .3 1 1.3 3.9 1.1-4.3 .4-3.1 1.6 2.2 .5 4.5 1.1-5.7 1.3 2.6 .3 .2 1.6 0 .6 .3 1-3.9 1.4 6.8 .2-4.4 1.6 3.2 .6 .9 1-2.9 1.5-.6 .1 2.6 1.6 .7 .7-.1 .9-2.5 1.6-.3 0-1.6 1.6 3.9 .8-.1 .8-.7 1.6-2.1 0-.1 1.6-.1 .9 1.5 .7 2.5 1.6-1.9 .1-.7 1.5 .3 1-1 .6 .8 .8-1.4 .8 3.6 .2-2.1 .5-.4 .9 1.8 .6-.9 .5 .6 .5-3 .4-.5 1.2 2.9 .3-1.7 1.3-1.4 .2 1.8 .9-1.7 .5-1 0-1.4 1.5 .2 .1 1 .4-.1 1-.1 .2-1.6 1.2 1.3 .4-1.7 1.1 .9 .5-.1 .5 3.6 .4-3 .6 2.6 .9-3.2 .5 3.2 .2 1.9 .8-2.3 .8 3.3 .6-2.2 1-1.6 .5 2 1 1 .1-.2 .4 .9 1.2-.3 .2 1.8 .5-.1 .9-1.2 .1-1.7 1.5 2.2 0 1.2 1.4-.6 .2 0 .8-3.7 .5 4.1 .3-1.2 1.2-.6 .4 1.9 .1-5.2 .9 4.6 .6-1.4 .9-2.7 .7 1.1 .8 1.5 .8 1.6 .1-4.7 .5-.4 .1 3.5 .9-2.9 .5 .3 .2 .2 .3 .8 .6-1.9 .4 .4 .2-.4 1 .1 .2-2.3 .4 3.9 1 .2 .1 .1 .5 .8 .5-.8 .4 3.5 .1-3.2 .5-.3 .9 1.2 .2 1.3 .3 .2 .2 .4 .8-1.3 .3-1.3 .5 1.1 .6 1.1 .5-2.6 .4 3.7 .6 .3 .6-.3 .4-2.2 .5 1.6 .7 1.2 .3 1.6 .4-.7 .5-1.8 .4 3.7 .3-3.7 .3 .3 1-1.2 .3-2.1 .2 2.1 1.1 2.3 .2-2.4 .1 1.5 1 1.1 .3-3.2 .2 3.8 1.4-3.2 .1 2.5 .1-.4 .4 1 .9-1.2 .1 .1 .1 .1 1.3 1.4 .2-3.3 .1-.6 1.2 .3 .2 3.2 .2-1 .5-.6 .5-.8 .4 .6 .1 1.2 1-1 .5-.5 0 2 .1-1.2 .9-2.4 .6 3.9 0-1.1 .8-1.1 .8 1.1 0 1 .7-1.5 .9 2.1 0-8.8 .1 6.4 .5 .9 .9-2.9 .1-.2 .4 .7 .5 .9 .6-.3 .1-2.1 .3 .7 1.2 1.1 .1-.4 .1-.7 1.3-1.3 .2-.3 0-2.5 1-1.2 .4 3.8 .1-2.7 .1 2 1.3-1.1 .3-1.3 .2 1.3 1-1.2 .1-.3 .3 2.8 1.1-1.5 .2 1.9 .3 .6 1.2 4 .4-1.9 1.2 1.6 .4-2 1.2 3.6 .4-3.1 1.1 1.3 .5-1.7 1.1 2.4 .5-.5 1-.3 .6-.2 1 .7 .6 1.4 1-2.2 .6-.3 .9 1.8 .7-.1 .9 2.6 .7-1.4 .9-1 .7-.1 .8 3.5 .8-2 .8 2.2 .8-3.2 .7-.2 .9 .1 .7-.1 .9 1.7 .7-4.2 .9 4.4 .6-.5 .9-1.1 .7-2.6 .9 2.2 .7 2.7 .9-1.9 .6 .8 1 1.5 .6-.1 1-.6 .5 .5 1.1-4.3 .5 2.5 1.1-1 .5-.1 1.1 1 .4 2.8 1.2-1.9 .4 1.2 1.2-1 .4-1.6 1.2 2.7 1.6-3 1.6 3 1.6-1 1.6-1 1.6-.3 1.6-1 1.6 2.9 1.6-1.8 1.6 2.6 1.6-2.5 1.6 1.6 1.6-.7 1.6-2.1 1.6 1.7 1.6 1.9 1.6-2.4 1.6 2.2 1.6-2.7 1.6-1.2 1.6 4.3 0-2.3 1.1 0 .4 .1 .8 1.1 .8 1.4 .4-4.8 1.2 4.8 0-2 1.1 .1 .5 2.3 .7-5.3 .9 .4 .3 .6 1.1 4.2 .2-4 1 2.4 .6-.8 .6-1.5 1 2.6 .2-.7 1.1-1.3 .3-1 .9 1.1 .7 1.9 .5-.6 1.1-1.7 0 1.7 1.2 .2 .4-2.4 .8 .6 .8-3.6 .4 5.9 1.1 .5 .1-2 1.1-1.2 .5 1.6 .7-1.5 .9 .6 .2-.8 1.2-1.7 .2-3.9 1 3.1 .6-1.2 .6-3.3 1-6.4 .1 .8 1.2-10.2 .3-.8 .9-11 .7-5 .5-3.9 1.1-4.2 0-1.2 .6 0 .6 3.4 .4 3.6 .8 6.7 .2 3.4 .6 5.6 .3 2.5 1 8.6 .2 .8 .1 .2 1.1 5.5 .5 2.1 .1 1.7 .6-.4 .9 4.8 .2-2.6 .2 .1 1 3 .2 1.6 .8-.2 .2-2.3 .6 3 .5-3.4 .6 4 .5-.4 .1-2.7 1.2 3.6 .2 .7 .1-1.6 .9 2.4 .6-3.5 .3 1.6 .2-.9 1.1-.8 .1 1.8 .6-.9 .6-.4 .3 2.3 .8-1.6 .2-.4 .6 2.7 .4-4 1 0 .2 1.3 0 2.7 1.2-3.4 .4 2.1 .1-3.2 .6 .4 .9 5.9 .3-3 .2-.9 1 2 .1-3.3 .9 .3 .2 2 .5-1.6 0-1.2 .6 2.3 .6 .7 .4 .4 0-1.5 .2-.1 1.2 1.5 .2-.4 0-2.2 .9 .8 .6-.4 .1-.4 .3-.4 .2-.8 1 2.8 .1-1 .1 1.9 .6 .2 .7-.5 .2 .6 1-.1 .4-.4 .2-1 1.4 1.5 .2 .1 1.3-4.7 .3 4.6 .1-.5 1.2-.9 .3-1.5 .5 2.2 .8-2.1 .3 2.2 .8-1.8 .4-1.8 .4 .6 1.2-1.4 .4 3.9 1.2-.7 .3-.2 .1-1.1 1.1-4.9 .5 .6 .3 .5 .8 1.9 .5 .5 .7-.4 .3-1.2 .6-2.5 1-2.1 .6 1.2 1-4.4 .4 .5 .2-4.6 .9 1.2 .7 2 .1 .2 .8-2.3 .7 2.6 .5-3.9 .4 4.8 .7-3.6 .8 3 .8 .3 .8 2.3 .4-.4 .3-2.6 .8-3.6 .8 .9 0 2.3 .8-2.5 .2 .8 .6-6 .4-5.6 .4 2.9 .6-8.9 .2 1 .7-7 .9-12.3 .1 1.9 .6-6.4 .4-4.3 .5-4.7 .5-6.5 .2-1.8 .7-7.1 .2 1.7 .6-1.6 .2-1.4 .8 4.8 .2 1.9 .4 1 .6 8.1 .4 4.2 .5 5.3 1 9.6 .1 5.6 .5 2.4 .4 3.7 .7 5.1 .3 3.1 .2-.5 .7 7.5 .4 1.2 .4 2.7 .2-2 1 6.4 0-3.8 .4 5 .6 4.1 .6-.5 .4 .6 .9 2 .3 1.7 .3 1.5 .4-4.3 .9 1.5 .1-.3 .2 1.1 .8-2.8 .5 3.4 .2 .3 .2 .6 1 2.2 .2-2.8 .2 1.8 .6-.9 .8-.6 .2 1.7 .9-2.8 .5-3.5 0 8 .1-6.1 .4 4.4 1-1.4 .1-.1 .1-.4 .8-1.2 .5-1.4 .2 3.4 .1 1.1 .2 1.2 .9-3 .4-1.1 0 2.8 .6-2.1 .5 .7 .5-.3 0-3.6 1 8.5 .5-4.1 .1-1.8 .3 1 .5-4 .5 3.3 .2-.5 .1 2.1 .7-2.5 .8 .4 .1 .1 .1-.2 .5-1.1 .4 .6 .4 .8 .2-.1 .4-1.5 1-.6 .2-.1 .3-1.7 .5 1.3 .6 1.5 .2-3.2 .2-.5 .9-.7 .2 .8 .2 .1 .1-2.3 .5 .6 .8-2.8 .2 .6 0-1.5 1-3.3 .3-.4 .1 1.5 .2-3.1 .3-3.5 1-3.9 .3-2.9 .7-6.4 .5-3.9 .1-1.9 .3-1.4 1-11.4 .2-1 .4-6.1 .9-10.4 .5-6.1 .2-3.1 .8-8.7 .8-9.3 .1-3.7 .5-.5 1-7.8 .5 1 1.1 .2 .4 3.4 .5 3.6 .7 9.3 .2-.9 1 13.2 .4 2.7 .1 1.2 1.5 15.2 0-1 1.4 10.8 .2-.8 .3 .3 1 4.3 .3 3.2 .7-1.1 .5 3.4 .4-1.4 1 1.8 .6 2.7 .9 6.8 .5 1.6 .2-.9 .7 5 .9 5.2 .1-1.5 .5 2.1 1 5.8 .5 5.3 1.1-.1 .3 3.4 .5-.3 .8 1.3 .2-.2 1 1.6 .4 3.4 .1-2.6 1.4 1.7 .1 3.4 1.4-4.1 .2 1.5 .3-1.8 1 4.1 .3-3.9 .6 3 .5-.6 .5-.5 1 1.3 .6-1.1 .9 2.1 .5-1.3 .2 1.2 .7-.4 .9-.3 .1 .5 .5 .6 1 .4 .5-1.4 1-.6 .4 2.4 .5-4.8 .7 3.6 .3 .3 1-.2 .3 1.6 .2-2.1 1.4 2.6 0-1.8 1.5 2.6 .1-5.4 .4 2.3 .9 1.6 .3 .2 .7-1.5 .5 .2 .4 1.5 1.1-.8 .5 1.2 .9 .2 .5 .3 .2 1.7 .8-3.4 .8 .1 .2-.2 .5 3.1 .9-1.9 .5 .8 1.1-1.2 .4-3.2 .5 .7 .7 1.6 1.2 2.5 .4 1 1.6-1M784.6 2441.9l.8 2.3 .8 2.6 1.1 1 .5-5 1.5 1.8 .1 .5 1.6-1.1 .2 1.7 1.4-2.7 .6-.1 1 1.7 .9-1.6 .6 1.3 1.4 .7 .2 .1 1.6 1.3 .2-1.7 1.4-2.3 .5 2.9 1.1-3.1 .9-.9 .7 3.3 1.2 1.7 .4-.7 1.6-.3 0-1.1 1.6-1.6 .3-1.9 1.3 7.9 .7-7.6 .2 3.1 .7 1.8 1 .4 .6-3.2 1.2 1.5 .2-.2 .2-1.5 1.3 0 .2 1 .2 0 1.4-.9 0 .6 .6-1.3 1 2.2 .2-.9 .7 2.3 .7-1.5 .3-1.3 1-1.8 .3-.2 .5 1.6 1.1 .4 0-2.9 .6 1.9 1-.3 .4-1 .4 2.1 .8-3.2 .8-.8 .1 .9 .7 .7 1.1-.1 .5-1.7 1.3-5 .2 5.3 .1-1.9 1.4-3.8 .2 .3 .2-.9 .2 1.5 1.2 1.3 0-6 .2 4.3 .4 .5 .9-4.1 .2 3.5 .8-.7 .4 .1 .2-1 .4-1.4 .8 3.2 .2 .6 .2 .6 .6-1.9 .3 1.8 .7-.8 .1 2.7 .6 1.4 .9-.2 .5-2.4 .4 5.1 .7-2.4 .3 0 .5 1.2 .2-1.5 .6 .9 0 .8 1.2 1.1 .2-1.9 .2 2.1 1.2-2 .1-.3 .2 1.6 .1-.8 .9-.7 .6-.5 .1-3.5 .3 1.4 .4 .7 .9-2.6 .1-1.7 .4 2.1 .1-1.5 1-3.7 .2 2.3 .8-4.5 .6-3 0-1.7 .4-2.9 1-6.8 .1-.5 .6-3.8 .6-5.4 .4-1.1 .2-2.3 .6-8.5 .2-.8 .6-4.8 .6-3.7 .2-3.9 .2 .3 .6-4.3 .5-1.4 .4-.9 .2 2 .5 2 .3-3.4 1 6.2 .3 1.9 .1-.6 1.3 9.8 .2 1.6 0-.9 1.2 9.7 .4-.4 0 .1 .4 4.2 .6 .9 .6 1.8 .1 3.2 .6-.1 .9 0 .3-1.1 .2 .2 .6 1 .5-3.6 .3 2.6 .2-5.3 .9 2.8 .2 1.3 0-1.4 .6-1.5 .8 6.5 .2 1.7 .2 4.6 .6-3.1 .4 3 .4 2 .5 2 .4 6.8 .6-.5 .8 5.1 .2 .4 .2-.8 .4 1.8 .6 3.7 .7-1.6 .3 1.6 .3-.1 1.2-1.3 .1 2.9 .1 .7 1.4-.5 .1 1.1 .1 .2 .4 0 .7 .7 .4-4.4 .2 3.7 .6 0 .2-.2 .6 1.1 .4 1.3 .4-.3 .4-3.1 .4 2.8 .5 .8 1-1.3 .1-1 .3 1.3 .4-.7 .9-.4 .1 .2 .8 .6 .5-1.6 .2 4.2 1-3.6 .2 1 .4 .6 1-2.5 .2 2 .4-.7 .7 3.9 .6-3.2 .2 .4 .6-1.8 1 3 0-1 .4 3.3 1.2-2.8 .1-.3 1.4-.3 .1-2.1 .3-1.6 1 3.7 .3-1.1 .5 .8 .5-.6 .6-.5 .6 2.5 .2-.3 .8 .6 .6 1.2 .2-4.3 .8 3.7 .3-2 .6 3.8 .7-1.2 .1-.5 1-2.2 .4-.3 .1 1.6 1.6 .4 .2-2.5 1.4-1.5 .4 3.8 1.2-.5 .6 .7 .9-1.3 .8-.5 .8 1.2 1 .9 .6-2.9 1.1-.4 .5 2.5 1.3-.4 .3-1.6 1.4 5.2 .2-1.1 1.6-2.5 1.6 .6 .2-3.4 1.4 4 .3-2 1.3-.8 .5 .1 1.1 .4 .6-1 1 1.8 .8-3.2 .8 2.7 .9 2.7 .6-4.3 1.2 1.9 .4-1.7 1.4-1 .2 0 1.5 1.3 .1 .1 1.6-1.8 .1-.3 1.5-.7 .2 2.3 1.4-3.8 .4 1.1 1.2-1.3 .6 .6 1-2.3 .7 2.3 .9-2.1 .9-3.6 .7-2.3 1 2.1 .6-3.6 1.2-8.6 .4-1.3 1.3-11.6 .2-3.8 1.6-19 0 0 1.6-24.4 .2-1.2 1.4-20.9 .3-1 1.3-13 .5 .2 1.1 2.9 .6 6.7 1 12.1 .8 11.3 .8 16.2 .9 11.2 .7 6.2 1.1 14.5 .5 4.1 1.3 8.1 .3 5.3 1.4 6.5 .2-.4 1.6 1.5 0 5.6 1.5 1.1 .2-.2 1.4-.5 .4 1.1 1.2 1.5 .6 .5 1 1.1 .7-.2 .9 .7 .9-1 .7 1.6 1-1.1 .6-1.4 1.2 1.5 .4 .3 1.3 1.3 .3-3.1 1.5 4.7 .1-1.7 1.6 2.9 .1-3.4 1.5 1.6 .2-.7 1.4 .2 .4 2.2 1.1-2.4 .6-.5 1-1.8 .8 4.8 .8-2 1-1.1 .6 1.9 1.1-.9 .5-1.5 1.3 .3 .3 1.1 1.4 .5 .2-1.7 1.6-.1 0 4.1 1.6-2.5 .1-.1 1.5 .1 .3 .3 1.3-2 .5 1.3 1.1 2.2 .6-2.3 1 1.6 .8-.3 .8-1 .9-.7 .6 .5 1.2 1 .4-.8 1.3-.5 .3-1.1 1.5 2.9 .1-2.4 1.6 2.7 .1-1.6 1.5-3.4 .2 .9 1.4-.7 .4 3.4 1.2-1.3 .5 2.7 1.1-.5 .7-2.1 .9-3.1 .9 3.3 .7 2.6 1-4.8 .6 .1 1.2 1.9 .4 1.1 1.3 0 .2-1.7 1.6-3.1 0 .8 1.6-1.4 .1-1.1 1.5-.5 .3 0 1.3-6.3 .5 .9 1.1-3.2 .6-2.8 1-7.1 .8 .7 .8-6.2 .9-4.2 .7-4.8 1.1 .1 .5 2.6 1.2 1.6 .4 .8 1.4 10.1 .2-1.4 1.6 6 0 2.8 1.5 5.5 .2-.9 1.4 3.4 .4 1.6 1.2 .7 .5 4.7 1.1-2.1 .7-.7 .9 1 .9 1.2 .7 1.9 1 .8 .6-.6" fill="none" stroke="#0068e0" stroke-width="4.0" stroke-linejoin="round" clip-path="url(#cc)"/>
<path d="M183.2 2330.4l1.6 .3 1.6-.1 1.6 3 1.6 1.1 1.6-2.3 1.6 .5 1.6-2 1.6 2.7 1.6-.5 1.6 2.9 1.6 2 1.6-4.4 1.6-1.1 1.6 1.2 1.5-.8 1.6 0 1.6 2.3 1.6-1.1 1.6 .8 1.6-2.9 1.6 2.1 1.6-.7 1.6 3 1.6-1.5 1.6-.5 1.6 0 1.6 .9 1.6-1.3 1.6-.6 1.6 .4 1.6 1.5 1.6 .1 1.6-2.9 0-.1 1.4 3.6 .2-.8 1.2 1.3 .4-.3 .9-1.3 .7 .5 .7 .1 .9-1.6 .5-1.1 1.1 4.1 .2-1.1 1.4-1.5 0 1.9 1.4-.7 .2 1.4 1.1 .7 .5 .5 .9-2 .7 1.1 .7-3.1 .9-.3 .4-.1 1.2 2.2 .2 .5 1.4-1.2 0 .8 1.3 .8 .2-1.3 1.2-1.4 .4 1.1 1 .8 .6 1.2 .8 0 .8-1.4 .5 1.5 1.1-1.6 .3 1.2 1.3-.2 .1 1.8 1.3-4.4 .2 0 1.2 1.3 .4 2.3 1-3.9 .6 0 .7 1.3 .9 .7 .5-4.6 1.1 .1 .3 .7 1.3-3.7 0-1.7 1.4-.9 .2-2.6 1.2-2.4 .4 1.2 .7 2.4 .2-.9 .7 .7 .3-1.1 .4 1.2 .8 6.2 .1-2.7 .5 1.3 .5 1.3 .6 2.8 .2-4 .4 3.3 1 1.9 0-2 .2 1.4 1.2 2.7 .2-3.4 .9 .8 .2 2.5 .5-2.9 .5 2.6 .4-1.6 .7-.2 .1 2.3 .6 2.2 .6-1.5 .3-.7 .4-.7 .4 .2 .8-.9 .2 .3 .2 .5 1.2 .8 0-1.9 1.1 2.7 .2 1.4 .3-1.9 .7 .9 .4-2 .5-2.5 .3 1.8 .6-.5 .6-.6 .1 0 .6 2 .4-.9 .6 .9 .4-.2 .2-2.7 1 4.5 .2-2.6 1.1 .7 .2-1.8 .1 1 .9-2.4 .4-1.9 .2-.6 .6-.1 .6 0 .4-1.1 .2-.3 .7-5.8 .4-.2 .3-4.6 .7-5.1 .2-1.3 .7-6.2 .5-5.7 1.1-11.1 0 1.7 .2 0 1-5.2 .4 .4 0 2.3 .8 .6 .6 5.6 .2 4.4 .4 1 .7 8.3 .4 2.7 .1 3 .9 5.1 .2 4.6 .5 .6 .7 4.1 .9 2.3 .3 .5 1.1 2.2 .2 3 1 .4 .6-1.7 .6-.3 1 3.5 .1 .4 1.2-3.4 .3 2.8 .9-.3 .6-1.3 .1 1.2 .5-.5 1.1 2 0-3 .7 .8 .5 1.1 .4-.1 .8-2.1 .8 3.4 0-1.5 .3 1.8 1.2-2 .1 2.9 .8-1.8 .3 1.2 .5-.1 .7-.6 .9-.2 0-.3 .2-.1 1.2 1.8 .2 0 .9-3.6 .1 3.4 .6-.6 .5-.2 1.1 1 .1-4.4 1.2 4.1 .3-2.3 .9 3.2 .1-4.7 .6 3.2 .4-1.5 1.2 3.2 0-.3 .2-.1 1 .8 .4-1.3 1-1 .6-.1 1.6-1.4 .3 2.5 1.3-1.8 1.1 4.8 .4-1.9 1.6-.5 .5 3.3 1.1-4.4 1.3-.4 .3 1 1.6-.7 .6 2.1 1-2.3 1.4 2.3 .2-3.2 1.6 4.4 .6 .4 1-2 1.5-3.7 .1 5.9 1.6-.2 .7-4.6 .9-.9 1.6 2.4 0 1.4 1.6 .2 .8-.7 .8 0 1.6 1 0-1.9 1.6 1.2 .9 2.5 .7-2.3 1.6-2.7 .1 1.7 1.5 .8 1 .7 .6-.1 .8 .3 .8-3.1 .2 1 .5 .8 .9 .3 .6-3.7 .5 0 .5 2 .4 .4 1.2-.9 .3-.1 1.3-1 .2 .3 .9-1.7 .5 .6 0-.8 1.5 1.9 .1-.5 .4 .2 1-2.6 .2 2.5 1.2-3.3 .4 2.5 1.1-2.4 .5 3.3 .5-3 .4 .4 .6 2.5 .9-.1 .5-.5 .2-.1 .8 1.2 .8 1.4 .6-2.3 1 2.8 .5-1.8 1 0 .1 2.5 .4-1.5 1.2 .6 .2 2.4 .5-.9 .9 1 .1-.3 1.5 .5 0 .2 1.4-2.3 .2 .7 .8 .8 .5-2.1 .3 2.8 1.2-1.7 .4-1 .1 1.5 .9-.5 .6-1.1 .9-.4 .7 .5 .8 1.5 .8 2 .1-5.1 .5 3.9 .1-4.3 .9-.3 .5-.4 .2 1.5 .3-.1 .6-.5 .4-.3 .2-1.3 1-1.7 .2 1.7 .4-.1 1 .9 .1-.3 .5-1.4 .5 .9 .4 .9 .1 2.5 .5-2 .9 1.3 .2-.4 .3-.5 .2 3.1 .8 1.6 .3-3.2 .5 2.2 .6-2 .5 1.9 .4-2.7 .6 3.1 .6-.9 .4 .9 .5-3.8 .7 4.4 .3-2.6 .4 3.6 .5-1.2 .4 2.1 .3-1.4 .3-3.3 1 .4 .3 3.8 .2-.5 1.1 2 .2-3.4 .1 1.6 1 0 .3 .3 .2-1.4 1.4-.6 .1 .5 .1 3 .4-4.6 .9 1.2 .1 1 .1-1.7 1.3 3.1 .2-.2 .1-2.4 1.2 .2 .2 1.3 .2-1.2 .5 1.8 .5-.4 .4-2.2 .1 1.6 1-1 .5 1.7 0-.4 .1 1.6 .9 .9 .6-4.2 0 1.5 .8 .8 .8-.6 0-1.2 .7-1.5 .9 .9 0 .7 .1 1.1 .5-2 .9 1.1 .1-.3 .4 1.8 .5-2.5 .6 2.9 .1-5.5 .3 3.1 1.2-.7 .1-.4 .1 1 1.3-2.3 .2-1.5 0-1.2 1 .5 .4 .9 .1 2.8 .1-2.1 1.3 1.8 .3-1.4 .2-.6 1-2.4 .1 .3 .3 3.2 1.1-.7 .2 .8 .3-.8 1.2 1.9 .4 .5 1.2-.1 .4-.6 1.2 2 .4 1.2 1.1 1.8 .5-1.1 1.1-2.1 .5 1.7 1 .3 .6-1 1-.1 .6 .7 1 .3 .6 1 .9-.7 .7 2.3 .9-2.4 .7 2 .9-4.9 .7 2.6 .8 1.1 .8-4.1 .8 4.8 .8-3.2 .7 2.2 .9 0 .7-4.4 .9 5 .7-3.5 .9-.1 .6 6.4 .9-2.2 .7 .9 .9-4.3 .7 .7 .9 1.9 .6-3.4 1 1.7 .6 2.7 1-1.9 .5 2.7 1.1-5.2 .5 2.3 1.1 .4 .5 .5 1.1-2.3 .4 .8 1.2 .3 .4 .5 1.2-1.8 .4 4.4 1.2-1.8 1.6 1 1.6-1.7 1.6-.9 1.6 1.1 1.6 3.5 1.6-1.6 1.6-1.7 1.6-.8 1.6 3.1 1.6-2.4 1.6 .3 1.6-1.4 1.6 .7 1.6 1.5 1.6-2.7 1.6 3.6 1.6-1.1 1.6 .1 1.6-.6 1.6 1.4 0 1.9 1.1-5.3 .4 2.6 .8-1.6 .8 4.7 .4-2.5 1.2-4.3 0 .7 1.1 2.6 .5-.7 .7 .2 .9-.1 .3 2.1 1.1-.8 .2-1.4 1-1 .6 2.9 .6-2.8 1 1.6 .2 0 1.1 1.5 .3-3.1 .9 1.7 .7-1.9 .5-.5 1.1 1.5 0 1.2 1.2-1.5 .4 .8 .8-.2 .8-3.5 .4 3.8 1.1-3.7 .1 1.8 1.1 2 .5-.6 .7-2 .9-2.5 .2-.2 1.2-2.3 .2 4 1-3.7 .6-4.3 .6-3.5 1-9.5 .1 .4 1.2-12.8 .3-6.6 .9-10.5 .7-7.7 .5-4.8 1.1-9.9 0-1.2 1.2 10.6 .4 3.6 .8 11.2 .8 10.1 .3 3.7 1.2 12.4 .1 3 1.1 11.2 .5 3.5 .7 .8 .9 .8 .2 2.2 1.2-1.6 .2 2.5 1 1.9 .6 .9 .5-3.2 .6-.9 .5 4.5 .1-1.2 1 2.6 .2 .3 .3-.2 .9-3.6 .2 3.7 .4-.2 .5 .2 .6-2.3 .5 3 .1-2.4 1 1 .2 2.5 .3-3.4 .8 3.5 .2-4.4 .6 1.1 .4-.5 .6 2.2 .6-.9 0-1.6 1 .5 .2 3.6 .4-4.8 .7 5.6 .2-2.1 .7-.1 .3 .9 .6 .3 .6-1.4 .1 1.2 .9-2 .2-.2 .5 .3 0 1 .6-2.3 .2 .1 .8 1.5 0-3 .2 2.9 .6-.1 .6-.2 .2 1.6 0-.8 .7 1 .2-.4 .6-3.3 .1 .3 .5 3 .2-2 .8 2 .1 1.7 .1-1.8 .6 .3 .7-2.6 .2 1.1 .6-.6 .8 1.2 .2-1.7 .6 1.8 .8-1.4 .2-1 .6 2 .7-.2 .3 1.3 .5-2.8 .8-.1 .3 .8 .5 2.8 .8-2.7 .3-1.5 .4 1.9 .8-1.5 .4 1.7 .4-2.3 .8 .5 .4 1.7 .4-.2 .8 1.4 .4-1.5 .3-2.7 .8 3 .5-1.7 .3-1.3 .8-.7 .5-1.2 .3 3.1 .7-4.8 .6-1.3 .2 1.1 .8-3.2 .6-.4 .2-1.2 .8 1.3 .6-.6 .1-1.1 .8-2.8 .7 .5 .1-.9 .8 2.6 .7 1.3 .1-3.3 .8 .6 .7 5 0-.5 .8 .4 .8-.6 0 .6 .8-.5 .7-.6 .1 1.1 .7 3.2 .8-6.2 0 2.8 .8-1.3 .2-3.6 .6-3 0 2.3 .8-6.4 .6 0 .2-3.6 0 2 .7-7.8 .8-5 .1-2.3 .1 .1 .6-5 .8-7.2 .1 1.5 .5-4.6 .2-2.5 .7-1.7 .2-3.1 .6-1.9 .2 1.6 .6 1.8 .2 3.6 .6-1 .6 3.7 .2 3.9 .2 4.5 .5 4.9 .8 5 .2-.4 .1 .3 .5 4.5 .8 8.2 .3 2.1 .3 1.1 .2 .7 .7 5.7 .4-2 .4 7 .2-1.2 .6-.8 .4 .7 .4 2.5 .6 .7 .2-.7 .4 1 .4 2.8 .7-1.2 .2-.2 .3 4.7 .3-2.7 .8-.9 .5 1.7 .1 0 .2 .3 .8-1.3 .5 3.1 .2-1.6 .2-2.9 .6 2.3 .6 .7 .2 .6 .6 1.1 .2-.4 .6-1.4 .2-.2 .7 2.4 .2-2.8 .5 .7 0-1.9 .1 3.1 .8-.8 .6-1.1 .1 4.3 .1-1.2 .8-2.9 .5 4.1 .2-5.2 .1-.5 .2 3.4 .5 2.3 .4-.4 .4 .2 0 0 .6-4.7 .2 1.6 .3-1.5 .5 2.4 0-1 .8 3.9 .2-1.7 .5-1.8 .1 .2 .7-1.2 .1 1.5 .5-1.5 .2 1.2 .1 .7 .7 .2 .8-1.7 .1-.5 .1-1.6 .5 2.4 .8-3 .2 3.4 .4-.9 1 .1 .2 2.7 .3-4.5 .5 .4 .6 1.6 .2-2 .2 1.6 .9-2.9 .2-1.6 .2 3.8 .1-.2 1.3-2 .2 2.7 0-1.5 1.3-3.1 .1-.8 .2 .9 .3-2.1 1-1.2 .3-.4 .7-4.5 .5 0 .1-2.4 .3-1.1 1-3.8 .2-1.3 .4 2 .9-4.6 .5-4.6 .2-3 .8-1.3 .8-5.9 .1 .5 .5-1.8 1-.6 .5-1 1.1 2.3 .4-1.1 .5 4.8 .7-1.1 .2-.2 1 5.4 .4 .5 .1 1.7 1.5 3.2 0 0 1.4 3.8 .2-.4 .3 .2 1-2.7 .3 1.1 .7-1.2 .5-.4 .4-.9 1 4.1 .6-1.9 .9 2.7 .5 .2 .2-.1 .7 5.9 .9 1.9 .1 1.5 .5-.5 1 4.4 .5 1.4 1.1 4.5 .3 .3 .5 4.4 .8-4.2 .2 2.2 1 .7 .4 .6 .1 .6 1.4 1.2 .1-1.3 1.4 1.4 .2 .2 .3-.5 1 .8 .3-1.4 .6-1.4 .5-.2 .5 1.3 1 .8 .6 4.5 .9-3.5 .5-.9 .2 1.5 .7-2.6 .9 .5 .1 2.8 .5-3.2 1 1.8 .5-.1 1 .7 .4 1.3 .5-1.4 .7 3 .3-5.8 1 4.9 .3-3.2 .2-.7 1.4 .6 0 3.2 1.5-1.7 .1-.4 .4-1.3 .9-.6 .3 .1 .7 1.5 .5 .3 .4 1.6 1.1-2.6 .5 3.4 .9-3.5 .5-.4 .2 2.8 .8-.9 .8 .8 .2 .3 .5-.2 .9-1.7 .5 2.3 1.1-2 .4 .4 .5-.2 .7-1.1 1.2-.7 .4 4.9 1.6-3.6M784.6 2350.3l.3 1.2 1.3-1.5 1.1 .7 .5-1.5 1.6 4 .4-4.7 1.2 2.4 1.2-.4 .4 3.2 1.6-4.5 .5 1.4 1-1.3 1.4 2.4 .2-1.3 1.6-.5 .6 1 1-1.6 1.5 .6 .1 2 1.6-3.7 .2 3.9 .5-2.8 .9 3.8 .6-2.5 1-.9 0 2.9 .9-1.8 .7-.4 .8 1.8 .5-3.3 .3 1.8 1.6-1.9 0 3.7 1.6-4.5 .4 2.4 .5-1.4 .7-1.6 .8 4.4 .7-1.3 .2-1.3 1 2.1 .4-2.2 1.1 1.7 .5-2.4 0 2.8 1.6-2.6 .3-1.1 1.3 1.8 .7-.6 .5-.6 .4-.4 1-.4 .6 2.2 .4-3.5 1 .9 .2-1.8 1.2 3.1 .4-1.6 .1-.8 1.5-2 .5 .3 .2 .4 .9-3.6 .5-1.1 .3 5.1 .5-2.2 .3 .7 .4-2.9 .8 1.7 .4-1 .3 .9 .3-4.8 .9 6.4 .2-3.1 1.3-.3 .1 .9 .1-.6 .3-.5 1.2 1.6 0-2 .7 3.8 .7-.9 .2 .8 1.1 2.9 .2-3.4 .3-2.8 0 5.4 1.2-.4 .3-2.6 .1 0 .8-.9 .2 4.2 .6-3.6 .2 .6 .7 1.2 .7 1.8 .1 .5 .5-.8 .2-1.6 .8 4.1 .6-5.5 .3-1.9 .7-.8 .5 3.1 .8-2.8 .3-1.8 .2-4 .2 3.8 1.2-6.2 0-1.3 .2 2.7 .8-7.5 .6-2.1 .1-1.1 .3 1.5 1.1-10.3 .3 .1 .5-5.4 .7-3.4 .1 .8 1.2-4.7 .2-2.2 .2 .1 1.2-3.3 .3 2.3 .1-2.6 .4-3.7 .7 4.8 .5 4.1 .3-2.3 .7 2.4 .3 3 .3 1.8 .6 1.8 .2 3.3 .8 4.3 .5 .4 .2 2.1 .3 1.9 .6-1.7 .6 1.4 .7 2.2 .3 .6 .4-.9 1.2-1.5 .1-.9 .2 2 .3-2.4 1 .1 .2-.5 .3-.7 .9 1.2 .2 1.9 0-4.1 .8 4.3 .7 1.1 .1-.4 .7 4.2 .5 3.3 .2-1.9 .2 .7 1.2 6.9 .3-.3 0 1.2 1.2 2.2 .4 5.8 .4 .5 .5-1 .2 3.1 .5 .6 .7-2.9 .2 3.8 .7-3.5 .1 2.1 .7 2.4 .3 .2 .5-1.2 .6-.3 .3 3.2 .5 .4 .2-4.1 .5 1.3 1.1-.5 .2 .9 .2 .9 1.2 2.8 .2-2.8 .3-2.2 .5 1.9 .6 .8 .1-3 .8 3.8 .7-1.9 .3-1.5 .9 3.7 .2 .6 .2 .2 1.1-4.1 .2-1.3 .3 3.2 0 0 1.2 .1 .4-1.2 .3 1.7 .7 .4 .5-.3 .8-.3 .2 .3 .3 1.2 .3 1.1 .9-1.4 .3-.5 .4 3.1 .5-2.6 .2 3.4 .8-4.5 .1 1.5 .6 1 .8-2.6 .2-.1 .3 2.1 .2-2.2 1.1-.4 .3 4 .3-.9 1-.6 .2 0 .6 0 .2-.2 .6-.7 .1-2.4 1 1.3 .2 5 .2-1.3 .1-6 1.4 3.2 .1 .6 .1 3.4 .1-5 1.1 2.1 .4-.7 .2-1 .2 .8 .7 1.1 .5-.4 .6 1 .2-.5 .2-.3 .6-1.2 .9 .2 .6 1.6 1.4-1.6 .2 1.3 1.6-.2 .1 .3 1.5-4.3 .5 3.1 1.1 1.7 .9-3.4 .7 2.2 1.2-1 .4-.1 1.6 1.8 0-5.2 1.6 3.6 .3 2.5 1.3-2.2 .7 2 .9-1.7 1 1 .6-2.3 1.4 2.5 .2-1.4 1.5 .7 .2-.4 1.4-1 .6-.5 1 .7 .9-2.9 .7 2.3 1.3 .3 .3-1 1.6-.4 0 1.5 1.6-2.7 .4 2.1 1.2-1.3 .7-.4 .9 .6 1.1-3.1 .5 .1 1.5-1.5 .1 .4 1.6-1.1 .2-.5 1.4-7.5 .6-1.4 .9-4.9 1-7.4 .6-5 1.4-3.1 .2-1 1.6-9.4 .1-.9 1.5-7.6 .5 .9 1.1 4 .8 1.6 .8 2 1.2 9 .4 .8 1.5 12.6 .1-1.6 1.6 7.1 .3 1.2 1.3 6.5 .6 .9 1 2.6 1 1.5 .6 2.6 1.3 .2 .2 1 1.6 1.7 .2-.5 1.4 1.9 .6 1 1-3.1 .9 2.2 .7-2.7 1.3 1.3 .3 3.4 1.6-2.2 0-.7 1.6-.7 .4 1.6 1.2-1 .7 3 .9-1 1.1 .6 .5-4 1.4 3.9 .2-1.3 1.6 1.1 .2 0 1.3 1.1 .6-2.2 1 .7 1-3.6 .6 .9 1-.1 .3 .9 .3-.2 1.1 1.8 .5-1.2 .1 .9 1.2-.5 .3-1.4 .4 2.2 1-.2 .2 1.8 .8-2.3 .8 1.4 0-1.1 1.2 .6 .4 1.3 .1-2 1.4 2.2 .1-2.7 .3 2.3 1.3-.7 .3-3.5 .2 4.2 1.1-2.1 .6-.8 1 1.6 .8 0 .2-.3 .6 4.8 .9-5.3 .4 1.5 .2 1 1.2-1.5 .4-.3 1.3-1.7 .3 1.6 1.5 .7 .1 1.4 1.6 .2 .1-1 1.5-1.9 .2-.5 1.4 3.5 .4-3 1.2-.7 .5 3.6 1.1 .1 .7-1 .9-2.1 .9 2 .7 .5 1-2.1 .6-2.2 1.2 1.1 .4 3.2 1.3-3.7 .2 .9 1.6-1.5 0 .3 1.6-4 .1 5.5 1.5-6 .3-2.2 1.3 1.7 .5-3.5 1.1-2.6 .6 .4 1-6.6 .8-1.1 .8-1.2 .9-2.4 .7-6.5 1.1 1.7 .5-1.5 1.2 6.6 .4 1.2 1.4 2.1 .2 4.2 1.6 2.9 0 .3 1.5 5 .2-1.4 1.4 3.3 .4 1.2 1.2-.4 .5 2.6 1.1 1.2 .7 1.3 .9-.8 .9 .1 .7-1.5 1 3.2 .6-1.6" fill="none" stroke="#00a95e" stroke-width="4.0" stroke-linejoin="round" clip-path="url(#cc)"/>
<path d="M183.2 2270.7l1.6-1.1 1.6-1.1 1.6 1.1 1.6 2.1 1.6-1.7 1.6-1.5 1.6 2.6 1.6-3 1.6 4.7 1.6-.4 1.6-3.3 1.6 6 1.6-2.7 1.6-3.4 1.5 1.4 1.6-1.1 1.6 1.4 1.6 1.6 1.6-1.5 1.6 4.3 1.6 1 1.6-4.7 1.6 1.4 1.6-4.1 1.6 4.2 1.6-1.3 1.6 .4 1.6-.2 1.6 1.2 1.6 2.2 1.6-2.7 1.6-.4 1.6-.7 1.6 1.1 1.6 4.1 1.6-4.7 1.6-1 1.6-2.1 1.6 1.8 1.6 2.2 1.6 2 1.6-.3 1.6-1.5 1.6 0 1.6 1.3 1.5-2.5 1.6 2.3 1.6 .2 1.6-2 1.6 3.8 1.6-2.4 1.6 2.2 1.6-3.8 1.6 1 1.6 1.8 1.6-1.2 1.6-.7 1.6 2.4 1.6-1 1.6-.4 1.6 1.5 1.6 .4 .6 1.2 1-4.6 0 1.4 1-.4 .6 1.6 .4-.6 .9-3.2 .3 3.5 .7-4.2 .9 2.2 .1 .2 1 .2 .5 1.1 .4-1.5 1 2.4 .2 0 .8-2.8 .8 3 .2-.5 .9-2.5 .5 3.7 .5-1.3 1-2.8 .1 .8 .9-.5 .7 .7 .2 3.1 1-2.5 .4-2.2 .6 4.2 1-4 0 1 1-.8 .6 1 .3-1 1-.5 .2 .3 .8-.9 .8-1 .2-3.2 .9-4 .5-2.3 .5-2.2 1-13.2 .1-.5 .9-11.5 .7-11.2 .2 .5 1-5.9 .4 .1 .6 4.2 1 11.4 0 .7 .9 14 .7 5.2 .3 3.4 1 9.1 .3 1 .7 2.5 .9 .6 .1 1.8 .9 1.9 .6 .8 .4-3.5 1 4.9 .2 1.1 .8-1 .8 .7 .1-1.6 1-.5 .5 2.8 .5-1.3 1 .6 .1 1.5 .8 .8 .8-5.2 .2 4.2 1 0 .4 1 .6-1.9 1 1.3 0-1.6 .9-5.2 .7 8.2 .3-2.9 1 2 .3-.2 .7-1.5 .9-1 0-.1 1 .9 .6-.5 .4-1.3 1 2 .2-.5 .7 2.1 .9-1 .1-.6 1.5 .6 1.6-.3 1.6-2.1 1.6 2.1 1.6-1.1 1.6 3.4 1.6-1.9 1.5-1.6 1.6 4.2 1.6-3.6 1.6 .6 1.6 .2 1.6 1.4 1.6-.6 1.6 1.8 1.6-1 1.6-1.9 1.6 1.2 1.6 1.2 1.6-.1 1.6-1.8 1.6 .9 1.6 .7 1.6-.5 1.6-1 1.6 .9 1.6 1.9 1-1.5 .6 1.6 .8-1.9 .8 1.7 .7-.1 .9-4.4 .6 2.6 1 .7 .4 .9 1.2 .5 .3 1.9 1.3-5.2 .2 2.8 1.4-.1 0 1.6 1.5-3.2 .1-1.1 1.4 2.5 .2-1 1.2 .6 .4 .6 1.1-.5 .5 0 .9 .6 .6 .6 .9-.6 .7 1.3 .8 1.5 .8-5 .6 1.2 1 1.9 .5-2.8 1.1 2 .4 .8 1.2 .3 .2-.5 1.4 .4 .1-5 1.5 3.2 0-.4 1.4 2 .2-3 1.3-1 .3 3 1.2-2.5 .4 3.9 1-3.7 .6 2.4 .9-1.5 .7 .9 .8-1.9 .8-3.3 .6 3.3 1-1.6 .5 .6 1.1-6.4 .4 .2 1.2 .2 .2-1.6 1.4 2.8 .1 .1 1.4 3.1 .1 3 1.4-4.6 .2 4.1 1.3 1.6 .3-1 1.1 1.9 .5 .4 1 1.1 .6 1.4 .9-3 .7 .2 .7 1.7 .9-1.9 .6 3.7 1-3 .5 1 1.1 1.9 .3-4.2 1.3 .3 .2 .8 1.4 1.7 .1 .5 1.4-2.8 .1 3.7 1.4-1.1 .2 1.6 1.3 .8 .2-4.9 1.2 1.9 .4-.9 1.1 0 .5-.9 1 2.1 .6-.4 .8-2.5 .8 1.1 .7 .4 .9 1 .6 1.9 1-1.2 .4-.9 1.2 .6 .3 .8 1.3-2.3 .1 .9 1.5-.2 0 2.7 1.5-2.3 .1 2.5 1.3-1.6 .3 .6 1.2-.7 .4-3.1 1.6 .7 1.6 1.7 1.6 .2 1.6 1 1.6-1.9 1.6 2.2 1.6-2.5 1.6 1.1 1.6 .3 1.6 .2 1.6-.9 1.6 1 1.6-1.7 1.6 2.1 1.6-3.2 1.6 4.7 1.6 .9 1.5-2.2 1.6 .3 1.6-.3 1.6 2.1 1.6-1.3 1.6 1.2 1.6-2.9 1.6 4.7 1.6-4.8 1.6-.8 1.6 3.6 1.6-1 1.6 .8 1.6-3.9 1.6 4.5 1.6 .7 1.6-3.7 1.6 4.2 1.6-4.8 1.6 2.8 1.6-1.2 1.6-2.4 1.6 1.5 1.6 .9 1.6 3.5 1.6-3.3 1.6-2.2 1.6 3.3 1.6 1.3 1.6-3.8 1.6 2.8 0-3 1.1 1.7 .4 2.2 .8-.2 .8-1.2 .4 .6 1.2-2.8 0 3 1.1-4.1 .5 1 .7 .5 .9 2.8 .3-4 1.1 1.6 .2 2.1 1-.7 .6-.1 .6 0 1 1.1 .2-2.5 1.1 1.9 .3 0 .9-.4 .7 .6 .5-3.6 1.1 1.4 0 1.4 1.2-1.7 .4 3.3 .8-2.2 .8-2.2 .4 2.7 1.1-.2 .1-.5 1.1 .5 .5-1.5 .7 0 .9-.9 .2-.7 1.2-3.6 .2 .6 1-1.4 .6-.9 .6-5.2 1-8 .1-.9 1.2-10.4 .3-5.9 .9-10.4 .7-9 .5-3.3 1.1-9.7 0 3.8 1.2 6 .4 .4 .8 11.7 .8 11.2 .3 6.3 1.2 11.3 .1 1.4 1.1 3.5 .5 8 .7-1.2 .9 2.7 .2 .5 1.2 1.7 .2 1.9 1-1.1 .6 2.3 .5-1.5 1.1-1.4 .1 4 1.2-1.3 .3 1.6 .9-1 .6 .7 .5 1 1.1-3.2 .1 3.7 .6-1 .6 .2 .3 1.6 .5-2 .3-1.5 .8 .8 .2 .7 .2 1 1.2-1.2 0 1.4 1.2 3.4 .2-4.8 .2-.6 .7-.5 .4 .4 .5 .3 .3-.5 .6 2.8 .6-1.9 .1 4.4 .7-2.1 .4-2.5 .5 2.6 .4 1.5 .2 .7 1-3.2 .2-1.4 1.2 3.1 .2-2.2 0 .1 .9 3.5 .4-1.3 .3-.7 .5 .5 .6-2.3 .5 2.2 .1-2.3 .8 2.6 .7-2.8 .6 .5 1-.9 .4-.3 1.2 4.8 .2-3.6 1.3 .3 .1-.2 1.3 1 .3-1 1.1 1.4 .5-.8 .8-1 .8 1.6 .6-1.8 1 0 .4 1.2 1.2-2.3 .1 5.4 1.4-6.7 .1-.5 1.3 2.6 .3 2.5 1-5 .6 1.6 .8-3.9 .8 1.4 .6-.4 1-1.5 .3-4.2 1.3 3.6 .1-.6 1.4-1 .1 1.5 1.2-1.6 .4 3.2 1-.5 .6 .6 .8 .8 .7 3.1 .6-2.1 1 1.5 .4-1.1 .6-.1 .6 .1 .2 1 1.2-2.2 .2 .7 0-1.7 1.3-1.5 .3-1.9 .1-.7 1 3 .5-5.4 .5 1.6 .4-2.2 .7-1.7 .6-1.1 .2 4.7 .8 1.2 .4-1.5 .8 .7 .4-1.4 .2 6.4 1.3-4.3 .1 7 1.3-3.3 .3 2.2 .3-.2 .8 1.3 .5 3.9 .6-2.8 .2 0 .8 2.7 .6 .6 .4-1.2 .6-.8 .4 1 .9-.5 .3 1.2 .1-1.2 1.4-.1 .1 3.2 .1-2.9 1.2 .2 .3 2.4 .4-5.8 .6 4.7 .6-1.8 .8 .6 .8-1.2 .6 4.2 .5-2.4 .5-.8 .3 .8 1.2 1.9 .1-2.5 .1-.2 1.4 3.5 .1-3 .3-.5 .9-2.5 .4 3.5 .6 1.1 .4-2.3 .6 .5 .8 1.8 .2-3.5 .6 2.2 .5-1.7 .8 1.5 .3-1.4 .3 1.3 1.3-2 .1 1 1.3 2.5 .2-3.3 .4 1.5 .8 3.8 .4-3.7 .8 .1 .2-2 .6 1.7 .7-.2 .4-.8 .4 .5 .6-4 1 2.3 0 1.5 .4-2.1 1.2-3.2 .3-.9 1.3 .1 .7-1.4 .9 1 1-7.8 .6 1.4 1.4-7 .2 1.1 1.6-5.9 .1-.2 1.5-4 .5 .4 1.1 1.8 .9 2.6 .7 3.2 1.2 3.4 .4-2.4 1.6 7.8 0-1 1.6 5.7 .3 .7 1.3 3.6 .7 .5 .9-.5 1 1.2 .6 3.3 1.4-1.8 .2 1.6 1.6-1.3 .1-.1 1.5 2.8 .5-2.5 1.1-.7 .8 .3 .8 1.7 1.2-.7 .4 .2 1.5-.8 .1 5.6 1.6-5.3 .3 3.7 1.3-3.9 .6 .6 1 .4 1 3.4 .6-3 1.4 1.5 .2 .2 1.6-2.3 .1 1.8 1.5-1.3 .5-.4 1 2.4 .9-2.5 .7-2.2 1.3 3.2 .3 4 1.6-2.8 0-1.7 1.6 2.2 .4-2.3 1.2 .3 .7-.2 .9 .9 1.1-1.1 .5-1.1 1.4 2.1 .2 0 1.6 .5 .2 .2 1.4-2.7 .5 4.2 1.1-.4 .9-1.8 .7 0 1.2-1.8 .4 1.9 1.6-.1M784.6 2287.8l.3 .3 1.3-1.1 1.1 .9 .5-.2 1.6 .5 .4-.6 1.2 1.3 1.2-2.4 .4-1.6 1.6-1 .5 2.2 1 2.8 1.4-2.5 .2 1.1 1.6-1.7 .6 .7 1-.8 1.5-.1 .1 2.9 1.6-2.7 .7 3.3 .9-.7 1-1.6 .6 1.2 0 .9 1.1-.7 .5-.6 .8-.4 .5-1.5 .3 0 1.5 4.3 .1-1 0-.3 1.6 .7 0-1.6 .9 .8 .7-1.1 .2-1.7 1.3 3.9 .2-3.6 .2 .3 1.2 1.1 .6 .8 .5-.9 .5-.2 .7-.2 .9-1.5 .3 2.4 .6 1.3 .7-2.2 1.1 .9 .1-1.4 .4-1.9 1.2-.5 .4 1.3 .4-1.1 1 4 .2-2.6 1.2-1.8 .3-.9 .1 .6 1.1-1 .5 1.7 .1-.8 .4-1.4 .5-1.8 .6 2.6 .3-.9 .5 .3 .5-.6 .3 .5 .4-2.4 .3 1.1 .9-2.2 .6 2.3 .9-.5 .5 .9 .3 .4 .7 2.2 .1-2.5 .4 0 .6 0 .6 1 .3-1.4 .4 .5 .4 1.6 .5 1.8 .1-4.4 1.2 2.2 .3-3.1 0 6 1.5-4.3 .1 2.8 .8-3 .5 2.8 .3 .2 0 .8 1.2-2.5 .4 .1 .1 1.5 .1 1.2 .9-2.8 .5 2.1 .3-1.7 .6-1 .7 .6 .5-3.7 .3 3.5 .8-7.5 .2 4.4 .4-2.5 1-6.2 .5-1.4 .3-.1 .2 .1 .6-.9 .4-4.5 .6 .6 .5-.5 .3 .4 .9-1.5 .4 2.1 .2 .1 1-1.9 .2 3.1 .2-1.3 .1-.7 1.4 7.4 .1-2.7 .4 .3 1 3.1 .2 .9 .1 .7 1.2 .2 .3 .1 .3-.2 .8 .9 .5 .3 .4-2.7 .1-1.6 .5-.3 .6-1.2 .6-.7 .3-4.2 .4 2.1 .3-3.7 .7-3.1 .9-4.2 .6-5.5 .3 3.5 .7-5.5 .5 2.3 .5 .1 .4 2.3 .2-2.6 .3 1.9 .9 8.5 .4 0 .2-1.6 .5 4 .7 1.4 .2 5.8 .1-3.5 1.4 10.3 0-3.4 1.5 7.7 .1-.1 .2 1.5 .7 1.1 .4-.3 .3 .7 .3-1 .9 2.9 .4-1.8 .1-1.5 .4 4.8 .6-3 .5 .1 .6 2.5 .3-1.1 .7 1.8 .8 2 .8-2 .2-1.2 .5 1.9 .3-.2 .6-1.1 .5-.3 .5 .1 .1-1.1 .5 .6 .4-.4 .9 1.6 .3 .5 .3-1.4 1.1-1 .2 2.5 .1-.9 1-1.3 .5 1.1 0-1.2 1.5 1.6 .1 2.1 .2-2.4 .1 1.2 1-1.1 .2 1.3 .4-.5 .9 2.1 .3-1.7 .6-1.3 .6 0 .4 .2 .5-1.7 .2 3.4 .3-1 .6-1.8 .9 5.1 .5-4.4 .2 .3 .8 .2 .2 2.9 .6-1.4 .6 .1 .6 .2 .4-2.6 .5-2.3 .3 4.4 .8 .5 .3-2.1 .8 1.8 .5-2 .2 2.1 1.3-.3 .1-3.4 .1 2.7 1.4 .4 .1-2.4 .2 5.3 1.2-2.2 .2-.9 .6 1.5 1-.2 .9-3 .6 1.5 1.4-.2 .2-1.2 1.6-.8 .1 4.1 1.5-1.1 .5-1.6 1.1 1 .9 .4 .7-1.4 1.2 3.9 .4-4.4 1.6 1.9 0-.6 1.6-1.8 .3 .6 1.3 1.4 .7 1.9 .9 .1 1-2.3 .6-1.3 1.4 1.1 .2-.5 1.5 2.9 .2-1.8 1.4 .4 .6 .4 1-2.3 .9 .4 .7 1.1 1.3 .2 .3-.2 1.6-.2 0 2 1.6 .1 .4-.9 1.2-.6 .7 1.9 .9-5.6 1.1 1.6 .5-2.2 1.5 2.2 .1-3.9 1.6 2.2 .2 1.6 1.4-3.6 .6 .1 .9-3.4 1-2.5 .6-1.4 1.4-4 .2-1.1 1.6 .5 .1-4.9 1.5-.3 .5-.1 1.1 1.4 .8 1 .8 .9 1.2 4.2 .4 1.5 1.5 2.2 .1-3 1.6 7.5 .3 .9 1.3 1.7 .6 1.1 1 2.3 1 1.2 .6-3.9 1.3 4.2 .2-.4 1.6-1.1 .2 3.5 1.4-1.8 .6 .2 1 1.7 .9-3.2 .7 2.6 1.3-1.1 .3 .8 1.6 1.4 0-2.6 1.6-.4 .4-1.7 1.2 3.3 .7-.8 .9-1.2 1.1-.6 .5 1.2 1.4 1.3 .2-1.9 1.6-.5 .2 .7 1.3 2.6 .6 1.7 1-3.7 1 2.6 .6-3.5 1.3 2.7 .3-1.3 1.6 .2 .1 0 1.5 .4 .4-.2 1.2-.1 .8 1.5 .8-1.6 1.2-1.3 .4 .6 1.5 3 .1-3 1.6 2.1 .3-.7 1.3 1.1 .6 .3 1-.6 1-1.7 .6 .8 1.3-1.3 .2 2.3 1.6-2.1 1.6-.1 1.6 3.3 1.6-1.4 1.6 .1 1.6-.3 1.6-1.9 1.6-.9 1.6 1.7 1.6-1.1 1.6 .9 1.6-1 1.5 1.2 1.6-.9 1.6 4.1 1.6-4.7 1.6 .9 1.6-1.1 1.6-.3 1.6 4.8 1.6-3.7 1.6 1.4 1.6-1.8 1.6 1.3 1.6 .1 1.5-.6 1.6 2.5 1.6-3.8 1.6 1.9 1.6 1.4 1.6-.3 1.6-.5" fill="none" stroke="#be70e2" stroke-width="4.0" stroke-linejoin="round" clip-path="url(#cc)"/>
<line x1="873.8" y1="2027" x2="873.8" y2="2682" stroke="#000" stroke-width="2.6" stroke-dasharray="4 4"/>
<line x1="183.2" y1="2025" x2="1077.6" y2="2025" stroke="#262626" stroke-width="2.6"/>
<line x1="183.2" y1="2023.7" x2="183.2" y2="2684.3" stroke="#262626" stroke-width="2.6"/>
<line x1="1077.6" y1="2023.7" x2="1077.6" y2="2684.3" stroke="#262626" stroke-width="2.6"/>
<line x1="183.2" y1="2683" x2="765" y2="2683" stroke="#262626" stroke-width="2.6"/>
<line x1="783" y1="2683" x2="1077.6" y2="2683" stroke="#262626" stroke-width="2.6"/>
<line x1="762.3" y1="2695.4" x2="778.1" y2="2671.6" stroke="#262626" stroke-width="2.2"/>
<line x1="777.5" y1="2695.4" x2="794" y2="2671.6" stroke="#262626" stroke-width="2.2"/>
<line x1="170.2" y1="2669.2" x2="183.2" y2="2669.2" stroke="#262626" stroke-width="2.2"/>
<text font-size="44" text-anchor="end" fill="#1a1a1a" transform="translate(160.8 2681.6) scale(1 1.02)">0</text>
<line x1="177.2" y1="2597.7" x2="183.2" y2="2597.7" stroke="#262626" stroke-width="2.2"/>
<line x1="170.2" y1="2526.2" x2="183.2" y2="2526.2" stroke="#262626" stroke-width="2.2"/>
<text font-size="44" text-anchor="end" fill="#1a1a1a" transform="translate(160.8 2538.6) scale(1 1.02)">2k</text>
<line x1="177.2" y1="2454.7" x2="183.2" y2="2454.7" stroke="#262626" stroke-width="2.2"/>
<line x1="170.2" y1="2383.2" x2="183.2" y2="2383.2" stroke="#262626" stroke-width="2.2"/>
<text font-size="44" text-anchor="end" fill="#1a1a1a" transform="translate(160.8 2395.6) scale(1 1.02)">4k</text>
<line x1="177.2" y1="2311.7" x2="183.2" y2="2311.7" stroke="#262626" stroke-width="2.2"/>
<line x1="170.2" y1="2240.2" x2="183.2" y2="2240.2" stroke="#262626" stroke-width="2.2"/>
<text font-size="44" text-anchor="end" fill="#1a1a1a" transform="translate(160.8 2252.6) scale(1 1.02)">6k</text>
<line x1="177.2" y1="2168.7" x2="183.2" y2="2168.7" stroke="#262626" stroke-width="2.2"/>
<line x1="170.2" y1="2097.2" x2="183.2" y2="2097.2" stroke="#262626" stroke-width="2.2"/>
<text font-size="44" text-anchor="end" fill="#1a1a1a" transform="translate(160.8 2109.6) scale(1 1.02)">8k</text>
<line x1="177.2" y1="2025.7" x2="183.2" y2="2025.7" stroke="#262626" stroke-width="2.2"/>
<line x1="183.2" y1="2683" x2="183.2" y2="2696" stroke="#262626" stroke-width="2.4"/>
<text x="183.2" y="2737.6" font-size="43" text-anchor="middle" fill="#1a1a1a">5</text>
<line x1="241.8" y1="2683" x2="241.8" y2="2689" stroke="#262626" stroke-width="2.4"/>
<line x1="300.4" y1="2683" x2="300.4" y2="2689" stroke="#262626" stroke-width="2.4"/>
<line x1="359" y1="2683" x2="359" y2="2689" stroke="#262626" stroke-width="2.4"/>
<line x1="417.6" y1="2683" x2="417.6" y2="2689" stroke="#262626" stroke-width="2.4"/>
<line x1="476.2" y1="2683" x2="476.2" y2="2696" stroke="#262626" stroke-width="2.4"/>
<text x="476.2" y="2737.6" font-size="43" text-anchor="middle" fill="#1a1a1a">10</text>
<line x1="534.8" y1="2683" x2="534.8" y2="2689" stroke="#262626" stroke-width="2.4"/>
<line x1="593.4" y1="2683" x2="593.4" y2="2689" stroke="#262626" stroke-width="2.4"/>
<line x1="652" y1="2683" x2="652" y2="2689" stroke="#262626" stroke-width="2.4"/>
<line x1="710.6" y1="2683" x2="710.6" y2="2689" stroke="#262626" stroke-width="2.4"/>
<line x1="843.2" y1="2683" x2="843.2" y2="2689" stroke="#262626" stroke-width="2.4"/>
<line x1="901.8" y1="2683" x2="901.8" y2="2689" stroke="#262626" stroke-width="2.4"/>
<line x1="960.4" y1="2683" x2="960.4" y2="2689" stroke="#262626" stroke-width="2.4"/>
<line x1="1019" y1="2683" x2="1019" y2="2689" stroke="#262626" stroke-width="2.4"/>
<line x1="1077.6" y1="2683" x2="1077.6" y2="2696" stroke="#262626" stroke-width="2.4"/>
<text x="1077.6" y="2737.6" font-size="43" text-anchor="middle" fill="#1a1a1a">30</text>
<text x="197" y="2252.7" font-size="33"><tspan font-weight="bold">76</tspan>d</text>
<text x="197" y="2316.6" font-size="33"><tspan font-weight="bold">45</tspan>d</text>
<text x="197" y="2402" font-size="33"><tspan font-weight="bold">14</tspan>d</text>
<text x="197" y="2510.9" font-size="33"><tspan font-weight="bold">4</tspan>d</text>
<text x="197" y="2621.5" font-size="33"><tspan font-weight="bold">0</tspan>d</text>
<text font-size="37.5" text-anchor="middle" fill="#ff4a4a" transform="translate(287.5 2143.8) rotate(-90)">(040) n=3</text>
<polygon points="266,2230 287,2230 276.5,2249" fill="#000"/>
<text font-size="37.5" text-anchor="middle" fill="#1a78e6" transform="translate(406.7 2154.2) rotate(-90)">(040) n=2</text>
<polygon points="383.7,2238.9 404.4,2238.9 394,2259.6" fill="#000"/>
<text font-size="37.5" text-anchor="middle" fill="#ff4a4a" transform="translate(476 2154.2) rotate(-90)">(060) n=3</text>
<polygon points="454.5,2238.9 477,2238.9 465.8,2259.6" fill="#000"/>
<text x="585" y="2196" font-size="42" text-anchor="middle" font-weight="bold">δ</text>
<text font-size="37.5" text-anchor="middle" fill="#1a78e6" transform="translate(646 2151.2) rotate(-90)">(060) n=2</text>
<text font-size="37.5" text-anchor="middle" fill="#ff4a4a" transform="translate(678.2 2147.3) rotate(-90)">(080) n=3</text>
<text font-size="37.5" text-anchor="middle" transform="translate(721 2133) rotate(-90)">(111) High-n</text>
<text font-size="37.5" text-anchor="middle" transform="translate(767 2163.9) rotate(-90)">(111) 2D</text>
<polygon points="630.8,2235.2 651.4,2235.2 641.1,2254.2" fill="#000"/>
<polygon points="648,2235.2 670.4,2235.2 659.2,2254.2" fill="#000"/>
<line x1="741.7" y1="2192.4" x2="725.6" y2="2251.5" stroke="#000" stroke-width="2.2"/>
<polygon points="722.7,2262.1 720.8,2248.1 731.4,2251" fill="#000"/>
<text x="873.2" y="2060.9" font-size="30" text-anchor="middle">#</text>
<text font-size="37.5" text-anchor="middle" transform="translate(975.5 2147.2) rotate(-90)">(202) High-n</text>
<text font-size="48.2" text-anchor="middle" fill="#1a1a1a" transform="translate(98.4 2352.8) rotate(-90)">Intensity (a.u.)</text>
<text x="629.6" y="2811.3" font-size="48" text-anchor="middle" fill="#1a1a1a" letter-spacing="0.3">2 Theta (°)</text>
<clipPath id="cf"><rect x="1375.4" y="2025" width="826.7" height="665.9"/></clipPath>
<text x="1310" y="1960.6" font-size="88" font-family="'Liberation Serif', 'Times New Roman', serif">(f) n=100</text>
<path d="M1375.4 2681.4l2 .2 2-.1 2 .2 2-.2 2 0 2 .2 2-.2 2 .1 2-.2 2 .1 2 .1 2 0 2 .2 2 0 2-.1 2-.1 1.9 .1 2-.2 2-.2 2 0 2 .1 2-.1 2 0 2 .2 2 .1 2 .1 2-.1 2-.1 2 .1 2-.1 2 .3 2 0 2 .1 2-.1 2-.2 2 0 2-.1 2-.1 2 0 2 0 2 .2 2-.2 2 .2 2-.1 2 0 2-.1 2 .1 2 0 1.9 .1 2-.1 2 .1 2 .2 2-.2 2-.3 2 0 2 .2 2 .2 2 .2 2-.3 2-.2 2 0 2 0 2 .1 2 .1 2-.1 2 .1 2-.1 2-.2 2 .1 2 .2 2 0 2 .2 2-.1 2 .1 2-.2 2 0 2-.3 2 .1 2 .1 1.9-.1 2 .1 2-.2 2 .1 2 .1 2-.2 2 .2 2 0 2-.2 2-.1 2 .4 2-.1 2-.1 2 .1 2 .1 2-.1 2 0 2 .2 2-.2 2 0 2-.1 2 0 2 .1 2-.1 2 .2 2-.2 2 .1 2 .1 2-.1 2-.2 2 .2 2 0 1.9 .1 2 0 2-.1 2 0 2 0 2-.1 2 .1 2-.1 2 .1 2 .1 2 .1 2-.2 2-.2 2 .2 2 .1 2-.1 2-.2 2 .2 2-.2 2 .1 2-.1 2 .1 2 0 2 0 2-.2 2 0 2 0 2-.1 2 .1 2-.1 2-.2 2-.2 1.3 0 .3-.1 .3 0 .1 0 .3 .1 .4-.2 .4 .1 .3-.1 .4-.4 .1-.2 .2 .1 .4 .2 .3-.5 .4-.1 .4 0 .3-.2 0 0 .4-.5 .3-.4 .4-.5 .4-.6 .3-.8 .2-.2 .2-.5 .3-1 .4-1.2 .3-2.1 .4-2.9 .4-4.5 0-1.3 .3-5.9 .4-11.4 .3-16.7 .4-21.2 .4-21.6 .2-9.2 .1-.5 .4 9.8 .3 21.4 .4 21.3 .3 16.5 .4 11.5 .1 3.1 .3 4.2 .3 4.5 .4 3 .3 1.7 .4 1.3 .3 1.2 .1 .3 .3 .6 .4 .6 .3 .5 .4 .6 .3 .3 .2 .3 .2 .1 .4 .1 .3 .5 .4 0 .3-.2 .4 .4 0 .1 .4-.1 .3 .2 .4 0 .3 .3 .4 .1 .2 .1 .1 .1 .4 .2 1.5-.2 2 .1 2 .2 2-.1 2 0 2 .3 2 .1 2 .1 2-.2 2 .2 2-.1 2-.3 2 .4 2 0 2-.1 2 .2 2 0 2-.1 2-.1 2 .2 1.9 0 2-.1 2 .1 2-.2 2 0 2 .3 2-.1 2-.1 2-.2 2 .2 2-.2 2 .2 2 .2 2 .1 2 0 2-.3 2 0 2 0 2 .1 2-.1 2 0 2 0 2 .1 2 0 2-.2 2 0 2 0 2-.1 2-.1 2 .1 2 0 2 .4 2-.1 1.9-.3 2 .1 2-.1 2 .2 2 0 2 0 2 0 2 0 2-.1 2 .1 2-.1 2 .3 2-.3 2 .1 2-.1 2 0 2 .1 2 0 2-.1 2-.2 2 .1 2 .2 2-.1 2-.1 2 .2 2 .1 2 .1 2-.2 2 0 1.6 .2 .4-.2 .1 0 .6 .1 .5-.1 .6-.1 .2-.1 .3 0 .6 0 .5 0 .6 .2 0 0 .5-.1 .6-.1 .5 .1 .3 .1 .3 .2 .5 0 .6-.2 .5-.1 .1 .2 .5 .1 .5-.3 .6-.1 .4 0 .1 .3 .6-.2 .5 0 .6 .1 .2 .1 .3-.1 .6-.2 .6-.2 .5-.2 0 0 .6-.2 .5-.7 .6-.2 .3-.3 .2 0 .6 .3 .5 .6 .6 0 .1 .4 .4 .1 .6 .3 .5 .2 .5 0 .1 .1 .5 0 .6-.1 .5-.1 .3 .1 .3 .1 .5 0 .6 0 .5 .3 .1 .1 .5-.2 .5-.1 .6-.3 .4 .1 .1 .1 .6-.1 .5 .1 .6-.2 .2 .1 .3-.1 .6 .1 .5-.1 .6 .2 0-.1 .5 .1 .6-.1 .5-.2 .4 .4 .2 0 .5 .1 1.3-.3 2 .1 2-.3 2 .3 2 0 2 0 2-.1 2 0 2 0 2-.1 2-.1 2 .1 2 .2 2-.2 2 .1 2 0 2-.1 1.9 0 2 .3 2 0 2 0 2-.1 2 .1 2 0 2-.2 2 .2 2 .1 2-.2 2 .2 2-.1 2-.1 2 .2 2-.1 2-.1 2 0 2 .1 2-.2 2-.1 2-.1 2 .1 2 .1 2 .1 2 0 2 0 2 0 2-.2 2 0 2 .2 2 .1 1.9-.1 2-.2 2 .2 2 .1 2 0 2 .2 1.7-.1 .3-.3 .5 0 .9 .1 .6 0 .2 .1 .8-.2 .9 .1 .1 0 .7 .1 .8-.3 .5 .2 .3 .2 .9-.3 .8 .2 0-.2 .8 0 .8 .1 .4 0 .5-.1 .8-.2 .7 .1 .1-.1 .8 0 .9 .1 .2 0 .6-.3 .8 .1 .6 0 .3-.1 .8 0 .8 .1 .1-.3 .7-.1 .9-.1 .4-.2 .4-.2 .8-.8 .8-.9 0 .1 .9-1.4 .8-1 .3-.3 .5-.4 .8 .2 .7 1.1 .2 .1 .8 1.4 .8 1.3 .2 .2 .7 .5 .8 .5 .5 .1 .3 .2 .8 .1 .9 .3 0-.2 .8-.1 .8-.1 .4 0 .4 .1 .9 .1 .7-.2 .1 .2 .8 0 .8 .1 .3-.2 .6 .1 .8-.1 .6 .4 .2-.1 .9-.1 .8-.1 .1 .1 .7-.2 .8 .1 .5 .2 .4-.1 .8 0 .8-.1 0-.1 .8 .1 .9 .1 .3 .1 .5-.3 .8 0 .7 .2 1.9-.1 2 .1 2-.2 2 .2 2 .2 2-.2 2 .1 2-.1 2-.1 2 0 2 .1 2 0 .2-.1 .7 .2 .6 0 .5 .1 .2 0 .7-.1 .6-.1 .5-.2 .2 .1 .7 .2 .6 .1 .5-.1 .2 0 .6-.1 .7 0 .5 0 .2 0 .6-.2 .7 0 .5 .2 .1 .1 .7 0 .7 .1 .5-.2 .1 .1 .7 .1 .6-.3 .6 .2 .1-.4 .7 .1 .6-.3 .6-.2 .1 .1 .7-.3 .6-.5 .6-.7 .1-.1 .6-1.2 .7-1.1 .6-.6 .1 .2 .6 .3 .7 1.1 .6 1 0 0 .7 1 .7 .6 .6 .2 0 0 .7 .2 .7 .3 .6 .4 0-.2 .7-.2 .6 .3 .7 0 0-.2 .7 .1 .6-.1 .7 .1 0-.1 .6 0 .7 .1 .7 0 0 0 .6 .2 .7 .1 .7-.1 0 0 .6 0 .7-.2 .6 .1 .1-.1 .6-.1 .7 .2 .6 .1 .1-.1 .6-.1 .6 0 .7 0 0 .1 2 0 2 .1 2-.4 2 .4 2-.2 2 0 2 0 2-.2 2 0 2-.2 2-.2 .3 .1 .4 0 .3-.1 .4 .1 .4 .1 .2-.1 .1 0 .4 0 .3-.4 .4 0 .3-.2 .4-.2 .1 0 .3 0 .3-.2 .4-.3 .3-.3 .4 .1 .3-.4 .1 0 .3-.4 .4-.6 .3-.6 .4-.8 .3-.9 .2-.6 .2-1 .4-2 .3-3.5 .4-5.3 .3-8.5 .4-12.3 0-.3 .4-15.5 .3-16.1 .4-7.3 .3 7.5 .4 15.8 .2 9.6 .1 6.1 .4 12.3 .4 8.5 .3 5.3 .4 3.4 .3 2.3 .1 .1 .3 1.4 .4 1.2 .3 .5 .4 .9 .3 .4 .3 .3 .1-.2 .3 .4 .4 .3 .4 .4 .3 .2 .4 0 .1-.1 .2 .1 .4 .2 .4 .1 .3 0 .4 .4 .3 0 0 .1 .4 0 .3 0 .4 0 .4 .1 .5 .1 2-.1 2 .2 2 .2 2 0 2 .2 2-.1 2 .1 2 .3 2-.2 1.9-.1 2 0 2 .1 2-.2 2 .1 2 .1 2 0 2 .1 2-.3 2 .2 2 .1 2-.2 2 0 2 .2 2-.2 2 0 2 0" fill="none" stroke="#000" stroke-width="3.8" stroke-linejoin="round" clip-path="url(#cf)"/>
<path d="M1375.4 2567.3l2 .1 2 .1 2-.1 2 0 2 .2 2-.2 2 .1 2-.1 2 .1 2 .1 2 .1 2 0 2-.2 2-.1 2 0 2 0 1.9 .1 2 0 2-.1 2-.1 2 .5 2-.4 2 .4 2-.3 2-.2 2 .1 2 0 2 0 2 0 2 0 2 .1 2 .1 2 0 2 .1 2-.1 2 .2 2-.5 2 0 2 .1 2 0 2 .1 2 0 2 .2 2-.1 2-.1 2-.1 2 0 2 0 1.9 .1 2 0 2 0 2-.1 2-.1 2 0 2 0 2 .2 2 0 2 0 2 .1 2 0 2-.1 2 0 2-.3 2 .2 2 0 2-.2 2 .2 2 0 2-.2 2 .2 2 .2 2 0 2-.2 2 .1 2 .2 2-.2 2 0 2-.1 2 0 1.9 .1 2 0 2 0 2 0 2 .3 2-.4 2 0 2 0 2 0 2 0 2 0 2 .1 2 0 2 0 2 0 2 .1 2-.3 2 .1 2-.1 2 0 2 .1 2-.1 2 .1 2 .1 2 .1 2 .1 2-.3 2 .3 2-.1 2 0 2-.2 2-.1 1.9 .2 2 0 2-.2 2 .2 2 0 2-.3 2-.1 2 .1 2 0 2 .2 2 .2 2 .1 2-.2 2-.2 2 .3 2-.1 2-.1 2 .2 2 0 2-.1 2 .1 2-.2 2 .1 2 .1 2-.1 2-.2 2 0 2 .2 2 0 2-.1 2-.3 2 0 1.3-.3 .3-.1 .3 0 .1 .2 .3-.2 .4-.1 .4-.3 .3-.1 .4 .1 .1 0 .2 .1 .4-.1 .3 0 .4-.3 .4-.4 .3-.3 0-.1 .4-.2 .3-.4 .4-.3 .4-.5 .3-.4 .2-.6 .2-.3 .3-1.1 .4-1.3 .3-1.7 .4-2.6 .4-4.1 0-1.1 .3-5.4 .4-10.4 .3-15 .4-19.1 .4-19.5 .2-8.3 .1-.4 .4 8.8 .3 19.6 .4 19.2 .3 14.9 .4 10.4 .1 2.4 .3 3.9 .3 4.3 .4 2.6 .3 2.1 .4 .9 .3 .7 .1 .1 .3 1.1 .4 .6 .3 .3 .4 .4 .3 .4 .2 0 .2 .2 .4 .2 .3 .2 .4 .1 .3 .1 .4 .1 0 .2 .4-.2 .3 0 .4 .4 .3 .1 .4 0 .2-.4 .1 .3 .4 .3 1.5 .1 2 .1 2 .2 2 .2 2-.3 2 0 2 .1 2 .2 2 .2 2-.2 2-.1 2 .1 2 0 2 .1 2 0 2-.1 2 .1 2 0 2 .1 2 0 1.9-.2 2 .1 2 .1 2 .2 2 .1 2-.1 2-.1 2-.4 2 0 2 .1 2 0 2-.1 2-.1 2 .3 2-.1 2 .1 2 .2 2-.2 2-.2 2 .2 2 .2 2-.2 2 0 2 0 2 .1 2 0 2-.1 2-.1 2 0 2 0 2 .2 2 0 2-.1 1.9-.1 2 .1 2-.2 2 .1 2 .2 2-.2 2 .2 2-.3 2 .1 2 0 2 .2 2 0 2 0 2 .1 2-.3 2 0 2 .1 2-.2 2 .1 2 .2 2-.2 2 .1 2 0 2-.2 2 .1 2-.1 2 .2 2 .1 2 0 2 0 2 0 2 0 1.9-.4 2 .3 2-.1 2 0 2 .1 2 0 2 0 2-.1 2 .3 2-.2 2 .1 2-.2 2-.1 2 .2 2 .1 2-.1 2 0 2 .3 2-.3 2 .1 2 .1 2-.2 2 .2 2 .1 2-.6 2 .3 2-.1 2 .1 2 .3 2 .2 2-.3 1.9-.1 2-.4 2 .2 2 .1 2 .3 2-.1 2-.1 2 0 2 0 2 0 2-.1 2 .1 2 .1 2-.2 2 .1 2-.1 2-.1 2 .1 2-.1 2 0 2 0 2 .1 2 0 2-.1 2 .1 2 .2 2 0 2-.2 2 .2 2-.1 2 0 2 0 1.9-.1 2 .3 2-.1 2-.1 2-.1 2-.1 1.7 0 .3 .2 .5-.1 .9-.1 .6-.1 .2-.1 .8 .4 .9 0 .1-.1 .7 0 .8 0 .5-.2 .3 0 .9 .2 .8-.3 0 0 .8 .2 .8-.2 .4 .3 .5-.1 .8 .1 .7 0 .1 .2 .8 0 .9 .2 .2-.3 .6 0 .8 0 .6 .1 .3-.2 .8-.1 .8-.3 .1-.1 .7-.2 .9-.1 .4-.1 .4-.3 .8-.8 .8-1 0-.2 .9-1.2 .8-1.2 .3-.2 .5-.1 .8 .5 .7 .8 .2 .2 .8 1.4 .8 1.1 .2 .1 .7 .5 .8 .6 .5 .1 .3 .2 .8 .1 .9-.2 0-.2 .8 .3 .8 .1 .4-.1 .4 0 .9 .2 .7 0 .1-.1 .8 .1 .8-.1 .3 .1 .6 .1 .8 0 .6 .1 .2 0 .9 0 .8-.1 .1 .3 .7-.1 .8-.2 .5 .3 .4 0 .8-.1 .8 0 0-.2 .8 .2 .9-.2 .3 .1 .5-.1 .8 .1 .7 .1 1.9-.1 2 .1 2 0 2-.1 2-.1 2-.1 2 0 2 .1 2-.3 2 .2 2 0 2-.1 .2 .1 .7 .2 .6 0 .5-.2 .2 .1 .7 0 .6 .2 .5 .1 .2-.2 .7 0 .6-.1 .5 .1 .2-.1 .6-.1 .7 .1 .5-.1 .2 .1 .6 0 .7 .1 .5-.1 .1-.1 .7 .1 .7-.2 .5 .2 .1 0 .7 .1 .6-.1 .6-.1 .1-.1 .7 0 .6 .2 .6-.2 .1-.4 .7-.1 .6-.3 .6-.4 .1-.3 .6-.3 .7-.4 .6-.6 .1 .1 .6 .1 .7 .7 .6 .4 0-.1 .7 .7 .7 .5 .6 .1 0 .2 .7 .1 .7 .1 .6-.1 0 0 .7 .3 .6 0 .7 0 0 .1 .7 .1 .6-.1 .7 0 0-.2 .6 0 .7 .2 .7-.2 0 .1 .6 0 .7 0 .7-.1 0-.2 .6 .3 .7-.1 .6 .2 .1-.3 .6 .2 .7-.1 .6-.2 .1 .1 .6 .3 .6 0 .7 .2 0-.2 2 .1 2-.2 2 .1 2-.1 2 0 2 .1 2-.2 2-.1 2 0 2-.2 2-.4 .3 .1 .4 .2 .3 .1 .4-.3 .4-.3 .2 .1 .1-.1 .4-.1 .3 .1 .4-.1 .3-.3 .4 .2 .1-.1 .3 0 .3-.1 .4-.4 .3-.2 .4-.3 .3 0 .1-.2 .3-.3 .4-.5 .3-.5 .4-.7 .3-1.2 .2-.7 .2-.8 .4-2.4 .3-3.3 .4-5.1 .3-8.3 .4-12 0 .2 .4-15.4 .3-15.6 .4-6.9 .3 7.1 .4 15.4 .2 9.3 .1 6.3 .4 11.8 .4 8.2 .3 5.3 .4 3.3 .3 2.2 .1 .2 .3 1 .4 1.4 .3 .5 .4 .7 .3 .6 .3 .2 .1-.1 .3 .3 .4 .3 .4 .3 .3 .2 .4 .2 .1 0 .2-.1 .4 .4 .4-.1 .3-.1 .4 .2 .3 .1 0-.2 .4 .3 .3 .2 .4 .1 .4 .1 .5-.3 2 .3 2 .3 2 .1 2 0 2 0 2-.1 2 .1 2 .2 2 0 1.9 0 2-.1 2-.2 2 0 2 0 2 .2 2-.3 2 .1 2-.1 2 .2 2 .1 2-.2 2 .1 2 .1 2-.1 2 .1 2-.2" fill="none" stroke="#ff0000" stroke-width="3.8" stroke-linejoin="round" clip-path="url(#cf)"/>
<path d="M1375.4 2464.6l2-.1 2 .1 2-.1 2-.2 2 .1 2 0 2 .2 2 .1 2 .2 2-.1 2-.2 2 .1 2 0 2-.3 2 0 2 0 1.9 .2 2 0 2 0 2 .1 2 0 2-.3 2 0 2 .1 2 0 2-.1 2 .2 2 0 2-.1 2 0 2 .1 2-.1 2-.1 2 .2 2 .1 2-.2 2-.1 2 .1 2 0 2 .1 2 0 2 .3 2-.4 2 .1 2-.2 2-.2 2 .1 2 0 1.9 .2 2 0 2-.1 2-.1 2 .1 2 .1 2-.1 2 .1 2 0 2 0 2-.1 2 0 2 0 2-.1 2 .1 2 0 2 0 2-.1 2 .2 2 0 2 .4 2 .1 2-.3 2 .2 2-.3 2-.3 2 0 2 .1 2 .1 2 .2 2-.2 1.9 0 2 .1 2 0 2 .1 2 0 2 .1 2 0 2-.1 2-.1 2-.2 2 .1 2 0 2 0 2-.1 2 0 2 .2 2 0 2 0 2 0 2-.2 2 0 2 0 2-.3 2 .2 2 0 2 .1 2 .1 2 0 2-.1 2 0 2 .2 2-.2 1.9-.1 2 .1 2-.1 2 .2 2 0 2 0 2-.1 2-.1 2 .1 2 .1 2-.1 2-.1 2 .2 2 .1 2 .1 2-.1 2-.2 2-.1 2-.1 2 .1 2 .3 2-.2 2 .1 2-.2 2 .1 2-.2 2 0 2-.1 2 0 2 0 2 .1 2 0 1.3-.3 .3 0 .3-.2 .1 0 .3 0 .4-.2 .4 .1 .3-.1 .4 0 .1-.1 .2-.1 .4-.2 .3-.2 .4-.1 .4 0 .3-.4 0 0 .4-.2 .3-.3 .4-.3 .4-.3 .3-.5 .2-.9 .2-.2 .3-.7 .4-1.2 .3-1.4 .4-2.5 .4-3.7 0-1.1 .3-5.2 .4-9.3 .3-13.6 .4-17.5 .4-17.9 .2-7.6 .1-.6 .4 8.1 .3 17.9 .4 17.6 .3 13.6 .4 9.6 .1 2.5 .3 3.5 .3 3.7 .4 2.5 .3 1.5 .4 1.2 .3 .9 .1-.3 .3 .8 .4 .6 .3 .5 .4 .4 .3 .4 .2 .3 .2 0 .4-.1 .3 .1 .4 .4 .3 .1 .4-.1 0 .1 .4 .1 .3 .3 .4 0 .3 0 .4 .2 .2 0 .1-.3 .4 .3 1.5 .2 2 .3 2 0 2-.1 2 0 2 .1 2 .2 2 0 2-.1 2 0 2 .1 2 0 2-.1 2 0 2-.1 2 .1 2 0 2-.1 2 .4 2-.2 1.9 0 2 .1 2 0 2-.1 2-.1 2 .1 2 .1 2 0 2-.3 2 0 2 .1 2 .1 2 0 2 .1 2-.2 2 .3 2-.1 2 .1 2-.2 2 .1 2-.1 2-.1 2 .2 2-.2 2 0 2 .1 2 0 2 0 2 .1 2 .1 2-.2 2-.2 2 .1 1.9 .2 2 .1 2-.1 2-.1 2 0 2-.3 2 .2 2 0 2 .1 2-.1 2 .2 2 0 2-.2 2-.1 2 0 2 0 2 .3 2 0 2-.2 2-.1 2-.1 2 .1 2-.1 2 .2 2 .1 2 .1 2 0 2-.2 2-.1 2 .1 2 .1 2-.1 1.9 0 2 .1 2 .1 2 0 2 0 2-.1 2-.1 2-.1 2 .1 2 0 2 .3 2-.1 2 0 2 .2 2-.4 2-.2 2 0 2 .3 2 0 2 .1 2-.1 2 .1 2-.2 2 0 2 .2 2 0 2-.3 2 .1 2-.1 2 .1 2 .1 1.9 .2 2-.1 2-.1 2 0 2 .2 2-.1 2 0 2 0 2 .3 2-.2 2 0 2-.2 2 0 2 0 2-.1 2-.1 2 .1 2 .3 2-.3 2 .1 2 .1 2 0 2 0 2 0 2-.1 2-.2 2 .1 2 0 2 .1 2 .1 2-.1 2 .1 1.9-.1 2-.1 2 .3 2-.1 2-.1 .4 0 .8-.1 .8-.2 .1 .2 .8 .2 .8-.1 .3 .2 .5-.3 .9 0 .6-.1 .2 0 .8 .4 .9-.1 .1-.1 .7-.1 .8 .3 .5-.3 .3 .2 .9 0 .8-.1 0 0 .8-.1 .8 0 .4-.2 .5 0 .8 0 .7-.1 .1-.1 .8 .1 .9 .1 .2 .3 .6-.2 .8-.2 .6-.2 .3-.1 .8-.5 .8-.7 .1 0 .7-.8 .9-1.4 .4-.7 .4-.4 .8-.7 .8 .6 0 0 .9 1 .8 1.3 .3 .7 .5 .5 .8 .7 .7 .2 .2 .1 .8 .2 .8 .2 .2-.1 .7-.2 .8 .3 .5 .2 .3 .1 .8 .1 .9 0 0-.1 .8 .1 .8-.3 .4-.2 .4 .2 .9 .1 .7 .3 .1-.1 .8-.2 .8 0 .3 .1 .6 .1 .8 .2 .6-.2 .2-.2 .9 .1 .8 0 .1 .1 .7-.2 .8 .1 .5-.1 .4 .2 .8-.1 .8-.2 0 .5 2-.3 2 0 1.9 .1 2-.2 2 0 2 .1 2 0 2 0 2 0 2 0 2 .2 2-.1 2 0 2-.2 .2 0 .7 .1 .6 .3 .5-.1 .2 0 .7 0 .6-.2 .5 0 .2 0 .7-.2 .6-.2 .5 .2 .2 .2 .6 .2 .7 0 .5-.1 .2-.1 .6-.1 .7 .1 .5-.2 .1 .2 .7-.1 .7 0 .5 0 .1 .3 .7-.1 .6-.2 .6 .2 .1 0 .7 0 .6 .1 .6-.3 .1-.1 .7-.3 .6-.6 .6-.3 .1-.3 .6-.5 .7-.7 .6 0 .1 0 .6 .1 .7 .6 .6 .8 0-.1 .7 .6 .7 .4 .6 .4 0-.1 .7 .4 .7-.1 .6 0 0-.1 .7 0 .6 .1 .7 0 0 .1 .7-.2 .6 0 .7 0 0-.2 .6 .3 .7 .1 .7-.2 0 0 .6-.2 .7 0 .7 .2 0 .1 .6-.1 .7 0 .6-.1 .1 .4 .6-.1 .7-.1 .6 0 .1 .1 .6-.1 .6 0 .7-.1 0 0 2-.1 2 .1 2 .2 2-.1 2 0 2-.1 2-.1 2 .2 2-.3 2-.3 2-.2 .3 .2 .4-.1 .3-.1 .4 .2 .4-.1 .2-.1 .1 .1 .4-.2 .3 0 .4-.2 .3 0 .4 0 .1 0 .3 0 .3-.2 .4-.2 .3-.3 .4-.3 .3-.4 .1 .1 .3-.5 .4-.5 .3-.5 .4-.6 .3-1.1 .2-.4 .2-.8 .4-2.1 .3-3.3 .4-5 .3-8 .4-11.5 0-.1 .4-14.6 .3-14.8 .4-6.9 .3 6.9 .4 14.8 .2 8.9 .1 5.8 .4 11.7 .4 8 .3 5.1 .4 3.2 .3 1.6 .1 .3 .3 1.4 .4 1 .3 .6 .4 .5 .3 .2 .3 .6 .1 0 .3 .2 .4 .1 .4 .5 .3 .2 .4 .1 .1 .1 .2 .2 .4-.1 .4 .2 .3 0 .4 0 .3 .1 0 .2 .4 .1 .3 .3 .4-.2 .4 .1 .5-.1 2 0 2 .3 2-.1 2 .1 2-.2 2 .2 2 0 2 .1 2 0 1.9 0 2 .3 2 0 2-.3 2 0 2 .1 2 0 2 0 2 .2 2 0 2-.3 2 .1 2-.1 2 .1 2 .2 2 .1 2-.2" fill="none" stroke="#00ff00" stroke-width="3.8" stroke-linejoin="round" clip-path="url(#cf)"/>
<path d="M1375.4 2369.4l2 .1 2 .1 2-.1 2 .2 2 0 2 0 2-.1 2 .1 2 0 2 0 2-.2 2 0 2 .2 2 0 2-.2 2 0 1.9 .2 2 .2 2-.3 2 .1 2-.2 2 0 2 .2 2-.3 2 .1 2-.1 2 .1 2 0 2 0 2-.1 2 .2 2 0 2-.1 2-.2 2-.1 2-.1 2 0 2 .1 2 .2 2 0 2 .1 2 0 2 0 2 .2 2-.1 2-.1 2-.1 2 .1 1.9 .1 2 .2 2-.2 2-.3 2 .2 2 0 2 0 2-.1 2 .2 2-.2 2 .2 2-.1 2 .1 2 0 2-.1 2 0 2-.1 2 0 2 .2 2 .1 2-.1 2 0 2 .1 2-.2 2 .2 2-.2 2 0 2-.1 2 0 2 .1 2 .2 1.9-.1 2-.1 2-.1 2 0 2 .3 2 .1 2-.4 2-.2 2 0 2 .2 2 .1 2 .2 2-.2 2 0 2 .1 2-.2 2 .3 2 .1 2-.4 2 .2 2-.1 2 0 0-.1 .7 0 .6 .1 .7-.2 0 0 .7 .2 .6-.2 .7 .1 0 .1 .6-.1 .7 0 .7 .1 0-.1 .6 0 .7 .1 .7-.1 0 .1 .6-.1 .7 .1 .6-.1 .1 0 .6 .1 .7-.1 .6 .1 .1-.2 .6 0 .6 .2 .7-.1 .1-.1 .6 .1 .6-.2 .7 .1 .1-.1 .5-.2 .7-.5 .7-.7 .1 .1 .5-.5 .7-.7 .7-.2 .1-.1 .5 .2 .7 .5 .6 .7 .1 .2 .6 .6 .7 .2 .6 .1 .1 .1 .6 .1 .6 .1 .7 .1 .1 0 .6 .1 .6 0 .7-.1 .1 0 .6 0 .6 0 .7 .2 .1 0 .5 .1 .7 0 .7-.1 .1 0 .5 .1 .7-.3 .6 0 .2 .3 .5 0 .7-.2 .6 0 .2 0 .5 0 .7 .1 .6-.1 .2-.1 .5 .1 .6 0 .7-.1 .2-.1 .5 .2 .6-.1 .7 0 .2 .1 .4-.1 .7 .1 .7 .1 .2-.1 .4 0 .7 0 .6-.4 .3 0 .4 .1 .7 .1 .6 .1 .3-.2 .4 .2 .7-.1 .6-.4 .3-.2 .4-.1 .6-.6 .7-.7 .3-.4 .4-.2 .6-.1 .7 .4 .3 .1 .3 .4 .7 .4 .7 .7 .3 .1 .3 .2 .7 .2 .7 0 .3 .3 .3-.3 .7 .3 .6-.1 .4 .2 .3 .1 .7-.1 .6 .1 .4 .2 .3 0 .6-.2 .7 0 .4 .1 .3-.2 .6 0 .7 0 .4 0 .3 0 .6-.1 .7 0 .4 .2 .2 0 .7-.1 .7 0 .4-.1 .2 0 .7-.3 .6 .3 .5 .2 .2-.3 .7-.1 1.1 .1 2-.2 2 .2 2 0 2-.1 2-.1 1.3-.2 .3-.2 .3-.1 .1 .1 .3 0 .4-.3 .4 .2 .3-.3 .4 .1 .1-.3 .2 .1 .4 0 .3-.1 .4-.3 .4-.1 .3-.1 0-.1 .4-.5 .3-.3 .4-.4 .4-.5 .3-.6 .2-.5 .2-.3 .3-.9 .4-1.4 .3-2 .4-3 .4-4.4 0-.9 .3-5.8 .4-10.8 .3-15.6 .4-20.2 .4-20.6 .2-8.8 .1-.5 .4 9.3 .3 20.6 .4 20.3 .3 15.6 .4 10.9 .1 2.7 .3 4.1 .3 4.3 .4 2.8 .3 2 .4 1.5 .3 .8 .1 0 .3 .9 .4 .5 .3 .4 .4 .4 .3 .4 .2 .1 .2 .3 .4 .1 .3 0 .4 .4 .3 .2 .4 .4 0-.1 .4 .1 .3 .1 .4-.1 .3 0 .4 .1 .2-.1 .1 0 .4 .2 1.5 .5 2 .2 2 0 2 .1 2-.1 2 0 2-.1 2-.1 2 .2 2 .3 2 0 2-.2 2-.1 2 .2 2-.1 2-.2 2-.1 2 .3 2-.1 2 .2 1.9 0 2 .1 2 .1 2 .1 2-.2 2-.3 2 .1 2 0 2-.1 2 0 2 0 2 .3 2 .1 2-.1 2-.1 2 0 2 .2 2-.2 2 0 2 .2 2-.1 2 .1 2-.4 2 0 2 .2 2-.2 2 0 2 .1 2 0 2-.1 2 .1 2 0 2-.1 1.9 .3 2-.1 2-.2 2 0 2 0 2 .1 2 .1 2 .1 2-.2 2 .1 2-.1 2 0 2 0 2 .1 2-.1 2 0 2 .1 2-.1 2 .2 2 .1 2-.2 2 .1 2 .1 2 0 2 0 2 .2 2-.2 2-.3 2 .1 2 0 2 .1 2 0 1.9 0 2-.1 2 .1 2 0 2 0 2 .1 2 .2 2-.2 2 0 2-.2 2-.1 2-.1 2 .3 2 .1 2 .2 2-.1 2-.1 2 .1 2-.3 2 0 2 .1 2-.1 2 0 2 0 2-.1 2 .1 2 .1 2-.2 2 0 2 .1 2-.1 1.9 .3 2-.3 2 0 2 0 2 .1 2 0 2-.2 2 0 2 .3 2 0 2 0 2 0 2-.2 2 .1 2 .2 2-.1 2 0 2-.2 2 .2 2-.3 2 .3 2-.2 2 0 2 .1 2 0 2-.1 2 .2 2 .2 2 0 2-.2 2-.2 2 .1 1.9 .1 2-.1 2 .2 2 0 2 0 .4-.1 .8-.1 .8 .1 .1-.2 .8-.1 .8 .2 .3 .1 .5 0 .9-.2 .6 .1 .2-.1 .8-.1 .9 .2 .1-.2 .7 .1 .8 .1 .5 0 .3-.2 .9 .1 .8 0 0-.1 .8 .1 .8-.1 .4 0 .5 0 .8-.3 .7 .3 .1 .1 .8 0 .9-.4 .2 0 .6 .3 .8-.2 .6-.2 .3-.2 .8-.5 .8-.7 .1 0 .7-.8 .9-1.4 .4-.7 .4-.5 .8-.6 .8 .2 0 .2 .9 1.2 .8 1.2 .3 .6 .5 .6 .8 .6 .7 .6 .2 0 .8 .4 .8 .1 .2-.1 .7 .3 .8-.2 .5 .2 .3 0 .8 0 .9 0 0 0 .8 .1 .8-.1 .4 .1 .4-.2 .9 .1 .7 .1 .1-.1 .8-.1 .8 .1 .3 0 .6-.3 .8 .3 .6 0 .2 .1 .9 .2 .8-.1 .1 0 .7-.1 .8-.3 .5 .1 .4 0 .8 0 .8 0 0-.1 2 .2 2 .2 1.9 0 2-.3 2 .2 2 0 2 .1 2 .1 2-.4 2 .1 2-.1 2 .2 2-.1 2-.1 .2 .3 .7-.3 .6 .1 .5-.2 .2 0 .7 .1 .6-.3 .5 0 .2 .3 .7 0 .6 .1 .5 .2 .2 0 .6-.1 .7-.1 .5 .1 .2-.1 .6 0 .7 .1 .5-.3 .1 .1 .7 .1 .7-.2 .5 0 .1 .1 .7-.2 .6 .1 .6-.2 .1 .1 .7 .2 .6-.5 .6 0 .1 .1 .7-.4 .6-.3 .6-.8 .1-.1 .6-.9 .7-.6 .6-.3 .1 .1 .6 .2 .7 .8 .6 .6 0 .4 .7 .5 .7 .5 .6 .4 0 .2 .7 .2 .7-.2 .6-.1 0 .1 .7 .1 .6 0 .7 .1 0 0 .7 0 .6 0 .7-.2 0 .3 .6 .1 .7-.1 .7-.1 0-.4 .6 0 .7 .4 .7 .4 0-.1 .6-.2 .7 .1 .6 0 .1-.2 .6 0 .7 .1 .6 0 .1 0 .6-.2 .6 .1 .7-.2 0 .3 2-.1 2-.2 2 .1 2-.1 2 .2 2 0 2-.3 2 .2 2 .1 2-.2 2-.3 .3-.1 .4 0 .3-.2 .4-.2 .4-.1 .2 .2 .1 0 .4-.1 .3-.1 .4-.1 .3 .1 .4 0 .1-.1 .3-.5 .3-.1 .4-.3 .3-.2 .4-.3 .3-.2 .1-.2 .3-.5 .4-.7 .3-.5 .4-.8 .3-1.3 .2-.7 .2-1.2 .4-2.5 .3-3.9 .4-6.5 .3-10.2 .4-14.8 0-.1 .4-18.5 .3-19.1 .4-8.8 .3 8.9 .4 18.9 .2 11.6 .1 7.6 .4 14.3 .4 10.1 .3 6.4 .4 3.9 .3 2.6 .1 .4 .3 1.4 .4 1.2 .3 .8 .4 .9 .3 .7 .3 .3 .1 .1 .3 .2 .4 .3 .4 .3 .3 .5 .4 .3 .1 0 .2 .1 .4 .1 .4 0 .3 .2 .4 .2 .3 .1 0-.1 .4-.1 .3 .1 .4 .2 .4 0 .5 0 2 .3 2-.1 2 .2 2-.2 2 0 2 .2 2 0 2 .1 2 .1 1.9 .1 2 0 2 .1 2 0 2 0 2 .1 2-.2 2-.1 2-.3 2 .3 2 0 2 0 2 0 2-.2 2 .4 2-.1 2 .1" fill="none" stroke="#0000ff" stroke-width="3.8" stroke-linejoin="round" clip-path="url(#cf)"/>
<path d="M1375.4 2262.3l2 .1 2-.2 2 .3 2 .4 2-.2 2-.1 2-.3 2 .1 2 0 2 .1 2-.2 2 .3 2 .1 2-.3 2 .1 2 .2 1.9 0 2-.1 2 0 2 0 2 0 2-.1 2-.1 2 .1 2 .2 2-.1 2-.2 2 .1 2 .2 2-.2 2 0 2-.1 2 .2 2-.1 2 0 2 .1 2 0 2-.1 2 .1 2-.1 2 .2 2-.1 2-.1 2 0 2-.1 2 .2 2-.2 2 0 1.9 .2 2-.1 2-.1 2 .2 2-.1 2 .1 2-.1 2 0 2 .3 2-.2 2 .1 2-.2 2 .3 2-.2 2 0 2 .2 2 0 2-.1 2-.1 2-.1 2 .1 2 .1 2-.4 2-.1 2 .2 2 0 2 .2 2 .1 2 0 2-.3 2 0 1.9 .2 2-.3 2 .3 2-.1 2 .1 2 0 2-.1 2 0 2-.1 2 .1 2 .1 2 0 2-.2 2-.2 2 .1 2-.1 2 .3 2 .3 2-.1 2-.3 2-.1 2 .1 0 .1 .7 .1 .6 .3 .7-.2 0-.2 .7 .1 .6-.1 .7-.1 0 .4 .6-.2 .7-.1 .7 0 0 0 .6-.2 .7 .3 .7-.1 0-.3 .6-.1 .7 .1 .6 0 .1 .2 .6 0 .7 0 .6-.3 .1 .1 .6 .2 .6-.1 .7 0 .1 0 .6 0 .6-.1 .7-.3 .1 .1 .5-.2 .7-.5 .7-.8 .1-.2 .5-.5 .7-1.2 .7-.2 .1 0 .5 .4 .7 .9 .6 .7 .1 0 .6 .7 .7 .5 .6 .4 .1 0 .6 .2 .6 .1 .7-.2 .1 .1 .6 .1 .6 0 .7 .1 .1-.1 .6 0 .6 0 .7 0 .1-.1 .5-.1 .7 .1 .7 .4 .1-.2 .5 .4 .7 .1 .6-.3 .2-.3 .5 .2 .7 .1 .6-.2 .2 0 .5-.1 .7 .1 .6 .3 .2-.2 .5-.3 .6 .2 .7 .1 .2 .1 .5-.1 .6-.2 .7 0 .2-.1 .4 .1 .7 .2 .7-.1 .2 0 .4-.2 .7 .2 .6-.1 .3 0 .4 0 .7-.1 .6 0 .3-.2 .4 .1 .7 0 .6-.4 .3-.1 .4-.1 .6-.7 .7-1.1 .3-.4 .4-.3 .6-.5 .7 .5 .3 .4 .3 .2 .7 .7 .7 .7 .3 .4 .3 .3 .7 .3 .7 .2 .3 .1 .3 0 .7 0 .6 .2 .4 0 .3 0 .7-.2 .6 0 .4 0 .3 .1 .6-.2 .7-.1 .4-.2 .3 .3 .6 .2 .7 .1 .4-.2 .3-.1 .6 .1 .7 .1 .4 0 .2 0 .7-.3 .7 0 .4-.1 .2 .2 .7 .1 .6 0 .5-.1 .2 .2 .7 .1 1.1 0 2 .1 2-.3 2 0 2-.3 2 .1 1.3-.3 .3 .1 .3-.2 .1-.1 .3-.1 .4 .1 .4 .2 .3-.3 .4-.1 .1 .1 .2-.1 .4-.2 .3-.2 .4-.3 .4-.2 .3-.3 0 .1 .4-.4 .3-.2 .4-.4 .4-.3 .3-.5 .2-.4 .2-.4 .3-1 .4-1.1 .3-1.8 .4-2.6 .4-4 0-1.3 .3-5.3 .4-9.9 .3-14.6 .4-18.9 .4-19.1 .2-8.5 .1-.3 .4 9 .3 18.9 .4 18.7 .3 14.7 .4 9.9 .1 2.4 .3 3.8 .3 4.3 .4 2.6 .3 1.9 .4 1.3 .3 .9 .1 0 .3 .6 .4 .7 .3 .5 .4 .4 .3 0 .2-.1 .2 .3 .4 .3 .3 .7 .4 .2 .3-.1 .4 .3 0-.2 .4 .1 .3 0 .4 .1 .3 .1 .4 .1 .2-.2 .1 .1 .4 .3 1.5 .1 2-.1 2 .2 2 0 2 .1 2 0 2 0 2 .1 2-.1 2 .1 2 0 2 .1 2 0 2 0 2 0 2-.1 2 .4 2-.1 2 .1 2-.2 1.9 .2 2 0 2-.1 2 0 2-.1 2-.1 2-.2 2 0 2 .2 2 .1 2 0 2 0 2-.2 2 .1 2 0 2-.1 2-.1 2 .1 2 0 2 0 2 0 2 .2 2-.1 2 .2 2 0 2 0 2 .3 2-.2 2-.2 2 0 2-.2 2 .3 2-.3 1.9 .2 2-.2 2 .2 2-.1 2 0 2 0 2 0 2 .1 2 0 2-.1 2 .2 2-.1 2 .1 2-.2 2 .2 2-.2 2-.3 2 .4 2-.2 2 0 2 .1 2 0 2 .1 2 0 2 0 2 0 2 0 2-.1 2 .1 2-.1 2 .2 2-.2 1.9 0 2 0 2 .3 2-.4 2 .1 2 0 2-.1 2 .2 2 0 2 .1 2-.2 2 .1 2 .1 2-.1 2 0 2-.1 2 0 2-.1 2 .2 2-.1 2 0 2 .3 2 0 2 .1 2-.1 2-.3 2 0 2-.1 2 .1 2 0 2 .1 1.9 .1 2 .2 2-.3 2 0 2 .1 2-.2 2-.1 2 .3 2 0 2 .1 2 0 2-.1 2-.2 2 .1 2 0 2 0 2 .2 2-.1 2 0 2-.1 2 .1 2 0 2 0 2-.4 2 .4 2-.1 2 0 2-.1 2 .1 2-.1 2-.1 2-.1 1.9 .2 2 0 2 0 2-.1 2 .2 .4 0 .8-.1 .8-.1 .1 .4 .8-.2 .8-.2 .3 0 .5 .2 .9 0 .6 0 .2-.1 .8-.1 .9 .2 .1-.1 .7 0 .8 .1 .5-.2 .3 .3 .9-.2 .8 .1 0 .2 .8-.3 .8 0 .4-.1 .5-.1 .8-.1 .7 0 .1 0 .8 .1 .9-.1 .2-.1 .6 .2 .8 0 .6-.2 .3-.2 .8-.6 .8-.7 .1 .1 .7-.9 .9-1.3 .4-.9 .4-.6 .8-.4 .8 .6 0 0 .9 1 .8 1.3 .3 .4 .5 .6 .8 .9 .7 .4 .2 0 .8 .2 .8 .3 .2-.2 .7 0 .8 0 .5 .1 .3-.1 .8 0 .9 .2 0 0 .8-.1 .8 .2 .4 .1 .4 0 .9-.1 .7 .1 .1-.1 .8 0 .8 0 .3-.1 .6 .2 .8-.1 .6 0 .2 0 .9 .1 .8 0 .1-.1 .7 0 .8 .1 .5 0 .4 .1 .8 .1 .8 .2 0 0 2-.4 2 .2 1.9-.1 2 0 2 0 2 .1 2 .1 2-.2 2-.1 2-.1 2 0 1.3 .1 .7 .1 .1 .1 .8 .1 .8-.1 .3-.1 .6-.1 .8 0 .6 .1 .2 0 .8 .1 .9-.1 .1-.1 .7 .2 .8-.2 .5 0 .4 .1 .8 .1 .8-.1 0-.2 .8 .1 .9 0 .3-.3 .5 0 .8-.1 .7 .3 .1 0 .9 0 .8 .2 .2-.1 .6-.1 .8 0 .6-.1 .3-.4 .8 0 .8-.2 .1-.1 .8-.7 .8-.7 .4-.4 .4-.6 .8-1.2 .8-.4 .1 0 .8 .4 .8 .9 .3 .5 .5 .6 .9 1 .6 .5 .2-.2 .8 .4 .8 .5 .2 .2 .7 0 .8-.2 .5 .2 .3 .2 .9 0 .8-.2 0 .1 .8-.1 .8-.3 .4 .1 .5 .1 .8-.1 .7-.1 .1 .4 .8 0 .9 .2 .2-.1 .6-.1 .8 .1 .6 0 .2 0 .9 0 .8-.3 0 .2 .8-.2 .9 0 .3 .1 .5-.1 .8 .2 .7-.5 .1 .3 .9 .1 1 .2 2-.2 2 .1 2-.2 2 .2 2 0 2-.2 2-.3 2 0 .3 0 .4-.2 .3 0 .4 .1 .4-.3 .2 0 .1 .2 .4 0 .3-.1 .4 0 .3-.2 .4-.3 .1 0 .3-.2 .3-.3 .4-.3 .3-.3 .4-.1 .3-.1 .1 .1 .3-.6 .4-.5 .3-.6 .4-.8 .3-1.2 .2-.6 .2-.7 .4-2.5 .3-3.7 .4-5.7 .3-9.2 .4-13.1 0 0 .4-16.7 .3-16.9 .4-7.8 .3 7.6 .4 17 .2 10.2 .1 6.9 .4 12.9 .4 9.2 .3 5.6 .4 3.6 .3 2.4 .1 .4 .3 1.1 .4 1.1 .3 .5 .4 .9 .3 .6 .3 .3 .1 0 .3 .7 .4 .2 .4 0 .3 0 .4 0 .1 .5 .2-.1 .4 .2 .4 .3 .3 .3 .4-.1 .3 0 0 0 .4 .1 .3 0 .4 .3 .4 0 .5-.1 2 0 2 .2 2 .2 2-.1 2 .3 2-.3 2 .1 2 .1 2 .1 1.9 0 2 .1 2-.1 2 .1 2 0 2 .1 2-.1 2-.1 2 .2 2-.1 2 0 2 0 2 .1 2-.3 2 0 2 .1 2-.2" fill="none" stroke="#00ffff" stroke-width="3.8" stroke-linejoin="round" clip-path="url(#cf)"/>
<path d="M1375.4 2163.4l2 .1 2 .1 2-.2 2-.1 2 .1 2-.1 2 .3 2 0 2-.1 2-.1 2 0 2 0 2-.1 2 .2 2 0 2-.2 1.9 0 2 .2 2-.2 2 .2 2 .1 2-.2 2 0 2 .1 2 .3 2-.2 2-.2 2-.1 2 .1 2 .1 2-.2 2-.1 2 .4 2 0 2-.2 2 .1 2 .1 2-.1 2 .3 2 .1 2-.2 2 0 2 .1 2-.2 2 0 2 .1 2-.1 2 0 1.9 0 2-.1 2 .2 2-.1 2 .1 2-.1 2-.2 2 .2 2 0 2-.1 2 .1 2 .1 2-.3 2 .1 2 0 2 0 2-.1 2 0 2-.1 2 .3 2-.1 2 .3 2-.2 2-.2 2 0 2 .2 2 .1 2-.2 2 0 2 0 2 .1 1.9-.2 2 0 2 0 2 .1 2-.2 2-.1 2-.2 2 .1 2 .3 2 .2 2-.1 2 0 2 .1 2 .1 2-.1 2-.1 2-.2 2-.2 2 .2 2 .3 2-.1 2 0 2 0 2-.4 1 .1 .5-.1 .5 0 .1-.1 .5-.1 .6 0 .5 0 .3 .2 .3 .1 .5 .1 .6-.1 .5-.2 .1 .1 .5 0 .5-.1 .6 0 .4-.1 .1 0 .6-.1 .5-.3 .6 0 .2 0 .3-.1 .6 0 .5 0 .6-.5 0 0 .5-.5 .6-.7 .5-.7 .4-.9 .2-.8 .6-2.9 .5-4.6 .6-6.8 .1-1.3 .4-7 .6-8 .5-3.2 .4 2.5 .2 1 .5 7.6 .6 8.4 .5 6.6 .2 2.2 .4 2.4 .5 3.2 .6 1.6 .5 1 0 .2 .6 .3 .5 .3 .6 0 .3 .6 .2 .2 .6 0 .5-.1 .6 .2 .1 .1 .4 .1 .6 0 .5 .3 .5 .1 .1-.2 .5 0 .6 0 .5 0 .3 0 .3 .1 .5 .2 .6-.1 .5-.1 .1 .1 .5-.2 .5 0 .6 0 .4 .3 2 0 2 .2 2 0 2-.3 2-.2 2 .3 2 0 2 .2 2 .2 2-.1 2-.1 2 0 .9 .1 1.1 0 0 0 1.1-.1 .9 .1 .3-.3 1.1 .1 .6-.3 .5-.1 1.1 .2 .4 .1 .7-.2 1.1 0 .2 .2 .9 0 1.1 .2 1.1-.1 .9 0 .2-.1 1.1-.1 .7 .2 .4 0 1.1-.3 .5 .2 .6 .1 1.1 .1 .3 0 .8 .1 1.1 0 .1-.3 1 0 .9-.1 .2 0 1.1 .1 .7-.2 .4-.2 1.1 0 .5-.3 .6 .1 1.1-.3 .3-.1 .8-.5 1.1-.8 .1 .1 1-.6 1-.1 .1 .1 1.1 .3 .8 .2 .3 .2 1.1 .8 .6 .2 .5 .1 1.1 .4 .4 .3 .7 .1 1.1 .2 .2 0 .9 .1 1.1-.1 0-.1 1.1 0 .9 .1 .2-.1 1.1 .1 .7 0 .4 .1 1.1 .1 .5-.2 .6 0 1.1 .1 .3-.2 .9 0 1.1 .3 0-.1 1.1-.2 .9-.1 .2 .3 1.1 0 .7-.1 .4 0 1.1 .2 .5-.1 .6 .1 1.1 0 .3 0 .8 0 1.1 .1 .1 0 1 0 1 0 .1-.1 1.1-.3 .8 .1 2 .2 2-.1 2 0 2-.2 2 .1 2 0 2-.1 2-.1 1.9 .2 2-.1 2 0 2 .2 1.7 .1 .3-.2 .3 0 .5 0 .6 0 .5-.1 .1 .1 .5-.1 .5 .1 .6 0 .4 0 .1 0 .6-.3 .5 .1 .6 .2 .2 .1 .3-.1 .6-.1 .5 .1 .6-.1 0 0 .6 .1 .5 .3 .6-.3 .3 .1 .2 0 .6 .1 .5-.2 .6 .1 .1-.3 .4 .2 .6 0 .5-.3 .5 .1 .1-.3 .5-.1 .6-.6 .5-.3 .3 .2 .3 .1 .5 0 .6 .2 .5 .3 .1 0 .5 .3 .5 .3 .6 .1 .4 .2 .1 0 .6-.1 .5 .2 .6-.3 .2 .1 .3 0 .6-.1 .5 .2 .6 0 0-.3 .5 0 .6 .3 .5 .1 .4 0 .2 0 .5 .1 .6-.2 .5 0 .2-.1 .4-.2 .5 0 .6 .2 .5 0 0 0 .6 .1 .5-.2 .6 0 .3 .1 .3 .1 .5 0 1.2 .1 2 0 2-.3 2 .1 2 0 2-.1 2 .1 2 0 2 .1 2-.2 2 .1 2 0 1.9 .2 2-.2 2 .2 2-.1 2 0 2 0 2-.1 2 .3 2-.1 2 .2 2 0 2-.1 2-.1 2-.2 2-.1 2 0 2-.1 2 0 2 .2 2-.3 2 .1 2 .2 2 .1 2 .1 2-.2 2-.1 2 0 2-.1 2-.2 2 0 2 .1 2 .2 1.9 .1 2 .1 2-.1 2-.1 2 0 .6 .2 .8-.2 .6 .1 .2 0 .8-.2 .9 .2 .1 0 .7-.3 .8 .3 .5 .1 .3-.1 .9 .1 .8-.1 0 0 .8 .1 .8-.2 .4 0 .5 0 .8 0 .7 0 .1 0 .9 0 .8-.1 .2-.1 .6 .4 .8-.3 .6 .2 .3-.1 .8-.2 .8-.3 .1 .3 .7 .1 .9-.1 .4-.3 .4 0 .8-.5 .8-.6 0 .1 .9-.7 .8-1.3 .3-.1 .5-.8 .9-.7 .6 .4 .2 .3 .8 1.2 .8 1 .2-.1 .7 .8 .8 .5 .5 .5 .3 .2 .8 .1 .9-.1 0 .1 .8 .1 .8 .4 .4-.2 .4 0 .9-.1 .7 0 .1 .2 .8-.1 .9-.1 .2 0 .6-.1 .8 .5 .6-.3 .2 .3 .9-.2 .8 0 .1-.2 .7 0 .8-.1 .5 .2 .4 .1 .8-.1 .8 .1 0 .1 .8 0 .9-.2 .3-.3 .5 .1 .8 .1 .7 .2 .2-.3 1.8 .2 1.9 0 2-.1 2 .2 2 0 2-.1 2-.3 2 .4 2 .2 2-.2 2-.2 2-.1 2 .2 2-.2 2 .3 2 0 2 .2 2-.3 2 0 2 0 2-.2 2 0 2 .1 2-.1 2 .2 2 .1 2-.1 2-.1 2-.1 2 .1 2-.1 2 .1 2 .1 1.9-.3 2 .2 2 .1 2 .1 2-.4 .4 0 .8 0 .8 .2 .1-.1 .8 0 .8 0 .3 .3 .5 .1 .9-.1 .6-.1 .2-.3 .8 .1 .9 .1 .1-.2 .7 .2 .8-.1 .5 .2 .3 0 .9-.2 .8-.1 0 .1 .8 0 .8-.1 .4 0 .5 .1 .8 0 .7 0 .1-.1 .8 0 .9 .1 .2 .1 .6-.1 .8 .1 .6-.2 .3 0 .8-.2 .8-.5 .1 .2 .7-.2 .9-.2 .4-.3 .4-.4 .8-.1 .8 0 0 .2 .9 .4 .8 .4 .3 .3 .5 .2 .8 .3 .7-.2 .2 .1 .8 .1 .8-.1 .2 .1 .7 0 .8 .1 .5 .1 .3 .1 .8-.2 .9-.1 0 .2 .8-.1 .8 .1 .4-.1 .4-.2 .9 .3 .7-.1 .1 0 .8 .1 .8-.1 .3-.1 .6 .1 .8 .2 .6 0 .2 .1 .9-.1 .8 .2 .1-.3 .7-.2 .8-.2 .5 0 .4 .2 .8 0 .8 .2 0-.1 1.7 0 .3 0 1.3 .1 .7 0 1 .1 .9-.1 .7-.1 1.3-.1 .4 0 1.6 .3 0-.1 1.7-.1 .3-.1 1.3-.1 .7-.2 1 .1 1 .3 .6-.1 1.4 .2 .3 0 1.7-.1 0-.2 1.6 0 .4 .2 1.3-.2 .7 0 .9 .2 1.1 0 .6 0 1.4-.4 .2-.1 1.7-.1 .1 0 1.5-.3 .5-.1 1.2-.4 .8-.3 .8-.5 1.2-.7 .5-.4 1.5-1.3 .1-.1 1.7-1.4 .2-.3 1.4-.4 .6 .1 1.1 .5 .9 .6 .8 .8 1.2 .9 .4 .5 1.6 1 .1 .2 1.6 .7 .3 .4 1.4 .3 .6 .1 1 .3 1 .1 .7-.1 1.3 .3 .3 0 1.7 0 0 0 1.6 .1 .4 .1 1.3 0 .7 0 .9-.1 1.1-.3 .6-.1 1.4 .2 .2 .1 1.7 0 0 0 1.7 0 .3-.1 1.3 0 .7 .1 1-.1 1-.2 .6 .2 1.4 .1 .3 .1 .8 .2 .8-.2 .1 0 .7 .1 .9 0 .4 .1 .4-.2 .8 .2 .8-.1 .1 0 .8-.1 .8-.1 .3 0 .5 .1 .9 .3 .6-.2 .2 0 .8-.1 .8 .2 .2 0 .7 0 .8-.3 .5-.1 .3 .2 .9 0 .8 0 0-.1 .8 .2 .8-.1 .4-.1 .5-.2 .8 0 .7-.1 .1 0 .8-.3 .9-.6 .2-.2 .6-.4 .8-1 .6-.6 .2-.2 .9-.3 .8 .3 .1 .1 .7 .9 .9 .8 .4 .3 .4 .3 .8 .5 .8 .3 0 .1 .9 .2 .8 .1 .3 0 .5-.2 .8 .2 .7 .1 .2 .2 .8-.1 .8-.3 .2 .1 .6-.1 .9 .3 .5 .2 .3-.2 .8-.1 .9-.1 0 .2 .8 .1 .8-.1 .4 .2 .4-.2 .9 .2 .7-.2 .1-.1 .8-.1 .8 .2 .3-.1 .6 .2 .8-.1 .6-.2 .2 0 .8 .1 .9 0 .1 0 2 0 2 0 1.9 0 2-.1 2-.1 2 .2 2 .1 2-.1 2 .1 2 .1 2 0 2-.1 2-.2 2 .1 2 .1 2-.2 2 .1 2-.1 2 .1" fill="none" stroke="#ff00ff" stroke-width="3.8" stroke-linejoin="round" clip-path="url(#cf)"/>
<line x1="1597" y1="2165" x2="1597" y2="2688.9" stroke="#aaa" stroke-width="1.8" stroke-dasharray="2 3"/>
<line x1="2087.7" y1="2030" x2="2087.7" y2="2073" stroke="#000" stroke-width="2.6" stroke-dasharray="4 4"/>
<line x1="2087.7" y1="2119" x2="2087.7" y2="2689.9" stroke="#000" stroke-width="2.6" stroke-dasharray="4 4"/>
<rect x="1820.8" y="2257.1" width="159.7" height="271.3" fill="#fff" stroke="#222" stroke-width="2.2"/>
<line x1="1825.3" y1="2284.7" x2="1891.5" y2="2284.7" stroke="#ff00ff" stroke-width="9" stroke-linecap="round"/>
<text x="1943.3" y="2296.7" font-size="38" text-anchor="end" stroke="#000" stroke-width="1.2">60</text>
<text x="1955.3" y="2296.7" font-size="38">d</text>
<line x1="1825.3" y1="2328.1" x2="1891.5" y2="2328.1" stroke="#00ffff" stroke-width="9" stroke-linecap="round"/>
<text x="1943.3" y="2340.1" font-size="38" text-anchor="end" stroke="#000" stroke-width="1.2">45</text>
<text x="1955.3" y="2340.1" font-size="38">d</text>
<line x1="1825.3" y1="2371.5" x2="1891.5" y2="2371.5" stroke="#0000ff" stroke-width="9" stroke-linecap="round"/>
<text x="1943.3" y="2383.5" font-size="38" text-anchor="end" stroke="#000" stroke-width="1.2">14</text>
<text x="1955.3" y="2383.5" font-size="38">d</text>
<line x1="1825.3" y1="2414.9" x2="1891.5" y2="2414.9" stroke="#00ff00" stroke-width="9" stroke-linecap="round"/>
<text x="1943.3" y="2426.9" font-size="38" text-anchor="end" stroke="#000" stroke-width="1.2">8</text>
<text x="1955.3" y="2426.9" font-size="38">d</text>
<line x1="1825.3" y1="2458.3" x2="1891.5" y2="2458.3" stroke="#ff0000" stroke-width="9" stroke-linecap="round"/>
<text x="1943.3" y="2470.3" font-size="38" text-anchor="end" stroke="#000" stroke-width="1.2">5</text>
<text x="1955.3" y="2470.3" font-size="38">d</text>
<line x1="1825.3" y1="2501.7" x2="1891.5" y2="2501.7" stroke="#000" stroke-width="9" stroke-linecap="round"/>
<text x="1943.3" y="2513.7" font-size="38" text-anchor="end" stroke="#000" stroke-width="1.2">0</text>
<text x="1955.3" y="2513.7" font-size="38">d</text>
<rect x="1375.4" y="2025" width="826.7" height="665.9" fill="none" stroke="#262626" stroke-width="2.6"/>
<line x1="1363.4" y1="2683" x2="1375.4" y2="2683" stroke="#262626" stroke-width="2.2"/>
<text font-size="42" text-anchor="end" fill="#2a2a2a" transform="translate(1349.1 2692.1) scale(1 1.05)">0</text>
<line x1="1369.4" y1="2641.9" x2="1375.4" y2="2641.9" stroke="#262626" stroke-width="2.2"/>
<line x1="1363.4" y1="2600.8" x2="1375.4" y2="2600.8" stroke="#262626" stroke-width="2.2"/>
<text font-size="42" text-anchor="end" fill="#2a2a2a" transform="translate(1349.1 2609.9) scale(1 1.05)">10k</text>
<line x1="1369.4" y1="2559.7" x2="1375.4" y2="2559.7" stroke="#262626" stroke-width="2.2"/>
<line x1="1363.4" y1="2518.6" x2="1375.4" y2="2518.6" stroke="#262626" stroke-width="2.2"/>
<text font-size="42" text-anchor="end" fill="#2a2a2a" transform="translate(1349.1 2527.7) scale(1 1.05)">20k</text>
<line x1="1369.4" y1="2477.5" x2="1375.4" y2="2477.5" stroke="#262626" stroke-width="2.2"/>
<line x1="1363.4" y1="2436.4" x2="1375.4" y2="2436.4" stroke="#262626" stroke-width="2.2"/>
<text font-size="42" text-anchor="end" fill="#2a2a2a" transform="translate(1349.1 2445.5) scale(1 1.05)">30k</text>
<line x1="1369.4" y1="2395.3" x2="1375.4" y2="2395.3" stroke="#262626" stroke-width="2.2"/>
<line x1="1363.4" y1="2354.2" x2="1375.4" y2="2354.2" stroke="#262626" stroke-width="2.2"/>
<text font-size="42" text-anchor="end" fill="#2a2a2a" transform="translate(1349.1 2363.3) scale(1 1.05)">40k</text>
<line x1="1369.4" y1="2313.1" x2="1375.4" y2="2313.1" stroke="#262626" stroke-width="2.2"/>
<line x1="1363.4" y1="2272" x2="1375.4" y2="2272" stroke="#262626" stroke-width="2.2"/>
<text font-size="42" text-anchor="end" fill="#2a2a2a" transform="translate(1349.1 2281.1) scale(1 1.05)">50k</text>
<line x1="1369.4" y1="2230.9" x2="1375.4" y2="2230.9" stroke="#262626" stroke-width="2.2"/>
<line x1="1363.4" y1="2189.8" x2="1375.4" y2="2189.8" stroke="#262626" stroke-width="2.2"/>
<text font-size="42" text-anchor="end" fill="#2a2a2a" transform="translate(1349.1 2198.9) scale(1 1.05)">60k</text>
<line x1="1369.4" y1="2148.7" x2="1375.4" y2="2148.7" stroke="#262626" stroke-width="2.2"/>
<line x1="1363.4" y1="2107.6" x2="1375.4" y2="2107.6" stroke="#262626" stroke-width="2.2"/>
<text font-size="42" text-anchor="end" fill="#2a2a2a" transform="translate(1349.1 2116.7) scale(1 1.05)">70k</text>
<line x1="1369.4" y1="2066.5" x2="1375.4" y2="2066.5" stroke="#262626" stroke-width="2.2"/>
<line x1="1363.4" y1="2025.4" x2="1375.4" y2="2025.4" stroke="#262626" stroke-width="2.2"/>
<text font-size="42" text-anchor="end" fill="#2a2a2a" transform="translate(1349.1 2034.5) scale(1 1.05)">80k</text>
<line x1="1375.4" y1="2690.9" x2="1375.4" y2="2701.9" stroke="#262626" stroke-width="2.4"/>
<text x="1375.4" y="2747.4" font-size="45.5" text-anchor="middle" fill="#2a2a2a">5</text>
<line x1="1458.1" y1="2690.9" x2="1458.1" y2="2695.9" stroke="#262626" stroke-width="2.4"/>
<line x1="1540.7" y1="2690.9" x2="1540.7" y2="2701.9" stroke="#262626" stroke-width="2.4"/>
<text x="1540.7" y="2747.4" font-size="45.5" text-anchor="middle" fill="#2a2a2a">10</text>
<line x1="1623.4" y1="2690.9" x2="1623.4" y2="2695.9" stroke="#262626" stroke-width="2.4"/>
<line x1="1706.1" y1="2690.9" x2="1706.1" y2="2701.9" stroke="#262626" stroke-width="2.4"/>
<text x="1706.1" y="2747.4" font-size="45.5" text-anchor="middle" fill="#2a2a2a">15</text>
<line x1="1788.8" y1="2690.9" x2="1788.8" y2="2695.9" stroke="#262626" stroke-width="2.4"/>
<line x1="1871.4" y1="2690.9" x2="1871.4" y2="2701.9" stroke="#262626" stroke-width="2.4"/>
<text x="1871.4" y="2747.4" font-size="45.5" text-anchor="middle" fill="#2a2a2a">20</text>
<line x1="1954.1" y1="2690.9" x2="1954.1" y2="2695.9" stroke="#262626" stroke-width="2.4"/>
<line x1="2036.8" y1="2690.9" x2="2036.8" y2="2701.9" stroke="#262626" stroke-width="2.4"/>
<text x="2036.8" y="2747.4" font-size="45.5" text-anchor="middle" fill="#2a2a2a">25</text>
<line x1="2119.4" y1="2690.9" x2="2119.4" y2="2695.9" stroke="#262626" stroke-width="2.4"/>
<line x1="2202.1" y1="2690.9" x2="2202.1" y2="2701.9" stroke="#262626" stroke-width="2.4"/>
<text x="2202.1" y="2747.4" font-size="45.5" text-anchor="middle" fill="#2a2a2a">30</text>
<text x="1601.4" y="2113.9" font-size="42" text-anchor="middle">δ</text>
<text font-size="45" text-anchor="middle" transform="translate(1688.6 2087) rotate(-90) scale(1 1.03)">(111)</text>
<text x="1628" y="2268" font-size="30" text-anchor="middle" fill="#333">*</text>
<text x="2085.7" y="2107" font-size="37" text-anchor="middle">#</text>
<text font-size="45" text-anchor="middle" transform="translate(2157.8 2087.3) rotate(-90) scale(1 1.02)">(202)</text>
<text font-size="49.6" text-anchor="middle" fill="#2a2a2a" transform="translate(1236.7 2340.8) rotate(-90)">Intensity (a.u.)</text>
<text x="1786.9" y="2820.5" font-size="47.5" text-anchor="middle" fill="#2a2a2a" letter-spacing="0.3">2 Theta (°)</text>
</svg>
</body></html>
